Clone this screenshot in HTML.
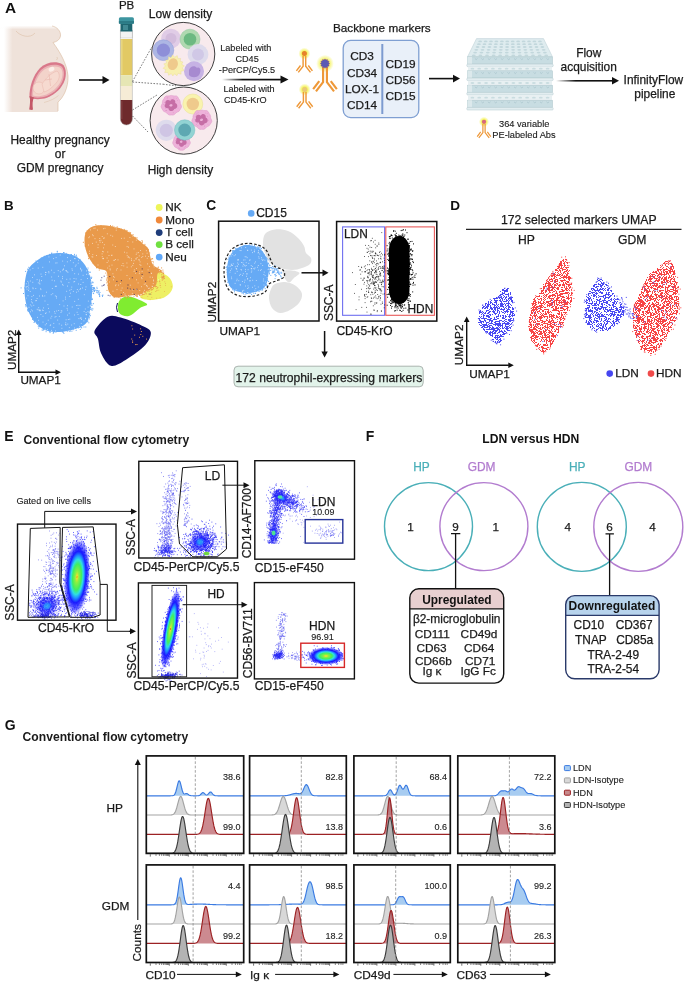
<!DOCTYPE html>
<html><head><meta charset="utf-8"><title>Figure</title>
<style>html,body{margin:0;padding:0;background:#fff;}body{width:685px;height:982px;overflow:hidden;font-family:"Liberation Sans",sans-serif;}svg{display:block;will-change:transform;}</style>
</head><body>
<svg width="685" height="982" viewBox="0 0 685 982" font-family="Liberation Sans, sans-serif">
<text x="5" y="13.2" font-size="15.42" font-weight="bold" fill="#111">A</text>
<defs>
<linearGradient id="bodyL" x1="0" x2="1" y1="0" y2="0"><stop offset="0" stop-color="#fff"/><stop offset="0.13" stop-color="#efe2da"/><stop offset="1" stop-color="#efe2da"/></linearGradient>
<linearGradient id="bodyB" x1="0" x2="0" y1="0" y2="1"><stop offset="0" stop-color="#fff" stop-opacity="0"/><stop offset="0.78" stop-color="#fff" stop-opacity="0"/><stop offset="1" stop-color="#fff" stop-opacity="1"/></linearGradient>
<linearGradient id="bodyT" x1="0" x2="0" y1="0" y2="1"><stop offset="0" stop-color="#fff" stop-opacity="1"/><stop offset="1" stop-color="#fff" stop-opacity="0"/></linearGradient>
<linearGradient id="fadeArrow" x1="0" x2="1" y1="0" y2="0"><stop offset="0" stop-color="#111" stop-opacity="0"/><stop offset="0.35" stop-color="#111" stop-opacity="1"/><stop offset="1" stop-color="#111"/></linearGradient>
<radialGradient id="glow"><stop offset="0.35" stop-color="#f2f23a" stop-opacity="1"/><stop offset="1" stop-color="#f4f04a" stop-opacity="0"/></radialGradient>
</defs>
<path d="M4,26 L52,26 C57,27 61,31 60.5,36 C60,40 56,42 53,42.5 C60,52 67,64 68,76 C68.5,88 63,98 58,102 L58,112 L4,112 Z" fill="url(#bodyL)"/>
<rect x="0" y="25.5" width="62" height="4" fill="url(#bodyT)"/>
<path d="M52,26 C57,27 61,31 60.5,36 C60,40 56,42 53,42.5 C60,52 67,64 68,76 C68.5,88 63,98 58,102 L58,111" fill="none" stroke="#d9b89c" stroke-width="0.6"/>
<path d="M16,31 C20,36 30,39 35,33" fill="none" stroke="#d9b89c" stroke-width="0.5"/>
<path d="M57,57 q1,2 -0.5,3" fill="none" stroke="#d9b89c" stroke-width="0.5"/>
<path d="M29.5,97.5 C29,88 33,75 40,68 C46,62 56,61 62,64 C66.5,67 66.5,75 64.8,80 C62,88 56,94 47,97.8 C40,100 33,99.5 29.5,97.5 Z" fill="#d9788a"/>
<path d="M31.5,96.5 C31.5,88 35,76 41,70 C46.5,64.5 55.5,63.5 60.8,66 C64.5,68.5 64.5,75 63,79.5 C60.5,87 55,92.5 47,96 C40.5,98.2 34.5,98 31.5,96.5 Z" fill="#eab0b4"/>
<path d="M33,95.5 C33,88 36.5,77 42,71.5 C47,66.5 55,65.5 59.8,67.5 C63,69.5 63,75 61.6,79 C59.2,86 54,91 46.5,94.5 C40.5,96.6 35.5,96.6 33,95.5 Z" fill="#f3d3ca"/>
<circle cx="39" cy="88" r="6" fill="#f6dad0" stroke="#e9b6ac" stroke-width="0.5"/>
<path d="M42,84 C46,78 51,73 57,71 C60,73 60,78 57,82 C53,87 48,91 44,92 Z" fill="#f6dad0" stroke="#e9b6ac" stroke-width="0.5"/>
<path d="M49,74 L50.5,86 M45,80 L52,79" fill="none" stroke="#e9b6ac" stroke-width="0.6"/>
<ellipse cx="51.5" cy="69.3" rx="3" ry="2.2" fill="#fbeee8" transform="rotate(-25 51.5 69.3)"/>
<path d="M29.5,96 C30.5,100 30,105 29.2,109.5 L31.8,110 L33,109.5 C32.2,105 32.5,100 34,97.5 Z" fill="#c45868"/>
<path d="M44,102.5 C50,101 55,98.5 58.5,95.5" fill="none" stroke="#dcc0a8" stroke-width="0.5"/>
<path d="M0,104 L70,104 L70,114 L0,114Z" fill="url(#bodyB)"/>
<rect x="0" y="104" width="70" height="10" fill="url(#bodyB)"/>
<text x="60.1" y="144.0" font-size="11.92" text-anchor="middle" fill="#1a1a1a" stroke="#1a1a1a" stroke-width="0.25">Healthy pregnancy</text>
<text x="60.1" y="158.3" font-size="11.92" text-anchor="middle" fill="#1a1a1a" stroke="#1a1a1a" stroke-width="0.25">or</text>
<text x="60.1" y="172.3" font-size="11.92" text-anchor="middle" fill="#1a1a1a" stroke="#1a1a1a" stroke-width="0.25">GDM pregnancy</text>
<line x1="79.0" y1="80.0" x2="103.0" y2="80.0" stroke="#111" stroke-width="1.6"/><path d="M109.5,80.0L102.5,84.0L102.5,76.0Z" fill="#111"/>
<text x="126.6" y="9.3" font-size="11.51" text-anchor="middle" fill="#1a1a1a" stroke="#1a1a1a" stroke-width="0.25">PB</text>
<rect x="120.2" y="30" width="12.4" height="8" fill="#f3f3f3" stroke="#bbb" stroke-width="0.4"/>
<rect x="120.4" y="39" width="12" height="36.2" fill="#e2c964"/>
<rect x="121.3" y="39.5" width="1.1" height="35" fill="#ecdc8c"/>
<rect x="120.4" y="75.2" width="12" height="10.8" fill="#e6e6b4"/>
<rect x="120.4" y="86" width="12" height="14" fill="#f6ecd6"/>
<path d="M120.4,100 L132.4,100 L132.4,119 A6,6 0 0 1 120.4,119 Z" fill="#6e2a2c"/>
<rect x="121.5" y="101" width="0.8" height="18" fill="#8c4a4c"/>
<path d="M120.4,30 L120.4,119 A6,6 0 0 0 132.4,119 L132.4,30" fill="none" stroke="#a9a9a9" stroke-width="0.5"/>
<rect x="120.5" y="22" width="11.8" height="9.5" fill="#1f6670"/>
<rect x="123" y="25" width="5" height="5" fill="#4a949c" opacity="0.8"/>
<rect x="118.9" y="17.2" width="15" height="6.5" rx="1.5" fill="#3d95a0"/>
<rect x="118.9" y="21" width="15" height="2.7" fill="#2c7b86"/>
<line x1="132.5" y1="81.5" x2="151.8" y2="47" stroke="#444" stroke-width="0.7" stroke-dasharray="1.6,1.4"/>
<line x1="132.5" y1="82" x2="163" y2="84.2" stroke="#444" stroke-width="0.7" stroke-dasharray="1.6,1.4"/>
<line x1="132.5" y1="110" x2="157" y2="95" stroke="#444" stroke-width="0.7" stroke-dasharray="1.6,1.4"/>
<line x1="132.5" y1="116" x2="148" y2="132" stroke="#444" stroke-width="0.7" stroke-dasharray="1.6,1.4"/>
<line x1="163" y1="84.2" x2="176" y2="85.8" stroke="#444" stroke-width="0.7" stroke-dasharray="1.6,1.4"/>
<circle cx="183.2" cy="54" r="31.6" fill="#f8eaed" stroke="#2a2a2a" stroke-width="0.9"/>
<circle cx="183.7" cy="120.6" r="33.6" fill="#f8eaed" stroke="#2a2a2a" stroke-width="0.9"/>
<circle cx="171" cy="38.5" r="9.8" fill="#e0cce6"/><circle cx="171" cy="38.5" r="5.5" fill="#d3bcdc"/>
<circle cx="190" cy="39.2" r="10" fill="#afd9b0" stroke="#8cc79a" stroke-width="0.5"/><circle cx="190" cy="39.2" r="6.3" fill="#6cb982"/>
<circle cx="163.4" cy="50.2" r="10.4" fill="#adb6e4" stroke="#8d9bd8" stroke-width="0.5"/><circle cx="163.4" cy="50.2" r="6.6" fill="#8e8fd8"/>
<circle cx="198" cy="54.5" r="10.4" fill="#dedbec"/><circle cx="198" cy="54.5" r="6" fill="#d0c8e6"/>
<path d="M184.4,66.0 L182.3,67.8 L184.0,70.6 L181.0,71.2 L181.1,74.2 L178.0,73.3 L177.0,75.7 L174.6,73.9 L172.8,75.9 L171.3,73.7 L168.5,75.2 L168.0,72.5 L164.7,72.6 L165.7,69.6 L163.1,68.3 L165.4,66.0 L163.8,63.9 L166.6,62.8 L165.7,60.1 L168.4,60.0 L168.5,56.8 L171.1,57.7 L172.6,54.9 L174.7,57.2 L177.2,55.6 L178.0,58.7 L180.6,58.4 L180.2,61.3 L182.9,61.9 L181.7,64.3Z" fill="#f8f0b0" stroke="#e8d890" stroke-width="0.4"/>
<ellipse cx="172.8" cy="64.2" rx="5" ry="6" fill="#efca8c" transform="rotate(20 172.8 64.2)"/>
<circle cx="194" cy="71.3" r="10" fill="#c6b2e4"/>
<path d="M189,70 C190,66 195,65 197,68 C200,66 202,71 199,75 C197,78 191,78 189,75 Z" fill="#a78ad0"/>
<path d="M181.1,105.0 L181.6,106.8 L180.8,108.5 L179.9,109.9 L178.9,111.4 L177.3,112.1 L175.9,112.9 L174.7,114.3 L173.1,115.1 L171.3,115.0 L169.5,115.1 L167.9,114.3 L166.7,112.9 L165.3,112.1 L163.7,111.4 L162.7,109.9 L161.8,108.5 L161.0,106.8 L161.5,105.0 L162.3,103.4 L162.4,101.7 L162.9,100.1 L163.9,98.8 L164.7,97.1 L166.1,95.9 L168.0,95.9 L169.7,95.8 L171.3,95.4 L172.9,95.8 L174.6,95.9 L176.5,95.9 L177.9,97.1 L178.7,98.8 L179.7,100.1 L180.2,101.7 L180.3,103.4Z" fill="#eeb2da" stroke="#dc96c6" stroke-width="0.5"/><circle cx="171.3" cy="100.3" r="0.45" fill="#d890c0"/><circle cx="172.9" cy="102.6" r="0.45" fill="#d890c0"/><circle cx="163.9" cy="104.5" r="0.45" fill="#d890c0"/><circle cx="178.0" cy="108.1" r="0.45" fill="#d890c0"/><circle cx="164.6" cy="102.5" r="0.45" fill="#d890c0"/><circle cx="173.2" cy="112.8" r="0.45" fill="#d890c0"/><circle cx="169.2" cy="104.4" r="0.45" fill="#d890c0"/><circle cx="171.5" cy="108.0" r="0.45" fill="#d890c0"/><circle cx="173.9" cy="98.0" r="0.45" fill="#d890c0"/><circle cx="167.8" cy="97.7" r="0.45" fill="#d890c0"/><circle cx="165.6" cy="110.4" r="0.45" fill="#d890c0"/><circle cx="175.8" cy="106.4" r="0.45" fill="#d890c0"/><circle cx="174.0" cy="102.0" r="0.45" fill="#d890c0"/><circle cx="171.5" cy="102.1" r="0.45" fill="#d890c0"/><circle cx="176.3" cy="98.6" r="0.45" fill="#d890c0"/><circle cx="172.1" cy="99.9" r="0.45" fill="#d890c0"/><circle cx="166.7" cy="110.3" r="0.45" fill="#d890c0"/><circle cx="172.1" cy="104.5" r="0.45" fill="#d890c0"/><circle cx="171.0" cy="99.2" r="0.45" fill="#d890c0"/><circle cx="169.0" cy="108.8" r="0.45" fill="#d890c0"/><circle cx="172.7" cy="100.2" r="0.45" fill="#d890c0"/><circle cx="167.1" cy="98.1" r="0.45" fill="#d890c0"/><circle cx="176.0" cy="106.5" r="0.45" fill="#d890c0"/><circle cx="170.8" cy="109.8" r="0.45" fill="#d890c0"/><circle cx="167.8" cy="100.1" r="0.45" fill="#d890c0"/><circle cx="170.2" cy="101.8" r="0.45" fill="#d890c0"/><circle cx="165.8" cy="108.6" r="0.45" fill="#d890c0"/><circle cx="174.0" cy="104.9" r="0.45" fill="#d890c0"/><circle cx="166.6" cy="110.5" r="0.45" fill="#d890c0"/><circle cx="177.6" cy="100.6" r="0.45" fill="#d890c0"/><circle cx="166.9" cy="102.1" r="0.45" fill="#d890c0"/><g transform="translate(171.3,105) scale(0.98)"><path d="M-6,-1 C-7,-5 -3,-6 -1,-4 C0,-7 5,-6 4,-2 C7,-1 7,4 3,4 C2,7 -3,7 -3,3 C-6,4 -8,1 -6,-1Z M-2,0 C0,-2 2,-1 1,1 C0,2 -2,2 -2,0Z" fill="#c66ea6" fill-rule="evenodd"/></g>
<circle cx="192.8" cy="104" r="10" fill="#f9f3ae" stroke="#e8e090" stroke-width="0.5"/><circle cx="192.8" cy="104" r="6.2" fill="#efca8c"/>
<path d="M211.4,119.5 L211.9,121.3 L211.1,122.9 L210.2,124.3 L209.2,125.7 L207.6,126.5 L206.3,127.2 L205.1,128.7 L203.5,129.4 L201.8,129.3 L200.1,129.4 L198.5,128.7 L197.3,127.2 L196.0,126.5 L194.4,125.7 L193.4,124.3 L192.5,122.9 L191.7,121.3 L192.2,119.5 L193.0,117.9 L193.0,116.3 L193.6,114.7 L194.5,113.4 L195.3,111.8 L196.7,110.6 L198.6,110.6 L200.2,110.4 L201.8,110.1 L203.4,110.4 L205.0,110.6 L206.9,110.6 L208.3,111.8 L209.1,113.4 L210.0,114.7 L210.6,116.3 L210.6,117.9Z" fill="#eeb2da" stroke="#dc96c6" stroke-width="0.5"/><circle cx="198.1" cy="112.4" r="0.45" fill="#d890c0"/><circle cx="208.6" cy="120.3" r="0.45" fill="#d890c0"/><circle cx="199.4" cy="121.6" r="0.45" fill="#d890c0"/><circle cx="200.8" cy="116.8" r="0.45" fill="#d890c0"/><circle cx="198.9" cy="121.7" r="0.45" fill="#d890c0"/><circle cx="205.6" cy="117.2" r="0.45" fill="#d890c0"/><circle cx="195.2" cy="116.7" r="0.45" fill="#d890c0"/><circle cx="200.3" cy="117.9" r="0.45" fill="#d890c0"/><circle cx="197.9" cy="125.8" r="0.45" fill="#d890c0"/><circle cx="207.1" cy="113.6" r="0.45" fill="#d890c0"/><circle cx="205.5" cy="113.1" r="0.45" fill="#d890c0"/><circle cx="202.5" cy="120.4" r="0.45" fill="#d890c0"/><circle cx="204.3" cy="126.6" r="0.45" fill="#d890c0"/><circle cx="204.8" cy="125.8" r="0.45" fill="#d890c0"/><circle cx="206.1" cy="122.6" r="0.45" fill="#d890c0"/><circle cx="196.4" cy="124.2" r="0.45" fill="#d890c0"/><circle cx="203.7" cy="122.3" r="0.45" fill="#d890c0"/><circle cx="196.3" cy="114.0" r="0.45" fill="#d890c0"/><circle cx="200.9" cy="119.0" r="0.45" fill="#d890c0"/><circle cx="207.9" cy="124.1" r="0.45" fill="#d890c0"/><circle cx="205.8" cy="122.9" r="0.45" fill="#d890c0"/><circle cx="199.6" cy="123.5" r="0.45" fill="#d890c0"/><circle cx="196.6" cy="115.9" r="0.45" fill="#d890c0"/><circle cx="196.3" cy="115.6" r="0.45" fill="#d890c0"/><circle cx="197.9" cy="113.9" r="0.45" fill="#d890c0"/><circle cx="199.6" cy="117.8" r="0.45" fill="#d890c0"/><circle cx="195.1" cy="119.5" r="0.45" fill="#d890c0"/><circle cx="207.5" cy="116.2" r="0.45" fill="#d890c0"/><circle cx="203.9" cy="121.1" r="0.45" fill="#d890c0"/><circle cx="196.6" cy="121.1" r="0.45" fill="#d890c0"/><circle cx="201.8" cy="115.5" r="0.45" fill="#d890c0"/><circle cx="195.3" cy="121.4" r="0.45" fill="#d890c0"/><circle cx="203.5" cy="117.3" r="0.45" fill="#d890c0"/><circle cx="197.7" cy="123.1" r="0.45" fill="#d890c0"/><g transform="translate(201.8,119.5) scale(0.96)"><path d="M-6,-1 C-7,-5 -3,-6 -1,-4 C0,-7 5,-6 4,-2 C7,-1 7,4 3,4 C2,7 -3,7 -3,3 C-6,4 -8,1 -6,-1Z M-2,0 C0,-2 2,-1 1,1 C0,2 -2,2 -2,0Z" fill="#c66ea6" fill-rule="evenodd"/></g>
<path d="M190.0,141.5 L190.4,143.1 L189.7,144.5 L188.9,145.8 L188.1,147.0 L186.7,147.7 L185.5,148.4 L184.4,149.6 L183.0,150.2 L181.5,150.2 L180.0,150.2 L178.6,149.6 L177.5,148.4 L176.3,147.7 L174.9,147.0 L174.1,145.8 L173.3,144.5 L172.6,143.1 L173.0,141.5 L173.7,140.1 L173.8,138.7 L174.2,137.3 L175.1,136.1 L175.8,134.6 L177.0,133.6 L178.6,133.6 L180.1,133.5 L181.5,133.2 L182.9,133.5 L184.4,133.6 L186.0,133.6 L187.2,134.6 L187.9,136.1 L188.8,137.3 L189.2,138.7 L189.3,140.1Z" fill="#eeb2da" stroke="#dc96c6" stroke-width="0.5"/><circle cx="178.6" cy="139.7" r="0.45" fill="#d890c0"/><circle cx="185.6" cy="135.9" r="0.45" fill="#d890c0"/><circle cx="180.3" cy="143.1" r="0.45" fill="#d890c0"/><circle cx="182.2" cy="140.9" r="0.45" fill="#d890c0"/><circle cx="183.9" cy="140.5" r="0.45" fill="#d890c0"/><circle cx="181.7" cy="146.3" r="0.45" fill="#d890c0"/><circle cx="178.2" cy="136.6" r="0.45" fill="#d890c0"/><circle cx="188.0" cy="143.1" r="0.45" fill="#d890c0"/><circle cx="176.0" cy="140.3" r="0.45" fill="#d890c0"/><circle cx="179.1" cy="141.9" r="0.45" fill="#d890c0"/><circle cx="182.2" cy="141.5" r="0.45" fill="#d890c0"/><circle cx="176.8" cy="141.7" r="0.45" fill="#d890c0"/><circle cx="185.6" cy="146.4" r="0.45" fill="#d890c0"/><circle cx="185.4" cy="137.0" r="0.45" fill="#d890c0"/><circle cx="183.4" cy="134.9" r="0.45" fill="#d890c0"/><circle cx="185.0" cy="141.0" r="0.45" fill="#d890c0"/><circle cx="178.8" cy="148.0" r="0.45" fill="#d890c0"/><circle cx="183.5" cy="135.3" r="0.45" fill="#d890c0"/><circle cx="179.3" cy="148.2" r="0.45" fill="#d890c0"/><circle cx="184.9" cy="142.0" r="0.45" fill="#d890c0"/><circle cx="179.9" cy="136.3" r="0.45" fill="#d890c0"/><circle cx="176.8" cy="140.4" r="0.45" fill="#d890c0"/><circle cx="186.6" cy="137.5" r="0.45" fill="#d890c0"/><circle cx="184.1" cy="144.4" r="0.45" fill="#d890c0"/><circle cx="184.8" cy="142.1" r="0.45" fill="#d890c0"/><circle cx="182.3" cy="138.6" r="0.45" fill="#d890c0"/><circle cx="185.3" cy="138.2" r="0.45" fill="#d890c0"/><circle cx="180.8" cy="146.5" r="0.45" fill="#d890c0"/><circle cx="182.4" cy="145.1" r="0.45" fill="#d890c0"/><circle cx="175.6" cy="140.6" r="0.45" fill="#d890c0"/><circle cx="182.2" cy="140.2" r="0.45" fill="#d890c0"/><circle cx="185.8" cy="144.7" r="0.45" fill="#d890c0"/><circle cx="184.3" cy="147.9" r="0.45" fill="#d890c0"/><circle cx="185.6" cy="135.8" r="0.45" fill="#d890c0"/><circle cx="181.4" cy="136.9" r="0.45" fill="#d890c0"/><circle cx="186.7" cy="139.6" r="0.45" fill="#d890c0"/><circle cx="176.2" cy="141.6" r="0.45" fill="#d890c0"/><g transform="translate(181.5,141.5) scale(0.85)"><path d="M-6,-1 C-7,-5 -3,-6 -1,-4 C0,-7 5,-6 4,-2 C7,-1 7,4 3,4 C2,7 -3,7 -3,3 C-6,4 -8,1 -6,-1Z M-2,0 C0,-2 2,-1 1,1 C0,2 -2,2 -2,0Z" fill="#c66ea6" fill-rule="evenodd"/></g>
<circle cx="166.3" cy="130.3" r="10.6" fill="#dedbec"/><circle cx="166.3" cy="130.3" r="6.6" fill="#cfc5e4"/>
<circle cx="184.7" cy="130" r="10.2" fill="#92d3d3" stroke="#70bcc0" stroke-width="0.5"/><circle cx="184.7" cy="130" r="6.4" fill="#5ea8b2"/>
<text x="180.6" y="17.9" font-size="12.03" text-anchor="middle" fill="#1a1a1a" stroke="#1a1a1a" stroke-width="0.25">Low density</text>
<text x="180.4" y="174.3" font-size="11.92" text-anchor="middle" fill="#1a1a1a" stroke="#1a1a1a" stroke-width="0.25">High density</text>
<text x="245.8" y="51.4" font-size="9.15" text-anchor="middle" fill="#1a1a1a" stroke="#1a1a1a" stroke-width="0.12">Labeled with</text>
<text x="247.1" y="62.3" font-size="9.15" text-anchor="middle" fill="#1a1a1a" stroke="#1a1a1a" stroke-width="0.12">CD45</text>
<text x="247" y="73" font-size="9.15" text-anchor="middle" fill="#1a1a1a" stroke="#1a1a1a" stroke-width="0.12">-PerCP/Cy5.5</text>
<text x="249" y="92.2" font-size="9.15" text-anchor="middle" fill="#1a1a1a" stroke="#1a1a1a" stroke-width="0.12">Labeled with</text>
<text x="224" y="102.7" font-size="9.15" fill="#1a1a1a" stroke="#1a1a1a" stroke-width="0.12">CD45-KrO</text>
<rect x="222.0" y="78.75" width="59.0" height="1.7" fill="url(#fadeArrow)"/><path d="M288.5,79.6L280.5,83.6L280.5,75.6Z" fill="#111"/>
<g transform="translate(304.4,53.6) scale(1)"><circle cx="0" cy="0" r="6" fill="url(#glow)"/><path d="M-1.3,2.4 L-1.3,12.6 L-6.1,18.8 M1.3,2.4 L1.3,12.6 L6.1,18.8 M-3.9,11.9 L-8,17.3 M3.9,11.9 L8,17.3" fill="none" stroke="#ee9838" stroke-width="1.45"/><circle cx="0" cy="0" r="2.5" fill="#e6822c"/></g>
<g transform="translate(325,63.6) scale(1.48)"><circle cx="0" cy="0" r="6" fill="url(#glow)"/><path d="M-1.3,2.4 L-1.3,12.6 L-6.1,18.8 M1.3,2.4 L1.3,12.6 L6.1,18.8 M-3.9,11.9 L-8,17.3 M3.9,11.9 L8,17.3" fill="none" stroke="#ee9838" stroke-width="1.45"/><path d="M3.20,0.00 L2.41,0.65 L2.77,1.60 L1.77,1.77 L1.60,2.77 L0.65,2.41 L0.00,3.20 L-0.65,2.41 L-1.60,2.77 L-1.77,1.77 L-2.77,1.60 L-2.41,0.65 L-3.20,0.00 L-2.41,-0.65 L-2.77,-1.60 L-1.77,-1.77 L-1.60,-2.77 L-0.65,-2.41 L-0.00,-3.20 L0.65,-2.41 L1.60,-2.77 L1.77,-1.77 L2.77,-1.60 L2.41,-0.65Z" fill="#5a5ab4" stroke="#8a4a8a" stroke-width="0.3"/></g>
<g transform="translate(304.7,89.5) scale(1)"><circle cx="0" cy="0" r="6" fill="url(#glow)"/><path d="M-1.3,2.4 L-1.3,12.6 L-6.1,18.8 M1.3,2.4 L1.3,12.6 L6.1,18.8 M-3.9,11.9 L-8,17.3 M3.9,11.9 L8,17.3" fill="none" stroke="#ee9838" stroke-width="1.45"/><circle cx="0" cy="0" r="2.5" fill="#e9c878"/></g>
<text x="333" y="32.2" font-size="11.72" fill="#1a1a1a" stroke="#1a1a1a" stroke-width="0.25">Backbone markers</text>
<rect x="343.2" y="40.4" width="75.6" height="77.2" rx="7.5" fill="#e9f0f9" stroke="#7f9fd2" stroke-width="1.3"/>
<line x1="382.3" y1="44" x2="382.3" y2="114" stroke="#7d9bd0" stroke-width="2"/>
<text x="362" y="59.8" font-size="11.82" text-anchor="middle" fill="#1a1a1a" stroke="#1a1a1a" stroke-width="0.25">CD3</text>
<text x="362" y="77" font-size="11.82" text-anchor="middle" fill="#1a1a1a" stroke="#1a1a1a" stroke-width="0.25">CD34</text>
<text x="362" y="92.7" font-size="11.82" text-anchor="middle" fill="#1a1a1a" stroke="#1a1a1a" stroke-width="0.25">LOX-1</text>
<text x="362" y="108.6" font-size="11.82" text-anchor="middle" fill="#1a1a1a" stroke="#1a1a1a" stroke-width="0.25">CD14</text>
<text x="400.5" y="67.6" font-size="11.82" text-anchor="middle" fill="#1a1a1a" stroke="#1a1a1a" stroke-width="0.25">CD19</text>
<text x="400.5" y="83.8" font-size="11.82" text-anchor="middle" fill="#1a1a1a" stroke="#1a1a1a" stroke-width="0.25">CD56</text>
<text x="400.5" y="100.2" font-size="11.82" text-anchor="middle" fill="#1a1a1a" stroke="#1a1a1a" stroke-width="0.25">CD15</text>
<line x1="429.0" y1="78.6" x2="453.5" y2="78.6" stroke="#111" stroke-width="1.6"/><path d="M460.0,78.6L453.0,82.4L453.0,74.8Z" fill="#111"/>
<path d="M476.5,38.6 L543.5,38.6 L552.5,56.9 L467.5,56.9Z" fill="#dfecef" stroke="#b8cdd2" stroke-width="0.5"/><ellipse cx="480.1" cy="41.4" rx="1.9" ry="0.9" fill="#c2d7dc"/><ellipse cx="485.6" cy="41.4" rx="1.9" ry="0.9" fill="#c2d7dc"/><ellipse cx="491.0" cy="41.4" rx="1.9" ry="0.9" fill="#c2d7dc"/><ellipse cx="496.4" cy="41.4" rx="1.9" ry="0.9" fill="#c2d7dc"/><ellipse cx="501.9" cy="41.4" rx="1.9" ry="0.9" fill="#c2d7dc"/><ellipse cx="507.3" cy="41.4" rx="1.9" ry="0.9" fill="#c2d7dc"/><ellipse cx="512.7" cy="41.4" rx="1.9" ry="0.9" fill="#c2d7dc"/><ellipse cx="518.1" cy="41.4" rx="1.9" ry="0.9" fill="#c2d7dc"/><ellipse cx="523.6" cy="41.4" rx="1.9" ry="0.9" fill="#c2d7dc"/><ellipse cx="529.0" cy="41.4" rx="1.9" ry="0.9" fill="#c2d7dc"/><ellipse cx="534.4" cy="41.4" rx="1.9" ry="0.9" fill="#c2d7dc"/><ellipse cx="539.9" cy="41.4" rx="1.9" ry="0.9" fill="#c2d7dc"/><ellipse cx="478.9" cy="44.2" rx="1.9" ry="0.9" fill="#c2d7dc"/><ellipse cx="484.5" cy="44.2" rx="1.9" ry="0.9" fill="#c2d7dc"/><ellipse cx="490.2" cy="44.2" rx="1.9" ry="0.9" fill="#c2d7dc"/><ellipse cx="495.9" cy="44.2" rx="1.9" ry="0.9" fill="#c2d7dc"/><ellipse cx="501.5" cy="44.2" rx="1.9" ry="0.9" fill="#c2d7dc"/><ellipse cx="507.2" cy="44.2" rx="1.9" ry="0.9" fill="#c2d7dc"/><ellipse cx="512.8" cy="44.2" rx="1.9" ry="0.9" fill="#c2d7dc"/><ellipse cx="518.5" cy="44.2" rx="1.9" ry="0.9" fill="#c2d7dc"/><ellipse cx="524.1" cy="44.2" rx="1.9" ry="0.9" fill="#c2d7dc"/><ellipse cx="529.8" cy="44.2" rx="1.9" ry="0.9" fill="#c2d7dc"/><ellipse cx="535.5" cy="44.2" rx="1.9" ry="0.9" fill="#c2d7dc"/><ellipse cx="541.1" cy="44.2" rx="1.9" ry="0.9" fill="#c2d7dc"/><ellipse cx="477.6" cy="47.0" rx="1.9" ry="0.9" fill="#c2d7dc"/><ellipse cx="483.5" cy="47.0" rx="1.9" ry="0.9" fill="#c2d7dc"/><ellipse cx="489.4" cy="47.0" rx="1.9" ry="0.9" fill="#c2d7dc"/><ellipse cx="495.3" cy="47.0" rx="1.9" ry="0.9" fill="#c2d7dc"/><ellipse cx="501.2" cy="47.0" rx="1.9" ry="0.9" fill="#c2d7dc"/><ellipse cx="507.1" cy="47.0" rx="1.9" ry="0.9" fill="#c2d7dc"/><ellipse cx="512.9" cy="47.0" rx="1.9" ry="0.9" fill="#c2d7dc"/><ellipse cx="518.8" cy="47.0" rx="1.9" ry="0.9" fill="#c2d7dc"/><ellipse cx="524.7" cy="47.0" rx="1.9" ry="0.9" fill="#c2d7dc"/><ellipse cx="530.6" cy="47.0" rx="1.9" ry="0.9" fill="#c2d7dc"/><ellipse cx="536.5" cy="47.0" rx="1.9" ry="0.9" fill="#c2d7dc"/><ellipse cx="542.4" cy="47.0" rx="1.9" ry="0.9" fill="#c2d7dc"/><ellipse cx="476.3" cy="49.8" rx="1.9" ry="0.9" fill="#c2d7dc"/><ellipse cx="482.5" cy="49.8" rx="1.9" ry="0.9" fill="#c2d7dc"/><ellipse cx="488.6" cy="49.8" rx="1.9" ry="0.9" fill="#c2d7dc"/><ellipse cx="494.7" cy="49.8" rx="1.9" ry="0.9" fill="#c2d7dc"/><ellipse cx="500.8" cy="49.8" rx="1.9" ry="0.9" fill="#c2d7dc"/><ellipse cx="506.9" cy="49.8" rx="1.9" ry="0.9" fill="#c2d7dc"/><ellipse cx="513.1" cy="49.8" rx="1.9" ry="0.9" fill="#c2d7dc"/><ellipse cx="519.2" cy="49.8" rx="1.9" ry="0.9" fill="#c2d7dc"/><ellipse cx="525.3" cy="49.8" rx="1.9" ry="0.9" fill="#c2d7dc"/><ellipse cx="531.4" cy="49.8" rx="1.9" ry="0.9" fill="#c2d7dc"/><ellipse cx="537.5" cy="49.8" rx="1.9" ry="0.9" fill="#c2d7dc"/><ellipse cx="543.7" cy="49.8" rx="1.9" ry="0.9" fill="#c2d7dc"/><ellipse cx="475.1" cy="52.6" rx="1.9" ry="0.9" fill="#c2d7dc"/><ellipse cx="481.4" cy="52.6" rx="1.9" ry="0.9" fill="#c2d7dc"/><ellipse cx="487.8" cy="52.6" rx="1.9" ry="0.9" fill="#c2d7dc"/><ellipse cx="494.1" cy="52.6" rx="1.9" ry="0.9" fill="#c2d7dc"/><ellipse cx="500.5" cy="52.6" rx="1.9" ry="0.9" fill="#c2d7dc"/><ellipse cx="506.8" cy="52.6" rx="1.9" ry="0.9" fill="#c2d7dc"/><ellipse cx="513.2" cy="52.6" rx="1.9" ry="0.9" fill="#c2d7dc"/><ellipse cx="519.5" cy="52.6" rx="1.9" ry="0.9" fill="#c2d7dc"/><ellipse cx="525.9" cy="52.6" rx="1.9" ry="0.9" fill="#c2d7dc"/><ellipse cx="532.2" cy="52.6" rx="1.9" ry="0.9" fill="#c2d7dc"/><ellipse cx="538.6" cy="52.6" rx="1.9" ry="0.9" fill="#c2d7dc"/><ellipse cx="544.9" cy="52.6" rx="1.9" ry="0.9" fill="#c2d7dc"/><ellipse cx="473.8" cy="55.4" rx="1.9" ry="0.9" fill="#c2d7dc"/><ellipse cx="480.4" cy="55.4" rx="1.9" ry="0.9" fill="#c2d7dc"/><ellipse cx="487.0" cy="55.4" rx="1.9" ry="0.9" fill="#c2d7dc"/><ellipse cx="493.6" cy="55.4" rx="1.9" ry="0.9" fill="#c2d7dc"/><ellipse cx="500.1" cy="55.4" rx="1.9" ry="0.9" fill="#c2d7dc"/><ellipse cx="506.7" cy="55.4" rx="1.9" ry="0.9" fill="#c2d7dc"/><ellipse cx="513.3" cy="55.4" rx="1.9" ry="0.9" fill="#c2d7dc"/><ellipse cx="519.9" cy="55.4" rx="1.9" ry="0.9" fill="#c2d7dc"/><ellipse cx="526.4" cy="55.4" rx="1.9" ry="0.9" fill="#c2d7dc"/><ellipse cx="533.0" cy="55.4" rx="1.9" ry="0.9" fill="#c2d7dc"/><ellipse cx="539.6" cy="55.4" rx="1.9" ry="0.9" fill="#c2d7dc"/><ellipse cx="546.2" cy="55.4" rx="1.9" ry="0.9" fill="#c2d7dc"/><rect x="467.5" y="56.9" width="85" height="7.2" fill="#c8dde2" stroke="#a9c4ca" stroke-width="0.5"/><rect x="467.5" y="56.9" width="4.5" height="7.2" fill="#dce9ec"/><path d="M474.9,58.5 q1.3,2.2 2.6,0" fill="none" stroke="#9dbcc4" stroke-width="0.55"/><path d="M481.4,58.5 q1.3,2.2 2.6,0" fill="none" stroke="#9dbcc4" stroke-width="0.55"/><path d="M487.9,58.5 q1.3,2.2 2.6,0" fill="none" stroke="#9dbcc4" stroke-width="0.55"/><path d="M494.4,58.5 q1.3,2.2 2.6,0" fill="none" stroke="#9dbcc4" stroke-width="0.55"/><path d="M500.9,58.5 q1.3,2.2 2.6,0" fill="none" stroke="#9dbcc4" stroke-width="0.55"/><path d="M507.4,58.5 q1.3,2.2 2.6,0" fill="none" stroke="#9dbcc4" stroke-width="0.55"/><path d="M514.0,58.5 q1.3,2.2 2.6,0" fill="none" stroke="#9dbcc4" stroke-width="0.55"/><path d="M520.5,58.5 q1.3,2.2 2.6,0" fill="none" stroke="#9dbcc4" stroke-width="0.55"/><path d="M527.0,58.5 q1.3,2.2 2.6,0" fill="none" stroke="#9dbcc4" stroke-width="0.55"/><path d="M533.5,58.5 q1.3,2.2 2.6,0" fill="none" stroke="#9dbcc4" stroke-width="0.55"/><path d="M540.0,58.5 q1.3,2.2 2.6,0" fill="none" stroke="#9dbcc4" stroke-width="0.55"/><path d="M546.5,58.5 q1.3,2.2 2.6,0" fill="none" stroke="#9dbcc4" stroke-width="0.55"/><rect x="466.8" y="64.1" width="86.4" height="2.6" rx="1" fill="#e2edf0" stroke="#b2c8ce" stroke-width="0.5"/>
<rect x="468" y="66.6" width="84" height="4.200000000000003" fill="#e8f0f2"/><ellipse cx="472.4" cy="68.7" rx="1.9" ry="0.9" fill="#c9dce0"/><ellipse cx="479.2" cy="68.7" rx="1.9" ry="0.9" fill="#c9dce0"/><ellipse cx="486.1" cy="68.7" rx="1.9" ry="0.9" fill="#c9dce0"/><ellipse cx="492.9" cy="68.7" rx="1.9" ry="0.9" fill="#c9dce0"/><ellipse cx="499.8" cy="68.7" rx="1.9" ry="0.9" fill="#c9dce0"/><ellipse cx="506.6" cy="68.7" rx="1.9" ry="0.9" fill="#c9dce0"/><ellipse cx="513.4" cy="68.7" rx="1.9" ry="0.9" fill="#c9dce0"/><ellipse cx="520.2" cy="68.7" rx="1.9" ry="0.9" fill="#c9dce0"/><ellipse cx="527.1" cy="68.7" rx="1.9" ry="0.9" fill="#c9dce0"/><ellipse cx="533.9" cy="68.7" rx="1.9" ry="0.9" fill="#c9dce0"/><ellipse cx="540.8" cy="68.7" rx="1.9" ry="0.9" fill="#c9dce0"/><ellipse cx="547.6" cy="68.7" rx="1.9" ry="0.9" fill="#c9dce0"/><rect x="467.5" y="70.8" width="85" height="7.2" fill="#c8dde2" stroke="#a9c4ca" stroke-width="0.5"/><rect x="467.5" y="70.8" width="4.5" height="7.2" fill="#dce9ec"/><path d="M474.9,72.4 q1.3,2.2 2.6,0" fill="none" stroke="#9dbcc4" stroke-width="0.55"/><path d="M481.4,72.4 q1.3,2.2 2.6,0" fill="none" stroke="#9dbcc4" stroke-width="0.55"/><path d="M487.9,72.4 q1.3,2.2 2.6,0" fill="none" stroke="#9dbcc4" stroke-width="0.55"/><path d="M494.4,72.4 q1.3,2.2 2.6,0" fill="none" stroke="#9dbcc4" stroke-width="0.55"/><path d="M500.9,72.4 q1.3,2.2 2.6,0" fill="none" stroke="#9dbcc4" stroke-width="0.55"/><path d="M507.4,72.4 q1.3,2.2 2.6,0" fill="none" stroke="#9dbcc4" stroke-width="0.55"/><path d="M514.0,72.4 q1.3,2.2 2.6,0" fill="none" stroke="#9dbcc4" stroke-width="0.55"/><path d="M520.5,72.4 q1.3,2.2 2.6,0" fill="none" stroke="#9dbcc4" stroke-width="0.55"/><path d="M527.0,72.4 q1.3,2.2 2.6,0" fill="none" stroke="#9dbcc4" stroke-width="0.55"/><path d="M533.5,72.4 q1.3,2.2 2.6,0" fill="none" stroke="#9dbcc4" stroke-width="0.55"/><path d="M540.0,72.4 q1.3,2.2 2.6,0" fill="none" stroke="#9dbcc4" stroke-width="0.55"/><path d="M546.5,72.4 q1.3,2.2 2.6,0" fill="none" stroke="#9dbcc4" stroke-width="0.55"/><rect x="466.8" y="78.0" width="86.4" height="2.6" rx="1" fill="#e2edf0" stroke="#b2c8ce" stroke-width="0.5"/>
<rect x="468" y="80.8" width="84" height="4.400000000000006" fill="#e8f0f2"/><ellipse cx="472.4" cy="83.0" rx="1.9" ry="0.9" fill="#c9dce0"/><ellipse cx="479.2" cy="83.0" rx="1.9" ry="0.9" fill="#c9dce0"/><ellipse cx="486.1" cy="83.0" rx="1.9" ry="0.9" fill="#c9dce0"/><ellipse cx="492.9" cy="83.0" rx="1.9" ry="0.9" fill="#c9dce0"/><ellipse cx="499.8" cy="83.0" rx="1.9" ry="0.9" fill="#c9dce0"/><ellipse cx="506.6" cy="83.0" rx="1.9" ry="0.9" fill="#c9dce0"/><ellipse cx="513.4" cy="83.0" rx="1.9" ry="0.9" fill="#c9dce0"/><ellipse cx="520.2" cy="83.0" rx="1.9" ry="0.9" fill="#c9dce0"/><ellipse cx="527.1" cy="83.0" rx="1.9" ry="0.9" fill="#c9dce0"/><ellipse cx="533.9" cy="83.0" rx="1.9" ry="0.9" fill="#c9dce0"/><ellipse cx="540.8" cy="83.0" rx="1.9" ry="0.9" fill="#c9dce0"/><ellipse cx="547.6" cy="83.0" rx="1.9" ry="0.9" fill="#c9dce0"/><rect x="467.5" y="85.2" width="85" height="7.2" fill="#c8dde2" stroke="#a9c4ca" stroke-width="0.5"/><rect x="467.5" y="85.2" width="4.5" height="7.2" fill="#dce9ec"/><path d="M474.9,86.8 q1.3,2.2 2.6,0" fill="none" stroke="#9dbcc4" stroke-width="0.55"/><path d="M481.4,86.8 q1.3,2.2 2.6,0" fill="none" stroke="#9dbcc4" stroke-width="0.55"/><path d="M487.9,86.8 q1.3,2.2 2.6,0" fill="none" stroke="#9dbcc4" stroke-width="0.55"/><path d="M494.4,86.8 q1.3,2.2 2.6,0" fill="none" stroke="#9dbcc4" stroke-width="0.55"/><path d="M500.9,86.8 q1.3,2.2 2.6,0" fill="none" stroke="#9dbcc4" stroke-width="0.55"/><path d="M507.4,86.8 q1.3,2.2 2.6,0" fill="none" stroke="#9dbcc4" stroke-width="0.55"/><path d="M514.0,86.8 q1.3,2.2 2.6,0" fill="none" stroke="#9dbcc4" stroke-width="0.55"/><path d="M520.5,86.8 q1.3,2.2 2.6,0" fill="none" stroke="#9dbcc4" stroke-width="0.55"/><path d="M527.0,86.8 q1.3,2.2 2.6,0" fill="none" stroke="#9dbcc4" stroke-width="0.55"/><path d="M533.5,86.8 q1.3,2.2 2.6,0" fill="none" stroke="#9dbcc4" stroke-width="0.55"/><path d="M540.0,86.8 q1.3,2.2 2.6,0" fill="none" stroke="#9dbcc4" stroke-width="0.55"/><path d="M546.5,86.8 q1.3,2.2 2.6,0" fill="none" stroke="#9dbcc4" stroke-width="0.55"/><rect x="466.8" y="92.4" width="86.4" height="2.6" rx="1" fill="#e2edf0" stroke="#b2c8ce" stroke-width="0.5"/>
<rect x="468" y="95.2" width="84" height="5.0" fill="#e8f0f2"/><ellipse cx="472.4" cy="97.7" rx="1.9" ry="0.9" fill="#c9dce0"/><ellipse cx="479.2" cy="97.7" rx="1.9" ry="0.9" fill="#c9dce0"/><ellipse cx="486.1" cy="97.7" rx="1.9" ry="0.9" fill="#c9dce0"/><ellipse cx="492.9" cy="97.7" rx="1.9" ry="0.9" fill="#c9dce0"/><ellipse cx="499.8" cy="97.7" rx="1.9" ry="0.9" fill="#c9dce0"/><ellipse cx="506.6" cy="97.7" rx="1.9" ry="0.9" fill="#c9dce0"/><ellipse cx="513.4" cy="97.7" rx="1.9" ry="0.9" fill="#c9dce0"/><ellipse cx="520.2" cy="97.7" rx="1.9" ry="0.9" fill="#c9dce0"/><ellipse cx="527.1" cy="97.7" rx="1.9" ry="0.9" fill="#c9dce0"/><ellipse cx="533.9" cy="97.7" rx="1.9" ry="0.9" fill="#c9dce0"/><ellipse cx="540.8" cy="97.7" rx="1.9" ry="0.9" fill="#c9dce0"/><ellipse cx="547.6" cy="97.7" rx="1.9" ry="0.9" fill="#c9dce0"/><rect x="467.5" y="100.2" width="85" height="7.2" fill="#c8dde2" stroke="#a9c4ca" stroke-width="0.5"/><rect x="467.5" y="100.2" width="4.5" height="7.2" fill="#dce9ec"/><path d="M474.9,101.8 q1.3,2.2 2.6,0" fill="none" stroke="#9dbcc4" stroke-width="0.55"/><path d="M481.4,101.8 q1.3,2.2 2.6,0" fill="none" stroke="#9dbcc4" stroke-width="0.55"/><path d="M487.9,101.8 q1.3,2.2 2.6,0" fill="none" stroke="#9dbcc4" stroke-width="0.55"/><path d="M494.4,101.8 q1.3,2.2 2.6,0" fill="none" stroke="#9dbcc4" stroke-width="0.55"/><path d="M500.9,101.8 q1.3,2.2 2.6,0" fill="none" stroke="#9dbcc4" stroke-width="0.55"/><path d="M507.4,101.8 q1.3,2.2 2.6,0" fill="none" stroke="#9dbcc4" stroke-width="0.55"/><path d="M514.0,101.8 q1.3,2.2 2.6,0" fill="none" stroke="#9dbcc4" stroke-width="0.55"/><path d="M520.5,101.8 q1.3,2.2 2.6,0" fill="none" stroke="#9dbcc4" stroke-width="0.55"/><path d="M527.0,101.8 q1.3,2.2 2.6,0" fill="none" stroke="#9dbcc4" stroke-width="0.55"/><path d="M533.5,101.8 q1.3,2.2 2.6,0" fill="none" stroke="#9dbcc4" stroke-width="0.55"/><path d="M540.0,101.8 q1.3,2.2 2.6,0" fill="none" stroke="#9dbcc4" stroke-width="0.55"/><path d="M546.5,101.8 q1.3,2.2 2.6,0" fill="none" stroke="#9dbcc4" stroke-width="0.55"/><rect x="466.8" y="107.4" width="86.4" height="2.6" rx="1" fill="#e2edf0" stroke="#b2c8ce" stroke-width="0.5"/>
<g transform="translate(484,121.8) scale(0.85)"><circle cx="0" cy="0" r="6" fill="url(#glow)"/><path d="M-1.3,2.4 L-1.3,12.6 L-6.1,18.8 M1.3,2.4 L1.3,12.6 L6.1,18.8 M-3.9,11.9 L-8,17.3 M3.9,11.9 L8,17.3" fill="none" stroke="#ee9838" stroke-width="1.45"/><circle cx="0" cy="0" r="2.5" fill="#d8677f"/></g>
<text x="524.2" y="127" font-size="9.25" text-anchor="middle" fill="#1a1a1a" stroke="#1a1a1a" stroke-width="0.12">364 variable</text>
<text x="524" y="137.9" font-size="9.25" text-anchor="middle" fill="#1a1a1a" stroke="#1a1a1a" stroke-width="0.12">PE-labeled Abs</text>
<text x="588.7" y="57.1" font-size="11.92" text-anchor="middle" fill="#1a1a1a" stroke="#1a1a1a" stroke-width="0.25">Flow</text>
<text x="588.7" y="71.3" font-size="11.92" text-anchor="middle" fill="#1a1a1a" stroke="#1a1a1a" stroke-width="0.25">acquisition</text>
<rect x="556.0" y="80.00" width="56.5" height="1.6" fill="url(#fadeArrow)"/><path d="M619.0,80.8L612.0,84.6L612.0,77.0Z" fill="#111"/>
<text x="653.4" y="84" font-size="11.92" text-anchor="middle" fill="#1a1a1a" stroke="#1a1a1a" stroke-width="0.25">InfinityFlow</text>
<text x="654.8" y="97.8" font-size="11.92" text-anchor="middle" fill="#1a1a1a" stroke="#1a1a1a" stroke-width="0.25">pipeline</text>
<text x="4.1" y="209.9" font-size="13.36" font-weight="bold" fill="#111">B</text>
<path d="M60.0,253.0C64.7,253.2 70.8,254.0 75.0,256.0C79.2,258.0 82.3,261.0 85.0,265.0C87.7,269.0 89.8,275.0 91.0,280.0C92.2,285.0 92.2,290.0 92.0,295.0C91.8,300.0 90.8,305.5 90.0,310.0C89.2,314.5 89.0,319.0 87.0,322.0C85.0,325.0 82.5,326.3 78.0,328.0C73.5,329.7 65.5,331.7 60.0,332.0C54.5,332.3 49.2,331.7 45.0,330.0C40.8,328.3 37.8,325.3 35.0,322.0C32.2,318.7 29.8,315.0 28.0,310.0C26.2,305.0 24.7,298.3 24.5,292.0C24.3,285.7 25.2,277.0 27.0,272.0C28.8,267.0 31.7,264.8 35.0,262.0C38.3,259.2 42.8,256.5 47.0,255.0C51.2,253.5 55.3,252.8 60.0,253.0Z" fill="#66aaf5"/>
<path d="M86.5,231.3C88.5,228.4 92.0,226.4 96.3,225.6C100.6,224.8 107.8,225.7 112.6,226.4C117.4,227.1 121.5,228.4 125.0,230.0C128.5,231.6 130.9,234.0 133.7,236.2C136.5,238.4 139.6,240.8 142.0,243.0C144.4,245.2 146.7,245.7 148.4,249.2C150.2,252.7 150.3,260.4 152.5,263.9C154.7,267.4 159.7,268.2 161.4,270.4C163.2,272.6 163.6,274.6 163.0,277.0C162.4,279.4 160.4,282.7 158.0,285.0C155.6,287.3 151.4,289.4 148.4,291.0C145.4,292.6 142.4,293.8 140.0,294.5C137.6,295.2 137.7,294.5 133.7,295.0C129.7,295.5 120.0,298.1 115.8,297.4C111.6,296.6 109.8,293.4 108.5,290.5C107.2,287.6 108.1,283.4 107.7,280.1C107.3,276.9 107.9,273.1 106.0,271.0C104.1,268.9 99.3,270.0 96.3,267.5C93.3,265.0 90.0,260.1 88.1,256.0C86.1,251.9 84.9,247.1 84.6,243.0C84.3,238.9 84.5,234.2 86.5,231.3Z" fill="#e99a4b"/>
<path d="M158.0,273.0C159.7,271.3 163.8,273.8 166.0,275.0C168.2,276.2 169.9,278.0 171.0,280.0C172.1,282.0 173.1,284.7 172.8,287.0C172.5,289.3 170.9,292.1 169.0,294.0C167.1,295.9 164.8,297.5 161.4,298.5C158.0,299.5 152.0,300.2 148.4,300.0C144.8,299.8 140.2,298.5 140.0,297.0C139.8,295.5 144.3,293.0 147.0,291.0C149.7,289.0 154.2,288.0 156.0,285.0C157.8,282.0 156.3,274.7 158.0,273.0Z" fill="#eef064"/>
<path d="M119.1,301.3C120.7,298.6 124.3,296.0 128.9,296.4C133.5,296.8 145.0,301.9 146.8,303.8C148.7,305.7 143.0,306.0 140.0,308.0C137.0,310.0 132.4,315.2 128.9,316.0C125.4,316.8 120.7,315.1 119.1,312.7C117.5,310.2 117.5,304.0 119.1,301.3Z" fill="#80ec30"/>
<path d="M94.7,330.6C96.3,326.9 103.4,319.0 107.7,316.8C112.0,314.6 115.0,316.1 120.7,317.6C126.4,319.1 136.9,323.2 141.9,325.7C146.9,328.1 150.3,329.0 150.8,332.3C151.3,335.6 149.3,340.7 145.1,345.3C140.9,349.9 131.3,356.6 125.6,360.0C119.9,363.4 115.0,366.8 110.9,365.7C106.8,364.6 103.4,357.9 101.2,353.4C99.0,348.9 99.0,342.6 97.9,338.8C96.8,335.0 93.1,334.3 94.7,330.6Z" fill="#0b0a5c"/>
<path d="M56.8 251.3h1m-1 .7h1m5.2 .7h1m-.8 .1h1m-.5 .1h1m-13.4 .2h1m-1.4 .3h1m7.7 0h1m5.1 0h1m-4.6 .5h1m-7.1 .2h1m7.3 .1h1m-9 .1h1m-8.2 .1h1m23.9 0h1m-4 .2h1m-22.5 .2h1m19.5 .1h1m-10.4 .2h1m-8.6 .1h1m11.7 0h1m.1 0h1m-.7 0h1m7.9 0h1m-2.6 .2h1m-29.1 .2h1m17.3 0h1m-10 .2h1m9.4 0h1m-20.5 .1h1m2.1 .2h1m20.7 0h1m-5.8 .1h1m1.7 0h1m-26.3 .1h1m27.8 .3h1m-.4 0h1m-30.4 .1h1m4.1 .3h1m26.2 0h1m-2.4 .1h1m.4 .1h1m-36.4 .7h1m31.4 .1h1m-31.4 .1h1m8.9 .2h1m-6.5 .3h1m-5.6 .1h1m33.2 .4h1m-37 .2h1m-2 .1h1m38.7 0h1m-3.7 .1h1m-38.9 .5h1m39 0h1m-39.9 .4h1m-5.5 .6h1m1.3 0h1m3.6 .6h1m38.1 1.5h1m-46.5 .1h1m.8 .1h1m42 .2h1m-46.1 .3h1m-3.3 1h1m-1.9 .8h1m50.4 .2h1m-51.3 .1h1m-2.7 .5h1m50.8 .2h1m-56.4 .7h1m1.8 .3h1m55.4 .5h1m-56.5 .2h1m-2 .2h1m-5 .7h1m59.2 .5h1m-58 .9h1m53.8 .4h1m1.2 0h1m-60.2 .1h1m56.8 0h1m-61.7 .3h1m61.6 .3h1m-60.6 .5h1m59.8 0h1m0 0h1m-5.7 .3h1m-59.3 .6h1m-.5 2.4h1m-.6 0h1m-1.3 .4h1m60.7 .1h1m-4.1 .9h1m3.3 .3h1m-.2 .1h1m-2.8 .6h1m.5 .6h1m-66.2 2.3h1m65.5 1.2h1m-68.3 .3h1m66.7 .4h1m-1.9 .1h1m-63.6 .9h1m-3.6 1.2h1m62.6 .5h1m-.3 0h1m-.4 .2h1m-.2 .1h1m-67 .1h1m-2.2 1.5h1m-5.4 .6h1m2.9 0h1m-1.1 .1h1m68.4 .2h1m-69.5 1.2h1m64.4 .3h1m-.3 .3h1m-1.9 .3h1m-66.5 1.3h1m66.2 0h1m-67.2 .7h1m65.8 .9h1m-70.8 .3h1m69.1 .1h1m-4.4 2h1m-64.1 1.3h1m63.5 1.1h1m-2.2 .1h1m-64.2 .1h1m-2.3 .4h1m65.4 .3h1m-1.6 .5h1m-1 .1h1m-.5 0h1m-65.9 .8h1m60.6 .1h1m-63 1.3h1m2.3 1.1h1m60 .3h1m1.3 .6h1m-2.7 .1h1m-67.2 1h1m-1 .1h1m2.3 0h1m61.7 .2h1m-.7 .3h1m-65.8 .2h1m-1.1 .1h1m-2 1h1m63.4 .9h1m-.9 .2h1m-61.6 .4h1m61 .1h1m0 .6h1m-65.2 .2h1m59.7 0h1m.2 .2h1m-63.9 .1h1m62.5 .3h1m-63.2 .2h1m62.1 .3h1m-65.5 .1h1m1.2 .3h1m-2.5 .2h1m-1 .8h1m.1 0h1m.6 0h1m-1.9 1.1h1m57.7 .9h1m-59.5 .3h1m58.5 0h1m-57.5 .6h1m55.2 0h1m-57.4 .6h1m-2.6 .5h1m.9 0h1m56 .1h1m-1.9 .2h1m-58.9 .2h1m54.3 .1h1m.7 .4h1m-.5 .6h1m-.9 .4h1m-55 .3h1m-3.6 1h1m55.6 0h1m-57.7 .4h1m49.3 .9h1m-49.6 .3h1m-1.1 .1h1m52.7 .4h1m-54.2 .3h1m1.4 .1h1m-3.2 .3h1m50.5 0h1m.3 0h1m-54.5 .8h1m49.5 .2h1m-48.8 .1h1m51 0h1m-5.5 .1h1m-3.8 .1h1m-44.6 .2h1m-1.2 1h1m-.3 0h1m38.6 1.3h1m3.1 .1h1m-1.6 .1h1m-43.2 .1h1m37.9 .3h1m-40.9 .2h1m.2 0h1m1.8 .2h1m-.8 .3h1m-3.4 .1h1m42.9 .1h1m.8 0h1m-6.9 .1h1m-1.8 .1h1m1.1 .3h1m-3.8 .4h1m2.3 0h1m-44 .2h1m4.4 .5h1m-.7 0h1m29.3 0h1m4.6 .8h1m-38 .1h1m2.1 .1h1m-3.4 .1h1m28.2 0h1m-32.1 .3h1m20 .3h1m12.1 0h1m-34.2 .1h1m6.5 0h1m1.5 .2h1m9.6 .1h1m2.1 0h1m-17.5 .1h1m11.7 0h1m-2.6 .1h1m8 0h1m-20.3 .3h1m15.7 0h1m3.2 0h1m-3.1 .2h1m-16.6 .1h1m-9.1 .2h1m2.5 0h1m11.8 0h1m-9 .1h1m7 .1h1m-7.5 .3h1m6.5 .1h1m-14.3 .3h1m2.4 .1h1m-1.3 .5h1m9.7 .2h1" stroke="#66aaf5" stroke-width="1"/>
<path d="M95.3 224.7h1m4.2 .9h1m8.5 0h1m1.2 .5h1m-12.9 .1h1m-5.3 .1h1m13.5 .3h1m-13.7 .1h1m3.2 .2h1m13.7 0h1m-3.6 .3h1m-11.3 .2h1m5.4 .3h1m5.1 .1h1m-15.9 .4h1m-.2 0h1m10.3 .2h1m4 .1h1m-.5 .4h1m.8 .2h1m2 .3h1m-9.9 .3h1m-25.4 .2h1m0 0h1m32.9 .4h1m-5.7 .1h1m4.8 .1h1m-40.9 .4h1m41.2 1.4h1m-41.4 .3h1m40.7 .1h1m-46 .3h1m-.5 .3h1m43.2 .3h1m-44.7 .2h1m42.1 .7h1m2.3 .1h1m-4.3 .8h1m-44.3 .2h1m42.4 0h1m2.1 .4h1m1.3 1.4h1m.9 .5h1m-2.1 .1h1m-50 .7h1m-1.5 .7h1m49.3 .5h1m-51.5 .7h1m54.7 0h1m-57.5 .2h1m-.6 .5h1m52.6 .5h1m1.9 0h1m-3.1 .2h1m-57.9 .3h1m57.7 .2h1m-1.7 .9h1m-57.1 .2h1m58.6 .8h1m-59.2 .2h1m-1 .2h1m-2.5 .3h1m-.4 .9h1m-1.5 .2h1m-.9 0h1m60.9 1.9h1m-1.3 .6h1m-61.4 .1h1m60.3 .3h1m-.6 .5h1m-62.4 .4h1m60.4 .4h1m-61.9 .3h1m61.3 2.3h1m-62.4 .6h1m-.9 2.5h1m-.7 2.1h1m62.5 .4h1m-64.5 .1h1m62.9 .1h1m-2.2 .3h1m-1.6 .7h1m.2 1.7h1m-59.9 .1h1m59.3 .4h1m-60.9 .4h1m-1.2 .8h1m-1 .3h1m-.5 0h1m58.4 .7h1m-56.6 1.6h1m55.6 .6h1m-58.2 .1h1m60.4 .6h1m-62.8 .2h1m.1 .2h1m-2.2 .3h1m60.5 0h1m2.6 .1h1m-63.3 2.1h1m62.6 .1h1m-5.8 .1h1m-51.7 .3h1m52.7 .2h1m.9 1.2h1m-58.2 1.2h1m56.9 0h1m-1.3 .5h1m-.9 .2h1m-2.7 1h1m-55.8 .3h1m55.7 .9h1m-1 .2h1m-2.7 .4h1m.4 .1h1m-.2 .2h1m-2 .4h1m-56.4 .3h1m53.8 0h1m-.6 .2h1m-2.6 .1h1m-55.3 .1h1m56.3 .4h1m-2.4 .4h1m-57.2 .4h1m54.5 .9h1m-56.5 .2h1m-.5 1h1m51.4 .4h1m-52.1 .1h1m-1.9 .3h1m-.1 .6h1m-.3 .1h1m-3.5 .1h1m1.7 1.5h1m-2.8 .8h1m51.5 .2h1m-52.1 .6h1m44.9 0h1m.6 .6h1m-2.1 .1h1m1.3 .7h1m-1.8 1.2h1m-48.6 .1h1m43 0h1m-4.9 .7h1m1.9 .2h1m-1.8 .2h1m-2.9 .1h1m.3 0h1m-45 .5h1m40.3 .2h1m-1.9 .6h1m-39.1 .1h1m1.7 .1h1m36.1 0h1m-39.1 .3h1m-.5 .3h1m31.5 .5h1m-33.8 .2h1m33.3 .1h1m-33.3 .5h1m27.8 0h1m-29.3 .1h1m-4 .2h1m34.5 .3h1m1.6 .1h1m-10.4 .1h1m3.7 .2h1m-8.1 .2h1m4.3 0h1m.5 0h1m-32.2 .4h1m-.9 0h1m3.1 .1h1m21.8 .1h1m1.4 0h1m-3.3 .1h1m-27 .1h1m13 0h1m8.5 0h1m1.9 0h1m-5.4 .1h1m-12.1 .5h1m10.8 0h1m-11.4 .2h1m9.8 0h1m-9.9 .1h1m5.1 0h1m-21.7 .1h1m23.1 0h1m-9.8 .1h1m-14.3 .1h1m9.8 .6h1m-8.3 .1h1m8.8 .2h1m1.8 0h1m-18.2 .1h1m11.2 .4h1m-7 1h1" stroke="#e99a4b" stroke-width="1"/>
<path d="M59.8 255h.8m-12.1 1.9h.8m6.4 .7h.8m10.7 0h.8m6.3 .9h.8m-22.1 .1h.8m20.9 .1h.8m2.6 1.6h.8m-8.8 .3h.8m-8.6 .5h.8m3.8 .7h.8m-18.6 .1h.8m-12.6 .5h.8m34.8 .3h.8m-17.1 .2h.8m-2 .1h.8m21.6 .2h.8m-2.9 1.8h.8m-12.3 .8h.8m9.9 .4h.8m-33.3 1.1h.8m-5.4 .8h.8m41.5 .2h.8m-48.4 .1h.8m38.3 .4h.8m-9.2 .1h.8m16.1 .2h.8m-17.9 .6h.8m-34.1 .2h.8m50.9 0h.8m-20 .2h.8m-11.9 .1h.8m20 .1h.8m-14.9 .3h.8m6.9 0h.8m-.3 .2h.8m14.2 .1h.8m4.3 0h.8m-38.5 .7h.8m17.4 0h.8m-7.5 .2h.8m6.8 .5h.8m-23.1 .1h.8m-.4 .1h.8m7.3 .2h.8m-6 .1h.8m25 .9h.8m-34.5 .4h.8m36.7 0h.8m8.9 .1h.8m-2.4 .1h.8m-42 .4h.8m-11.8 .1h.8m47.9 .5h.8m-25.3 1h.8m-17.6 .2h.8m19.9 .2h.8m-11.6 .3h.8m-20.1 .5h.8m40.8 1h.8m12.8 0h.8m-26 .1h.8m12.9 .3h.8m-6.8 .1h.8m-4.1 .3h.8m-30.5 .3h.8m43.2 0h.8m-42.3 .4h.8m11.7 .2h.8m-11.3 .4h.8m12 .2h.8m-24.9 .2h.8m29.8 .1h.8m-22.3 .1h.8m-12.4 .2h.8m46.1 .1h.8m-1.6 .4h.8m16.2 0h.8m-30.4 .1h.8m-29.3 .3h.8m49.5 .1h.8m-15 .2h.8m-31.4 .3h.8m-10.6 .1h.8m10.4 .1h.8m-14.2 .7h.8m12.8 .2h.8m37.7 0h.8m11.1 .3h.8m-28.7 .1h.8m28.3 0h.8m-11.5 .1h.8m-52.8 .6h.8m33.5 .2h.8m26.5 .7h.8m-23.6 .1h.8m-12.4 .1h.8m-.6 .1h.8m-29.7 .1h.8m27.2 0h.8m-29.9 .2h.8m59 .3h.8m4.5 0h.8m-20.3 .2h.8m-43.9 .1h.8m-3.4 .5h.8m6 .1h.8m48.9 .2h.8m-47.6 .5h.8m15.7 0h.8m27.5 0h.8m-48.3 .2h.8m6.8 0h.8m-12.6 .3h.8m-2.7 .2h.8m43.4 .2h.8m5.3 .1h.8m1.9 0h.8m-39.9 .1h.8m43.8 0h.8m-16.5 .7h.8m-42.1 .2h.8m49 .6h.8m-12.4 .2h.8m5.8 .1h.8m-43.9 .1h.8m15.4 .7h.8m29.4 0h.8m-7 1h.8m-18.4 .5h.8m-2.4 1h.8m32.3 0h.8m7.2 .1h.8m-59.6 .6h.8m8.3 0h.8m-15.4 .3h.8m16 .2h.8m9.7 0h.8m-16.7 .1h.8m2.6 .4h.8m12.8 0h.8m12.6 .1h.8m-38.7 .1h.8m32.9 .5h.8m-9.8 .9h.8m-31.2 .1h.8m10.1 .4h.8m27.7 .6h.8m11.9 .2h.8m-47.5 .3h.8m4.2 1h.8m-1.7 .1h.8m26.6 .2h.8m-18.9 .1h.8m42.5 .1h.8m-14.4 .3h.8m-44 .5h.8m.2 1h.8m14.6 1.7h.8m11 0h.8m-30.2 .3h.8m59.9 .2h.8m-58 .2h.8m43.4 0h.8m1.1 .1h.8m-4 .1h.8m-10.1 .2h.8m22 .1h.8m-59.2 .2h.8m31.4 0h.8m7.4 1h.8m15.1 .1h.8m-59.9 .2h.8m8.9 .4h.8m4 .2h.8m4.3 .5h.8m17.7 0h.8m10.3 .2h.8m6.3 .4h.8m-48.9 .3h.8m-6.7 .6h.8m6.1 0h.8m.9 .1h.8m-.9 .1h.8m1.9 0h.8m24.1 0h.8m-25 .4h.8m14.7 0h.8m-19.5 .1h.8m-.8 .2h.8m20.4 0h.8m-29.6 .1h.8m23.5 .1h.8m4.4 0h.8m21.4 .5h.8m-30.4 .2h.8m32.6 0h.8m-58.2 .1h.8m18 .1h.8m38.9 .2h.8m-12.7 .2h.8m-16.9 .2h.8m24.3 .1h.8m-40.8 .2h.8m22.3 .4h.8m-14.9 .1h.8m-10.5 .2h.8m-5.3 1h.8m36.3 0h.8m7.3 .1h.8m-.3 .1h.8m-13 .3h.8m-7.7 .1h.8m-25.3 1.2h.8m8 0h.8m6.7 .1h.8m-4.1 .1h.8m-1.8 .6h.8m-18.3 .3h.8m42.7 .6h.8m-30.9 .1h.8m29.3 0h.8m-1.5 .1h.8m4.4 .2h.8m-7.4 .2h.8m6 .2h.8m-16.7 .4h.8m-2.3 .3h.8m12.5 0h.8m-16.3 .3h.8m-9.2 .3h.8m-10.3 .1h.8m-10.3 .1h.8m44.4 .6h.8m-41.7 1.2h.8m-8.1 .1h.8m29.3 .6h.8m-12.8 .6h.8m26.6 0h.8m-35.6 .3h.8m27 0h.8m-15.8 .2h.8m7.8 .2h.8m-30.5 .2h.8m26.5 .1h.8m-15.5 .4h.8m-6.3 .1h.8m20.1 .1h.8m4.8 0h.8m-10.8 .2h.8m-12.3 .4h.8m28.5 .8h.8m-26.5 1h.8m14.7 .2h.8m4.3 .4h.8m-13.3 .3h.8m-17.5 .8h.8m1.5 .6h.8m3.1 .7h.8m3.2 .5h.8" stroke="#fff" stroke-width=".8" opacity="0.8"/>
<path d="M114.6 227.6h.8m.5 .4h.8m-22 .1h.8m-2 .2h.8m10.3 0h.8m-2.2 .4h.8m-14 1.2h.8m6.3 .2h.8m17.9 .1h.8m-9.7 3.6h.8m-15.6 1h.8m17.5 .5h.8m-18.4 .4h.8m18.7 .5h.8m19.4 0h.8m-31.5 .3h.8m-13.5 .3h.8m39.6 .7h.8m-41.9 .2h.8m14.5 .1h.8m19.3 .4h.8m-21.2 .2h.8m17 0h.8m-22.6 .1h.8m-5.6 .2h.8m40.5 1.5h.8m-36.2 .1h.8m-2.2 .3h.8m27.6 .9h.8m4.1 .5h.8m-37.4 .1h.8m3.1 .1h.8m1.5 .2h.8m-10.6 1h.8m10.9 1.3h.8m-7 .1h.8m-10.3 .2h.8m23.4 0h.8m1.7 1.5h.8m11 .1h.8m.7 .6h.8m-31.4 .4h.8m4.6 .3h.8m29.8 1h.8m5.7 1.6h.8m5 .2h.8m-57.6 .5h.8m12.2 .2h.8m0 .4h.8m3.7 .2h.8m15.8 .2h.8m13.2 .4h.8m-12.3 .3h.8m9.3 0h.8m9.3 .3h.8m-58.3 .4h.8m11.7 .3h.8m39.9 0h.8m-7.4 .4h.8m-44.2 .3h.8m18.4 .6h.8m-1.1 .2h.8m-16 .1h.8m11.7 0h.8m17.4 .2h.8m11.2 .2h.8m5.4 .3h.8m2.5 .3h.8m-6.7 .1h.8m-41.4 .1h.8m-11 .1h.8m35.9 0h.8m-36.7 .2h.8m34.5 .3h.8m12.8 .1h.8m-5.4 .1h.8m-8.2 .3h.8m-23.4 .2h.8m39.3 .3h.8m-44.4 .1h.8m-1.6 .2h.8m-.4 .1h.8m27.5 .1h.8m3.4 .1h.8m-.1 0h.8m-21.7 .6h.8m22.4 .3h.8m-21.5 .1h.8m20.8 .1h.8m-26.2 .2h.8m-1 .2h.8m16.6 0h.8m1.9 .3h.8m-26.6 .2h.8m31 1h.8m-33.8 .6h.8m19 .5h.8m5.9 .4h.8m-11.4 .1h.8m23.6 .4h.8m-8.3 .7h.8m-42.7 .4h.8m13.2 .1h.8m20 .3h.8m7.3 0h.8m-19.8 .1h.8m1.1 .4h.8m-15.4 .2h.8m39.6 .5h.8m-19.1 .2h.8m22 .1h.8m-27.8 .3h.8m-20.2 .8h.8m27.9 .5h.8m-20 .1h.8m-7.9 .3h.8m-.7 1h.8m23.3 0h.8m13 0h.8m-32.4 .1h.8m3.7 0h.8m37.7 .6h.8m-26.2 .8h.8m7.2 0h.8m19.1 .3h.8m-23.1 .2h.8m11.1 1.3h.8m-16.7 .1h.8m14.8 .2h.8m-12.8 .1h.8m-27.2 .2h.8m13.3 1.7h.8m15.1 .7h.8m-30.1 .2h.8m35.7 .7h.8m-36.7 .2h.8m37.5 0h.8m-11.7 .4h.8m18.4 .9h.8m-19.6 .1h.8m-13.2 .1h.8m-17 1h.8m22.4 0h.8m21 0h.8m-5.7 .2h.8m-.8 .9h.8m-44.8 1.1h.8m27.8 .9h.8m-18.4 .5h.8m31.9 .2h.8m-8.3 .3h.8m-2.3 .3h.8m-29 .6h.8m1.7 .3h.8m11 .1h.8m15.7 .3h.8m-32.1 .2h.8m30.4 .1h.8m4.6 .4h.8m-.5 .3h.8m-11.7 .2h.8m5 0h.8m-26 1.3h.8m26.8 .2h.8m-1.9 .2h.8m-12.8 1h.8m-20.4 .2h.8m12.3 .1h.8m2 .3h.8m-12.6 .3h.8m22.7 0h.8m-5.6 .2h.8m-27.6 .7h.8m29.7 1h.8m-20.7 .3h.8m7.9 .9h.8m-8.1 .6h.8m2.8 1.5h.8m-4.2 .2h.8m.6 .4h.8" stroke="#fff" stroke-width=".8" opacity="0.8"/>
<path d="M158.8 273.7h.8m3.1 2.9h.8m-.6 2.5h.8m-4.5 1.8h.8m-2.8 .7h.8m6.4 .2h.8m-5.5 1.6h.8m4.7 0h.8m-.9 2h.8m5 1.4h.8m-11.4 .6h.8m-2.7 2.8h.8m-2.5 .3h.8m-1.4 .4h.8m-1.7 .6h.8m8.1 0h.8m-13.6 1h.8m-6.1 .7h.8m4.1 1.1h.8m-4.3 2.2h.8m-6.7 .9h.8m9.1 0h.8m7.5 .5h.8m-4.2 .4h.8m-7.4 1.4h.8" stroke="#e99a4b" stroke-width=".8" opacity="0.8"/>
<path d="M89.2 282.8h1m-2 1.5h1m-.5 .2h1m0 .3h1m-.8 1.3h1m-.2 .6h1m-.9 .4h1m4.6 .2h1m-4.6 .2h1m-1 .3h1m-1.8 .1h1m1 0h1m-4.7 .2h1m2.1 .3h1m-.3 .2h1m1.5 0h1m-3.7 .1h1m-1.4 .2h1m-1.7 .1h1m-.5 .1h1m-2.4 .5h1m2.3 .5h1m-3.4 .1h1m0 .3h1m1 .1h1m-2.9 .1h1m2.1 0h1m.5 .1h1m-5.7 .5h1m3.4 0h1m-5.3 .3h1m1.1 .5h1m.4 0h1m1.1 .4h1m-3.7 .4h1m.1 0h1m0 .9h1m-1.3 .6h1m-.9 .2h1m-.5 .5h1m2.2 0h1m-1.6 .3h1m-3.7 .6h1m1.9 .4h1m-3.8 .2h1" stroke="#66aaf5" stroke-width="1"/>
<path d="M117.5,303 q-2,4 0,9" fill="none" stroke="#0b0a5c" stroke-width="1"/>
<path d="M141.7 268.9h1m-6.6 2.5h1m11.6 1.2h1m-8.1 1.8h1m-38.9 1.8h1m4.6 .4h1m-9 1.1h1m29.5 .1h1m-32.3 2.4h1m19.4 .5h1m23.2 .6h1m-29.7 .1h1m-13.7 3.3h1m22.8 .3h1m-25.3 .4h1m-2.6 .5h1m24.6 2.2h1m1.6 1h1m5.6 .1h1m-4.2 .2h1m15.3 4.7h1m-29.7 .3h1m12 0h1m-27.1 .9h1m.8 .5h1" stroke="#0b0a5c" stroke-width="1" opacity="0.7"/>
<path d="M131.4 325.8h1m7.7 3h1m-9 .2h1m7.8 2.5h1m-1.6 3h1m-7.1 .6h1m7.1 1.2h1m-4.3 1h1m-8.8 1.7h1m13.8 .1h1m-14.9 1.9h1m-1 1.4h1m3.4 2.1h1m-2.3 .1h1" stroke="#e99a4b" stroke-width="1"/>
<circle cx="159.2" cy="207.5" r="3.4" fill="#eef55a"/>
<text x="165.2" y="211.1" font-size="11.72" fill="#1a1a1a" stroke="#1a1a1a" stroke-width="0.25">NK</text>
<circle cx="159.2" cy="220" r="3.4" fill="#f0883a"/>
<text x="165.2" y="223.6" font-size="11.72" fill="#1a1a1a" stroke="#1a1a1a" stroke-width="0.25">Mono</text>
<circle cx="159.2" cy="232.6" r="3.4" fill="#1f3d7a"/>
<text x="165.2" y="236.2" font-size="11.72" fill="#1a1a1a" stroke="#1a1a1a" stroke-width="0.25">T cell</text>
<circle cx="159.2" cy="244.6" r="3.4" fill="#70e040"/>
<text x="165.2" y="248.4" font-size="11.72" fill="#1a1a1a" stroke="#1a1a1a" stroke-width="0.25">B cell</text>
<circle cx="159.2" cy="257.1" r="3.4" fill="#60a8f8"/>
<text x="165.2" y="260.8" font-size="11.72" fill="#1a1a1a" stroke="#1a1a1a" stroke-width="0.25">Neu</text>
<line x1="18.7" y1="373.0" x2="18.7" y2="334.5" stroke="#111" stroke-width="1.4"/><path d="M18.7,329.5L21.5,335.0L15.9,335.0Z" fill="#111"/>
<line x1="18.0" y1="372.3" x2="56.0" y2="372.3" stroke="#111" stroke-width="1.4"/><path d="M61.0,372.3L55.5,375.1L55.5,369.5Z" fill="#111"/>
<text x="16" y="370" font-size="11.72" fill="#1a1a1a" stroke="#1a1a1a" stroke-width="0.25" transform="rotate(-90 16 370)">UMAP2</text>
<text x="20.4" y="384.3" font-size="11.72" fill="#1a1a1a" stroke="#1a1a1a" stroke-width="0.25">UMAP1</text>
<text x="206.2" y="210.3" font-size="13.78" font-weight="bold" fill="#111">C</text>
<circle cx="251.2" cy="213.4" r="3.3" fill="#66aaf5"/>
<text x="256.2" y="217.4" font-size="12.03" fill="#1a1a1a" stroke="#1a1a1a" stroke-width="0.25">CD15</text>
<path d="M265.0,234.0C267.0,231.2 271.2,230.0 275.0,229.5C278.8,229.0 284.2,229.6 288.0,231.0C291.8,232.4 295.3,235.5 298.0,238.0C300.7,240.5 302.7,243.5 304.0,246.0C305.3,248.5 304.8,251.0 306.0,253.0C307.2,255.0 310.3,256.2 311.0,258.0C311.7,259.8 311.5,262.3 310.0,264.0C308.5,265.7 305.0,267.0 302.0,268.0C299.0,269.0 295.7,270.0 292.0,270.0C288.3,270.0 283.7,269.2 280.0,268.0C276.3,266.8 272.3,265.2 270.0,263.0C267.7,260.8 267.2,257.8 266.0,255.0C264.8,252.2 263.2,249.5 263.0,246.0C262.8,242.5 263.0,236.8 265.0,234.0Z" fill="#e2e2e2"/>
<path d="M283.0,271.0C284.3,269.9 289.2,270.2 292.0,270.5C294.8,270.8 299.2,271.8 299.5,273.0C299.8,274.2 295.8,276.4 294.0,278.0C292.2,279.6 290.7,282.7 289.0,282.5C287.3,282.3 285.0,278.9 284.0,277.0C283.0,275.1 281.7,272.1 283.0,271.0Z" fill="#e2e2e2"/>
<path d="M275.0,284.0C277.3,282.8 281.5,281.7 285.0,282.0C288.5,282.3 293.2,284.0 296.0,286.0C298.8,288.0 301.5,291.2 302.0,294.0C302.5,296.8 301.0,300.3 299.0,303.0C297.0,305.7 293.2,308.3 290.0,310.0C286.8,311.7 283.0,313.3 280.0,313.0C277.0,312.7 273.8,310.5 272.0,308.0C270.2,305.5 269.2,301.2 269.0,298.0C268.8,294.8 270.0,291.3 271.0,289.0C272.0,286.7 272.7,285.2 275.0,284.0Z" fill="#e2e2e2"/>
<path d="M246.0,245.0C249.7,244.8 254.8,245.8 258.0,247.5C261.2,249.2 263.3,252.2 265.0,255.0C266.7,257.8 267.4,261.0 268.0,264.0C268.6,267.0 268.8,269.5 268.5,273.0C268.2,276.5 267.8,282.0 266.0,285.0C264.2,288.0 261.3,289.7 258.0,291.0C254.7,292.3 250.0,293.2 246.0,293.0C242.0,292.8 237.0,291.8 234.0,290.0C231.0,288.2 229.2,285.7 228.0,282.0C226.8,278.3 226.7,272.3 227.0,268.0C227.3,263.7 228.5,259.2 230.0,256.0C231.5,252.8 233.3,250.8 236.0,249.0C238.7,247.2 242.3,245.2 246.0,245.0Z" fill="#66aaf5"/>
<path d="M245.2 244h1m2.7 .1h1m-10.4 .7h1m11.1 0h1m-8.8 .7h1m9.2 .1h1m3.3 .2h1m-16.1 .4h1m-.7 .5h1m12.8 0h1m-14.4 .1h1m2.3 .5h1m6.7 .1h1m-2.3 .1h1m3.7 0h1m.3 0h1m-11.4 .1h1m-11.1 .1h1m17.1 .1h1m-18.9 .1h1m11.4 .1h1m5.9 0h1m-24.9 .2h1m1 .2h1m23.3 .1h1m-26.5 .1h1m24 .2h1m-5.7 .1h1m.8 .1h1m-6.9 .2h1m6.1 .6h1m-24.5 .4h1m-1.2 .3h1m0 0h1m-1.8 .1h1m-.6 0h1m-4.6 .1h1m.1 0h1m-1 .1h1m25.7 0h1m.6 .7h1m-30.4 .2h1m1.4 0h1m25.7 .5h1m-27.2 .2h1m26.2 .2h1m-28.9 1.6h1m28.2 .1h1m-35.1 1.2h1m32 0h1m.5 .8h1m-34.1 .1h1m32.5 .1h1m-35.9 .6h1m-2 .1h1m36.5 .1h1m-38.5 1.1h1m36.9 .3h1m-.8 0h1m-38 .3h1m-3 .5h1m40.2 .2h1m-3 .2h1m-38.1 .2h1m33.6 .2h1m-36.8 1.1h1m-.4 .6h1m37.7 1h1m-.6 .6h1m-39.9 .1h1m36 0h1m.4 .4h1m-39.5 1h1m38.9 0h1m-40.7 1.2h1m-3.5 .1h1m-1.2 .3h1m-2 .7h1m40.9 0h1m.9 .2h1m-44.1 .3h1m39.6 0h1m1.1 .9h1m-42.3 .4h1m37.1 .2h1m-40.9 .4h1m42.1 .2h1m-40.7 1.9h1m38.2 .2h1m-42.9 .1h1m41.2 1.1h1m-1 .7h1m-42.9 .4h1m42.4 1h1m-4.6 .2h1m-1.8 .4h1m-37.4 1.6h1m-2.7 2.5h1m38.4 .3h1m-.1 1.1h1m-38.9 .7h1m-4 .1h1m.9 .2h1m-.5 1h1m-1.1 .8h1m35.6 .4h1m-36.3 .1h1m34.2 .3h1m-2.1 .2h1m-2.7 .1h1m-35.5 .2h1m.3 .3h1m-.1 0h1m31.9 .1h1m1.2 .1h1m-4.5 .3h1m-33.2 .3h1m31.6 .4h1m-31.7 .3h1m-2.3 .3h1m30.6 .1h1m.1 0h1m-31.2 .2h1m-2.1 .2h1m28.5 .1h1m2 .4h1m-3.5 .2h1m-27.5 .1h1m25.1 .1h1m-27.3 .3h1m23.3 0h1m.6 .2h1m-30.4 .1h1m26.7 .1h1m-1 0h1m-27.1 .3h1m-1 .2h1m26.9 0h1m-6.7 .9h1m.8 0h1m.2 0h1m-11.2 .2h1m-15.7 .4h1m8.4 .4h1m3.6 .5h1m-3.5 .2h1m-1.1 .1h1m2.6 .1h1m-8.4 .1h1m5.5 0h1m4.1 0h1m-7.3 .1h1m2.3 0h1m3.7 0h1m-1 .1h1m-8.9 .1h1m-2.1 .2h1m-3.9 .1h1m7.1 .7h1m-7.5 .4h1" stroke="#66aaf5" stroke-width="1"/>
<path d="M245.3 247.5h.8m-5 .3h.8m14.5 .1h.8m-2.9 2.1h.8m-4.2 .1h.8m-4.5 .2h.8m-.6 .1h.8m-8.5 .1h.8m.2 .1h.8m16.5 .1h.8m-5 .7h.8m-.6 .4h.8m3.4 .6h.8m-7 .2h.8m4.9 .3h.8m.9 1.1h.8m-28.4 .4h.8m2.6 .4h.8m-2.3 .9h.8m-3.8 .4h.8m13.2 .6h.8m.2 .1h.8m11.9 0h.8m1.9 .8h.8m-15.1 .1h.8m11.1 .6h.8m1.9 .9h.8m.5 .5h.8m-25.9 .1h.8m-.2 0h.8m10.7 0h.8m-5.9 .1h.8m-8 .1h.8m5.1 0h.8m20.4 .2h.8m-16 .1h.8m12.2 .2h.8m-7.9 1.4h.8m-14.8 .6h.8m3.8 .2h.8m-4.1 .1h.8m-6 .2h.8m16.2 .2h.8m-6.7 .2h.8m11.3 .3h.8m-28.5 .1h.8m-2.8 .4h.8m6.6 .1h.8m4.1 .1h.8m-12.7 .6h.8m-.6 .2h.8m11.9 0h.8m-12.8 .3h.8m12.9 0h.8m4.2 0h.8m6.3 0h.8m3.6 0h.8m-26.2 .6h.8m4.8 0h.8m1.5 0h.8m-17.1 .1h.8m1 0h.8m5.7 0h.8m14.3 .3h.8m-17.8 .3h.8m21.3 .5h.8m-3.1 .6h.8m-2.1 .5h.8m-18.4 .1h.8m14.5 0h.8m-1.1 .2h.8m-15.7 .1h.8m14.7 0h.8m-20.9 .1h.8m21.8 .1h.8m-18.3 .2h.8m7.8 .2h.8m-5.2 .1h.8m19.4 .1h.8m-13.9 .1h.8m18.8 .1h.8m-26.9 .2h.8m15.9 .2h.8m-28.6 .2h.8m29.3 .1h.8m-9.6 .5h.8m-15.4 .4h.8m7.5 0h.8m17.9 .7h.8m-35 .1h.8m20.5 0h.8m-16.9 1.1h.8m7.3 .4h.8m24.4 0h.8m-22.9 .2h.8m.1 0h.8m-7.4 .5h.8m22.4 .1h.8m-25.2 .8h.8m2.3 .1h.8m21.7 .2h.8m-19.5 .7h.8m-15.8 .8h.8m35 .5h.8m-17.6 .1h.8m-3.5 .8h.8m-16.8 .2h.8m30.9 .3h.8m-16.8 .1h.8m-11.1 .1h.8m7.1 .9h.8m6.9 .2h.8m2.8 .2h.8m-20.3 .2h.8m1.2 0h.8m10.6 0h.8m-1.2 .1h.8m12.7 .2h.8m-21.7 .5h.8m22.1 .4h.8m-21.6 .3h.8m-10.2 1.2h.8m4.3 1.2h.8m23 .4h.8m-24.5 .2h.8m6.9 .7h.8m6 0h.8m-10.1 .1h.8m12 1h.8m-6.7 .3h.8m-4.5 .5h.8m-1.9 .7h.8m7.4 .1h.8m-20.5 1.1h.8m6.9 .6h.8m10.3 0h.8m-13 .5h.8m-1 .6h.8m4.2 1.2h.8m-.1 .4h.8" stroke="#fff" stroke-width=".8" opacity="0.8"/>
<path d="M269.5 265.5h1m4.1 .3h1m-3.6 .8h1m-6.2 .4h1m1.3 .3h1m.7 .3h1m-4.1 .1h1m-.8 0h1m1 0h1m.2 .2h1m.8 .1h1m-7.1 .1h1m-2 .1h1m1.8 .1h1m2.2 0h1m3.8 .1h1m-10.8 .1h1m6.5 0h1m.2 .2h1m-3.9 .1h1m3.8 .2h1m-13.1 .3h1m9.2 0h1m-2.3 .3h1m.9 .2h1m-10.4 .1h1m3.9 .2h1m3.7 0h1m-10.4 .3h1m2 0h1m6.6 0h1m-10.5 .3h1m-.2 0h1m4.5 0h1m-7.6 .2h1m4.5 .2h1m-.7 0h1m2.8 0h1m-12.8 .6h1m1.1 0h1m4.5 0h1m4.2 0h1m-10.7 .1h1m2.4 0h1m4.2 0h1m-4.3 .2h1m5.7 .2h1m-9.5 .1h1m-.1 0h1m3 .1h1m-.4 0h1m-5.5 .3h1m6.6 .2h1m-9.9 .1h1m2.9 0h1m1 0h1m-.5 .1h1m-.1 0h1m.6 .1h1m-13.1 .1h1m8.4 .6h1m.1 .5h1m-5.9 .3h1m-.3 0h1m-.2 .9h1m3.2 .2h1m-5.8 .3h1m4.4 .2h1m-.7 1.6h1m-7.2 .7h1" stroke="#66aaf5" stroke-width="1"/>
<path d="M245.0,243.5C249.3,242.8 254.5,243.9 258.0,245.0C261.5,246.1 264.0,247.8 266.0,250.0C268.0,252.2 268.7,255.3 270.0,258.0C271.3,260.7 271.8,264.0 274.0,266.0C276.2,268.0 281.3,268.2 283.0,270.0C284.7,271.8 285.2,275.2 284.0,277.0C282.8,278.8 278.5,279.8 276.0,281.0C273.5,282.2 270.8,282.2 269.0,284.0C267.2,285.8 267.5,290.0 265.0,292.0C262.5,294.0 258.2,295.3 254.0,296.0C249.8,296.7 244.2,297.0 240.0,296.0C235.8,295.0 231.6,293.0 229.0,290.0C226.4,287.0 225.2,282.7 224.5,278.0C223.8,273.3 223.8,266.8 225.0,262.0C226.2,257.2 228.7,252.1 232.0,249.0C235.3,245.9 240.7,244.2 245.0,243.5Z" fill="none" stroke="#222" stroke-width="1.2" stroke-dasharray="2.6,1.9"/>
<rect x="218.6" y="221.2" width="100.4" height="99.8" fill="none" stroke="#111" stroke-width="1.5"/>
<text x="216" y="322.5" font-size="11.82" fill="#1a1a1a" stroke="#1a1a1a" stroke-width="0.25" transform="rotate(-90 216 322.5)">UMAP2</text>
<text x="219.4" y="335.2" font-size="11.82" fill="#1a1a1a" stroke="#1a1a1a" stroke-width="0.25">UMAP1</text>
<line x1="301.5" y1="272.8" x2="323.0" y2="272.8" stroke="#111" stroke-width="1.5"/><path d="M328.5,272.8L322.5,276.2L322.5,269.4Z" fill="#111"/>
<rect x="342.6" y="226.9" width="42" height="88.4" fill="none" stroke="#6f6ff0" stroke-width="1.1"/>
<rect x="385.8" y="226.9" width="48.6" height="88.4" fill="none" stroke="#e85a5a" stroke-width="1.1"/>
<path d="M403 229.8h1m1 .2h1m-4.2 .2h1m-2.1 .4h1m-8.4 .1h1m-1.3 .5h1m.7 0h1m10.8 1.5h1m-11.7 .6h1m5.5 .6h1m-8.7 .8h1m-4.9 .2h1m10.7 .1h1m.9 0h1m-7 .1h1m2.2 0h1m-11.5 .2h1m-1.4 .2h1m3.3 .1h1m-4.3 .1h1m3.3 0h1m4.9 .2h1m-2.8 .1h1m-1.9 .1h1m-.8 .1h1m3.3 .1h1m-14.9 .3h1m4.6 0h1m-7.5 .1h1m-.6 0h1m8.8 0h1m.7 0h1m-5.3 .1h1m3.6 .1h1m.9 .1h1m-6.3 .4h1m4.4 0h1m-3.3 .1h1m-4.3 .2h1m3.3 0h1m-10.9 .3h1m7.9 0h1m-12.3 .3h1m9.3 0h1m-5.9 .1h1m-6.3 .2h1m13 0h1m-6.7 .3h1m.7 0h1m1.1 0h1m4.9 .1h1m-5.3 .1h1m-7.3 .2h1m9.6 .1h1m-13.3 .1h1m5 .2h1m.8 0h1m-5.5 .1h1m2 .1h1m-9.9 .4h1m9.7 0h1m-5.3 .3h1m4.4 0h1m-7.2 .1h1m-5.3 .1h1m.2 0h1m.9 .1h1m1.3 0h1m-6.5 .3h1m6.5 0h1m-5.9 .1h1m7.3 .1h1m5.8 0h1m-21.1 .1h1m-.7 0h1m3 0h1m3.3 .1h1m8.8 0h1m-10.7 .1h1m-5 .2h1m-1.7 .1h1m2 .2h1m-.6 0h1m2 0h1m-13.6 .1h1m5.1 0h1m.2 0h1m2 0h1m.6 .1h1m-.5 0h1m1.6 0h1m-4.6 .2h1m-3.5 .1h1m-1.8 .1h1m4 0h1m-1.6 .2h1m-9.1 .1h1m2.1 0h1m.8 0h1m4.1 0h1m-10.5 .1h1m13.5 0h1m-21 .1h1m6.1 0h1m.9 .1h1m9.9 0h1m-9.7 .1h1m4.2 0h1m-12.6 .1h1m4.2 0h1m-.7 0h1m-7.9 .2h1m2.9 0h1m-5.2 .1h1m-.8 0h1m20.1 0h1m-22.1 .1h1m-.5 .2h1m.1 0h1m3.7 0h1m1.5 0h1m1.8 0h1m-15 .1h1m13.3 0h1m-.3 0h1m-.7 0h1m-11.3 .1h1m8.2 .1h1m-14 .2h1m5 .1h1m1.8 0h1m-2.2 .1h1m-9.2 .1h1m.1 0h1m7.2 0h1m-6.9 .1h1m2.7 .1h1m6.3 0h1m-14.7 .1h1m10.8 0h1m-1.5 .1h1m-.5 0h1m-8 .1h1m.1 0h1m4.1 0h1m6.3 0h1m-19.4 .1h1m14.1 0h1m-20.2 .1h1m10.5 0h1m-7.3 .1h1m1.9 0h1m.7 0h1m8 0h1m-11.4 .1h1m11.5 0h1m-14.6 .1h1m-1 0h1m1 0h1m.7 0h1m6.6 0h1m-11.1 .2h1m-.7 0h1m7.5 0h1m-3.3 .1h1m1.7 0h1m-.5 0h1m-14.6 .1h1m-.7 0h1m-.4 0h1m5.9 0h1m4 0h1m-9.2 .1h1m4.8 .1h1m.4 .2h1m4.9 0h1m-15.1 .1h1m11.7 0h1m.3 0h1m-5.3 .1h1m-13.2 .1h1m8.7 0h1m-10.4 .1h1m6.9 0h1m1 0h1m-13.2 .1h1m3.5 0h1m3.4 0h1m-.5 0h1m-.6 0h1m-3.3 .1h1m5.6 0h1m-12.3 .1h1m.9 0h1m6.3 .1h1m-12.5 .3h1m2.7 0h1m6.9 0h1m5.3 0h1m-5.1 .1h1m-8 .1h1m4 .1h1m5 0h1m-17.4 .1h1m6.4 0h1m-10.9 .1h1m13.9 0h1m-10.8 .1h1m-5.1 .1h1m3.6 0h1m.6 0h1m-1.7 .1h1m.3 0h1m2.3 0h1m-9 .2h1m6.1 0h1m3.6 0h1m.4 0h1m-.1 0h1m-20.4 .1h1m13.9 0h1m7.5 0h1m-16.9 .1h1m-2.3 .1h1m2.8 0h1m4 0h1m6.1 0h1m-17.4 .1h1m3.6 0h1m3.3 0h1m-13.2 .1h1m-.9 0h1m5.1 0h1m6 0h1m.8 0h1m-7.6 .1h1m-.4 0h1m-1.6 .1h1m-6.2 .1h1m1.7 0h1m6.3 0h1m1.8 0h1m-12 .1h1m1.3 0h1m1 0h1m10.2 0h1m-1.7 .1h1m-17.7 .1h1m.3 0h1m15.4 0h1m-9 .1h1m-10.5 .1h1m2.9 0h1m6.5 0h1m-4.1 .1h1m-12.3 .1h1m5 0h1m-.3 .1h1m0 0h1m5.4 0h1m-1 0h1m-6.8 .1h1m2.8 0h1m.1 0h1m.7 0h1m-8.1 .1h1m13.4 0h1m-17.2 .1h1m-.3 0h1m.7 0h1m5.5 0h1m-19.3 .1h1m8.1 0h1m-.7 0h1m-.3 0h1m-1 0h1m-.4 0h1m2.3 0h1m-.3 0h1m-.8 0h1m-14 .1h1m3.6 0h1m-.7 0h1m5.3 0h1m5.5 0h1m-12.9 .1h1m4.8 0h1m7.9 0h1m-15.6 .1h1m4.1 0h1m4.7 0h1m-12.6 .1h1m-.5 0h1m16.9 0h1m-15.1 .1h1m.1 0h1m6.6 0h1m-.6 0h1m.5 0h1m-15.8 .1h1m2.5 0h1m.3 0h1m4.1 0h1m-.5 0h1m1.1 0h1m-16.4 .1h1m2.1 0h1m11.1 0h1m-10.7 .1h1m.2 .1h1m.4 0h1m.8 0h1m-.8 0h1m2.7 0h1m-8.6 .1h1m2.2 0h1m-8.2 .1h1m5.4 0h1m.9 0h1m-.1 0h1m-11.5 .1h1m3.8 0h1m.7 0h1m2.6 0h1m.8 0h1m-15.6 .1h1m6.5 0h1m.4 0h1m4.2 0h1m2.5 0h1m-16.2 .1h1m2.4 0h1m-3.8 .1h1m-.1 0h1m5.6 0h1m-6.5 .1h1m.3 0h1m-1 0h1m0 0h1m-.1 0h1m1.8 0h1m.7 0h1m-13.9 .1h1m8.9 0h1m0 0h1m.2 0h1m1.5 0h1m-6.7 .1h1m.6 0h1m-.3 0h1m5.1 0h1m-13 .1h1m1.6 0h1m-.6 .2h1m-.6 0h1m2.7 0h1m3.9 0h1m-18.8 .1h1m13.6 0h1m-11.2 .1h1m5.7 0h1m-.4 0h1m.5 0h1m-1 0h1m.5 0h1m-.2 0h1m.3 0h1m-11.8 .1h1m3.3 0h1m-.6 0h1m7.8 0h1m-21.2 .1h1m3.5 0h1m1.5 0h1m2.2 0h1m6.4 0h1m1.7 0h1m-13.6 .1h1m.9 0h1m2.4 0h1m-.9 0h1m7.9 0h1m-20.6 .1h1m3 0h1m.8 0h1m-.6 0h1m2 0h1m1.2 0h1m-.3 0h1m1.5 0h1m-12.5 .1h1m2.1 0h1m-.2 0h1m-.7 0h1m-.6 .1h1m-.8 0h1m-.9 0h1m3.3 0h1m-8.8 .1h1m3.2 0h1m1.8 0h1m1 0h1m1 0h1m-12.9 .1h1m.6 0h1m.3 0h1m2.7 0h1m-11.5 .1h1m3.7 0h1m3.9 0h1m2.6 0h1m-.8 0h1m-9.8 .1h1m-.9 0h1m7.1 0h1m1.6 0h1m-5.2 .1h1m1 0h1m-16.6 .1h1m4.5 0h1m1.7 0h1m.8 0h1m3.2 0h1m.3 0h1m2.1 0h1m-.7 0h1m3.2 0h1m-15.2 .1h1m1 0h1m1.7 0h1m.8 0h1m1.1 0h1m5.6 0h1m-16.9 .1h1m1.6 0h1m.7 0h1m-7.5 .1h1m-.1 0h1m-.8 0h1m2.1 0h1m.3 0h1m.9 0h1m-7.3 .1h1m.3 0h1m.3 0h1m3.9 0h1m2.2 0h1m.8 0h1m-10.4 .1h1m2.5 0h1m.7 0h1m-.8 0h1m0 0h1m-11 .1h1m.7 0h1m1.1 0h1m1.7 0h1m.7 0h1m6 0h1m-13.3 .1h1m.3 0h1m-11.1 .1h1m3 0h1m3.1 0h1m2 0h1m.8 0h1m2 0h1m-.2 0h1m-15.2 .1h1m-.7 0h1m6.5 0h1m.5 0h1m-.7 0h1m6.8 0h1m-20 .1h1m8.6 0h1m-.7 0h1m2.3 0h1m-.5 0h1m.7 0h1m-9 .1h1m4.3 0h1m2.1 0h1m-13.1 .1h1m-4 .1h1m11.1 0h1m8.5 0h1m-15.8 .1h1m-5.8 .1h1m7.7 0h1m-.8 0h1m4.5 0h1m.6 0h1m-10.1 .1h1m-.9 0h1m-.8 0h1m-.5 0h1m0 0h1m-.5 0h1m-12.3 .1h1m.3 0h1m1.6 0h1m4 0h1m-.4 0h1m.3 0h1m.1 0h1m-7.1 .1h1m3.2 0h1m1.6 0h1m1.8 0h1m-9.6 .1h1m.4 0h1m2.3 0h1m-11.6 .1h1m3.2 0h1m.1 0h1m.8 0h1m5.4 0h1m-16.5 .1h1m.1 0h1m6.1 0h1m.7 0h1m.5 0h1m5.6 0h1m-16.9 .1h1m8.6 0h1m.3 0h1m6.6 0h1m-13.8 .1h1m-.9 0h1m-.9 0h1m1.8 0h1m.4 0h1m-.2 0h1m.2 0h1m-6.1 .1h1m.7 0h1m2.7 0h1m4.4 0h1m-13.9 .1h1m4 0h1m-9.8 .1h1m3.2 0h1m-.8 0h1m.4 0h1m-.3 0h1m.5 0h1m-8 .1h1m1.8 0h1m1.6 0h1m-.4 0h1m-5.2 .1h1m-.4 0h1m-.9 0h1m2.4 0h1m1.8 0h1m-6.4 .1h1m4.3 0h1m-.6 0h1m.3 0h1m-9.7 .1h1m4.2 0h1m-.8 0h1m4.7 0h1m-10.2 .1h1m6.3 0h1m-8.8 .1h1m4.5 0h1m2.1 0h1m-12.2 .1h1m10 0h1m-1 0h1m-.4 0h1m-8.7 .1h1m1.6 0h1m-6.2 .1h1m1.8 0h1m-.3 0h1m-.5 0h1m-.6 0h1m.2 0h1m.1 0h1m-11.6 .1h1m1.6 0h1m2.7 0h1m1.5 0h1m1.4 0h1m-12.6 .1h1m1 0h1m6.1 0h1m.7 0h1m.8 0h1m0 0h1m-.8 0h1m-3.9 .1h1m-4 .1h1m-.7 0h1m-.1 0h1m3.6 0h1m-.7 0h1m-7 .1h1m5.2 0h1m4.3 0h1m-20.6 .1h1m7.5 0h1m-.6 0h1m3.7 0h1m-.8 0h1m.7 0h1m-11.6 .1h1m.6 0h1m0 0h1m-1 0h1m-.9 0h1m1.4 0h1m.7 0h1m-.9 0h1m.3 0h1m2.6 0h1m-10.7 .1h1m-.8 0h1m4.7 0h1m-.7 0h1m-1 0h1m.4 0h1m1.5 0h1m-19.3 .1h1m1.2 0h1m4 0h1m.9 0h1m.3 0h1m-.2 0h1m4.1 0h1m2.1 0h1m-16.7 .1h1m4 0h1m5.2 0h1m3.3 0h1m-18.2 .1h1m1.3 0h1m-.7 0h1m-.4 0h1m1.4 0h1m-.7 0h1m4.9 0h1m-.1 0h1m6.4 0h1m-10.7 .1h1m-.5 0h1m.7 0h1m-.8 0h1m1.5 0h1m-9.2 .1h1m-.1 0h1m4.3 0h1m-3.8 .1h1m2.5 0h1m5.9 0h1m-.8 0h1m-20.2 .1h1m3.1 0h1m.4 0h1m-.9 0h1m-.4 0h1m-.2 0h1m1.9 0h1m-16.2 .1h1m4.8 0h1m8.5 0h1m.5 0h1m0 0h1m-8.2 .1h1m.1 0h1m.3 0h1m-.8 0h1m-.3 0h1m.6 0h1m-.8 0h1m3.2 0h1m1.1 0h1m-16.2 .1h1m1.1 0h1m.1 0h1m2.3 0h1m-.4 0h1m5.5 0h1m-17.5 .1h1m3 0h1m2.8 0h1m.6 0h1m1 0h1m3.6 0h1m-10 .1h1m-.7 0h1m7 0h1m1.7 0h1m-19.2 .1h1m3.6 0h1m4.2 0h1m-8.6 .1h1m.6 0h1m.4 0h1m-.8 0h1m-.7 0h1m7.8 0h1m-.7 0h1m-.4 0h1m-17.6 .1h1m8 0h1m3.2 0h1m-9.5 .1h1m.5 0h1m-.5 0h1m.7 0h1m3.4 0h1m-.5 0h1m.1 0h1m-8.4 .1h1m1.2 0h1m5.8 0h1m-10 .1h1m-1 0h1m-.6 0h1m1.4 0h1m2 0h1m.5 0h1m1 0h1m-.5 0h1m-19.7 .1h1m4.6 0h1m0 0h1m5.2 0h1m4.9 0h1m-14.5 .1h1m3.4 0h1m2.3 0h1m-.2 0h1m-.2 0h1m-.1 0h1m-4.6 .1h1m-.4 0h1m.1 0h1m0 0h1m4.4 0h1m-11 .1h1m-.7 0h1m1 0h1m-11.8 .1h1m5.3 0h1m1.4 0h1m1.4 0h1m-.8 0h1m.3 0h1m1.6 0h1m-15.6 .1h1m1 0h1m5.6 0h1m1.4 0h1m-.3 0h1m.3 0h1m5 0h1m-16.2 .1h1m-.5 0h1m.1 0h1m-1 0h1m1.1 0h1m-.1 0h1m.3 0h1m-.8 0h1m.2 0h1m0 0h1m2 0h1m-14.7 .1h1m2.4 0h1m1.9 0h1m.4 0h1m-1 0h1m2.3 .1h1m1.4 0h1m6.5 0h1m-22.1 .1h1m4.8 0h1m-.3 0h1m.4 0h1m.7 0h1m-.2 0h1m3.9 0h1m-17 .1h1m1.6 0h1m.5 0h1m-.5 0h1m.8 0h1m5.2 0h1m1.8 0h1m-14.5 .1h1m1.4 0h1m2.4 0h1m1.6 0h1m.8 0h1m-.9 0h1m.9 0h1m-.1 0h1m.6 0h1m-11.8 .1h1m-1 0h1m1.7 0h1m1.3 0h1m-2.3 .1h1m.6 0h1m1.5 0h1m.2 0h1m-9.6 .1h1m2.7 0h1m4.9 0h1m-11 .1h1m-.4 0h1m1.2 0h1m.6 0h1m-4.6 .1h1m.1 0h1m2.6 0h1m.4 0h1m-14.9 .1h1m9.6 0h1m-1 0h1m3.6 0h1m2.9 0h1m-15.8 .1h1m7.5 0h1m.7 0h1m-5.8 .1h1m.2 0h1m.5 0h1m1.5 0h1m-10.1 .1h1m2 0h1m5.5 0h1m7.3 0h1m-20.8 .1h1m-.2 0h1m0 0h1m1.5 0h1m2.7 0h1m2.3 0h1m4.1 0h1m-16.6 .1h1m2.5 0h1m2.5 0h1m1 0h1m.6 0h1m.5 0h1m-9.4 .1h1m.5 0h1m1.8 0h1m.2 0h1m1.8 0h1m-.9 0h1m-.6 0h1m-14.5 .1h1m.3 0h1m-.6 0h1m3.7 0h1m-.7 0h1m.4 0h1m2 0h1m.6 0h1m2.9 0h1m-20.2 .1h1m3.9 0h1m2.1 0h1m-.9 0h1m-.3 0h1m-.1 0h1m1.2 0h1m-10.4 .1h1m4.2 0h1m2.4 0h1m.2 0h1m-9.4 .1h1m-.4 0h1m1 0h1m.9 0h1m.8 0h1m-.5 0h1m-.2 0h1m-.7 0h1m6.1 0h1m-8.4 .1h1m-.5 0h1m5.3 0h1m-19.5 .1h1m1 0h1m1.7 0h1m-.2 0h1m3.1 0h1m-.1 0h1m-1 0h1m-2 .1h1m2.9 0h1m.3 0h1m-1.9 .1h1m-4.5 .1h1m1 0h1m3.6 0h1m-10.4 .1h1m2 0h1m1.6 0h1m1.4 0h1m-11.9 .1h1m3.4 0h1m.2 0h1m1.8 0h1m-14.7 .1h1m5.5 0h1m.1 0h1m3.1 0h1m-9.8 .1h1m2.9 0h1m1.2 0h1m-.2 0h1m2.9 0h1m1.4 0h1m.3 0h1m.7 0h1m-.9 0h1m-19.5 .1h1m4.9 0h1m.5 0h1m1.9 0h1m4.1 0h1m2.5 0h1m.3 0h1m-17.6 .1h1m.9 0h1m-1.1 .1h1m1 0h1m-.8 0h1m-.9 0h1m1.4 0h1m2.3 0h1m3.9 0h1m-.5 0h1m-16.2 .1h1m3.4 0h1m-.4 0h1m1.2 0h1m-.9 0h1m2.8 0h1m-.8 0h1m-14.2 .1h1m6.8 0h1m0 0h1m-.8 0h1m4.5 0h1m-8.1 .1h1m8.7 0h1m-14.2 .1h1m1.8 0h1m2.1 0h1m-9.7 .1h1m-.9 0h1m2.5 0h1m-.4 0h1m-1 0h1m4.1 0h1m.6 0h1m3 0h1m-18.4 .1h1m1.5 0h1m3.4 0h1m.8 0h1m-.5 0h1m-.2 0h1m3 0h1m-7.7 .1h1m.3 0h1m-.8 0h1m-.2 0h1m-7.9 .1h1m2.9 0h1m0 0h1m-.8 0h1m2.1 0h1m5 0h1m-15.8 .1h1m2.4 0h1m.9 0h1m-.5 0h1m-1 0h1m2.6 0h1m1.5 0h1m.2 0h1m1.7 0h1m-17.8 .1h1m1.9 0h1m.2 0h1m2.3 0h1m.6 0h1m-11 .1h1m4.2 0h1m4.8 0h1m3 0h1m-10.5 .1h1m4.1 0h1m-4.9 .1h1m-.1 0h1m1.9 0h1m9 0h1m-18.1 .1h1m3 0h1m1.9 0h1m.3 0h1m-.2 0h1m-.6 0h1m-.3 0h1m-1 0h1m-15.2 .1h1m.5 0h1m4.3 0h1m-.9 0h1m.4 0h1m-1 0h1m9.2 0h1m-14 .1h1m1.5 0h1m.2 0h1m1.6 0h1m-1 0h1m-.1 0h1m.8 0h1m2.9 0h1m-19.1 .1h1m5.4 0h1m2.4 0h1m-.3 0h1m-6.6 .1h1m1.5 0h1m-.6 0h1m.1 0h1m0 0h1m-.8 0h1m-.8 0h1m-.5 0h1m4.4 0h1m1.5 0h1m-14.5 .1h1m.4 0h1m.8 0h1m.1 0h1m-.4 0h1m-.5 0h1m4.1 0h1m1.6 0h1m-16.4 .1h1m5.6 0h1m-.3 0h1m4.3 0h1m-12.9 .1h1m1 0h1m-.5 0h1m3.1 0h1m-.8 0h1m.1 0h1m1 0h1m1.6 0h1m-15 .1h1m2.9 0h1m4.9 0h1m-.6 0h1m-7.3 .1h1m5.1 0h1m1.1 0h1m.3 0h1m-13.9 .1h1m3.3 0h1m-.7 0h1m1.5 0h1m-.5 0h1m-1 0h1m-10.7 .1h1m2.2 0h1m3.4 0h1m2 0h1m-.1 0h1m-.6 0h1m-14.2 .1h1m4 0h1m.8 0h1m1.5 0h1m.8 0h1m2.6 0h1m-.8 0h1m.5 0h1m-9.7 .1h1m-.6 0h1m-.3 0h1m1.2 0h1m-9.9 .1h1m6.5 0h1m-.4 0h1m3.2 0h1m5.8 0h1m-18 .1h1m2.2 0h1m.5 0h1m6.7 0h1m-16.5 .1h1m5.1 0h1m.9 0h1m-1 .1h1m1.2 0h1m-.7 0h1m-.3 0h1m-.6 0h1m-.4 0h1m.4 0h1m-8.1 .1h1m3 0h1m-9.1 .1h1m-.4 0h1m2.2 0h1m1 0h1m.1 0h1m-.8 0h1m.6 0h1m0 0h1m-.9 0h1m6.6 0h1m-8.8 .1h1m-5.3 .1h1m2.2 0h1m1.1 0h1m-.4 0h1m-18 .1h1m6.9 0h1m2.6 0h1m-.4 0h1m-.5 0h1m.9 0h1m.5 0h1m-.7 0h1m-9.2 .1h1m4 0h1m-.7 0h1m.3 0h1m.2 0h1m-.4 0h1m5.3 0h1m-17.4 .1h1m1.1 0h1m-.1 0h1m1.5 0h1m1.7 0h1m.4 0h1m.2 0h1m-1 0h1m-4 .1h1m-.7 0h1m3.4 0h1m-1 0h1m2.1 0h1m-16.9 .1h1m.8 0h1m1.1 0h1m6.3 0h1m.1 0h1m-12.3 .1h1m.6 0h1m-.8 0h1m1.2 .1h1m.2 0h1m1.2 0h1m-12.5 .1h1m-.2 0h1m.4 0h1m.6 0h1m2.2 0h1m-.4 0h1m-3.3 .1h1m4.2 0h1m.6 0h1m3.2 0h1m2.1 0h1m-13.9 .1h1m.2 0h1m.7 0h1m-12.4 .1h1m1.8 0h1m3.2 0h1m4.3 0h1m-.8 0h1m3.4 0h1m3.7 0h1m-20.3 .1h1m5.1 0h1m1.4 0h1m7.7 0h1m-7.8 .1h1m-.9 0h1m-.7 0h1m-.7 0h1m5.8 0h1m-14 .1h1m.3 0h1m3.1 0h1m-.7 0h1m-9.7 .1h1m2.4 0h1m-.1 0h1m-.2 0h1m.9 0h1m1.3 0h1m-.5 0h1m-11.2 .1h1m2.6 0h1m5.7 0h1m-.4 0h1m-.1 0h1m1.7 0h1m3 0h1m.3 0h1m-22.5 .1h1m1.7 0h1m3.8 0h1m1.8 0h1m2.3 0h1m-.8 0h1m3.3 0h1m-17.6 .1h1m-.6 0h1m.7 0h1m.8 0h1m-.9 0h1m-.9 0h1m.5 0h1m.4 0h1m-.5 0h1m-.4 0h1m1 0h1m1.2 0h1m-14.1 .1h1m7.6 0h1m-.7 0h1m.7 0h1m-.9 0h1m.6 0h1m-12.6 .1h1m3.7 0h1m3.4 0h1m-.2 0h1m.9 0h1m-10.9 .1h1m14.4 0h1m-13.6 .1h1m1.9 0h1m.1 0h1m1.1 0h1m-13.2 .1h1m3 0h1m-.8 0h1m-.3 0h1m3.3 0h1m-3.1 .1h1m-.6 0h1m8.9 0h1m-.3 0h1m-15.7 .1h1m-.7 0h1m2 0h1m3.1 0h1m-.2 0h1m-.3 0h1m-14 .1h1m2.4 0h1m1.9 0h1m2.5 0h1m-.7 0h1m1.1 0h1m-.7 0h1m-11.1 .1h1m-.5 0h1m-.7 0h1m1.7 0h1m4.1 0h1m-.5 0h1m-.6 0h1m.4 0h1m8.5 0h1m-26.5 .1h1m.1 0h1m4.2 0h1m-.5 0h1m.1 0h1m-.7 0h1m-.7 0h1m5 0h1m-14.8 .1h1m2.8 0h1m5.7 0h1m0 0h1m-11.8 .1h1m7.4 0h1m1.3 0h1m.7 0h1m1.4 0h1m-8.6 .1h1m2.1 0h1m1.5 0h1m1.6 0h1m-11 .1h1m.3 0h1m.2 0h1m.5 0h1m-.7 0h1m-1 0h1m-.5 0h1m.6 0h1m6.8 0h1m-15.3 .1h1m-.8 0h1m0 0h1m1.6 0h1m.6 0h1m-.6 0h1m1.8 0h1m5.6 0h1m-15.2 .1h1m.3 0h1m.1 0h1m.2 0h1m1.2 0h1m-.8 0h1m4.8 0h1m.1 0h1m-13.2 .1h1m.4 0h1m1.4 0h1m-.6 0h1m.2 0h1m-4.7 .1h1m1.2 0h1m-.9 0h1m1 0h1m.9 0h1m2 0h1m-14.7 .1h1m.6 0h1m1.2 0h1m-.9 0h1m.3 0h1m-3.6 .1h1m-.7 0h1m2.3 0h1m-.4 0h1m3.2 0h1m-.7 0h1m-16.5 .1h1m2.2 0h1m6.4 0h1m-.6 0h1m-.5 0h1m.2 0h1m2.2 0h1m-8.9 .1h1m-.6 0h1m.4 0h1m.3 0h1m1.4 0h1m-1 0h1m2.6 0h1m-13.8 .1h1m1.1 0h1m1.7 0h1m-1 0h1m-.6 0h1m.2 0h1m1.2 0h1m2.7 0h1m-11.4 .1h1m2 0h1m1.8 0h1m2.4 0h1m-12.6 .1h1m4.6 0h1m2.3 0h1m-.3 0h1m-.5 0h1m.5 0h1m4.3 0h1m-22.1 .1h1m6.4 0h1m3.9 0h1m-.5 0h1m3.3 0h1m-15.7 .1h1m4.6 0h1m-.7 0h1m.7 0h1m1.8 0h1m-.6 0h1m6.2 0h1m-.7 0h1m-15.2 .1h1m.3 0h1m-.3 0h1m5.2 0h1m.6 0h1m-6.1 .1h1m-.4 0h1m.7 0h1m1.1 0h1m-11 .1h1m2.6 0h1m2.5 0h1m-.6 0h1m-.3 0h1m-.1 0h1m9.2 0h1m-18 .1h1m1.1 0h1m-.8 0h1m-.8 0h1m2.7 0h1m1.5 0h1m-12.9 .1h1m.3 0h1m4.1 0h1m-5.4 .1h1m.6 0h1m3.2 0h1m.5 0h1m5.6 0h1m-20.5 .1h1m2.2 0h1m.5 0h1m3.4 0h1m-.9 0h1m.1 0h1m-7.9 .1h1m8.5 0h1m.1 0h1m-.9 0h1m1.8 0h1m-7.9 .1h1m2.6 0h1m-16.1 .1h1m5.9 0h1m.5 0h1m-.6 0h1m6.4 0h1m-11.8 .1h1m5 0h1m-.8 0h1m2.3 0h1m.7 0h1m-17.1 .1h1m3.7 0h1m-1 0h1m0 0h1m4.2 0h1m2.6 0h1m.7 0h1m0 0h1m-9.7 .1h1m2.1 0h1m1.4 0h1m.4 0h1m-.2 0h1m10.6 0h1m-18.3 .1h1m-.5 0h1m-.3 0h1m-.9 0h1m.1 0h1m3.1 0h1m-17.7 .1h1m6.7 0h1m-.3 0h1m5.4 0h1m1.2 0h1m-.6 0h1m2.6 0h1m-15 .1h1m4.6 0h1m-.5 0h1m7.1 0h1m-14.9 .1h1m-.4 0h1m-.4 0h1m6 0h1m-.5 0h1m-17.3 .1h1m1.6 0h1m7.6 0h1m-.6 0h1m0 0h1m2.7 0h1m-.1 0h1m3.2 0h1m1.8 0h1m-17.1 .1h1m1.5 0h1m3 0h1m-14.3 .1h1m5 0h1m3.6 0h1m1.4 0h1m3.2 0h1m-13.2 .1h1m.5 0h1m2.6 0h1m-.4 0h1m7 0h1m2.1 0h1m-20.4 .1h1m1.1 0h1m3.4 0h1m-.3 0h1m0 0h1m-.5 0h1m3.2 0h1m-17.5 .1h1m7.1 0h1m0 0h1m1.7 0h1m2.7 0h1m.2 0h1m-13.4 .1h1m-.3 0h1m-.8 0h1m3 0h1m2.9 0h1m.5 0h1m.3 0h1m6 0h1m-22.4 .1h1m5.7 0h1m-.3 0h1m-.5 0h1m2.4 0h1m.8 0h1m-11.9 .1h1m1.6 0h1m-.2 0h1m-.4 0h1m.6 0h1m-.7 0h1m-.6 0h1m-.1 0h1m-.8 0h1m-.7 0h1m-.8 0h1m.6 0h1m3.2 0h1m1.1 0h1m-15.4 .1h1m.3 0h1m7.1 0h1m-.4 0h1m-.8 0h1m-.3 0h1m9.5 0h1m-25.2 .1h1m2.1 0h1m2.3 0h1m2.4 0h1m3.5 0h1m1.4 0h1m-14.8 .1h1m1.3 0h1m4.7 0h1m-10.6 .1h1m1.8 0h1m.3 0h1m.5 0h1m.8 0h1m.9 0h1m.9 .1h1m-10.1 .1h1m.3 0h1m-.6 0h1m5.9 0h1m-3.1 .1h1m-11.4 .1h1m3.1 0h1m9.7 0h1m-13.8 .1h1m-.8 0h1m2.2 0h1m9 0h1m-13.7 .1h1m-.7 0h1m1.1 0h1m1.8 0h1m-.6 0h1m.4 0h1m.5 0h1m1.8 0h1m-13.2 .1h1m-1 0h1m3.4 0h1m-.7 0h1m3.7 0h1m-12.8 .1h1m-.5 0h1m2 0h1m3.6 0h1m3 0h1m-.8 0h1m-.8 0h1m-.6 0h1m-.8 0h1m1.3 0h1m-10.5 .1h1m-5 .1h1m9.7 0h1m1.5 0h1m-15.8 .1h1m5.6 0h1m-.3 0h1m-.3 0h1m.4 0h1m-.4 0h1m2.2 0h1m2.3 0h1m-.8 0h1m-15.3 .1h1m3.7 0h1m2.5 0h1m-.9 0h1m-.2 0h1m1.1 0h1m-12.6 .1h1m1.4 0h1m-.6 0h1m-.7 0h1m-.8 0h1m-.9 0h1m7.8 0h1m.2 0h1m-.4 0h1m-13 .1h1m1.1 0h1m.2 0h1m-.4 0h1m-1 0h1m1.7 0h1m-.5 0h1m0 0h1m-8.2 .1h1m1.6 0h1m-.9 0h1m-.8 0h1m3.5 0h1m10.8 0h1m-23.2 .1h1m2.8 0h1m4.6 0h1m2.6 0h1m.3 0h1m-17.4 .1h1m1.4 0h1m1 0h1m.7 0h1m-.5 0h1m-.4 0h1m-.4 0h1m-.5 0h1m-.6 0h1m-.2 0h1m4 0h1m-8.5 .1h1m.4 0h1m-.2 0h1m-.7 0h1m.2 0h1m-.9 0h1m-.4 0h1m-9.3 .1h1m2.3 0h1m1.8 0h1m12.3 0h1m1.8 0h1m-26.9 .1h1m5.8 0h1m-.6 0h1m3.2 0h1m0 0h1m.7 0h1m-.1 0h1m-14.4 .1h1m3.2 0h1m1.3 0h1m1.4 0h1m1.6 0h1m.2 0h1m0 0h1m-15.7 .1h1m.2 .1h1m3.6 0h1m4.8 0h1m-.4 0h1m-10.1 .1h1m8 0h1m-.9 0h1m-12 .1h1m2.4 0h1m.9 0h1m-.7 0h1m-.5 0h1m3.9 0h1m2.2 0h1m2.5 0h1m-17.7 .1h1m1.7 0h1m2.5 0h1m3.4 0h1m-10.3 .1h1m-.1 0h1m-.6 0h1m-.4 0h1m-.5 0h1m-.1 0h1m.1 0h1m1 0h1m.7 0h1m-10.4 .1h1m8.2 0h1m5.2 0h1m-13.6 .1h1m.5 0h1m4.5 0h1m1.9 0h1m-11.9 .1h1m6.1 0h1m-.8 0h1m1.3 0h1m1 0h1m-7.6 .1h1m1.1 0h1m.6 0h1m-12.1 .1h1m.2 0h1m1.9 0h1m.2 0h1m-.7 0h1m-.7 0h1m-3.5 .1h1m2.6 0h1m1.5 0h1m8.8 0h1m-.8 0h1m-9.4 .1h1m-13.1 .1h1m7.5 0h1m0 0h1m1.7 0h1m2.1 0h1m-7.8 .1h1m-.1 0h1m-.7 0h1m-.6 0h1m-.8 0h1m-.5 0h1m.1 0h1m2.6 0h1m4.3 0h1m-17.7 .1h1m1.9 0h1m-.4 0h1m.7 0h1m7.6 0h1m3.7 0h1m-19.4 .1h1m1.3 0h1m3.2 0h1m1.6 0h1m-14.7 .1h1m8.2 0h1m-.1 0h1m1.6 0h1m.2 0h1m-.2 0h1m-15.4 .1h1m9.4 0h1m-.9 0h1m4.6 0h1m-.6 0h1m2.3 0h1m-16.2 .1h1m1.1 0h1m1.2 0h1m3.1 0h1m.1 0h1m-.8 0h1m-8.8 .1h1m7.1 0h1m-17.1 .1h1m2.2 0h1m.4 0h1m1.3 0h1m1.5 0h1m6.5 0h1m1.3 0h1m-20.8 .1h1m10.2 0h1m-4.4 .1h1m4 0h1m.6 0h1m4.4 0h1m-17.5 .1h1m.6 0h1m.2 0h1m1.1 0h1m1.4 0h1m-.8 0h1m.4 0h1m0 0h1m.3 0h1m2.5 0h1m-8.4 .1h1m-11.8 .1h1m4.3 0h1m.7 0h1m1.7 0h1m1.8 0h1m-5.8 .1h1m6.8 0h1m-.4 0h1m.2 0h1m.8 0h1m-9.9 .1h1m2.9 0h1m-.3 0h1m-5.7 .1h1m3 0h1m.3 0h1m.4 0h1m-15.5 .1h1m-.4 .1h1m3.9 0h1m1.2 0h1m2.6 0h1m1.8 0h1m1.6 0h1m-8.9 .1h1m.5 0h1m1 0h1m-.8 0h1m-1 0h1m.4 0h1m-10.7 .1h1m8.4 0h1m-.9 0h1m-.5 0h1m3 0h1m-20 .1h1m1.9 0h1m1.6 0h1m1.2 0h1m-.8 0h1m1.3 0h1m2.2 0h1m1.6 0h1m-13.2 .1h1m1.2 0h1m-.2 0h1m2.5 0h1m-.3 0h1m-.1 0h1m-8.1 .1h1m.5 0h1m-1 0h1m.2 0h1m-.8 0h1m-.5 0h1m-.1 0h1m2.5 0h1m-12.1 .1h1m1.4 0h1m2.7 0h1m2 0h1m1.9 0h1m-12 .1h1m1.9 0h1m2.3 0h1m-.1 0h1m-3.3 .1h1m1.3 0h1m.1 0h1m.1 0h1m2.6 0h1m-11.5 .1h1m3.1 0h1m1.7 0h1m1.4 0h1m-10.6 .1h1m-.7 0h1m2.6 0h1m.7 0h1m-6.4 .1h1m2.3 0h1m1.8 0h1m4.1 0h1m-8.3 .1h1m1.1 0h1m2 0h1m1.5 0h1m1.4 0h1m-15.9 .1h1m.1 0h1m.5 0h1m5.8 0h1m.1 0h1m2.3 0h1m1.7 0h1m-18.7 .1h1m4.6 0h1m.8 0h1m-9.8 .1h1m5.1 0h1m.6 0h1m1.8 0h1m-4.4 .1h1m-.7 0h1m.2 0h1m2.3 0h1m4.1 0h1m-1 0h1m5 0h1m-16.1 .1h1m4 0h1m.9 0h1m.3 0h1m-.8 0h1m-17.7 .1h1m7.9 0h1m1.1 0h1m.6 0h1m-9.5 .1h1m3.5 0h1m4.3 0h1m.2 0h1m-.5 0h1m-17.4 .1h1m4.1 0h1m.2 0h1m.6 0h1m3.1 0h1m-.6 0h1m3.4 0h1m-12.1 .1h1m7.8 0h1m-13.8 .1h1m11.6 0h1m2.9 0h1m-13.6 .1h1m6.4 0h1m5.7 0h1m-12.4 .1h1m-.4 0h1m3.6 0h1m4.3 0h1m-18.1 .1h1m5.6 0h1m0 0h1m2.7 0h1m1.6 0h1m.1 0h1m-10.9 .1h1m-.4 0h1m1.1 0h1m8.7 0h1m-15.6 .1h1m-.4 0h1m.2 0h1m1.9 0h1m4.9 0h1m7.6 0h1m-14.3 .1h1m2 0h1m-4.1 .1h1m1.1 0h1m-13.8 .1h1m9.5 0h1m2.1 0h1m1.1 0h1m3 0h1m-18.1 .1h1m.8 0h1m6.9 0h1m-9.2 .1h1m1.7 0h1m3 0h1m-.2 0h1m.3 0h1m-6 .1h1m-.9 0h1m9.8 0h1m1.8 0h1m-19.8 .1h1m5.3 0h1m1.1 0h1m1.8 0h1m-3.6 .1h1m4.3 0h1m-18 .1h1m2.1 0h1m1.8 0h1m1.2 0h1m-.2 0h1m1.6 0h1m-.5 0h1m1.2 0h1m2.8 0h1m-.2 0h1m-18.5 .1h1m8.4 0h1m4.6 0h1m-12.2 .1h1m.3 0h1m3.3 0h1m.6 0h1m4 0h1m.3 0h1m0 0h1m.4 0h1m0 0h1m-11.6 .1h1m-5.4 .1h1m1.1 0h1m-2.6 .1h1m-.3 0h1m3.7 0h1m4.6 0h1m6.8 0h1m-18.7 .1h1m-.1 0h1m-.6 0h1m2.5 0h1m1.9 0h1m-.1 0h1m-15.2 .1h1m12.3 0h1m2.4 0h1m-13.6 .1h1m3.5 0h1m.1 0h1m2.2 0h1m1.1 0h1m5.3 0h1m-6.8 .2h1m-12.9 .1h1m4.2 0h1m1.9 0h1m-.9 .1h1m-12.8 .1h1m2.7 0h1m4.2 0h1m1.8 0h1m.7 0h1m-10.3 .1h1m1.1 0h1m4.2 0h1m-6.9 .1h1m-.2 0h1m1.6 0h1m2.1 0h1m-.4 0h1m.6 0h1m-17.1 .1h1m1.1 0h1m.9 0h1m4.8 0h1m5.8 0h1m-15.6 .1h1m.7 0h1m-.4 0h1m-.9 0h1m1.5 0h1m-.1 0h1m3.1 0h1m-10.1 .1h1m5.7 0h1m1.7 0h1m-.8 0h1m1.4 0h1m-8.9 .1h1m.2 0h1m0 0h1m1.9 0h1m-2.9 .1h1m2.6 0h1m4.9 0h1m-15.8 .1h1m1.3 0h1m1.5 0h1m4.2 0h1m3.6 0h1m-9.4 .1h1m-.9 0h1m2 0h1m2.7 0h1m-19.4 .1h1m6.5 .1h1m1.3 0h1m.6 0h1m-.7 .1h1m-.9 .1h1m.7 0h1m-.6 0h1m-14.9 .1h1m0 0h1m4.2 0h1m2.8 0h1m2.8 0h1m2.6 0h1m-16.8 .1h1m2.4 0h1m-.4 0h1m5.8 0h1m4.5 0h1m-11.3 .1h1m1.3 0h1m1 0h1m1 0h1m-.5 0h1m1.9 0h1m-11.6 .1h1m-.3 0h1m9.3 0h1m-19 .1h1m10.2 0h1m1.1 0h1m-.3 0h1m-.4 0h1m-6 .1h1m-.2 0h1m1.1 0h1m-13.7 .1h1m5.4 0h1m3.2 0h1m-3.8 .1h1m3.1 0h1m.1 0h1m-8.9 .1h1m2.7 0h1m2.3 0h1m-.8 0h1m-.7 0h1m3.5 0h1m.2 0h1m-12 .1h1m7.8 0h1m-.8 .1h1m-7.4 .1h1m-.8 0h1m2.1 0h1m.9 0h1m-14 .1h1m5.1 0h1m.6 0h1m.2 0h1m1 0h1m-.6 0h1m1.2 0h1m-4.5 .1h1m-4.5 .1h1m-.4 0h1m0 0h1m.2 0h1m.2 0h1m.9 0h1m-11.8 .2h1m.1 0h1m.3 0h1m-.7 0h1m4 0h1m4.2 0h1m-9.2 .1h1m6.6 0h1m-.3 0h1m-10.2 .1h1m7 0h1m-.8 0h1m2.7 0h1m-16.3 .1h1m-1 0h1m1.5 0h1m1.2 0h1m1.1 0h1m.2 0h1m1.1 0h1m-11.6 .1h1m6.6 0h1m1.4 0h1m1.8 0h1m-7.4 .1h1m-.3 0h1m-6.7 .1h1m.8 0h1m-4.9 .1h1m-.7 0h1m.3 0h1m2.6 0h1m.3 0h1m3.5 0h1m3.7 0h1m-20.5 .1h1m6.2 0h1m4.8 0h1m-.4 0h1m-10.1 .1h1m.8 0h1m.2 0h1m9 0h1m-9.4 .1h1m1.8 0h1m-.8 0h1m2.9 0h1m-5.4 .1h1m-3 .1h1m-3 .1h1m5 0h1m.4 0h1m.3 0h1m-11 .2h1m.1 0h1m-1.1 .1h1m7.1 0h1m2.7 0h1m-13.1 .1h1m4.9 0h1m-8.3 .2h1m1.6 0h1m6 0h1m-1 0h1m-.3 0h1m-.3 0h1m-3 .1h1m-1.1 .1h1m-.5 0h1m-8.4 .1h1m.8 0h1m-.2 .1h1m-1 0h1m1.1 0h1m1.8 0h1m.1 0h1m1.4 0h1m-13.5 .1h1m-1 0h1m-.3 0h1m7.5 .1h1m-6.3 .1h1m1.4 0h1m1.6 0h1m-3.3 .1h1m-7.9 .1h1m2.2 0h1m-.5 0h1m.2 0h1m.3 0h1m2.5 0h1m1.1 0h1m-9.2 .1h1m7 0h1m-4.4 .1h1m-.8 0h1m1.6 0h1m-8.7 .1h1m3.3 0h1m-11.4 .1h1m-.1 0h1m2.1 0h1m3.9 0h1m12 0h1m-19.3 .1h1m1.4 0h1m3.9 0h1m1 0h1m-9 .1h1m5.2 0h1m.7 0h1m.4 0h1m-7.5 .2h1m.3 0h1m1.7 0h1m-12.2 .1h1m3.1 0h1m-.6 0h1m1.5 0h1m.1 0h1m-.2 0h1m-11.5 .1h1m-.4 0h1m-.8 0h1m4.2 .1h1m-.2 0h1m6.2 .1h1m1.8 0h1m-.2 0h1m-13.8 .1h1m4.9 0h1m3.1 .1h1m-13.2 .1h1m-.4 0h1m6.6 0h1m-1.5 .1h1m1.2 0h1m1.5 0h1m-7 .1h1m-.1 0h1m4.1 0h1m-8.6 .2h1m-3.2 .1h1m13.2 0h1m-12.9 .1h1m-.6 0h1m6.7 0h1m-11.8 .1h1m6.1 0h1m4 0h1m.7 0h1m-18.1 .1h1m3.6 0h1m5.2 0h1m3.5 0h1m-13 .2h1m1.7 0h1m-.9 0h1m-.4 0h1m1.3 0h1m3.6 0h1m.8 0h1m-1 0h1m-.9 0h1m-.3 0h1m-19.7 .1h1m14.3 0h1m-.7 0h1m1.8 0h1m-18.4 .1h1m8.6 0h1m-12.1 .1h1m3.8 0h1m4.6 0h1m-.1 0h1m2.7 0h1m-.9 0h1m-8.6 .1h1m2.6 0h1m-.7 0h1m3.5 0h1m-7 .1h1m8.1 0h1m-21.1 .1h1m7.5 0h1m.5 0h1m12.3 0h1m-14.3 .2h1m-.3 .1h1m.3 0h1m9.2 0h1m-16.8 .1h1m6.1 0h1m-5.9 .1h1m5.7 0h1m1.6 .1h1m-3.1 .1h1m-8 .1h1m.8 0h1m10.6 0h1m-19.6 .2h1m4.7 0h1m0 0h1m10.3 .1h1m-15.5 .1h1m6.1 0h1m1.9 0h1m.1 0h1m1.5 0h1m-17.4 .1h1m6.5 0h1m-3.2 .1h1m.9 0h1m-2.7 .1h1m5.9 0h1m-3.7 .1h1m-6.4 .1h1m3 0h1m9.5 0h1m-9.7 .1h1m-11.5 .1h1m3.9 .1h1m1.5 0h1m-8.1 .1h1m7.2 0h1m-2.6 .2h1m.1 0h1m-6.7 .1h1m.2 0h1m2.3 0h1m-.4 0h1m.3 .1h1m5 0h1m-19.1 .1h1m14.2 0h1m.2 0h1m.7 0h1m-.5 0h1m-8.8 .1h1m-.9 0h1m.3 0h1m6.1 .1h1m-15.5 .2h1m4.3 0h1m-.3 0h1m2.6 0h1m-6.8 .2h1m2.9 0h1m-8.4 .1h1m3.2 .1h1m4.1 0h1m-1.1 .1h1m-3.7 .2h1m-1.5 .1h1m-5.6 .1h1m-1.3 .1h1m9.7 .1h1m-10.7 .1h1m-.2 0h1m11.2 0h1m.2 0h1m-18.1 .1h1m4.1 0h1m.5 0h1m1.4 0h1m.7 0h1m.4 0h1m-2.9 .2h1m-7.4 .2h1m6.3 0h1m-1.4 .1h1m-.2 0h1m-10 .1h1m4.7 0h1m-9.8 .2h1m-.7 .1h1m11.8 0h1m-9.9 .1h1m-4.4 .1h1m.1 0h1m3.4 .2h1m.3 0h1m7.7 0h1m-12.3 .1h1m-.6 .2h1m-7.2 .2h1m6.8 0h1m.9 0h1m7.4 0h1m-12.4 .2h1m2.6 .1h1m8 0h1m-19 .2h1m3.3 0h1m2 0h1m-.8 0h1m1.3 0h1m7.9 0h1m-13.2 .2h1m4.2 0h1m-10 .1h1m4.4 0h1m0 .3h1m1.7 .1h1m-12.4 .1h1m-.5 0h1m4.2 .1h1m-9.6 .1h1m6.6 0h1m3.9 0h1m-9.7 .1h1m3.7 0h1m-.7 .1h1m3.2 .1h1m-.6 0h1m4.6 .1h1m-15.5 .1h1m3.4 0h1m-1.4 .2h1m-6.9 .2h1m2.4 0h1m4.8 .1h1m-11.5 .2h1m4.3 0h1m2.1 0h1m-.5 .2h1m-8.8 .1h1m6.5 0h1m8.2 .4h1m-8.8 .2h1m13.4 .1h1m-17.7 .2h1m2.9 0h1m-3.5 .1h1m-5.3 .2h1m8.3 0h1m-9.7 .1h1m-.9 0h1m7.1 .1h1m-18 .1h1m2.3 .2h1m4.4 0h1m2.8 .1h1m-.3 0h1m-.2 .2h1m-3.2 .2h1m2.4 .3h1m-7.4 .1h1m-2 .1h1m1.6 0h1m-6.6 .1h1m7.3 .2h1m.7 .1h1m-.6 0h1m-8.4 .9h1m.9 .1h1m2.9 0h1m-10.3 .3h1m5.7 0h1m2.2 0h1m3.4 0h1m-2.9 .2h1m3 1.7h1m-11.8 .1h1m1.7 .1h1m2.3 .1h1m-8.9 .2h1m4.1 .1h1m-6.5 .5h1m6 .4h1" stroke="#000" stroke-width="1"/>
<rect x="389" y="236" width="20.5" height="68" rx="10" ry="14" fill="#000"/>
<path d="M381.4 232.6h.8m-18.8 2.1h.8m7.7 3.6h.8m2 2.1h.8m-4.3 .2h.8m-1.7 .2h.8m2.1 1.2h.8m4.4 1h.8m-4.4 1.3h.8m2.9 .1h.8m-14.2 1h.8m2.4 .1h.8m7.6 .5h.8m-.8 .1h.8m-7.9 1.1h.8m.9 .3h.8m3.2 .3h.8m-9.5 .5h.8m.4 .8h.8m1.2 2h.8m1.1 .1h.8m.4 .1h.8m-5.4 .1h.8m10.6 .2h.8m-9.8 .5h.8m.8 .1h.8m-6.3 .1h.8m-.7 .1h.8m11.4 .1h.8m-4.7 .6h.8m-1.1 .1h.8m5.5 .1h.8m-6.6 .1h.8m-6.7 .3h.8m5.2 .4h.8m8.1 .1h.8m-.9 .4h.8m-3 .2h.8m-3.2 .1h.8m-3.6 .3h.8m-.8 .2h.8m-7.6 .1h.8m3.5 0h.8m-1.6 .1h.8m-3.7 .1h.8m6.5 0h.8m5.5 0h.8m-10.4 .1h.8m-3.8 .1h.8m-8.4 .6h.8m3.2 .1h.8m11.6 .1h.8m-9.4 .8h.8m11 .7h.8m-10.7 .2h.8m5.4 0h.8m-8.6 .1h.8m5.1 .3h.8m1.8 .2h.8m-7.4 .9h.8m9.3 .5h.8m-15.6 .4h.8m5.9 .1h.8m-4.1 .3h.8m-.8 .5h.8m-2.6 .1h.8m10.4 0h.8m-11.5 .5h.8m7.6 0h.8m-.7 .1h.8m-6.9 .3h.8m9.6 0h.8m-5.4 .1h.8m-3.3 .5h.8m-1.7 .2h.8m-5.1 .1h.8m5.1 .4h.8m-9.8 .6h.8m5.8 0h.8m-9.2 .1h.8m8.5 .6h.8m-12.3 .5h.8m18 .1h.8m-.8 .5h.8m-26.2 .1h.8m19.7 0h.8m-6.2 .1h.8m-10.3 .2h.8m17.3 0h.8m-2.6 .1h.8m1 0h.8m-21.6 .2h.8m13.8 0h.8m-15.3 .5h.8m21.4 0h.8m-6.2 .1h.8m2.5 .4h.8m-11.2 .2h.8m11.7 0h.8m-4.4 .1h.8m1.5 0h.8m-7.9 .1h.8m-10.9 .2h.8m9 0h.8m2.2 .1h.8m4.3 0h.8m.3 .3h.8m-6.6 .2h.8m-11.4 .2h.8m2.9 0h.8m-2.9 .2h.8m3.8 0h.8m-2.2 .1h.8m-13.2 .1h.8m15.7 0h.8m-17.9 .2h.8m8.8 0h.8m2.2 .2h.8m8.9 .2h.8m-.8 0h.8m-15.9 .1h.8m5 0h.8m11.3 .2h.8m-9.8 .1h.8m-.7 0h.8m-1.2 .1h.8m-5.2 .5h.8m7.6 .1h.8m-14.9 .1h.8m9.6 0h.8m-14.6 .1h.8m1.7 0h.8m0 0h.8m9.5 0h.8m7.3 0h.8m-13.5 .1h.8m-2.3 .1h.8m13.1 .2h.8m-7.6 .1h.8m-8.6 .2h.8m-17.3 .1h.8m21.7 0h.8m-4.3 .1h.8m2.3 .1h.8m5.1 .3h.8m-13.7 .1h.8m.4 0h.8m10.6 0h.8m-12 .3h.8m10.5 0h.8m-9.4 .4h.8m-1.5 .1h.8m4.4 .1h.8m-16.2 .1h.8m15.5 .3h.8m-6.6 .1h.8m7.7 0h.8m0 .2h.8m-12.1 .1h.8m3.4 .3h.8m-1.4 .1h.8m7.2 .4h.8m-9.5 .3h.8m.1 .1h.8m6.1 0h.8m-2.7 .1h.8m4.6 0h.8m-16.4 .1h.8m8.3 .2h.8m.7 0h.8m-2.8 .3h.8m-4.6 .1h.8m-6 .2h.8m8.9 0h.8m-2.7 .2h.8m-7.9 .1h.8m4.1 .1h.8m-1 .1h.8m2.1 0h.8m-8.3 .3h.8m9.4 0h.8m-5.6 .1h.8m-10.6 .2h.8m-.1 0h.8m-4.3 .1h.8m13.5 .1h.8m-5.5 .5h.8m7.6 .1h.8m-5.2 .1h.8m.6 .2h.8m-7 .3h.8m-.2 .2h.8m7.6 0h.8m-7.1 .1h.8m-9.7 .1h.8m19.7 .1h.8m-22.5 .1h.8m17 0h.8m1.4 0h.8m-14 .4h.8m-3.5 .1h.8m.5 0h.8m9.1 0h.8m-11.1 .4h.8m1.7 0h.8m2.3 .2h.8m8.5 0h.8m-7.3 .1h.8m6.7 0h.8m-10 .4h.8m8.2 .1h.8m-8.2 .2h.8m-.5 .1h.8m4.1 0h.8m-17.1 .2h.8m6.6 0h.8m3.6 0h.8m2.7 0h.8m.8 0h.8m-7.5 .1h.8m-1.9 .2h.8m7.5 .1h.8m-15.1 .2h.8m3.3 .2h.8m1.4 0h.8m-1 .2h.8m-.3 .2h.8m-4.4 .1h.8m.6 .1h.8m.5 .2h.8m-10.2 .2h.8m16.6 .1h.8m-8.4 .1h.8m3.4 0h.8m-23.5 .1h.8m12.7 0h.8m11.8 .2h.8m-7.7 .6h.8m3.2 0h.8m-4.5 .2h.8m-.6 .2h.8m-6.1 .1h.8m-3.7 .1h.8m1.6 .2h.8m8.7 .4h.8m2.6 .1h.8m.7 .2h.8m-16.1 .8h.8m5.2 .2h.8m3.2 0h.8m-3.1 .1h.8m-1.3 .1h.8m-6.1 .4h.8m7.9 .1h.8m-13.3 .1h.8m1 0h.8m.4 .2h.8m9.4 0h.8m-.2 .2h.8m-7.3 .1h.8m6.3 .1h.8m-20 .1h.8m14.3 .4h.8m2.4 .2h.8m-.3 .1h.8m-6 .3h.8m1.3 .2h.8m3.6 .4h.8m-1.4 .1h.8m-13.3 .1h.8m-2.8 .3h.8m4.3 .6h.8m2.7 0h.8m-7.3 .4h.8m-.8 0h.8m2.5 0h.8m2.6 .1h.8m-4 .2h.8m1.4 .4h.8m5.8 .1h.8m-27.3 .2h.8m29.3 .5h.8m-2.4 .2h.8m-17.6 .3h.8m5.9 0h.8m4 .1h.8m-7.7 .2h.8m-7.1 .1h.8m-.6 0h.8m14.8 .8h.8m-16.6 .1h.8m10.4 .2h.8m2.4 .4h.8m-14.6 .3h.8m1.9 .1h.8m10.3 0h.8m-20.6 .2h.8m14.4 .2h.8m-8 .2h.8m12.4 .4h.8m-9.8 .1h.8m3.9 .1h.8m1.7 .1h.8m-5.8 .1h.8m6.1 .2h.8m-9.5 .2h.8m-7.4 .1h.8m11.3 .1h.8m-19 1.1h.8m20.2 .3h.8m-9.7 1.1h.8m0 .1h.8m-2.1 .5h.8m10.9 .2h.8m-18 .6h.8m9.1 .2h.8m1.1 .1h.8m-1.2 .2h.8m5.3 .3h.8m-8.5 .8h.8m5.3 0h.8m2.9 .7h.8m-12.2 .9h.8m-12.3 1.6h.8m3.8 0h.8m17 .4h.8m-28.9 1.8h.8m16.8 .5h.8m0 .1h.8m2 .3h.8m3.2 .3h.8m-.7 .5h.8m-5 .3h.8m-11 .5h.8m3 2h.8m-.5 .1h.8" stroke="#111" stroke-width=".8"/>
<rect x="336.6" y="221.5" width="100.2" height="99.6" fill="none" stroke="#111" stroke-width="1.5"/>
<text x="344" y="238.1" font-size="11.92" fill="#1a1a1a" stroke="#1a1a1a" stroke-width="0.25">LDN</text>
<text x="407.5" y="312.5" font-size="11.92" fill="#1a1a1a" stroke="#1a1a1a" stroke-width="0.25">HDN</text>
<text x="333.2" y="321" font-size="11.92" fill="#1a1a1a" stroke="#1a1a1a" stroke-width="0.25" transform="rotate(-90 333.2 321)">SSC-A</text>
<text x="336.4" y="335" font-size="12.03" fill="#1a1a1a" stroke="#1a1a1a" stroke-width="0.25">CD45-KrO</text>
<line x1="324.6" y1="331.0" x2="324.6" y2="352.0" stroke="#111" stroke-width="1.5"/><path d="M324.6,357.5L321.4,351.5L327.8,351.5Z" fill="#111"/>
<rect x="234" y="366.2" width="189.2" height="20.6" rx="4" fill="#e2f3ea" stroke="#a3aca7" stroke-width="0.9"/>
<text x="328.9" y="381.7" font-size="12.13" text-anchor="middle" fill="#1a1a1a" stroke="#1a1a1a" stroke-width="0.25">172 neutrophil-expressing markers</text>
<text x="450.3" y="210" font-size="13.57" font-weight="bold" fill="#111">D</text>
<text x="578.8" y="223.6" font-size="12.23" text-anchor="middle" fill="#1a1a1a" stroke="#1a1a1a" stroke-width="0.25">172 selected markers UMAP</text>
<line x1="466" y1="229.3" x2="681.5" y2="229.3" stroke="#222" stroke-width="1.2"/>
<text x="526.4" y="244.4" font-size="12.13" text-anchor="middle" fill="#1a1a1a" stroke="#1a1a1a" stroke-width="0.25">HP</text>
<text x="632.2" y="244.4" font-size="12.13" text-anchor="middle" fill="#1a1a1a" stroke="#1a1a1a" stroke-width="0.25">GDM</text>
<path d="M504 288.5h1m2 0h1m0 0h1m-7 1h1m0 0h1m2 0h1m0 0h1m-6 1h1m0 0h1m0 0h1m0 0h1m0 0h1m0 0h1m-4 1h1m0 0h1m0 0h1m0 0h1m-6 1h1m1 0h1m5 0h1m-9 1h1m0 0h1m0 0h1m3 0h1m1 0h1m-11 1h1m0 0h1m0 0h1m2 0h1m0 0h1m0 0h1m0 0h1m1 0h1m-12 1h1m0 0h1m2 0h1m4 0h1m-11 1h1m2 0h1m2 0h1m1 0h1m1 0h1m-13 1h1m1 0h1m0 0h1m0 0h1m0 0h1m1 0h1m1 0h1m0 0h1m2 0h1m0 0h1m0 0h1m0 0h1m-20 1h1m0 0h1m0 0h1m0 0h1m0 0h1m1 0h1m1 0h1m0 0h1m2 0h1m2 0h1m0 0h1m0 0h1m0 0h1m-18 1h1m5 0h1m1 0h1m1 0h1m1 0h1m1 0h1m1 0h1m0 0h1m-21 1h1m2 0h1m0 0h1m0 0h1m0 0h1m1 0h1m0 0h1m1 0h1m3 0h1m0 0h1m1 0h1m1 0h1m0 0h1m-25 1h1m1 0h1m4 0h1m0 0h1m3 0h1m0 0h1m1 0h1m0 0h1m0 0h1m0 0h1m1 0h1m2 0h1m0 0h1m-25 1h1m1 0h1m0 0h1m2 0h1m0 0h1m0 0h1m4 0h1m6 0h1m3 0h1m-28 1h1m0 0h1m1 0h1m1 0h1m1 0h1m3 0h1m3 0h1m0 0h1m0 0h1m1 0h1m1 0h1m0 0h1m0 0h1m0 0h1m-25 1h1m1 0h1m0 0h1m0 0h1m2 0h1m0 0h1m0 0h1m1 0h1m1 0h1m1 0h1m0 0h1m0 0h1m0 0h1m1 0h1m2 0h1m1 0h1m-26 1h1m1 0h1m0 0h1m1 0h1m3 0h1m0 0h1m1 0h1m2 0h1m0 0h1m0 0h1m2 0h1m1 0h1m0 0h1m2 0h1m-29 1h1m0 0h1m1 0h1m0 0h1m0 0h1m1 0h1m3 0h1m1 0h1m1 0h1m1 0h1m0 0h1m0 0h1m0 0h1m2 0h1m1 0h1m0 0h1m-28 1h1m0 0h1m1 0h1m0 0h1m0 0h1m2 0h1m0 0h1m1 0h1m0 0h1m0 0h1m0 0h1m0 0h1m1 0h1m3 0h1m1 0h1m2 0h1m0 0h1m0 0h1m1 0h1m-31 1h1m1 0h1m0 0h1m1 0h1m2 0h1m0 0h1m0 0h1m1 0h1m0 0h1m1 0h1m0 0h1m0 0h1m1 0h1m2 0h1m1 0h1m1 0h1m3 0h1m0 0h1m-25 1h1m1 0h1m0 0h1m1 0h1m0 0h1m1 0h1m2 0h1m0 0h1m0 0h1m0 0h1m0 0h1m2 0h1m0 0h1m0 0h1m2 0h1m0 0h1m-34 1h1m5 0h1m0 0h1m0 0h1m4 0h1m1 0h1m1 0h1m0 0h1m4 0h1m2 0h1m0 0h1m2 0h1m-32 1h1m0 0h1m1 0h1m3 0h1m2 0h1m0 0h1m1 0h1m0 0h1m0 0h1m2 0h1m1 0h1m1 0h1m2 0h1m0 0h1m0 0h1m0 0h1m0 0h1m1 0h1m0 0h1m0 0h1m0 0h1m-35 1h1m0 0h1m0 0h1m1 0h1m1 0h1m2 0h1m0 0h1m3 0h1m0 0h1m2 0h1m1 0h1m2 0h1m0 0h1m1 0h1m1 0h1m2 0h1m0 0h1m0 0h1m-34 1h1m2 0h1m1 0h1m0 0h1m1 0h1m0 0h1m5 0h1m0 0h1m0 0h1m2 0h1m4 0h1m5 0h1m1 0h1m0 0h1m-33 1h1m1 0h1m5 0h1m0 0h1m1 0h1m2 0h1m2 0h1m8 0h1m1 0h1m0 0h1m1 0h1m1 0h1m-32 1h1m0 0h1m1 0h1m0 0h1m0 0h1m1 0h1m7 0h1m1 0h1m1 0h1m0 0h1m1 0h1m3 0h1m1 0h1m0 0h1m0 0h1m0 0h1m-36 1h1m1 0h1m1 0h1m2 0h1m0 0h1m0 0h1m0 0h1m6 0h1m0 0h1m0 0h1m1 0h1m2 0h1m1 0h1m0 0h1m1 0h1m0 0h1m0 0h1m1 0h1m-33 1h1m2 0h1m4 0h1m0 0h1m4 0h1m1 0h1m5 0h1m0 0h1m1 0h1m3 0h1m-32 1h1m0 0h1m1 0h1m0 0h1m0 0h1m0 0h1m0 0h1m0 0h1m3 0h1m0 0h1m2 0h1m2 0h1m0 0h1m3 0h1m0 0h1m0 0h1m5 0h1m0 0h1m1 0h1m-35 1h1m4 0h1m2 0h1m0 0h1m0 0h1m0 0h1m2 0h1m0 0h1m0 0h1m0 0h1m8 0h1m0 0h1m1 0h1m0 0h1m0 0h1m2 0h1m-35 1h1m0 0h1m3 0h1m0 0h1m3 0h1m0 0h1m0 0h1m0 0h1m6 0h1m0 0h1m0 0h1m2 0h1m3 0h1m0 0h1m0 0h1m0 0h1m0 0h1m-33 1h1m0 0h1m0 0h1m0 0h1m1 0h1m3 0h1m1 0h1m0 0h1m2 0h1m0 0h1m0 0h1m0 0h1m0 0h1m2 0h1m0 0h1m1 0h1m0 0h1m2 0h1m0 0h1m-33 1h1m0 0h1m0 0h1m0 0h1m1 0h1m2 0h1m0 0h1m0 0h1m2 0h1m2 0h1m0 0h1m3 0h1m4 0h1m2 0h1m0 0h1m3 0h1m-32 1h1m4 0h1m2 0h1m0 0h1m0 0h1m0 0h1m2 0h1m0 0h1m0 0h1m0 0h1m0 0h1m0 0h1m1 0h1m0 0h1m0 0h1m0 0h1m0 0h1m0 0h1m0 0h1m0 0h1m1 0h1m-33 1h1m2 0h1m0 0h1m0 0h1m0 0h1m0 0h1m1 0h1m4 0h1m0 0h1m0 0h1m0 0h1m0 0h1m0 0h1m0 0h1m0 0h1m1 0h1m2 0h1m0 0h1m0 0h1m0 0h1m1 0h1m-31 1h1m0 0h1m1 0h1m0 0h1m0 0h1m0 0h1m0 0h1m1 0h1m0 0h1m0 0h1m3 0h1m1 0h1m0 0h1m0 0h1m0 0h1m0 0h1m0 0h1m2 0h1m3 0h1m-28 1h1m0 0h1m0 0h1m2 0h1m0 0h1m0 0h1m2 0h1m5 0h1m1 0h1m1 0h1m2 0h1m0 0h1m0 0h1m0 0h1m2 0h1m-31 1h1m0 0h1m1 0h1m0 0h1m0 0h1m0 0h1m1 0h1m0 0h1m1 0h1m0 0h1m2 0h1m0 0h1m1 0h1m2 0h1m1 0h1m1 0h1m0 0h1m1 0h1m0 0h1m-28 1h1m5 0h1m1 0h1m0 0h1m0 0h1m0 0h1m0 0h1m0 0h1m0 0h1m0 0h1m1 0h1m1 0h1m0 0h1m1 0h1m0 0h1m0 0h1m0 0h1m1 0h1m-28 1h1m0 0h1m1 0h1m0 0h1m0 0h1m0 0h1m0 0h1m0 0h1m0 0h1m0 0h1m0 0h1m2 0h1m0 0h1m0 0h1m6 0h1m0 0h1m-24 1h1m8 0h1m0 0h1m0 0h1m0 0h1m0 0h1m1 0h1m1 0h1m2 0h1m2 0h1m0 0h1m0 0h1m-25 1h1m0 0h1m0 0h1m2 0h1m1 0h1m0 0h1m1 0h1m0 0h1m2 0h1m0 0h1m0 0h1m0 0h1m1 0h1m0 0h1m-19 1h1m1 0h1m0 0h1m0 0h1m0 0h1m1 0h1m0 0h1m2 0h1m0 0h1m2 0h1m0 0h1m2 0h1m-18 1h1m0 0h1m1 0h1m0 0h1m0 0h1m0 0h1m1 0h1m5 0h1m0 0h1m0 0h1m-17 1h1m0 0h1m1 0h1m7 0h1m1 0h1m0 0h1m0 0h1m-15 1h1m0 0h1m0 0h1m2 0h1m0 0h1m0 0h1m0 0h1m1 0h1m0 0h1m-10 1h1m2 0h1m1 0h1m1 0h1m0 0h1m0 0h1m0 0h1m-9 1h1m0 0h1m0 0h1m0 0h1m0 0h1m0 0h1m-5 1h1m1 0h1m2 0h1m-9 1h1m0 0h1m2 0h1m0 0h1m1 0h1m0 0h1m-3 1h1m1 0h1m0 0h1m-9 1h1m1 0h1m1 0h1m1 0h1m0 0h1m-6 1h1m1 0h1m1 0h1" stroke="#4a4af2" stroke-width="1"/>
<path d="M563 259.5h1m1 0h1m0 0h1m-5 1h1m0 0h1m-4 1h1m0 0h1m1 0h1m1 0h1m-6 1h1m0 0h1m2 0h1m1 0h1m0 0h1m-9 1h1m0 0h1m0 0h1m1 0h1m0 0h1m2 0h1m-9 1h1m0 0h1m0 0h1m2 0h1m-6 1h1m0 0h1m0 0h1m0 0h1m1 0h1m0 0h1m1 0h1m-11 1h1m0 0h1m0 0h1m1 0h1m2 0h1m-7 1h1m0 0h1m1 0h1m1 0h1m1 0h1m0 0h1m0 0h1m0 0h1m-12 1h1m0 0h1m1 0h1m0 0h1m0 0h1m3 0h1m-12 1h1m0 0h1m2 0h1m2 0h1m0 0h1m0 0h1m0 0h1m1 0h1m-13 1h1m0 0h1m0 0h1m1 0h1m0 0h1m1 0h1m3 0h1m0 0h1m1 0h1m-12 1h1m1 0h1m3 0h1m0 0h1m0 0h1m1 0h1m-14 1h1m1 0h1m2 0h1m2 0h1m0 0h1m2 0h1m-17 1h1m0 0h1m1 0h1m3 0h1m2 0h1m1 0h1m1 0h1m1 0h1m0 0h1m-16 1h1m0 0h1m0 0h1m1 0h1m1 0h1m0 0h1m1 0h1m3 0h1m0 0h1m-17 1h1m0 0h1m0 0h1m0 0h1m1 0h1m0 0h1m0 0h1m0 0h1m1 0h1m0 0h1m1 0h1m1 0h1m0 0h1m-19 1h1m1 0h1m0 0h1m1 0h1m0 0h1m4 0h1m2 0h1m0 0h1m0 0h1m0 0h1m1 0h1m0 0h1m-16 1h1m1 0h1m4 0h1m0 0h1m0 0h1m0 0h1m0 0h1m0 0h1m0 0h1m0 0h1m0 0h1m0 0h1m-23 1h1m2 0h1m1 0h1m0 0h1m4 0h1m0 0h1m2 0h1m2 0h1m1 0h1m0 0h1m0 0h1m-24 1h1m1 0h1m0 0h1m0 0h1m0 0h1m2 0h1m0 0h1m0 0h1m6 0h1m3 0h1m0 0h1m-24 1h1m2 0h1m2 0h1m1 0h1m0 0h1m1 0h1m2 0h1m0 0h1m0 0h1m0 0h1m0 0h1m0 0h1m3 0h1m-23 1h1m0 0h1m1 0h1m0 0h1m0 0h1m1 0h1m0 0h1m0 0h1m0 0h1m3 0h1m0 0h1m3 0h1m0 0h1m0 0h1m-23 1h1m1 0h1m0 0h1m4 0h1m0 0h1m3 0h1m3 0h1m1 0h1m1 0h1m0 0h1m-24 1h1m0 0h1m0 0h1m0 0h1m0 0h1m0 0h1m2 0h1m2 0h1m0 0h1m5 0h1m1 0h1m0 0h1m4 0h1m-29 1h1m1 0h1m2 0h1m0 0h1m0 0h1m1 0h1m1 0h1m0 0h1m1 0h1m1 0h1m0 0h1m1 0h1m0 0h1m0 0h1m1 0h1m0 0h1m0 0h1m0 0h1m0 0h1m0 0h1m-27 1h1m1 0h1m0 0h1m0 0h1m0 0h1m0 0h1m2 0h1m0 0h1m0 0h1m1 0h1m0 0h1m0 0h1m1 0h1m0 0h1m0 0h1m3 0h1m0 0h1m-27 1h1m0 0h1m0 0h1m0 0h1m1 0h1m0 0h1m1 0h1m0 0h1m1 0h1m4 0h1m4 0h1m1 0h1m1 0h1m1 0h1m-28 1h1m0 0h1m3 0h1m0 0h1m0 0h1m0 0h1m0 0h1m0 0h1m0 0h1m0 0h1m1 0h1m0 0h1m2 0h1m0 0h1m1 0h1m1 0h1m2 0h1m0 0h1m-30 1h1m1 0h1m0 0h1m2 0h1m0 0h1m0 0h1m2 0h1m0 0h1m2 0h1m0 0h1m0 0h1m6 0h1m0 0h1m0 0h1m1 0h1m-27 1h1m3 0h1m0 0h1m0 0h1m1 0h1m0 0h1m1 0h1m2 0h1m0 0h1m2 0h1m0 0h1m2 0h1m0 0h1m1 0h1m2 0h1m-31 1h1m0 0h1m0 0h1m1 0h1m0 0h1m1 0h1m0 0h1m0 0h1m0 0h1m0 0h1m2 0h1m6 0h1m0 0h1m0 0h1m1 0h1m0 0h1m1 0h1m-29 1h1m0 0h1m2 0h1m0 0h1m2 0h1m3 0h1m0 0h1m1 0h1m2 0h1m0 0h1m0 0h1m0 0h1m0 0h1m-23 1h1m1 0h1m1 0h1m3 0h1m0 0h1m1 0h1m3 0h1m2 0h1m5 0h1m0 0h1m0 0h1m0 0h1m2 0h1m-33 1h1m0 0h1m0 0h1m0 0h1m0 0h1m4 0h1m6 0h1m0 0h1m0 0h1m2 0h1m0 0h1m0 0h1m0 0h1m0 0h1m0 0h1m0 0h1m0 0h1m1 0h1m1 0h1m0 0h1m-29 1h1m1 0h1m0 0h1m4 0h1m0 0h1m0 0h1m2 0h1m1 0h1m0 0h1m0 0h1m0 0h1m5 0h1m2 0h1m-33 1h1m3 0h1m1 0h1m0 0h1m2 0h1m0 0h1m0 0h1m0 0h1m0 0h1m0 0h1m0 0h1m1 0h1m0 0h1m0 0h1m0 0h1m7 0h1m1 0h1m-35 1h1m0 0h1m0 0h1m0 0h1m1 0h1m2 0h1m1 0h1m1 0h1m0 0h1m0 0h1m1 0h1m2 0h1m1 0h1m2 0h1m0 0h1m0 0h1m0 0h1m2 0h1m1 0h1m-34 1h1m7 0h1m1 0h1m2 0h1m0 0h1m4 0h1m2 0h1m0 0h1m0 0h1m2 0h1m0 0h1m0 0h1m2 0h1m0 0h1m1 0h1m0 0h1m-38 1h1m2 0h1m2 0h1m0 0h1m2 0h1m2 0h1m1 0h1m0 0h1m0 0h1m0 0h1m0 0h1m2 0h1m0 0h1m0 0h1m2 0h1m4 0h1m0 0h1m0 0h1m0 0h1m1 0h1m-39 1h1m0 0h1m3 0h1m0 0h1m1 0h1m1 0h1m1 0h1m5 0h1m1 0h1m2 0h1m0 0h1m3 0h1m1 0h1m0 0h1m3 0h1m2 0h1m-37 1h1m5 0h1m2 0h1m5 0h1m0 0h1m2 0h1m0 0h1m0 0h1m0 0h1m0 0h1m0 0h1m0 0h1m1 0h1m0 0h1m0 0h1m0 0h1m4 0h1m0 0h1m-39 1h1m0 0h1m0 0h1m2 0h1m1 0h1m2 0h1m2 0h1m0 0h1m0 0h1m0 0h1m0 0h1m2 0h1m0 0h1m1 0h1m2 0h1m1 0h1m1 0h1m0 0h1m0 0h1m1 0h1m2 0h1m0 0h1m-39 1h1m1 0h1m0 0h1m1 0h1m0 0h1m0 0h1m2 0h1m0 0h1m1 0h1m0 0h1m0 0h1m2 0h1m0 0h1m0 0h1m0 0h1m1 0h1m1 0h1m0 0h1m0 0h1m0 0h1m0 0h1m0 0h1m0 0h1m0 0h1m0 0h1m0 0h1m0 0h1m1 0h1m-39 1h1m0 0h1m0 0h1m0 0h1m2 0h1m1 0h1m0 0h1m0 0h1m0 0h1m1 0h1m2 0h1m0 0h1m0 0h1m0 0h1m0 0h1m1 0h1m1 0h1m2 0h1m1 0h1m2 0h1m0 0h1m0 0h1m0 0h1m1 0h1m-37 1h1m1 0h1m0 0h1m4 0h1m2 0h1m2 0h1m1 0h1m0 0h1m0 0h1m0 0h1m1 0h1m1 0h1m0 0h1m0 0h1m3 0h1m0 0h1m0 0h1m0 0h1m0 0h1m0 0h1m2 0h1m-39 1h1m1 0h1m0 0h1m3 0h1m0 0h1m0 0h1m0 0h1m4 0h1m0 0h1m0 0h1m0 0h1m0 0h1m2 0h1m2 0h1m1 0h1m0 0h1m0 0h1m2 0h1m-32 1h1m0 0h1m1 0h1m0 0h1m0 0h1m0 0h1m0 0h1m0 0h1m1 0h1m3 0h1m1 0h1m2 0h1m0 0h1m1 0h1m0 0h1m6 0h1m0 0h1m0 0h1m0 0h1m0 0h1m-36 1h1m0 0h1m0 0h1m0 0h1m0 0h1m0 0h1m2 0h1m0 0h1m0 0h1m1 0h1m0 0h1m5 0h1m0 0h1m2 0h1m0 0h1m1 0h1m1 0h1m0 0h1m0 0h1m4 0h1m0 0h1m-38 1h1m1 0h1m1 0h1m0 0h1m1 0h1m0 0h1m0 0h1m12 0h1m1 0h1m0 0h1m0 0h1m0 0h1m1 0h1m0 0h1m0 0h1m0 0h1m2 0h1m0 0h1m-36 1h1m0 0h1m0 0h1m0 0h1m0 0h1m0 0h1m2 0h1m0 0h1m2 0h1m0 0h1m0 0h1m0 0h1m0 0h1m4 0h1m0 0h1m0 0h1m0 0h1m6 0h1m0 0h1m0 0h1m1 0h1m-37 1h1m0 0h1m0 0h1m0 0h1m1 0h1m2 0h1m2 0h1m0 0h1m4 0h1m3 0h1m0 0h1m0 0h1m0 0h1m0 0h1m0 0h1m0 0h1m1 0h1m0 0h1m0 0h1m1 0h1m2 0h1m-37 1h1m1 0h1m1 0h1m1 0h1m0 0h1m0 0h1m2 0h1m0 0h1m1 0h1m1 0h1m0 0h1m1 0h1m7 0h1m0 0h1m-29 1h1m0 0h1m1 0h1m0 0h1m1 0h1m2 0h1m4 0h1m1 0h1m0 0h1m0 0h1m1 0h1m7 0h1m1 0h1m1 0h1m0 0h1m0 0h1m0 0h1m-36 1h1m0 0h1m1 0h1m0 0h1m2 0h1m2 0h1m1 0h1m1 0h1m0 0h1m1 0h1m8 0h1m0 0h1m0 0h1m1 0h1m3 0h1m-36 1h1m3 0h1m1 0h1m3 0h1m1 0h1m1 0h1m0 0h1m0 0h1m2 0h1m0 0h1m0 0h1m1 0h1m4 0h1m0 0h1m1 0h1m0 0h1m1 0h1m-35 1h1m0 0h1m1 0h1m0 0h1m0 0h1m0 0h1m4 0h1m0 0h1m0 0h1m5 0h1m1 0h1m0 0h1m0 0h1m0 0h1m1 0h1m4 0h1m0 0h1m-31 1h1m1 0h1m0 0h1m1 0h1m1 0h1m0 0h1m0 0h1m1 0h1m0 0h1m0 0h1m0 0h1m0 0h1m1 0h1m0 0h1m0 0h1m0 0h1m0 0h1m2 0h1m0 0h1m1 0h1m1 0h1m1 0h1m-35 1h1m0 0h1m1 0h1m2 0h1m2 0h1m0 0h1m0 0h1m0 0h1m0 0h1m1 0h1m2 0h1m1 0h1m1 0h1m1 0h1m0 0h1m1 0h1m0 0h1m0 0h1m1 0h1m0 0h1m1 0h1m-34 1h1m1 0h1m2 0h1m1 0h1m1 0h1m0 0h1m0 0h1m5 0h1m3 0h1m0 0h1m2 0h1m3 0h1m0 0h1m1 0h1m0 0h1m0 0h1m-36 1h1m0 0h1m0 0h1m4 0h1m3 0h1m5 0h1m2 0h1m2 0h1m4 0h1m2 0h1m0 0h1m2 0h1m-36 1h1m2 0h1m1 0h1m2 0h1m2 0h1m0 0h1m0 0h1m3 0h1m0 0h1m1 0h1m1 0h1m0 0h1m0 0h1m6 0h1m2 0h1m-35 1h1m1 0h1m1 0h1m1 0h1m1 0h1m0 0h1m0 0h1m2 0h1m0 0h1m0 0h1m0 0h1m2 0h1m0 0h1m0 0h1m0 0h1m1 0h1m3 0h1m1 0h1m-31 1h1m0 0h1m2 0h1m0 0h1m0 0h1m5 0h1m0 0h1m1 0h1m3 0h1m0 0h1m0 0h1m1 0h1m0 0h1m0 0h1m0 0h1m0 0h1m2 0h1m0 0h1m0 0h1m0 0h1m0 0h1m-28 1h1m0 0h1m0 0h1m0 0h1m3 0h1m0 0h1m0 0h1m0 0h1m0 0h1m2 0h1m0 0h1m2 0h1m4 0h1m0 0h1m1 0h1m-34 1h1m0 0h1m0 0h1m1 0h1m1 0h1m1 0h1m0 0h1m0 0h1m1 0h1m0 0h1m4 0h1m0 0h1m0 0h1m0 0h1m1 0h1m0 0h1m0 0h1m1 0h1m1 0h1m1 0h1m0 0h1m-32 1h1m0 0h1m1 0h1m1 0h1m1 0h1m2 0h1m1 0h1m2 0h1m1 0h1m2 0h1m0 0h1m2 0h1m0 0h1m-27 1h1m1 0h1m2 0h1m0 0h1m0 0h1m1 0h1m5 0h1m0 0h1m1 0h1m1 0h1m0 0h1m0 0h1m0 0h1m0 0h1m2 0h1m0 0h1m0 0h1m0 0h1m0 0h1m0 0h1m-32 1h1m0 0h1m1 0h1m0 0h1m1 0h1m0 0h1m2 0h1m1 0h1m0 0h1m1 0h1m0 0h1m0 0h1m0 0h1m2 0h1m0 0h1m0 0h1m4 0h1m-30 1h1m3 0h1m0 0h1m0 0h1m2 0h1m0 0h1m0 0h1m1 0h1m1 0h1m2 0h1m1 0h1m2 0h1m3 0h1m1 0h1m-30 1h1m0 0h1m0 0h1m0 0h1m0 0h1m0 0h1m0 0h1m0 0h1m3 0h1m0 0h1m3 0h1m1 0h1m3 0h1m2 0h1m1 0h1m0 0h1m0 0h1m-30 1h1m0 0h1m0 0h1m0 0h1m3 0h1m0 0h1m1 0h1m3 0h1m1 0h1m0 0h1m1 0h1m0 0h1m1 0h1m3 0h1m2 0h1m-29 1h1m0 0h1m0 0h1m0 0h1m1 0h1m2 0h1m0 0h1m0 0h1m0 0h1m1 0h1m0 0h1m0 0h1m3 0h1m0 0h1m1 0h1m1 0h1m0 0h1m2 0h1m-28 1h1m0 0h1m0 0h1m0 0h1m1 0h1m0 0h1m2 0h1m0 0h1m1 0h1m0 0h1m1 0h1m1 0h1m0 0h1m0 0h1m0 0h1m5 0h1m0 0h1m-28 1h1m1 0h1m0 0h1m0 0h1m1 0h1m1 0h1m0 0h1m0 0h1m0 0h1m1 0h1m0 0h1m3 0h1m1 0h1m0 0h1m0 0h1m-21 1h1m0 0h1m3 0h1m0 0h1m0 0h1m0 0h1m2 0h1m0 0h1m1 0h1m0 0h1m3 0h1m0 0h1m2 0h1m-25 1h1m0 0h1m0 0h1m0 0h1m0 0h1m5 0h1m1 0h1m0 0h1m0 0h1m2 0h1m1 0h1m0 0h1m0 0h1m0 0h1m0 0h1m-25 1h1m0 0h1m0 0h1m1 0h1m0 0h1m0 0h1m0 0h1m1 0h1m1 0h1m2 0h1m1 0h1m0 0h1m0 0h1m1 0h1m0 0h1m0 0h1m0 0h1m0 0h1m-26 1h1m0 0h1m2 0h1m0 0h1m0 0h1m0 0h1m3 0h1m0 0h1m0 0h1m0 0h1m0 0h1m0 0h1m0 0h1m0 0h1m0 0h1m3 0h1m1 0h1m-25 1h1m0 0h1m0 0h1m1 0h1m3 0h1m2 0h1m3 0h1m2 0h1m1 0h1m-21 1h1m2 0h1m1 0h1m0 0h1m3 0h1m1 0h1m1 0h1m0 0h1m2 0h1m1 0h1m0 0h1m1 0h1m-24 1h1m1 0h1m0 0h1m6 0h1m2 0h1m1 0h1m0 0h1m1 0h1m0 0h1m0 0h1m1 0h1m-22 1h1m1 0h1m5 0h1m3 0h1m1 0h1m1 0h1m0 0h1m0 0h1m1 0h1m0 0h1m-21 1h1m1 0h1m0 0h1m9 0h1m3 0h1m1 0h1m-19 1h1m3 0h1m7 0h1m3 0h1m0 0h1m0 0h1m-16 1h1m0 0h1m1 0h1m2 0h1m0 0h1m0 0h1m1 0h1m2 0h1m0 0h1m-16 1h1m0 0h1m1 0h1m3 0h1m0 0h1m0 0h1m0 0h1m0 0h1m2 0h1m-14 1h1m3 0h1m0 0h1m7 0h1m-12 1h1m1 0h1m0 0h1m0 0h1m3 0h1m0 0h1m-7 1h1m0 0h1m0 0h1m0 0h1m0 0h1m-8 1h1m2 0h1m3 0h1m0 0h1m-8 1h1m1 0h1m0 0h1m1 0h1m-5 1h1m0 0h1m0 0h1m0 0h1m-2 1h1" stroke="#f84444" stroke-width="1"/>
<path d="M598 278.5h1m-2 1h1m3 0h1m-4 1h1m0 0h1m2 0h1m-3 1h1m0 1h1m1 0h1m-6 1h1m2 0h1m0 0h1m0 0h1m-10 1h1m0 0h1m0 0h1m1 0h1m0 0h1m0 0h1m1 0h1m0 0h1m1 0h1m0 0h1m-14 1h1m0 0h1m5 0h1m0 0h1m0 0h1m3 0h1m0 0h1m-15 1h1m0 0h1m1 0h1m0 0h1m0 0h1m1 0h1m0 0h1m2 0h1m-10 1h1m0 0h1m4 0h1m5 0h1m-17 1h1m0 0h1m0 0h1m3 0h1m2 0h1m1 0h1m0 0h1m1 0h1m2 0h1m0 0h1m-19 1h1m1 0h1m0 0h1m2 0h1m1 0h1m0 0h1m0 0h1m0 0h1m1 0h1m2 0h1m0 0h1m-17 1h1m1 0h1m0 0h1m0 0h1m0 0h1m0 0h1m0 0h1m3 0h1m1 0h1m1 0h1m0 0h1m1 0h1m0 0h1m-23 1h1m0 0h1m4 0h1m2 0h1m1 0h1m10 0h1m-21 1h1m0 0h1m0 0h1m0 0h1m1 0h1m2 0h1m0 0h1m0 0h1m0 0h1m3 0h1m1 0h1m0 0h1m-22 1h1m0 0h1m0 0h1m1 0h1m2 0h1m0 0h1m0 0h1m3 0h1m0 0h1m3 0h1m1 0h1m3 0h1m0 0h1m-26 1h1m4 0h1m0 0h1m1 0h1m8 0h1m0 0h1m0 0h1m0 0h1m0 0h1m2 0h1m-25 1h1m2 0h1m1 0h1m0 0h1m0 0h1m2 0h1m4 0h1m0 0h1m0 0h1m2 0h1m1 0h1m0 0h1m2 0h1m-29 1h1m2 0h1m3 0h1m0 0h1m1 0h1m2 0h1m0 0h1m0 0h1m0 0h1m0 0h1m1 0h1m3 0h1m0 0h1m3 0h1m-28 1h1m0 0h1m1 0h1m5 0h1m1 0h1m4 0h1m1 0h1m0 0h1m0 0h1m0 0h1m0 0h1m-22 1h1m0 0h1m0 0h1m2 0h1m6 0h1m3 0h1m0 0h1m2 0h1m2 0h1m2 0h1m2 0h1m-32 1h1m1 0h1m0 0h1m1 0h1m4 0h1m0 0h1m1 0h1m0 0h1m3 0h1m5 0h1m0 0h1m1 0h1m1 0h1m1 0h1m0 0h1m-33 1h1m0 0h1m1 0h1m1 0h1m5 0h1m0 0h1m0 0h1m2 0h1m0 0h1m0 0h1m0 0h1m2 0h1m0 0h1m1 0h1m2 0h1m-30 1h1m3 0h1m2 0h1m1 0h1m1 0h1m2 0h1m0 0h1m0 0h1m1 0h1m2 0h1m0 0h1m2 0h1m3 0h1m0 0h1m1 0h1m-32 1h1m0 0h1m4 0h1m3 0h1m2 0h1m3 0h1m0 0h1m0 0h1m0 0h1m0 0h1m4 0h1m0 0h1m0 0h1m1 0h1m3 0h1m-35 1h1m1 0h1m0 0h1m0 0h1m0 0h1m0 0h1m1 0h1m0 0h1m0 0h1m2 0h1m1 0h1m0 0h1m3 0h1m0 0h1m5 0h1m0 0h1m1 0h1m-26 1h1m2 0h1m0 0h1m1 0h1m0 0h1m2 0h1m0 0h1m1 0h1m3 0h1m0 0h1m2 0h1m0 0h1m1 0h1m4 0h1m0 0h1m-35 1h1m0 0h1m0 0h1m2 0h1m0 0h1m0 0h1m0 0h1m0 0h1m1 0h1m3 0h1m3 0h1m2 0h1m0 0h1m1 0h1m0 0h1m6 0h1m-32 1h1m10 0h1m0 0h1m0 0h1m4 0h1m5 0h1m0 0h1m0 0h1m4 0h1m0 0h1m-35 1h1m0 0h1m0 0h1m2 0h1m1 0h1m0 0h1m0 0h1m1 0h1m2 0h1m0 0h1m0 0h1m0 0h1m0 0h1m0 0h1m2 0h1m1 0h1m1 0h1m2 0h1m2 0h1m0 0h1m0 0h1m0 0h1m0 0h1m-39 1h1m0 0h1m0 0h1m0 0h1m3 0h1m1 0h1m0 0h1m1 0h1m0 0h1m0 0h1m0 0h1m0 0h1m1 0h1m1 0h1m5 0h1m3 0h1m0 0h1m0 0h1m3 0h1m1 0h1m-38 1h1m1 0h1m1 0h1m4 0h1m0 0h1m0 0h1m1 0h1m0 0h1m2 0h1m1 0h1m0 0h1m0 0h1m1 0h1m0 0h1m0 0h1m0 0h1m0 0h1m2 0h1m0 0h1m1 0h1m0 0h1m0 0h1m-37 1h1m0 0h1m1 0h1m0 0h1m0 0h1m0 0h1m0 0h1m3 0h1m0 0h1m6 0h1m2 0h1m0 0h1m0 0h1m0 0h1m4 0h1m0 0h1m0 0h1m0 0h1m1 0h1m1 0h1m0 0h1m-36 1h1m0 0h1m0 0h1m0 0h1m0 0h1m1 0h1m0 0h1m3 0h1m4 0h1m0 0h1m1 0h1m0 0h1m1 0h1m0 0h1m0 0h1m0 0h1m0 0h1m3 0h1m0 0h1m0 0h1m1 0h1m0 0h1m-38 1h1m5 0h1m1 0h1m1 0h1m0 0h1m3 0h1m4 0h1m5 0h1m1 0h1m0 0h1m0 0h1m1 0h1m0 0h1m2 0h1m0 0h1m-39 1h1m0 0h1m4 0h1m1 0h1m2 0h1m1 0h1m1 0h1m9 0h1m0 0h1m0 0h1m1 0h1m6 0h1m1 0h1m-38 1h1m0 0h1m2 0h1m1 0h1m2 0h1m1 0h1m0 0h1m0 0h1m1 0h1m0 0h1m1 0h1m1 0h1m0 0h1m1 0h1m1 0h1m0 0h1m0 0h1m0 0h1m0 0h1m1 0h1m0 0h1m1 0h1m0 0h1m0 0h1m0 0h1m-38 1h1m1 0h1m0 0h1m0 0h1m2 0h1m1 0h1m0 0h1m0 0h1m1 0h1m1 0h1m0 0h1m0 0h1m4 0h1m1 0h1m0 0h1m1 0h1m0 0h1m2 0h1m0 0h1m0 0h1m0 0h1m2 0h1m-39 1h1m2 0h1m0 0h1m0 0h1m2 0h1m3 0h1m0 0h1m0 0h1m0 0h1m0 0h1m0 0h1m0 0h1m0 0h1m0 0h1m4 0h1m2 0h1m2 0h1m3 0h1m0 0h1m-37 1h1m0 0h1m0 0h1m0 0h1m0 0h1m0 0h1m0 0h1m3 0h1m2 0h1m0 0h1m5 0h1m0 0h1m9 0h1m0 0h1m0 0h1m1 0h1m-32 1h1m0 0h1m3 0h1m1 0h1m0 0h1m1 0h1m1 0h1m2 0h1m1 0h1m1 0h1m0 0h1m3 0h1m2 0h1m0 0h1m-29 1h1m1 0h1m2 0h1m4 0h1m1 0h1m3 0h1m0 0h1m1 0h1m1 0h1m4 0h1m0 0h1m0 0h1m0 0h1m0 0h1m-34 1h1m2 0h1m0 0h1m3 0h1m0 0h1m0 0h1m0 0h1m3 0h1m2 0h1m0 0h1m1 0h1m5 0h1m2 0h1m0 0h1m-32 1h1m1 0h1m1 0h1m0 0h1m1 0h1m2 0h1m0 0h1m0 0h1m1 0h1m2 0h1m2 0h1m0 0h1m0 0h1m0 0h1m2 0h1m0 0h1m1 0h1m0 0h1m1 0h1m-33 1h1m1 0h1m0 0h1m1 0h1m1 0h1m0 0h1m1 0h1m7 0h1m2 0h1m2 0h1m2 0h1m0 0h1m-28 1h1m0 0h1m0 0h1m2 0h1m5 0h1m1 0h1m0 0h1m2 0h1m1 0h1m0 0h1m3 0h1m1 0h1m0 0h1m1 0h1m0 0h1m-31 1h1m0 0h1m0 0h1m0 0h1m0 0h1m2 0h1m2 0h1m1 0h1m1 0h1m1 0h1m1 0h1m0 0h1m5 0h1m1 0h1m-23 1h1m3 0h1m1 0h1m1 0h1m0 0h1m1 0h1m1 0h1m5 0h1m0 0h1m1 0h1m-25 1h1m1 0h1m3 0h1m0 0h1m0 0h1m3 0h1m0 0h1m1 0h1m4 0h1m2 0h1m-24 1h1m2 0h1m5 0h1m0 0h1m1 0h1m0 0h1m2 0h1m2 0h1m0 0h1m-19 1h1m1 0h1m3 0h1m1 0h1m0 0h1m0 0h1m1 0h1m1 0h1m1 0h1m0 0h1m0 0h1m-15 1h1m0 0h1m4 0h1m2 0h1m0 0h1m1 0h1m-15 1h1m1 0h1m3 0h1m1 0h1m0 0h1m3 0h1" stroke="#4a4af2" stroke-width="1"/>
<path d="M665 261.5h1m0 0h1m0 0h1m1 0h1m-6 1h1m3 0h1m-6 1h1m0 0h1m1 0h1m3 0h1m0 0h1m-7 1h1m2 0h1m2 0h1m0 0h1m-13 1h1m1 0h1m2 0h1m6 0h1m-7 1h1m0 0h1m3 0h1m0 0h1m0 0h1m-14 1h1m2 0h1m4 0h1m1 0h1m0 0h1m1 0h1m-12 1h1m3 0h1m2 0h1m0 0h1m0 0h1m1 0h1m-17 1h1m0 0h1m0 0h1m0 0h1m0 0h1m1 0h1m0 0h1m0 0h1m0 0h1m0 0h1m2 0h1m0 0h1m0 0h1m-16 1h1m0 0h1m1 0h1m2 0h1m0 0h1m3 0h1m0 0h1m0 0h1m1 0h1m1 0h1m-22 1h1m1 0h1m0 0h1m1 0h1m2 0h1m1 0h1m1 0h1m0 0h1m0 0h1m1 0h1m0 0h1m0 0h1m0 0h1m0 0h1m0 0h1m-23 1h1m0 0h1m0 0h1m0 0h1m0 0h1m2 0h1m1 0h1m1 0h1m0 0h1m1 0h1m0 0h1m1 0h1m0 0h1m2 0h1m0 0h1m-25 1h1m5 0h1m0 0h1m1 0h1m0 0h1m0 0h1m2 0h1m1 0h1m0 0h1m0 0h1m1 0h1m2 0h1m0 0h1m-26 1h1m1 0h1m0 0h1m0 0h1m0 0h1m3 0h1m0 0h1m0 0h1m0 0h1m0 0h1m0 0h1m0 0h1m0 0h1m0 0h1m1 0h1m3 0h1m0 0h1m0 0h1m-25 1h1m1 0h1m2 0h1m1 0h1m0 0h1m2 0h1m2 0h1m4 0h1m1 0h1m-23 1h1m0 0h1m0 0h1m0 0h1m0 0h1m0 0h1m2 0h1m1 0h1m3 0h1m2 0h1m2 0h1m1 0h1m1 0h1m1 0h1m-29 1h1m2 0h1m2 0h1m0 0h1m3 0h1m0 0h1m0 0h1m1 0h1m1 0h1m0 0h1m0 0h1m1 0h1m0 0h1m0 0h1m2 0h1m-25 1h1m0 0h1m0 0h1m0 0h1m1 0h1m0 0h1m0 0h1m0 0h1m1 0h1m1 0h1m0 0h1m1 0h1m0 0h1m0 0h1m1 0h1m2 0h1m0 0h1m1 0h1m-29 1h1m1 0h1m0 0h1m0 0h1m0 0h1m4 0h1m1 0h1m0 0h1m1 0h1m1 0h1m0 0h1m0 0h1m0 0h1m3 0h1m0 0h1m1 0h1m0 0h1m-29 1h1m1 0h1m1 0h1m4 0h1m0 0h1m0 0h1m0 0h1m0 0h1m3 0h1m0 0h1m1 0h1m0 0h1m0 0h1m1 0h1m3 0h1m-30 1h1m3 0h1m0 0h1m0 0h1m2 0h1m0 0h1m1 0h1m0 0h1m2 0h1m0 0h1m1 0h1m1 0h1m0 0h1m1 0h1m0 0h1m1 0h1m0 0h1m0 0h1m0 0h1m-31 1h1m1 0h1m4 0h1m0 0h1m7 0h1m0 0h1m0 0h1m0 0h1m0 0h1m1 0h1m0 0h1m1 0h1m4 0h1m0 0h1m-33 1h1m0 0h1m0 0h1m0 0h1m1 0h1m0 0h1m0 0h1m0 0h1m0 0h1m0 0h1m0 0h1m0 0h1m0 0h1m1 0h1m1 0h1m0 0h1m3 0h1m3 0h1m0 0h1m0 0h1m1 0h1m1 0h1m-32 1h1m0 0h1m3 0h1m3 0h1m1 0h1m0 0h1m5 0h1m0 0h1m1 0h1m4 0h1m1 0h1m0 0h1m1 0h1m-31 1h1m0 0h1m2 0h1m1 0h1m0 0h1m0 0h1m0 0h1m0 0h1m0 0h1m1 0h1m0 0h1m1 0h1m5 0h1m0 0h1m0 0h1m3 0h1m0 0h1m-33 1h1m0 0h1m0 0h1m1 0h1m0 0h1m0 0h1m1 0h1m1 0h1m1 0h1m0 0h1m1 0h1m0 0h1m0 0h1m0 0h1m0 0h1m2 0h1m2 0h1m0 0h1m1 0h1m0 0h1m0 0h1m0 0h1m0 0h1m-34 1h1m1 0h1m3 0h1m1 0h1m0 0h1m0 0h1m4 0h1m0 0h1m0 0h1m1 0h1m0 0h1m0 0h1m1 0h1m0 0h1m0 0h1m0 0h1m3 0h1m0 0h1m0 0h1m0 0h1m1 0h1m-36 1h1m1 0h1m0 0h1m1 0h1m0 0h1m2 0h1m1 0h1m0 0h1m0 0h1m1 0h1m2 0h1m4 0h1m1 0h1m5 0h1m1 0h1m0 0h1m-36 1h1m0 0h1m1 0h1m0 0h1m0 0h1m2 0h1m4 0h1m0 0h1m0 0h1m0 0h1m7 0h1m1 0h1m2 0h1m0 0h1m0 0h1m0 0h1m1 0h1m-32 1h1m0 0h1m0 0h1m0 0h1m1 0h1m3 0h1m5 0h1m0 0h1m0 0h1m0 0h1m0 0h1m1 0h1m1 0h1m0 0h1m0 0h1m3 0h1m0 0h1m0 0h1m0 0h1m0 0h1m-37 1h1m2 0h1m1 0h1m0 0h1m0 0h1m0 0h1m0 0h1m1 0h1m1 0h1m0 0h1m1 0h1m1 0h1m0 0h1m4 0h1m0 0h1m0 0h1m1 0h1m0 0h1m0 0h1m0 0h1m2 0h1m0 0h1m0 0h1m-37 1h1m0 0h1m0 0h1m2 0h1m0 0h1m0 0h1m3 0h1m1 0h1m3 0h1m2 0h1m0 0h1m2 0h1m0 0h1m1 0h1m4 0h1m0 0h1m0 0h1m1 0h1m-37 1h1m1 0h1m3 0h1m4 0h1m2 0h1m4 0h1m0 0h1m0 0h1m1 0h1m1 0h1m0 0h1m5 0h1m0 0h1m0 0h1m0 0h1m-38 1h1m0 0h1m1 0h1m3 0h1m0 0h1m0 0h1m2 0h1m2 0h1m0 0h1m0 0h1m0 0h1m2 0h1m0 0h1m3 0h1m1 0h1m0 0h1m3 0h1m0 0h1m1 0h1m-37 1h1m2 0h1m0 0h1m1 0h1m0 0h1m0 0h1m0 0h1m1 0h1m0 0h1m3 0h1m0 0h1m1 0h1m0 0h1m0 0h1m0 0h1m0 0h1m1 0h1m1 0h1m2 0h1m0 0h1m0 0h1m-32 1h1m2 0h1m0 0h1m0 0h1m0 0h1m1 0h1m0 0h1m0 0h1m0 0h1m0 0h1m0 0h1m2 0h1m1 0h1m0 0h1m1 0h1m0 0h1m0 0h1m0 0h1m1 0h1m0 0h1m1 0h1m0 0h1m0 0h1m2 0h1m0 0h1m0 0h1m0 0h1m-40 1h1m1 0h1m0 0h1m2 0h1m2 0h1m1 0h1m0 0h1m1 0h1m3 0h1m0 0h1m1 0h1m0 0h1m0 0h1m0 0h1m2 0h1m0 0h1m1 0h1m0 0h1m1 0h1m0 0h1m1 0h1m1 0h1m1 0h1m-41 1h1m0 0h1m3 0h1m2 0h1m2 0h1m0 0h1m0 0h1m1 0h1m0 0h1m0 0h1m0 0h1m4 0h1m1 0h1m0 0h1m0 0h1m0 0h1m0 0h1m1 0h1m0 0h1m0 0h1m0 0h1m3 0h1m1 0h1m-40 1h1m0 0h1m0 0h1m3 0h1m1 0h1m2 0h1m0 0h1m0 0h1m0 0h1m1 0h1m1 0h1m1 0h1m2 0h1m0 0h1m1 0h1m1 0h1m1 0h1m1 0h1m0 0h1m0 0h1m2 0h1m0 0h1m0 0h1m-42 1h1m0 0h1m0 0h1m0 0h1m0 0h1m0 0h1m2 0h1m1 0h1m0 0h1m0 0h1m0 0h1m3 0h1m0 0h1m2 0h1m2 0h1m0 0h1m2 0h1m2 0h1m1 0h1m3 0h1m0 0h1m0 0h1m-41 1h1m1 0h1m0 0h1m0 0h1m0 0h1m0 0h1m0 0h1m2 0h1m0 0h1m6 0h1m1 0h1m4 0h1m2 0h1m0 0h1m0 0h1m0 0h1m0 0h1m0 0h1m1 0h1m2 0h1m2 0h1m0 0h1m-44 1h1m1 0h1m2 0h1m0 0h1m0 0h1m0 0h1m0 0h1m4 0h1m2 0h1m3 0h1m0 0h1m0 0h1m4 0h1m0 0h1m1 0h1m2 0h1m0 0h1m1 0h1m1 0h1m0 0h1m0 0h1m-42 1h1m0 0h1m0 0h1m0 0h1m0 0h1m0 0h1m1 0h1m0 0h1m0 0h1m0 0h1m2 0h1m0 0h1m2 0h1m0 0h1m1 0h1m2 0h1m3 0h1m1 0h1m2 0h1m0 0h1m0 0h1m1 0h1m2 0h1m0 0h1m0 0h1m0 0h1m0 0h1m-45 1h1m1 0h1m2 0h1m0 0h1m0 0h1m0 0h1m0 0h1m0 0h1m3 0h1m2 0h1m0 0h1m0 0h1m0 0h1m1 0h1m0 0h1m0 0h1m1 0h1m2 0h1m2 0h1m0 0h1m0 0h1m1 0h1m3 0h1m1 0h1m1 0h1m-45 1h1m1 0h1m1 0h1m0 0h1m0 0h1m0 0h1m0 0h1m0 0h1m1 0h1m1 0h1m1 0h1m0 0h1m2 0h1m0 0h1m0 0h1m0 0h1m2 0h1m0 0h1m2 0h1m0 0h1m1 0h1m0 0h1m0 0h1m1 0h1m1 0h1m0 0h1m2 0h1m1 0h1m-45 1h1m0 0h1m1 0h1m0 0h1m1 0h1m0 0h1m0 0h1m0 0h1m2 0h1m0 0h1m1 0h1m0 0h1m1 0h1m0 0h1m0 0h1m1 0h1m0 0h1m0 0h1m3 0h1m0 0h1m0 0h1m0 0h1m3 0h1m0 0h1m1 0h1m1 0h1m1 0h1m0 0h1m-43 1h1m0 0h1m0 0h1m2 0h1m3 0h1m0 0h1m0 0h1m1 0h1m0 0h1m1 0h1m1 0h1m3 0h1m0 0h1m0 0h1m1 0h1m0 0h1m0 0h1m2 0h1m0 0h1m0 0h1m1 0h1m1 0h1m4 0h1m-45 1h1m2 0h1m0 0h1m0 0h1m0 0h1m1 0h1m0 0h1m1 0h1m0 0h1m2 0h1m0 0h1m1 0h1m2 0h1m0 0h1m2 0h1m0 0h1m0 0h1m0 0h1m0 0h1m0 0h1m2 0h1m0 0h1m2 0h1m0 0h1m2 0h1m0 0h1m1 0h1m-45 1h1m1 0h1m0 0h1m1 0h1m0 0h1m0 0h1m3 0h1m3 0h1m0 0h1m1 0h1m2 0h1m0 0h1m1 0h1m0 0h1m0 0h1m0 0h1m4 0h1m3 0h1m0 0h1m1 0h1m-40 1h1m1 0h1m1 0h1m0 0h1m0 0h1m0 0h1m6 0h1m0 0h1m0 0h1m2 0h1m2 0h1m1 0h1m0 0h1m2 0h1m0 0h1m0 0h1m1 0h1m0 0h1m1 0h1m1 0h1m2 0h1m1 0h1m0 0h1m0 0h1m-45 1h1m2 0h1m1 0h1m0 0h1m2 0h1m0 0h1m1 0h1m0 0h1m0 0h1m1 0h1m5 0h1m0 0h1m1 0h1m0 0h1m1 0h1m1 0h1m2 0h1m0 0h1m1 0h1m1 0h1m2 0h1m1 0h1m0 0h1m-44 1h1m0 0h1m0 0h1m2 0h1m2 0h1m0 0h1m2 0h1m0 0h1m0 0h1m0 0h1m0 0h1m1 0h1m2 0h1m0 0h1m1 0h1m2 0h1m0 0h1m3 0h1m4 0h1m1 0h1m2 0h1m0 0h1m-45 1h1m1 0h1m1 0h1m1 0h1m3 0h1m1 0h1m1 0h1m0 0h1m1 0h1m0 0h1m1 0h1m0 0h1m1 0h1m0 0h1m1 0h1m2 0h1m0 0h1m1 0h1m1 0h1m2 0h1m1 0h1m0 0h1m0 0h1m0 0h1m0 0h1m-43 1h1m1 0h1m1 0h1m2 0h1m0 0h1m0 0h1m2 0h1m3 0h1m0 0h1m1 0h1m0 0h1m0 0h1m2 0h1m0 0h1m2 0h1m1 0h1m1 0h1m0 0h1m1 0h1m0 0h1m0 0h1m0 0h1m3 0h1m-41 1h1m0 0h1m0 0h1m0 0h1m3 0h1m0 0h1m5 0h1m0 0h1m0 0h1m0 0h1m3 0h1m1 0h1m2 0h1m0 0h1m0 0h1m2 0h1m0 0h1m0 0h1m-37 1h1m2 0h1m1 0h1m1 0h1m1 0h1m2 0h1m1 0h1m0 0h1m0 0h1m0 0h1m4 0h1m0 0h1m0 0h1m1 0h1m6 0h1m2 0h1m1 0h1m0 0h1m1 0h1m-42 1h1m0 0h1m2 0h1m0 0h1m0 0h1m0 0h1m0 0h1m2 0h1m2 0h1m2 0h1m0 0h1m1 0h1m1 0h1m0 0h1m2 0h1m1 0h1m0 0h1m0 0h1m2 0h1m0 0h1m2 0h1m0 0h1m1 0h1m0 0h1m1 0h1m-44 1h1m2 0h1m0 0h1m0 0h1m0 0h1m0 0h1m1 0h1m0 0h1m3 0h1m4 0h1m1 0h1m2 0h1m0 0h1m0 0h1m0 0h1m0 0h1m5 0h1m1 0h1m0 0h1m2 0h1m1 0h1m-39 1h1m0 0h1m0 0h1m0 0h1m0 0h1m0 0h1m0 0h1m3 0h1m0 0h1m0 0h1m1 0h1m2 0h1m0 0h1m0 0h1m1 0h1m0 0h1m0 0h1m0 0h1m0 0h1m0 0h1m0 0h1m1 0h1m1 0h1m1 0h1m1 0h1m-40 1h1m0 0h1m0 0h1m0 0h1m0 0h1m0 0h1m0 0h1m1 0h1m0 0h1m0 0h1m3 0h1m0 0h1m0 0h1m1 0h1m0 0h1m1 0h1m1 0h1m0 0h1m0 0h1m1 0h1m1 0h1m0 0h1m0 0h1m0 0h1m0 0h1m3 0h1m0 0h1m0 0h1m0 0h1m0 0h1m0 0h1m-41 1h1m1 0h1m0 0h1m0 0h1m1 0h1m1 0h1m0 0h1m0 0h1m1 0h1m0 0h1m0 0h1m0 0h1m0 0h1m2 0h1m2 0h1m0 0h1m0 0h1m0 0h1m0 0h1m0 0h1m0 0h1m0 0h1m0 0h1m3 0h1m4 0h1m-42 1h1m2 0h1m1 0h1m0 0h1m2 0h1m0 0h1m1 0h1m1 0h1m1 0h1m1 0h1m1 0h1m2 0h1m1 0h1m1 0h1m1 0h1m0 0h1m3 0h1m1 0h1m0 0h1m0 0h1m-35 1h1m0 0h1m5 0h1m0 0h1m0 0h1m0 0h1m0 0h1m1 0h1m0 0h1m0 0h1m2 0h1m0 0h1m0 0h1m1 0h1m0 0h1m0 0h1m0 0h1m2 0h1m0 0h1m1 0h1m0 0h1m2 0h1m-32 1h1m0 0h1m0 0h1m0 0h1m0 0h1m0 0h1m1 0h1m0 0h1m0 0h1m2 0h1m2 0h1m0 0h1m0 0h1m2 0h1m1 0h1m0 0h1m0 0h1m1 0h1m0 0h1m3 0h1m-40 1h1m0 0h1m1 0h1m0 0h1m1 0h1m4 0h1m3 0h1m1 0h1m0 0h1m5 0h1m0 0h1m0 0h1m2 0h1m0 0h1m0 0h1m2 0h1m3 0h1m-39 1h1m1 0h1m1 0h1m0 0h1m2 0h1m2 0h1m0 0h1m0 0h1m1 0h1m2 0h1m1 0h1m0 0h1m1 0h1m0 0h1m0 0h1m1 0h1m2 0h1m0 0h1m0 0h1m0 0h1m1 0h1m1 0h1m-38 1h1m1 0h1m0 0h1m2 0h1m1 0h1m1 0h1m0 0h1m0 0h1m2 0h1m1 0h1m0 0h1m4 0h1m0 0h1m2 0h1m2 0h1m4 0h1m0 0h1m0 0h1m0 0h1m-38 1h1m0 0h1m0 0h1m2 0h1m0 0h1m0 0h1m1 0h1m0 0h1m0 0h1m0 0h1m1 0h1m2 0h1m0 0h1m0 0h1m0 0h1m0 0h1m2 0h1m1 0h1m1 0h1m1 0h1m1 0h1m1 0h1m-32 1h1m1 0h1m0 0h1m0 0h1m2 0h1m2 0h1m0 0h1m1 0h1m1 0h1m0 0h1m0 0h1m2 0h1m3 0h1m1 0h1m0 0h1m2 0h1m0 0h1m-35 1h1m0 0h1m0 0h1m3 0h1m3 0h1m2 0h1m1 0h1m1 0h1m0 0h1m0 0h1m3 0h1m0 0h1m0 0h1m1 0h1m0 0h1m1 0h1m1 0h1m0 0h1m0 0h1m-33 1h1m1 0h1m0 0h1m0 0h1m0 0h1m1 0h1m2 0h1m0 0h1m0 0h1m2 0h1m1 0h1m0 0h1m0 0h1m2 0h1m2 0h1m0 0h1m5 0h1m0 0h1m-35 1h1m0 0h1m2 0h1m1 0h1m4 0h1m0 0h1m1 0h1m0 0h1m0 0h1m2 0h1m0 0h1m0 0h1m1 0h1m3 0h1m0 0h1m0 0h1m2 0h1m-33 1h1m1 0h1m0 0h1m0 0h1m2 0h1m0 0h1m0 0h1m3 0h1m1 0h1m1 0h1m0 0h1m1 0h1m0 0h1m1 0h1m3 0h1m2 0h1m1 0h1m-33 1h1m0 0h1m0 0h1m0 0h1m0 0h1m0 0h1m3 0h1m0 0h1m4 0h1m3 0h1m0 0h1m0 0h1m0 0h1m1 0h1m2 0h1m0 0h1m0 0h1m1 0h1m-31 1h1m0 0h1m4 0h1m6 0h1m0 0h1m1 0h1m0 0h1m1 0h1m1 0h1m2 0h1m0 0h1m0 0h1m3 0h1m-31 1h1m1 0h1m2 0h1m0 0h1m0 0h1m2 0h1m0 0h1m0 0h1m0 0h1m0 0h1m2 0h1m0 0h1m5 0h1m3 0h1m0 0h1m0 0h1m-31 1h1m2 0h1m1 0h1m0 0h1m3 0h1m0 0h1m4 0h1m0 0h1m0 0h1m1 0h1m0 0h1m6 0h1m-23 1h1m0 0h1m0 0h1m0 0h1m1 0h1m1 0h1m1 0h1m0 0h1m0 0h1m0 0h1m0 0h1m1 0h1m0 0h1m3 0h1m0 0h1m-25 1h1m4 0h1m2 0h1m2 0h1m2 0h1m0 0h1m0 0h1m0 0h1m0 0h1m2 0h1m0 0h1m2 0h1m-27 1h1m1 0h1m1 0h1m0 0h1m0 0h1m2 0h1m1 0h1m0 0h1m0 0h1m1 0h1m0 0h1m0 0h1m0 0h1m2 0h1m0 0h1m0 0h1m0 0h1m-25 1h1m0 0h1m1 0h1m0 0h1m0 0h1m2 0h1m2 0h1m0 0h1m0 0h1m3 0h1m0 0h1m0 0h1m2 0h1m1 0h1m-25 1h1m3 0h1m1 0h1m1 0h1m1 0h1m0 0h1m1 0h1m0 0h1m0 0h1m0 0h1m0 0h1m-17 1h1m2 0h1m2 0h1m2 0h1m0 0h1m0 0h1m2 0h1m4 0h1m1 0h1m0 0h1m-18 1h1m1 0h1m0 0h1m3 0h1m5 0h1m0 0h1m1 0h1m0 0h1m-20 1h1m0 0h1m0 0h1m0 0h1m1 0h1m0 0h1m1 0h1m0 0h1m0 0h1m3 0h1m2 0h1m-20 1h1m0 0h1m0 0h1m1 0h1m1 0h1m6 0h1m0 0h1m1 0h1m2 0h1m-19 1h1m0 0h1m2 0h1m3 0h1m0 0h1m0 0h1m0 0h1m0 0h1m0 0h1m0 0h1m0 0h1m1 0h1m0 0h1m-19 1h1m1 0h1m0 0h1m0 0h1m0 0h1m0 0h1m0 0h1m0 0h1m3 0h1m0 0h1m1 0h1m-16 1h1m2 0h1m0 0h1m0 0h1m3 0h1m0 0h1m0 0h1m1 0h1m0 0h1m0 0h1m-13 1h1m2 0h1m0 0h1m0 0h1m0 0h1m0 0h1m3 0h1m-7 1h1m1 0h1m1 0h1m1 0h1m-8 1h1m4 0h1m-4 1h1m0 0h1" stroke="#f84444" stroke-width="1"/>
<path d="M504.4 288.2h1m-2.5 2h1m-3.9 1.3h1m.8 2.4h1m-2.5 2.3h1m9.3 .3h1m-13 .4h1m-3 .6h1m-7.9 1.9h1m22.9 3h1m-2.3 .4h1m-31 2.2h1m-1.2 .4h1m31.7 2.5h1m-37.3 2.1h1m36.6 1.1h1m-37.8 .3h1m1.4 .4h1m-4.8 6.9h1m34.4 2h1m-1.3 .2h1m-2.9 3.1h1m.5 1.1h1m-2.9 5.6h1m-26.2 1.8h1m-.6 .6h1m19.5 .3h1m-19.3 .3h1m19.9 .8h1m-7.1 2h1m-.5 2.7h1m-13.7 1h1m8.9 .3h1m-9.1 .7h1m4.5 1h1m-4.4 .2h1m0 .7h1m-.4 .4h1m-.9 .4h1m2.8 .9h1" stroke="#4a4af2" stroke-width="1"/>
<path d="M565 256.8h1m-4.8 .4h1m2.8 2.2h1m.2 .9h1m-6.8 1.3h1m7.2 .9h1m-10.9 2.2h1m8.7 1h1m-11.4 .5h1m-6.6 5.2h1m-1 1.5h1m-2.7 1.9h1m.4 .2h1m-2.7 .4h1m-3.2 2.1h1m22.1 .8h1m-25.6 1.8h1m-1.1 1.4h1m23.6 1.6h1m-2.8 .1h1m-.6 3.4h1m.9 1.4h1m-32.9 .7h1m32.9 1.7h1m-3.6 .2h1m-.6 2h1m-1.1 2.7h1m-37.2 .4h1m37.2 2.8h1m-40.3 1.3h1m-1.1 .5h1m-3.6 3.2h1m-.3 1h1m36.9 2.2h1m-3.8 1.4h1m-37.5 .2h1m37.2 2.1h1m-3.6 4h1m-2.4 1.9h1m-1.7 2.5h1m-.9 .3h1m-36.5 2.6h1m.6 1.4h1m-1.5 .3h1m31.5 .9h1m-33.7 .2h1m32.3 .9h1m-36 1.2h1m33.1 .4h1m-28.2 18.3h1m-.9 0h1m14 .5h1m-15.2 .7h1m12.9 1.4h1m-12.6 .5h1m9.9 .9h1m-13.8 .1h1m8.1 2.3h1m-3.1 .9h1m-1 1.3h1" stroke="#f84444" stroke-width="1"/>
<path d="M597.2 278h1m2.5 0h1m-2.5 1.1h1m-.2 .4h1m-3.9 1.8h1m-2.2 .5h1m9.4 .3h1m-11.6 .5h1m7.3 .4h1m3 .3h1m-1 2.8h1m2 .8h1m-2.7 .9h1m-24.1 6.8h1m29.3 1.5h1m-.1 2.5h1m-2.4 .8h1m2.3 .6h1m-36.3 .2h1m.3 1.2h1m-.2 .7h1m-3.3 .1h1m34.1 .8h1m2.7 3.2h1m-38.9 4h1m-.2 1.2h1m-2.6 3h1m1.7 0h1m-2.4 .7h1m-.5 0h1m-2.4 1.1h1m-2 2.4h1m33.5 1.8h1m-.9 1.3h1m-33.6 .7h1m32.7 0h1m-2.9 1.4h1m-26.8 6h1m2.7 1.5h1m.2 .9h1" stroke="#4a4af2" stroke-width="1"/>
<path d="M669.5 260.8h1m-.8 0h1m-2.7 .1h1m-4.5 2.1h1m5.6 .3h1m-4.8 .1h1m.4 .2h1m-5.4 .2h1m-3.6 .9h1m-1.6 1.9h1m-5.1 1.9h1m16.5 5.2h1m1.6 3.7h1m-28.9 .3h1m26.8 4.9h1m-34.7 2.1h1m-.8 1h1m33.3 .8h1m-36.9 .6h1m35.1 0h1m-1 .4h1m.7 1.6h1m-3.2 .1h1m-.1 5h1m-38.9 2.5h1m36.8 6.6h1m-45.4 1h1m-.3 .9h1m-1.9 .7h1m44.1 1h1m-46.2 .9h1m45.7 0h1m-2.9 1.1h1m-.5 .3h1m-46.4 3.8h1m44.4 .7h1m-46.6 4.7h1m42.2 .6h1m-44.4 1.7h1m-.9 3.6h1m40.2 .7h1m-42 1h1m-1.4 1.8h1m38.9 1.4h1m-2.9 .4h1m-39.8 2h1m2.2 1.6h1m29.7 2.5h1m-1.6 2.8h1m-29.8 2h1m27.1 0h1m-5.2 5.6h1m-2.8 .1h1m-1.2 3.1h1m-19.4 .1h1m15.1 1h1m-13.5 1.5h1m-.3 .3h1m9.2 2.1h1m-5.4 1.1h1" stroke="#f84444" stroke-width="1"/>
<path d="M625.8 297.4h1m-5.6 .1h1m-.8 1.1h1m-.5 1.3h1m-.5 1.9h1m-2.1 1.7h1m1.8 .4h1m.2 .4h1m-2.8 2.1h1m-.1 .7h1m8.6 .1h1m-9.3 .1h1m-.1 .1h1m2.1 1.6h1m-5.5 .5h1m9.6 0h1m-8.3 .6h1m-2.7 .1h1m-3.6 .5h1m-2.1 .2h1m5.6 .9h1m-6.1 .1h1m-4.3 .1h1m1 0h1m-2.4 .1h1m4.9 .8h1m3.2 .7h1m-4 .2h1m.5 0h1m1.3 0h1m-8 .2h1m5.6 0h1m-6.6 .1h1m.7 1.1h1m2.8 .1h1m-.9 .6h1m2.4 0h1m0 .7h1m-9.5 .2h1m.4 .1h1m5.5 0h1m-1.4 .8h1m-6.7 .3h1m1.8 .5h1m-2.3 .1h1" stroke="#4a4af2" stroke-width="1"/>
<path d="M552.9 273.4h1m.2 8.4h1m-2.7 5.5h1m-7.1 .8h1m-1.6 1.8h1m5.2 10.6h1m11.7 1.4h1m-13.7 .5h1m-1.3 2.6h1m9.1 1.1h1m-1.7 1.3h1m-23.7 .8h1m-5.5 4.4h1m-.5 6.7h1m18.8 4.4h1m-19.2 .6h1m21.2 .1h1m.9 .7h1m-.9 2.3h1m-15.7 2.2h1m10.4 6h1m-15.4 5.9h1" stroke="#4a4af2" stroke-width="1"/>
<path d="M670.1 266.7h1m-18.5 10.1h1m5.9 0h1m-6.8 5h1m10.5 .8h1m-13.5 .5h1m8.8 1.5h1m9.1 2.5h1m-30.7 .1h1m.7 2.5h1m11.5 .4h1m-3.7 .7h1m5.9 5.9h1m-15.4 .2h1m-3.3 2.8h1m24.4 5.3h1m4.3 0h1m-41.3 3.8h1m25 1.5h1m3.4 1.7h1m-2.8 4.9h1m11.2 1h1m-11.2 1.3h1m-22.5 2.7h1m26.5 1.1h1m-36.1 7.6h1m-.2 5.2h1m13 2.1h1m-5 2.4h1m-10.5 .3h1" stroke="#4a4af2" stroke-width="1"/>
<line x1="466.7" y1="366.0" x2="466.7" y2="321.5" stroke="#111" stroke-width="1.4"/><path d="M466.7,316.5L469.5,322.0L463.9,322.0Z" fill="#111"/>
<line x1="466.0" y1="365.3" x2="508.8" y2="365.3" stroke="#111" stroke-width="1.4"/><path d="M513.8,365.3L508.3,368.1L508.3,362.5Z" fill="#111"/>
<text x="463" y="365.2" font-size="11.82" fill="#1a1a1a" stroke="#1a1a1a" stroke-width="0.25" transform="rotate(-90 463 365.2)">UMAP2</text>
<text x="469.2" y="377.8" font-size="11.82" fill="#1a1a1a" stroke="#1a1a1a" stroke-width="0.25">UMAP1</text>
<circle cx="609.7" cy="373.6" r="3.3" fill="#4646f0"/>
<text x="615.2" y="377.4" font-size="11.82" fill="#1a1a1a" stroke="#1a1a1a" stroke-width="0.25">LDN</text>
<circle cx="651" cy="373.6" r="3.3" fill="#f04a4a"/>
<text x="656" y="377.4" font-size="11.82" fill="#1a1a1a" stroke="#1a1a1a" stroke-width="0.25">HDN</text>
<text x="4.3" y="440.6" font-size="13.98" font-weight="bold" fill="#111">E</text>
<text x="23.4" y="444" font-size="12.13" font-weight="bold" fill="#1a1a1a">Conventional flow cytometry</text>
<text x="16.4" y="504.4" font-size="9.15" fill="#222" stroke="#222" stroke-width="0.12">Gated on live cells</text>
<path d="M49.1 531h.8m6.1 1.8h.8m-3.4 .2h.8m5.2 .3h.8m-7.8 1h.8m5.2 .8h.8m-8.5 .2h.8m-.9 2.9h.8m4.2 .1h.8m-1.3 .1h.8m.5 1h.8m-5.8 2.5h.8m3.7 .1h.8m-2.8 .4h.8m-5.5 .6h.8m-3.8 .3h.8m8 .4h.8m-3.7 1.5h.8m-6.8 .5h.8m3.1 .5h.8m3.9 0h.8m-3.7 .5h.8m-3.2 .9h.8m5.1 .9h.8m-1.2 .5h.8m2 .1h.8m-5.1 .4h.8m-5.7 .2h.8m5.4 0h.8m-2.7 .2h.8m-1.1 .3h.8m-.1 0h.8m-.2 .7h.8m-.2 .2h.8m-8.3 .3h.8m8.6 0h.8m-.2 0h.8m-3.6 .1h.8m3.7 .2h.8m-4 .2h.8m-4.5 .6h.8m-1.7 .1h.8m2.2 .1h.8m2.9 .1h.8m-9.9 .2h.8m3.8 0h.8m-.8 .1h.8m1.8 .3h.8m.9 .5h.8m-4 .1h.8m-5.9 .2h.8m8.1 .1h.8m-6.6 .1h.8m-.6 .2h.8m4.7 .5h.8m.6 .2h.8m-12.9 .3h.8m6.6 0h.8m-9.8 .2h.8m1 0h.8m.8 0h.8m3.3 .9h.8m-5.6 .3h.8m5.1 0h.8m-.8 .1h.8m3.1 0h.8m-9.4 .5h.8m5.5 .2h.8m3.3 .1h.8m-12.2 .8h.8m2 0h.8m-3 .8h.8m.7 .3h.8m.5 0h.8m-14.6 .1h.8m20.5 0h.8m-18.8 .3h.8m17.8 .4h.8m-7.7 .2h.8m-1.4 .1h.8m1.1 .6h.8m-2.8 .3h.8m-4.5 .1h.8m-3.9 .1h.8m4.1 .1h.8m6.2 .2h.8m-11.9 .2h.8m9.1 .2h.8m-7 .3h.8m7.6 .2h.8m-6 .2h.8m-1.8 .2h.8m4.2 .1h.8m-8.4 .6h.8m-4.6 .2h.8m4 .4h.8m4.4 .1h.8m-6.4 .4h.8m-2.2 .1h.8m8.5 .1h.8m-10.7 .2h.8m.9 .3h.8m-.5 .1h.8m-7.6 .4h.8m.4 .1h.8m9.2 .1h.8m-3.9 .1h.8m6.4 .2h.8m-6.8 .4h.8m-3.6 .2h.8m2.7 .4h.8m-5.2 .1h.8m.6 0h.8m-.4 0h.8m1.3 .3h.8m-3.4 .2h.8m1.1 .1h.8m-7.3 .1h.8m8.6 .2h.8m-6.9 .1h.8m-1.1 .6h.8m-6.4 .3h.8m9.8 0h.8m2.5 0h.8m-11.2 .1h.8m1.8 0h.8m2.9 0h.8m2 0h.8m-10.3 .2h.8m3.9 .1h.8m-5.8 .1h.8m1.1 0h.8m3.6 .3h.8m6.7 0h.8m-5.3 .3h.8m-3.7 .1h.8m-3.3 .1h.8m.8 0h.8m-8 .1h.8m4.3 0h.8m2.1 .4h.8m-.6 0h.8m-4.7 .3h.8m1 .5h.8m-1.3 .3h.8m-5.3 .1h.8m3.8 .2h.8m4.6 0h.8m-5.7 .1h.8m.8 0h.8m-1.2 .1h.8m-1.1 .2h.8m-1.4 .1h.8m2 .1h.8m-3.9 .1h.8m1.9 .1h.8m2.9 .1h.8m-7.9 .2h.8m0 .2h.8m2.4 .4h.8m0 .3h.8m-7.5 .5h.8m7 .4h.8m-1.6 .6h.8m-11 .2h.8m7.5 0h.8m-8.2 1.1h.8m3.9 .2h.8m-5.6 .1h.8m4.9 0h.8m-7.6 .1h.8m-.2 .4h.8m-3.3 .1h.8m1.7 .2h.8m5.9 .2h.8m-.2 .4h.8m2.4 0h.8m-5.5 .5h.8m-1.9 .1h.8m-4 .5h.8m-4.9 .5h.8m1.8 .5h.8m4.8 .4h.8m1.4 .8h.8m-7.5 .2h.8m3.8 .2h.8m-5.4 .1h.8m2.9 .3h.8m-1.1 .1h.8m-1.6 .2h.8m6.8 .2h.8m-1.7 .7h.8m-7.3 .5h.8m-.6 0h.8m-1.5 .2h.8m-8 .1h.8m12.5 .2h.8m-6.3 .1h.8m-8.6 .1h.8m1.1 .1h.8m10.5 .2h.8m-8.2 .2h.8m7 0h.8m-2.7 .1h.8m-8.5 .4h.8m.9 .1h.8m-8.4 .4h.8m4.6 0h.8m5.8 .4h.8m-3.1 .2h.8m-6.7 .3h.8m4.8 .3h.8m-4.7 .4h.8m2.8 .3h.8m-.8 .2h.8m-.7 0h.8m1.6 .1h.8m-9.4 .3h.8m9.1 .9h.8m-.2 0h.8m-6.9 .4h.8m1.8 .8h.8m-3.5 .1h.8m-4.9 .4h.8m3.4 .1h.8m-2.5 .6h.8m7.3 .5h.8m-7.3 1h.8m4.5 .5h.8m-5.4 2.3h.8m-.5 1.1h.8m-5.5 .2h.8m3.5 2.5h.8m4.7 0h.8m-8.6 .4h.8m-7.1 .2h.8m6.3 .1h.8m8.2 0h.8m-8.7 .3h.8m7.7 .3h.8m-4.4 .3h.8m-8.7 .4h.8m3.5 6.1h.8m-6.2 1.8h.8m4 1h.8" stroke="#6a6af0" stroke-width=".8"/>
<path d="M48.8 583.5h.8m-7.4 .8h.8m7.7 0h.8m-1.1 .2h.8m1.2 .6h.8m9.1 .9h.8m-4.6 .1h.8m-8.6 .3h.8m-4.2 .3h.8m13.9 .3h.8m-6.6 .1h.8m-4.5 .4h.8m-14.7 .3h.8m22.8 .1h.8m-22.7 .1h.8m10.3 1.2h.8m-15.8 .4h.8m1.5 0h.8m7 .1h.8m13.7 .2h.8m-30.1 .2h.8m28.1 .3h.8m-2.3 .3h.8m1.7 .1h.8m-22.7 .3h.8m8.5 .1h.8m.9 0h.8m2.8 0h.8m-4.5 .1h.8m5.7 0h.8m-21.6 .1h.8m2.8 0h.8m3.8 0h.8m7.5 .1h.8m1.1 .3h.8m1.5 0h.8m-16.1 .1h.8m-5.5 .1h.8m18.4 0h.8m-24.7 .1h.8m7 0h.8m3.9 .1h.8m-8.5 .2h.8m5.7 0h.8m10.8 .2h.8m-3.9 .2h.8m-1.6 .1h.8m-9.9 .1h.8m12.5 .1h.8m-19.2 .1h.8m10.9 0h.8m8.1 0h.8m-7.2 .1h.8m-6.1 .1h.8m2.2 .1h.8m1.9 0h.8m-13.1 .1h.8m4.2 .1h.8m1.5 0h.8m-12.3 .1h.8m-.4 0h.8m-2.9 .1h.8m.5 0h.8m5.4 0h.8m-9.1 .1h.8m11.5 0h.8m1 0h.8m-3.7 .1h.8m-.5 0h.8m.3 0h.8m-12.8 .1h.8m21.8 .2h.8m-13.7 .2h.8m4.2 0h.8m-.3 0h.8m-6.5 .1h.8m5.3 .1h.8m2 0h.8m-14.4 .1h.8m4.7 0h.8m5.7 0h.8m4.3 0h.8m-13.4 .2h.8m.2 0h.8m4.1 0h.8m4.9 0h.8m4.8 0h.8m-12.6 .1h.8m-14 .1h.8m27.9 0h.8m-3.2 .1h.8m-27.8 .1h.8m1.5 0h.8m3 0h.8m18.1 0h.8m-12 .1h.8m5.2 0h.8m-22.3 .2h.8m7.9 0h.8m9.4 0h.8m-21 .1h.8m5.7 0h.8m10 0h.8m9.1 0h.8m-9.6 .1h.8m-5.6 .1h.8m4.9 .1h.8m.2 0h.8m1.2 0h.8m-.3 0h.8m9.4 0h.8m-25.1 .1h.8m11.2 0h.8m2.7 .1h.8m1.3 .4h.8m-6.5 .1h.8m-.9 .1h.8m-9.2 .1h.8m.6 0h.8m5.8 0h.8m2.1 0h.8m6.8 0h.8m-27.2 .1h.8m2.6 0h.8m3.7 0h.8m10 0h.8m-8.9 .1h.8m12.7 0h.8m2.9 0h.8m-22.5 .1h.8m9.2 0h.8m1.5 0h.8m-14.5 .1h.8m6.5 0h.8m3.6 0h.8m0 0h.8m-13.8 .1h.8m-.4 0h.8m3.2 0h.8m4.4 0h.8m2.3 0h.8m1.2 0h.8m0 0h.8m7.8 0h.8m-20 .1h.8m3.7 0h.8m-10.5 .1h.8m2.7 0h.8m2.8 .1h.8m-.4 0h.8m-.7 0h.8m4.8 0h.8m-14.8 .1h.8m.8 0h.8m12.1 0h.8m4.6 0h.8m3.8 0h.8m-17.7 .1h.8m-.6 0h.8m.2 0h.8m-.7 0h.8m2.1 0h.8m6.8 0h.8m-18.1 .1h.8m4.6 0h.8m2.8 0h.8m8.1 0h.8m-22.8 .1h.8m8.3 0h.8m2 0h.8m-9.2 .1h.8m4.8 0h.8m6.8 0h.8m-12.2 .1h.8m1.8 0h.8m5.7 0h.8m5.1 0h.8m8.7 0h.8m-28.8 .1h.8m-.3 0h.8m4.5 0h.8m1.8 0h.8m3.8 .1h.8m1.5 0h.8m4.1 0h.8m-16.6 .2h.8m-.7 0h.8m6.1 0h.8m.4 0h.8m-7.8 .1h.8m-.4 0h.8m4.5 0h.8m-15.9 .1h.8m11.8 0h.8m1.5 0h.8m1.9 0h.8m4.8 0h.8m-14.2 .1h.8m5 0h.8m1.6 0h.8m7.5 0h.8m-24.4 .1h.8m1.2 0h.8m3.9 0h.8m7.4 0h.8m4.5 0h.8m4 .1h.8m-23.7 .1h.8m13.7 0h.8m1.3 0h.8m-21.4 .1h.8m15 0h.8m-4.7 .1h.8m-5.6 .1h.8m.2 0h.8m7.6 0h.8m-11.4 .1h.8m2.3 0h.8m5.9 0h.8m-.6 0h.8m-.1 0h.8m4.4 0h.8m-14.7 .1h.8m16.8 0h.8m-28.5 .1h.8m20.2 0h.8m-8.9 .1h.8m1.1 0h.8m.2 0h.8m-13 .1h.8m3.1 0h.8m1.1 0h.8m7.5 0h.8m-.1 0h.8m-22.5 .1h.8m24.7 0h.8m2.2 0h.8m1.6 0h.8m-30.5 .1h.8m11 0h.8m1.3 0h.8m4.5 0h.8m-10.3 .1h.8m.6 0h.8m7.5 0h.8m2.5 0h.8m-.5 0h.8m11 0h.8m-12.5 .1h.8m3.7 0h.8m.2 0h.8m-23.2 .1h.8m4.6 0h.8m.1 0h.8m.1 0h.8m.2 0h.8m10 0h.8m.2 0h.8m1 0h.8m-22.6 .1h.8m13.3 0h.8m10.1 0h.8m-4.2 .1h.8m-26.6 .1h.8m4.8 0h.8m4.3 0h.8m10.4 0h.8m-5.2 .2h.8m2.9 0h.8m-21.6 .1h.8m-.6 .1h.8m5.7 0h.8m14.9 0h.8m-18.1 .1h.8m5.9 0h.8m.5 0h.8m.7 0h.8m4.3 0h.8m-17.7 .1h.8m4.3 0h.8m-.6 0h.8m3.5 0h.8m2.3 0h.8m1.1 0h.8m-.2 0h.8m-.4 0h.8m-18.9 .1h.8m17.3 0h.8m-.3 0h.8m-12.6 .1h.8m5 0h.8m10.9 0h.8m-7 .1h.8m-21 .1h.8m8 0h.8m.3 0h.8m2.6 0h.8m2.4 0h.8m.2 0h.8m1.3 0h.8m5.7 0h.8m-17 .1h.8m6.6 0h.8m5.2 0h.8m3.3 0h.8m2.6 0h.8m-25 .1h.8m.4 0h.8m-2.2 .1h.8m1.8 0h.8m.6 0h.8m-.9 .1h.8m-7.4 .1h.8m2 0h.8m16.5 0h.8m.4 0h.8m-24.7 .1h.8m10 0h.8m7.8 0h.8m5.7 0h.8m-16.1 .1h.8m-.6 0h.8m2 0h.8m1.2 .1h.8m8.7 0h.8m-25.5 .1h.8m9.1 0h.8m2 0h.8m2.9 0h.8m1.6 0h.8m.3 0h.8m-24.2 .1h.8m14 0h.8m3.1 0h.8m-11.7 .1h.8m1.6 0h.8m8 0h.8m-13.1 .1h.8m5.1 0h.8m1.3 0h.8m-2.3 .1h.8m5.3 0h.8m1.5 0h.8m-19 .1h.8m.6 0h.8m2.2 0h.8m4.4 0h.8m.6 0h.8m4.4 0h.8m3.7 0h.8m3.4 0h.8m-11.2 .1h.8m10.1 0h.8m-18.4 .1h.8m.5 0h.8m.4 0h.8m18.8 0h.8m-23.2 .1h.8m11.3 0h.8m.3 0h.8m-9.5 .1h.8m.7 0h.8m-.1 0h.8m11.6 0h.8m-31 .1h.8m13.8 0h.8m2.2 0h.8m5 0h.8m4.8 0h.8m-9.7 .1h.8m3.3 0h.8m.7 0h.8m2.3 0h.8m-19.4 .1h.8m3.9 0h.8m2.6 0h.8m8.1 0h.8m-19.1 .1h.8m5.8 0h.8m4.2 0h.8m3.5 0h.8m1.7 0h.8m-21.2 .1h.8m9.1 0h.8m0 0h.8m1 0h.8m.8 0h.8m8.3 0h.8m1.2 0h.8m-25.5 .1h.8m3.1 0h.8m4.1 0h.8m9 0h.8m10.3 0h.8m-17.2 .1h.8m12.6 0h.8m-15.8 .1h.8m-16 .1h.8m.2 0h.8m5.1 0h.8m5.2 0h.8m5.7 0h.8m-16.9 .1h.8m3.1 0h.8m4.3 0h.8m3.3 0h.8m.9 0h.8m-16.1 .1h.8m8.8 0h.8m3 0h.8m1.1 0h.8m-17.6 .1h.8m2.6 0h.8m4.2 0h.8m4.2 0h.8m1 0h.8m7.6 0h.8m-23.5 .1h.8m10.1 0h.8m1.2 0h.8m-8.8 .1h.8m.6 0h.8m.5 0h.8m5.5 0h.8m-18.7 .1h.8m7.5 0h.8m4.1 0h.8m0 0h.8m-5.6 .1h.8m4.4 0h.8m1 0h.8m4.9 0h.8m0 0h.8m-25.6 .1h.8m12.7 0h.8m2.9 0h.8m7.7 0h.8m10.3 0h.8m-16.3 .1h.8m-10.1 .1h.8m1.2 0h.8m1.5 0h.8m0 0h.8m5 0h.8m-22.9 .1h.8m18.7 0h.8m-5.4 .1h.8m1.7 0h.8m-.1 0h.8m1.2 0h.8m-.4 0h.8m-1 .1h.8m.3 0h.8m3.9 0h.8m-23.5 .1h.8m11.3 0h.8m1.9 0h.8m-9.1 .1h.8m-.6 0h.8m.7 0h.8m1.9 0h.8m1.7 0h.8m-.6 0h.8m.9 0h.8m3.1 0h.8m-22.1 .1h.8m8.1 0h.8m-.5 0h.8m9.7 0h.8m-.5 0h.8m1.2 0h.8m-15.1 .1h.8m.1 0h.8m.4 0h.8m12.2 0h.8m.9 0h.8m8.9 0h.8m-18.1 .1h.8m4.4 0h.8m4.9 0h.8m-17.8 .1h.8m.5 0h.8m6.2 0h.8m-16.2 .1h.8m17.2 .1h.8m-23.1 .1h.8m9.3 0h.8m.7 0h.8m2.6 0h.8m-.1 0h.8m5.6 0h.8m2.6 0h.8m3.7 0h.8m-26.8 .1h.8m1.6 0h.8m.1 0h.8m3.8 0h.8m8.1 0h.8m-11.3 .1h.8m1.2 0h.8m1.2 0h.8m-.7 0h.8m4.3 0h.8m-20.7 .1h.8m2.3 0h.8m1.9 0h.8m1.1 0h.8m4.4 0h.8m5.8 0h.8m-7.8 .1h.8m-.7 0h.8m1.6 0h.8m-.2 0h.8m0 0h.8m6.1 0h.8m-5 .1h.8m-12.7 .1h.8m9.4 0h.8m10.1 0h.8m.3 0h.8m-18.7 .1h.8m10.1 0h.8m1.3 0h.8m4.2 .1h.8m-21.7 .1h.8m2.7 0h.8m.3 0h.8m1.5 0h.8m.9 0h.8m1 0h.8m1.7 0h.8m7.7 0h.8m-21.2 .1h.8m22.9 0h.8m-8.8 .1h.8m-20.5 .1h.8m2.4 .1h.8m5.3 0h.8m6 0h.8m-.2 0h.8m-.3 0h.8m13.6 0h.8m-30.6 .1h.8m10.5 0h.8m7.9 0h.8m1.2 0h.8m-21.2 .1h.8m1.8 0h.8m6.3 0h.8m5.2 0h.8m-16.1 .1h.8m0 0h.8m11.6 0h.8m13.2 0h.8m-22.2 .1h.8m2.3 0h.8m-5.5 .1h.8m-10 .1h.8m6.9 .1h.8m3.5 0h.8m-.4 0h.8m3.8 0h.8m6.2 .1h.8m-22.7 .1h.8m6.1 0h.8m1 0h.8m5.8 0h.8m4.7 0h.8m-21.4 .1h.8m3.9 0h.8m0 0h.8m1.5 0h.8m0 0h.8m2.2 0h.8m-.4 0h.8m8.8 0h.8m-22 .1h.8m3.7 0h.8m3.5 0h.8m0 0h.8m.5 0h.8m8.2 0h.8m-10.1 .1h.8m-.4 0h.8m14.5 0h.8m-25.2 .1h.8m-.7 0h.8m10.9 0h.8m-3.2 .2h.8m-17.4 .1h.8m7.1 0h.8m4.9 0h.8m.6 0h.8m4.4 0h.8m2.1 0h.8m-13.8 .1h.8m15.8 0h.8m-20.8 .1h.8m2.6 0h.8m8.4 0h.8m-19.2 .1h.8m-.7 0h.8m9.6 0h.8m2 0h.8m4.7 0h.8m7.1 0h.8m-20.3 .1h.8m13 0h.8m-13.4 .1h.8m1.3 0h.8m1.4 0h.8m2.7 0h.8m6 0h.8m-21.2 .1h.8m7.1 .1h.8m-2.8 .1h.8m7.1 0h.8m3.1 0h.8m1.1 0h.8m4.4 0h.8m-27.9 .1h.8m19.3 0h.8m2.2 0h.8m-17.3 .1h.8m-.3 0h.8m6.7 0h.8m-15.7 .1h.8m1.3 .1h.8m5.4 0h.8m1.3 0h.8m3.6 0h.8m15.6 0h.8m-24 .1h.8m8.2 0h.8m-20.6 .1h.8m13.7 0h.8m4.6 0h.8m-2.5 .1h.8m3.4 0h.8m0 0h.8m7.7 0h.8m-21.3 .1h.8m5.4 0h.8m.3 0h.8m3.4 0h.8m8.4 0h.8m-25.8 .1h.8m6.1 .1h.8m2.9 0h.8m1.4 0h.8m7.7 0h.8m-24.5 .1h.8m11.5 0h.8m2.5 .1h.8m3.3 0h.8m-10.4 .1h.8m.9 0h.8m.1 0h.8m-6.4 .2h.8m1.9 0h.8m3.5 0h.8m-14.2 .1h.8m9.9 0h.8m-12.5 .1h.8m10.9 0h.8m-.4 0h.8m.7 0h.8m1.4 0h.8m-.4 0h.8m-13 .1h.8m10.8 0h.8m-13.2 .1h.8m-9.4 .2h.8m1.6 0h.8m7.3 0h.8m4 0h.8m7.4 0h.8m-21 .1h.8m8.8 0h.8m3.4 0h.8m2.6 0h.8m-11 .1h.8m3.5 0h.8m-.1 0h.8m2.7 0h.8m7.9 0h.8m-5.8 .1h.8m-10.5 .1h.8m2.6 .1h.8m7.4 0h.8m-14.6 .1h.8m10.7 0h.8m-7.2 .1h.8m1.2 0h.8m1.1 0h.8m8.9 0h.8m-9.5 .2h.8m3.3 0h.8m-7.2 .2h.8m3 0h.8m-21.6 .2h.8m14 0h.8m-.6 .1h.8m11.8 0h.8m-16.8 .1h.8m.1 0h.8m17.3 0h.8m-21 .1h.8m6.4 0h.8m5.1 0h.8m.5 0h.8m-15.2 .2h.8m-4.6 .1h.8m9.5 .1h.8m3.8 0h.8m4.7 .1h.8m-22.3 .1h.8m16.9 0h.8m-6.1 .1h.8m3.2 0h.8m-13.3 .1h.8m13.2 0h.8m-9.5 .1h.8m15.3 0h.8m-5.6 .1h.8m-13.7 .1h.8m9.7 0h.8m2.7 0h.8m-2.8 .1h.8m7.7 0h.8m-4.8 .1h.8m-15.1 .1h.8m-8.7 .1h.8m7.4 0h.8m-3.8 .1h.8m-6.7 .1h.8m5.1 .1h.8m6.1 .2h.8m4.1 0h.8m-12.8 .2h.8m20.4 .2h.8m-7.8 .2h.8m-15.4 .1h.8" stroke="#2a2af5" stroke-width=".8"/>
<defs><radialGradient id="dg1"><stop offset="0" stop-color="#30d8e8" stop-opacity="0.6"/><stop offset="0.22" stop-color="#2090ff" stop-opacity="0.85"/><stop offset="0.45" stop-color="#1a1aff" stop-opacity="0.6"/><stop offset="0.75" stop-color="#1a1aff" stop-opacity="0.3"/><stop offset="1" stop-color="#1a1aff" stop-opacity="0"/></radialGradient></defs><ellipse cx="47" cy="606" rx="12.0" ry="10.0" fill="url(#dg1)" transform="rotate(-30 47 606)"/>
<path d="M66.7 529.6h.8m11.2 1.3h.8m7.3 0h.8m-19.6 .4h.8m8.1 .3h.8m15 0h.8m-3.7 .6h.8m-17.5 .3h.8m3.7 .3h.8m-.7 .6h.8m-.1 .3h.8m-10.2 .4h.8m10.9 0h.8m-4.4 .6h.8m-4.9 .2h.8m.8 .3h.8m.4 .7h.8m10 .2h.8m-9.8 .3h.8m-3.1 .3h.8m5.2 0h.8m-16 .1h.8m17.2 .4h.8m-5.3 .1h.8m12.7 .3h.8m-7.9 .1h.8m-11 .1h.8m4.3 .1h.8m-.7 0h.8m-5.3 .1h.8m1.3 1.1h.8m-13.5 .2h.8m17.4 0h.8m-4.9 .1h.8m1.7 0h.8m1.3 .2h.8m-3.5 .1h.8m-5.5 .3h.8m13.1 .2h.8m-18.5 .5h.8m1.6 .2h.8m-.4 0h.8m-3.3 .1h.8m1.5 .2h.8m4.6 .1h.8m-15.8 .2h.8m16 0h.8m-11.3 .6h.8m9.2 0h.8m7 .2h.8m-21.3 .3h.8m1.5 .2h.8m4.4 0h.8m1.2 0h.8m3.2 .1h.8m-3.1 .2h.8m-6.3 .1h.8m2.8 .2h.8m3.9 0h.8m-12.3 .5h.8m3.8 .4h.8m5.7 0h.8m-3.4 .2h.8m-13.5 .3h.8m4 0h.8m1 .1h.8m-2.1 .1h.8m9.1 0h.8m-7.9 .2h.8m-2.1 .3h.8m.8 0h.8m7 0h.8m-4.8 .1h.8m2.2 .2h.8m-13.1 .2h.8m-10 .5h.8m10.6 .1h.8m9.7 .1h.8m9.2 0h.8m-23.7 .1h.8m4.6 0h.8m2 0h.8m5.7 0h.8m-9.4 .1h.8m-8.5 .1h.8m-.2 0h.8m7.5 .1h.8m-.8 0h.8m-6.3 .1h.8m-2.3 .1h.8m5.7 0h.8m-4.6 .1h.8m2 0h.8m-.4 0h.8m.6 .2h.8m-.3 0h.8m8.1 0h.8m-19 .2h.8m9.2 .2h.8m1.6 0h.8m-8.7 .1h.8m-5.1 .1h.8m5.9 0h.8m.2 0h.8m.7 0h.8m6.3 0h.8m-19.1 .1h.8m9.3 .1h.8m1.6 0h.8m.1 0h.8m0 0h.8m-15.2 .1h.8m1.2 0h.8m-1 .1h.8m5.4 0h.8m.2 0h.8m.6 0h.8m-10.4 .1h.8m20.4 0h.8m-10.7 .1h.8m3.9 .1h.8m-5.1 .1h.8m-7.6 .2h.8m1.5 .2h.8m1.8 0h.8m-.4 .3h.8m.2 0h.8m8.2 .2h.8m-8.3 .1h.8m-7.3 .1h.8m8.8 .1h.8m3.7 .1h.8m-9.8 .1h.8m4 0h.8m.5 0h.8m-13.3 .5h.8m1.3 0h.8m1.8 .1h.8m7.1 .1h.8m-3.9 .1h.8m-10.6 .1h.8m2.8 0h.8m-14.9 .1h.8m4.5 0h.8m9.3 0h.8m-.8 0h.8m1.7 0h.8m-.6 0h.8m0 .2h.8m-.6 .1h.8m1.4 0h.8m-15 .4h.8m11.3 0h.8m-1.5 .1h.8m8 0h.8m-25.3 .2h.8m13.8 0h.8m-8.1 .1h.8m8.9 0h.8m.8 0h.8m-.7 0h.8m-.6 0h.8m-10.9 .1h.8m8.3 0h.8m4 0h.8m-11.4 .1h.8m-.8 0h.8m0 0h.8m0 .1h.8m-4.8 .1h.8m6.8 0h.8m.4 0h.8m6 0h.8m-19.8 .1h.8m2.4 0h.8m6.6 0h.8m-2.8 .1h.8m-12.1 .1h.8m23.8 0h.8m-25.2 .1h.8m3 0h.8m16.5 0h.8m-12.1 .1h.8m-4.1 .1h.8m-3.7 .1h.8m4.6 .2h.8m3.5 0h.8m5.2 0h.8m-23.5 .1h.8m3.7 0h.8m7.4 0h.8m2.1 0h.8m8.1 0h.8m-15.8 .2h.8m7.5 0h.8m-4.4 .1h.8m-12 .2h.8m10.2 0h.8m-7.7 .2h.8m2.2 0h.8m-.5 0h.8m3.1 0h.8m1.3 .1h.8m-9.4 .1h.8m1.2 0h.8m-9.7 .1h.8m15.5 0h.8m-18.4 .1h.8m9.2 0h.8m1.6 0h.8m-3.9 .1h.8m5.6 0h.8m1.6 0h.8m.4 0h.8m-.1 0h.8m5 0h.8m-17.7 .1h.8m2.2 0h.8m3 0h.8m2.4 0h.8m-10 .1h.8m-.4 0h.8m7.8 0h.8m-6.8 .1h.8m1.1 0h.8m6.9 0h.8m-15.5 .1h.8m1.4 .1h.8m16.5 0h.8m-25.4 .1h.8m19.6 0h.8m-12.3 .1h.8m2 0h.8m2.2 0h.8m-5.5 .1h.8m.6 0h.8m-.5 0h.8m4.9 0h.8m-13.3 .1h.8m12.5 0h.8m-10.1 .1h.8m-13.4 .1h.8m2.4 0h.8m12 0h.8m-13.2 .1h.8m.5 0h.8m.8 0h.8m1.2 0h.8m5.5 0h.8m.2 0h.8m-.6 0h.8m.2 0h.8m-6.3 .1h.8m-.2 0h.8m-.3 .1h.8m11.2 0h.8m-13.9 .1h.8m7.7 .1h.8m-6.7 .1h.8m-11.9 .1h.8m11.2 0h.8m-18.4 .1h.8m8.5 0h.8m-.2 0h.8m-.4 0h.8m9.3 0h.8m-3.2 .1h.8m1.7 0h.8m3.6 0h.8m-12.2 .1h.8m2.4 0h.8m-17.9 .1h.8m19.1 0h.8m-7.9 .1h.8m10.7 .3h.8m-3.3 .1h.8m-16.9 .1h.8m6.5 .1h.8m1.8 0h.8m2.8 0h.8m-7 .1h.8m3.1 .2h.8m-4.1 .2h.8m-5.3 .1h.8m4.8 0h.8m4.3 0h.8m-3.5 .1h.8m2.7 0h.8m4.9 .1h.8m-14.8 .1h.8m-.2 0h.8m1.2 0h.8m2 0h.8m-8.6 .1h.8m2.7 0h.8m3.4 0h.8m4.1 0h.8m-18.7 .2h.8m2.1 0h.8m9.1 0h.8m-14.5 .1h.8m11.2 0h.8m5.6 .1h.8m2.1 .1h.8m-13.7 .1h.8m1.1 0h.8m2.6 0h.8m2 0h.8m-14.8 .1h.8m2.5 0h.8m2 0h.8m5.1 0h.8m2.1 0h.8m.8 0h.8m1.1 0h.8m-6 .1h.8m6.3 .1h.8m-4.3 .1h.8m-8.8 .1h.8m-9.8 .1h.8m.9 0h.8m12.2 0h.8m1.1 0h.8m1 0h.8m-12.7 .1h.8m4.1 0h.8m-5.2 .1h.8m9.4 0h.8m-17.7 .1h.8m5.5 0h.8m0 0h.8m2.4 0h.8m4.5 0h.8m-1.3 .1h.8m-9.3 .1h.8m-1.6 .1h.8m6.3 0h.8m-9.5 .2h.8m5.2 .1h.8m3.2 0h.8m1.4 0h.8m-12.9 .1h.8m3.7 0h.8m6.1 0h.8m-11.6 .1h.8m2.4 0h.8m1.9 0h.8m0 0h.8m.1 0h.8m-4.5 .1h.8m1.5 0h.8m5.1 0h.8m7.4 0h.8m-17.4 .1h.8m4.2 .1h.8m2 0h.8m-14 .1h.8m5.5 0h.8m4 0h.8m.8 0h.8m-14.2 .1h.8m7 0h.8m5.5 0h.8m-13.3 .1h.8m.3 0h.8m2.7 0h.8m-8.7 .1h.8m1.4 0h.8m4 0h.8m.5 0h.8m2 0h.8m2.8 0h.8m-13 .1h.8m.3 0h.8m5.4 0h.8m7.5 0h.8m-16 .1h.8m5.1 0h.8m3 0h.8m1.8 0h.8m1.7 0h.8m-14.6 .1h.8m5.5 0h.8m8 0h.8m-17.7 .1h.8m-4.8 .1h.8m4.2 0h.8m-1.8 .1h.8m8.8 0h.8m3 0h.8m-14.9 .1h.8m-.2 0h.8m13.3 .1h.8m4.8 0h.8m-18.6 .1h.8m4.4 0h.8m-.1 0h.8m5.5 0h.8m1.3 0h.8m-13.6 .1h.8m.3 .1h.8m3.4 0h.8m0 0h.8m1.5 0h.8m.3 0h.8m-11.6 .1h.8m1.6 .1h.8m2.5 0h.8m1.2 0h.8m4.2 0h.8m-13.1 .1h.8m.5 0h.8m-5.8 .1h.8m11.1 0h.8m-3.9 .1h.8m-5.1 .1h.8m-10.8 .1h.8m4.2 0h.8m.9 0h.8m1.4 0h.8m9 0h.8m-11.4 .1h.8m-.6 0h.8m6.1 0h.8m.2 0h.8m1.1 0h.8m8.1 .1h.8m-25 .1h.8m3.5 0h.8m0 0h.8m2.7 0h.8m2.9 0h.8m-.7 0h.8m-9.4 .1h.8m6 0h.8m-.2 0h.8m9.7 0h.8m-4.8 .1h.8m-11.6 .1h.8m2.3 0h.8m-8 .1h.8m8.1 0h.8m-.6 0h.8m10.9 0h.8m-20.5 .1h.8m3.2 0h.8m-.5 .1h.8m.6 0h.8m-8.3 .1h.8m3.8 0h.8m9.2 0h.8m.6 .1h.8m-22.2 .1h.8m3.6 0h.8m1.6 0h.8m-.6 0h.8m9.5 0h.8m-.2 0h.8m.5 0h.8m-8.4 .1h.8m6.5 0h.8m-9.2 .1h.8m5.5 0h.8m-9.3 .1h.8m4.7 .1h.8m3.1 0h.8m.5 0h.8m-8.8 .1h.8m13.2 0h.8m-22.2 .2h.8m4.5 0h.8m12.9 0h.8m-16.4 .1h.8m4.4 0h.8m5.1 0h.8m9.8 0h.8m-21.6 .1h.8m.8 0h.8m1.6 0h.8m2.7 0h.8m-13.6 .1h.8m12.8 0h.8m2 0h.8m-6.3 .3h.8m3.2 0h.8m3.4 0h.8m3.7 0h.8m-23.7 .1h.8m5.1 0h.8m2.7 0h.8m1.5 0h.8m-13.6 .1h.8m10.3 0h.8m-.4 0h.8m10.7 0h.8m-27.5 .1h.8m13.6 0h.8m.4 .1h.8m7.1 0h.8m-9 .1h.8m0 0h.8m4.7 0h.8m-23.1 .1h.8m20 0h.8m.2 0h.8m.2 0h.8m-14.5 .1h.8m.3 0h.8m16.7 0h.8m-15.3 .1h.8m3.9 0h.8m-15.7 .1h.8m5.4 0h.8m1.3 0h.8m0 0h.8m6.8 0h.8m1 0h.8m3.6 0h.8m-18.3 .1h.8m.3 0h.8m5.1 0h.8m2.1 0h.8m.8 0h.8m1.5 0h.8m2 .1h.8m-6.7 .1h.8m3.2 0h.8m-13 .2h.8m.6 0h.8m-4.8 .1h.8m2.9 0h.8m-10 .1h.8m4.9 0h.8m9.4 0h.8m-8.6 .1h.8m5.2 0h.8m4.3 0h.8m1.3 0h.8m-9.2 .1h.8m9.6 0h.8m-19.5 .1h.8m6.7 0h.8m2 0h.8m1.5 .2h.8m6.8 0h.8m-.4 0h.8m-22.7 .1h.8m6.4 0h.8m14.2 0h.8m-15.3 .1h.8m-3.5 .1h.8m13.6 0h.8m-9.6 .1h.8m5.8 0h.8m-16.9 .1h.8m6.6 0h.8m3.1 0h.8m.5 0h.8m.2 0h.8m8 0h.8m-22.4 .1h.8m9.7 0h.8m7.3 0h.8m-13.6 .1h.8m4.2 0h.8m-8.3 .1h.8m1.9 0h.8m2.2 0h.8m.9 0h.8m-.3 0h.8m-.1 0h.8m11.2 0h.8m-30 .2h.8m14.3 0h.8m2.4 0h.8m2.1 0h.8m-11.1 .1h.8m6.9 0h.8m-9.1 .1h.8m.6 0h.8m-.1 0h.8m4.1 0h.8m6.4 0h.8m-11.5 .1h.8m1.5 0h.8m2.2 0h.8m.5 0h.8m-12.6 .1h.8m2.5 0h.8m.6 0h.8m1.3 .1h.8m.2 0h.8m6.6 0h.8m-16.1 .1h.8m2.5 0h.8m-.6 0h.8m6.9 0h.8m.4 0h.8m2.7 0h.8m-26.9 .1h.8m5.4 0h.8m4.3 0h.8m2.8 0h.8m.7 0h.8m.7 0h.8m-6.1 .1h.8m6.6 0h.8m2.9 0h.8m-12.3 .1h.8m8 0h.8m-.8 0h.8m2.5 0h.8m0 0h.8m-11.1 .1h.8m7.4 0h.8m-15.2 .1h.8m.7 0h.8m2.5 0h.8m2 0h.8m-.1 .1h.8m.8 0h.8m-.5 0h.8m1.5 0h.8m-18.6 .1h.8m5.3 0h.8m1.1 0h.8m8.1 0h.8m.2 0h.8m1.6 0h.8m-11.9 .1h.8m.3 .1h.8m.3 0h.8m.7 0h.8m5.6 0h.8m-17.4 .1h.8m9 0h.8m-.8 0h.8m6.4 0h.8m-13.7 .1h.8m.3 0h.8m-.5 0h.8m3 0h.8m.7 0h.8m.5 0h.8m-7.6 .1h.8m5.5 0h.8m-.7 0h.8m4.1 0h.8m10.8 .1h.8m-26.9 .1h.8m-.3 0h.8m1.3 0h.8m.4 0h.8m12 0h.8m-15.2 .1h.8m-.2 0h.8m4.3 0h.8m-10.8 .1h.8m5.8 0h.8m1.8 0h.8m-8.1 .1h.8m6.4 0h.8m6.1 0h.8m-10.7 .1h.8m-6.4 .1h.8m4.3 0h.8m.4 0h.8m.4 0h.8m-6.9 .1h.8m-.5 0h.8m10.2 0h.8m-.6 0h.8m3.4 0h.8m-18.5 .1h.8m5.9 0h.8m8.2 0h.8m-12.2 .1h.8m2.2 0h.8m7.5 0h.8m-3.1 .1h.8m-.1 .1h.8m-3.8 .1h.8m-.1 0h.8m1.3 0h.8m-6.1 .1h.8m3.2 0h.8m5.4 0h.8m0 0h.8m-14.5 .1h.8m9.7 0h.8m-17.8 .1h.8m.7 0h.8m4.3 0h.8m-7.4 .2h.8m4 0h.8m4.4 0h.8m2.4 0h.8m-10.4 .1h.8m-.3 0h.8m5.1 0h.8m-10.2 .1h.8m5.5 0h.8m1.6 0h.8m3.2 .2h.8m-.5 0h.8m-9.4 .1h.8m2.9 0h.8m2 0h.8m2.3 0h.8m4.5 0h.8m-18.2 .1h.8m1.7 0h.8m12.7 0h.8m-3.4 .1h.8m-8.4 .1h.8m1.6 0h.8m-10.8 .1h.8m-.5 0h.8m9.2 0h.8m11.6 0h.8m2.7 0h.8m-14.2 .1h.8m1.9 0h.8m-12.6 .1h.8m7.2 0h.8m3.9 0h.8m-5 .1h.8m1 0h.8m-7.7 .1h.8m5.3 0h.8m5.6 0h.8m-.3 0h.8m-23.9 .1h.8m8.9 0h.8m-7.8 .1h.8m6.1 0h.8m.8 0h.8m.5 0h.8m3.4 0h.8m1.8 0h.8m.2 0h.8m-23.6 .1h.8m21.8 0h.8m-15.5 .1h.8m6 0h.8m.8 0h.8m-6.4 .1h.8m2 0h.8m-.6 0h.8m3.4 0h.8m2.5 0h.8m-7.2 .1h.8m-8.6 .1h.8m9.5 0h.8m.5 0h.8m1.6 0h.8m-15.3 .1h.8m3.5 0h.8m4.1 0h.8m3.1 0h.8m-6 .1h.8m.3 0h.8m4.8 0h.8m-14.2 .1h.8m.8 0h.8m4.4 .1h.8m2.2 0h.8m-7.2 .1h.8m3.5 0h.8m2.1 0h.8m-.3 0h.8m-6.7 .1h.8m1 0h.8m2.9 0h.8m3 0h.8m-20 .1h.8m4.3 0h.8m-.1 0h.8m7.8 0h.8m-.7 0h.8m.7 0h.8m.6 0h.8m-14.1 .1h.8m17.6 0h.8m-20.2 .1h.8m2.6 0h.8m19 0h.8m-.6 0h.8m-23.3 .1h.8m-.1 0h.8m5 0h.8m3 0h.8m-.1 0h.8m-14.8 .1h.8m7.2 0h.8m6.6 0h.8m-7.4 .1h.8m2.6 0h.8m1.8 0h.8m-4.6 .1h.8m4.7 0h.8m2.4 0h.8m3.5 0h.8m-14.3 .1h.8m12.9 0h.8m-20.2 .1h.8m.7 0h.8m1.3 0h.8m-.1 0h.8m3.4 0h.8m.3 0h.8m-10.3 .1h.8m.1 0h.8m1.9 0h.8m-.3 0h.8m3.3 0h.8m0 0h.8m1.4 0h.8m-15.2 .1h.8m7.6 0h.8m-.1 0h.8m3.4 0h.8m4.6 .1h.8m-16.6 .1h.8m.5 0h.8m5.5 0h.8m-9.3 .1h.8m11.6 0h.8m-6.6 .1h.8m3.4 0h.8m-9.3 .2h.8m1.9 0h.8m-2.1 .1h.8m-.5 0h.8m4.2 0h.8m0 0h.8m-.7 .1h.8m1.2 0h.8m7.1 0h.8m-18.9 .1h.8m4.1 0h.8m.8 0h.8m1.3 0h.8m.6 0h.8m-11.3 .1h.8m5.6 0h.8m-11.6 .1h.8m4.1 0h.8m2.8 0h.8m2.2 0h.8m2.3 0h.8m-12.8 .1h.8m5 0h.8m0 0h.8m-2.3 .1h.8m6.4 0h.8m.6 0h.8m-13.8 .2h.8m4.3 0h.8m2.6 0h.8m-9.7 .1h.8m3.1 0h.8m4.3 0h.8m3.3 0h.8m-5.5 .1h.8m0 0h.8m1 .1h.8m2.9 0h.8m-.2 0h.8m-7.5 .1h.8m-.5 0h.8m-16.9 .1h.8m2.9 0h.8m9.8 0h.8m5.2 0h.8m-4.2 .1h.8m0 0h.8m3.2 0h.8m.7 0h.8m-23.2 .1h.8m10.9 0h.8m5 0h.8m-5.1 .1h.8m-6.8 .1h.8m19.1 0h.8m-21.4 .1h.8m4.5 0h.8m-.6 0h.8m2.4 0h.8m2.7 0h.8m-.7 0h.8m-19.5 .2h.8m6.6 0h.8m2.8 0h.8m8.4 0h.8m-1 .2h.8m2.5 0h.8m3.1 0h.8m-18.9 .1h.8m1.5 0h.8m1 0h.8m-6.9 .1h.8m2.4 0h.8m1.5 0h.8m-4.3 .1h.8m7.3 0h.8m-16.8 .1h.8m11.5 0h.8m1.2 0h.8m-5.5 .1h.8m-5.2 .1h.8m7.8 0h.8m-13.5 .1h.8m12.6 0h.8m4 0h.8m-21.5 .1h.8m8.5 0h.8m.2 0h.8m-2 .1h.8m1.4 0h.8m13 0h.8m-25.1 .1h.8m9.2 0h.8m1.9 0h.8m2.6 0h.8m-11.7 .1h.8m15.4 0h.8m-18.3 .1h.8m6.1 0h.8m1.5 0h.8m-.4 0h.8m.9 0h.8m2.9 0h.8m-14.8 .1h.8m5.3 0h.8m10.1 0h.8m-19.7 .1h.8m4.3 0h.8m5.2 0h.8m-14.2 .1h.8m7.7 .1h.8m8.8 0h.8m.4 0h.8m-17.1 .1h.8m4.4 0h.8m4 0h.8m-.1 0h.8m6.5 0h.8m-17.9 .1h.8m5.4 0h.8m6 0h.8m0 0h.8m-5.9 .1h.8m.6 0h.8m7.1 0h.8m.9 0h.8m-15.2 .1h.8m-.3 0h.8m1.8 0h.8m15.6 0h.8m-21.1 .1h.8m5.7 0h.8m-.5 0h.8m-3.8 .1h.8m4.8 0h.8m3 0h.8m-10.9 .1h.8m.6 0h.8m10.3 0h.8m-18.5 .1h.8m1.6 0h.8m8.2 0h.8m-8.5 .1h.8m1.5 0h.8m2.1 0h.8m-.3 0h.8m3.8 0h.8m-14.1 .1h.8m1.9 0h.8m-.3 0h.8m1.7 0h.8m-2.2 .1h.8m2.4 0h.8m-.5 0h.8m-12.7 .1h.8m9.9 .1h.8m1.7 0h.8m-8 .1h.8m-.7 0h.8m-.7 0h.8m1.8 0h.8m3.9 0h.8m-16 .1h.8m10 0h.8m-.5 0h.8m1.8 0h.8m-14.6 .2h.8m-.6 0h.8m2.8 0h.8m4.8 0h.8m1.9 0h.8m-4.4 .1h.8m8.9 0h.8m-8.2 .1h.8m-5.7 .1h.8m-.7 0h.8m8.1 0h.8m-12.8 .1h.8m3.7 0h.8m5.9 0h.8m1.1 0h.8m-.5 0h.8m.3 0h.8m-13.2 .1h.8m-.2 0h.8m11.4 0h.8m-8.2 .1h.8m6.1 0h.8m-16.3 .2h.8m19.2 0h.8m-25.3 .1h.8m2.1 0h.8m11.7 0h.8m-.5 0h.8m3.7 0h.8m-12.5 .1h.8m.9 0h.8m4 0h.8m1.6 0h.8m-7.9 .1h.8m6.3 0h.8m4.4 0h.8m-14.5 .1h.8m13.3 0h.8m-14.2 .1h.8m1.4 0h.8m1 0h.8m5.8 0h.8m.6 0h.8m-14.1 .1h.8m3.4 0h.8m5.6 0h.8m-.7 0h.8m-5.6 .1h.8m2.2 0h.8m-12.1 .1h.8m10.6 0h.8m4.6 0h.8m3.3 0h.8m-17.6 .1h.8m9.5 0h.8m-13.2 .1h.8m2.7 0h.8m2.4 0h.8m.2 0h.8m.6 0h.8m-.6 0h.8m2.2 0h.8m-12.1 .1h.8m-2.4 .2h.8m9.6 .1h.8m2.5 0h.8m-14.8 .1h.8m10.8 0h.8m-15.3 .1h.8m10.7 0h.8m0 .1h.8m.5 0h.8m-8 .1h.8m3.5 0h.8m1.4 0h.8m5.8 0h.8m-13.9 .1h.8m1 0h.8m-.6 0h.8m1.6 0h.8m.8 0h.8m-.2 0h.8m-4.5 .1h.8m6.7 0h.8m.7 .1h.8m-17.9 .1h.8m9.9 0h.8m.7 .1h.8m-17.7 .1h.8m4.4 .1h.8m8.6 0h.8m12 0h.8m-26.8 .1h.8m13.3 0h.8m-10.5 .1h.8m1.4 0h.8m3.7 0h.8m5.3 0h.8m.2 0h.8m2.8 0h.8m-14.2 .1h.8m-.4 0h.8m4.4 0h.8m.1 0h.8m5.6 0h.8m-13.4 .1h.8m0 0h.8m-5 .1h.8m6.2 0h.8m11.6 0h.8m-16.8 .1h.8m13.6 0h.8m-17.2 .1h.8m5.6 .1h.8m-.2 0h.8m-7.5 .2h.8m7.3 0h.8m-9.5 .1h.8m-.2 0h.8m3.6 0h.8m-6 .1h.8m.6 0h.8m-5.9 .1h.8m-.1 0h.8m6.2 0h.8m-5.2 .1h.8m.8 0h.8m1 0h.8m3.2 0h.8m3 0h.8m-7.4 .1h.8m2 0h.8m.9 0h.8m.3 0h.8m-6.1 .1h.8m-8.3 .1h.8m18.4 0h.8m-22.6 .1h.8m3.6 0h.8m-.3 0h.8m1.9 0h.8m5.1 0h.8m7.2 0h.8m3.2 0h.8m-22.6 .1h.8m7.9 0h.8m2.1 0h.8m1.7 0h.8m.4 0h.8m-21.5 .1h.8m24 .1h.8m-10.4 .1h.8m-3.2 .1h.8m2.5 0h.8m1.4 0h.8m-15.1 .1h.8m5.6 0h.8m12.3 0h.8m-4.9 .1h.8m-5.6 .1h.8m3.5 0h.8m-13.5 .1h.8m10.3 0h.8m-.7 0h.8m-1.8 .1h.8m.9 0h.8m-9.9 .2h.8m3 0h.8m5.2 0h.8m-12.6 .1h.8m14 0h.8m-25.5 .1h.8m8.4 0h.8m-2.8 .1h.8m8.1 .1h.8m2.9 0h.8m10.9 0h.8m-19.1 .1h.8m-4.7 .2h.8m9.2 0h.8m-6 .1h.8m6.3 0h.8m-12 .1h.8m12.7 0h.8m-14.9 .1h.8m9.3 0h.8m-8.1 .1h.8m3.7 0h.8m-7.6 .1h.8m4.3 0h.8m-5.8 .1h.8m-2.9 .1h.8m4.2 .1h.8m1.9 0h.8m6.5 0h.8m-14.6 .1h.8m2.7 0h.8m.4 0h.8m2.4 0h.8m-.7 .1h.8m-.9 .1h.8m1.2 0h.8m-11.8 .1h.8m.5 0h.8m-.7 .1h.8m5.1 0h.8m-12.1 .1h.8m10.4 .1h.8m-7.9 .1h.8m6.9 0h.8m-7.5 .1h.8m8.3 0h.8m-7.6 .1h.8m1.2 0h.8m.9 0h.8m2.9 0h.8m-19.1 .1h.8m1.1 0h.8m11.1 0h.8m-8.9 .1h.8m7.2 0h.8m18 0h.8m-19.3 .1h.8m3 0h.8m7.5 0h.8m-12.7 .1h.8m-.2 0h.8m11.1 0h.8m-19.2 .1h.8m3.8 0h.8m0 0h.8m10.8 0h.8m-12 .1h.8m2.5 .1h.8m7.6 0h.8m-18.7 .1h.8m14.9 0h.8m-10.4 .1h.8m-7.7 .1h.8m4.3 0h.8m5.6 0h.8m2.6 0h.8m-11 .1h.8m.3 0h.8m5.5 0h.8m-8.5 .1h.8m1.1 0h.8m-8.6 .1h.8m-.3 0h.8m11.9 0h.8m.8 .1h.8m-12.9 .1h.8m.4 0h.8m-4.8 .1h.8m6.2 0h.8m.6 0h.8m3.2 0h.8m-15.2 .1h.8m13.1 0h.8m4.4 0h.8m-15.2 .1h.8m8.1 0h.8m-5.7 .1h.8m7.4 0h.8m.1 0h.8m-18.5 .1h.8m7.2 0h.8m1.9 0h.8m-8.3 .1h.8m3.2 .1h.8m-.4 0h.8m.8 0h.8m2.1 0h.8m-.1 0h.8m-4 .1h.8m3.4 0h.8m3.3 0h.8m1.3 0h.8m-24.1 .1h.8m3.8 0h.8m14.9 0h.8m-5.2 .1h.8m4.8 0h.8m12.1 .1h.8m-19.7 .1h.8m2.2 .1h.8m4.1 0h.8m-9.8 .2h.8m6.5 0h.8m-12.5 .1h.8m13.4 0h.8m-9.8 .1h.8m-.8 0h.8m-14.9 .2h.8m12.1 0h.8m5 .1h.8m4.2 0h.8m-15.9 .1h.8m9.6 0h.8m-5.8 .1h.8m-15.6 .1h.8m7.7 .1h.8m1.2 0h.8m4.4 0h.8m1.6 0h.8m-15.1 .1h.8m6.9 0h.8m7.1 0h.8m-16 .1h.8m2.2 .1h.8m2.3 0h.8m3.5 0h.8m3.3 0h.8m-16 .1h.8m14.9 0h.8m-1 .1h.8m-8.1 .1h.8m1.9 0h.8m-5 .2h.8m2 0h.8m1.1 0h.8m1.7 .2h.8m-2.6 .1h.8m-8 .4h.8m9.5 0h.8m-5.9 .1h.8m-11.5 .1h.8m2.9 0h.8m-6.5 .1h.8m25.1 0h.8m-10.6 .1h.8m-6.2 .1h.8m2.9 0h.8m-11.2 .2h.8m.1 .1h.8m5.3 .1h.8m-13.2 .1h.8m8 0h.8m8.9 .1h.8m-6.7 .2h.8m4.3 0h.8m-.8 0h.8m-12.6 .1h.8m14.2 0h.8m-19 .1h.8m.7 .1h.8m17.8 0h.8m-17.2 .2h.8m2.5 .2h.8m13.5 0h.8m2.5 .1h.8m-20.5 .1h.8m2.6 0h.8m-6.3 .2h.8m16.9 0h.8m-11.7 .2h.8m8.2 0h.8m-14.6 .1h.8m8.3 0h.8m-6.9 .1h.8m3.9 .1h.8m3.7 0h.8m4.6 0h.8m-24.7 .1h.8m2.3 0h.8m6.4 0h.8m2.6 0h.8m13 0h.8m-28.3 .1h.8m1.8 0h.8m9.4 .1h.8m1.5 0h.8m-6.5 .1h.8m7.3 0h.8m1.5 0h.8m-12.2 .2h.8m9.6 .1h.8m-13.4 .1h.8m9.4 .1h.8m1.3 0h.8m6.5 0h.8m-20.9 .1h.8m.7 .1h.8m-.2 .2h.8m.8 0h.8m0 0h.8m1.5 0h.8m9.9 0h.8m-11.1 .1h.8m8 .1h.8m-12.3 .3h.8m.8 .2h.8m-2.7 .2h.8m1.9 .2h.8m-5.8 .1h.8m2.6 .1h.8m-3.8 .2h.8m-3.2 .2h.8m9.8 0h.8m1.3 0h.8m-9.6 .1h.8m.1 .1h.8m2.2 .3h.8m7.1 .3h.8m-21.1 .1h.8m13 0h.8m-7 .8h.8m5.3 0h.8m-12 .1h.8m6.2 .2h.8m-4.7 .1h.8m4.3 0h.8m1.6 0h.8m-9.3 .4h.8m8.2 0h.8m1.4 0h.8m.9 .1h.8m-12.9 .1h.8m.5 .4h.8m-6.2 .2h.8m6.6 .1h.8m-6 .1h.8m6.6 .4h.8m-2.1 .1h.8m2.5 0h.8m2.8 0h.8m2.1 .3h.8m-10.1 .1h.8m3.8 0h.8m-12.5 .1h.8m7.8 .4h.8m0 .1h.8m-2.9 .2h.8m-2.7 .3h.8m4.6 0h.8m-13 .4h.8m15.6 .2h.8m-6.5 .2h.8m-3.4 .1h.8m-2.6 .2h.8m-2.7 .1h.8m14.6 0h.8m-10.5 .3h.8m-4 .3h.8m-2 .3h.8m11.8 .7h.8m-13.4 .1h.8m2.5 .5h.8m-1.1 .2h.8m6.1 0h.8m-10.1 .5h.8m-4.3 .1h.8m-3 .1h.8m13.3 .7h.8m-15.8 .1h.8m5 0h.8m10.2 .1h.8m-11.5 .7h.8m12.2 0h.8m-1 .4h.8m-10.7 .3h.8m-10.4 .8h.8m9.7 .3h.8m-4.8 .1h.8m11.6 .8h.8" stroke="#1a1aff" stroke-width=".8"/>
<defs><radialGradient id="dg2"><stop offset="0" stop-color="#f04020" stop-opacity="1"/><stop offset="0.05" stop-color="#e8e030" stop-opacity="1"/><stop offset="0.14" stop-color="#90f040" stop-opacity="1"/><stop offset="0.34" stop-color="#40ee60" stop-opacity="1"/><stop offset="0.46" stop-color="#30e0e0" stop-opacity="1"/><stop offset="0.56" stop-color="#2090ff" stop-opacity="1"/><stop offset="0.68" stop-color="#1a1aff" stop-opacity="1"/><stop offset="0.86" stop-color="#1a1aff" stop-opacity="0.55"/><stop offset="1" stop-color="#1a1aff" stop-opacity="0"/></radialGradient></defs><ellipse cx="77" cy="577" rx="13.0" ry="38.0" fill="url(#dg2)" transform="rotate(4 77 577)"/>
<path d="M73.4 611.4h.8m12.3 .1h.8m.4 .1h.8m-5.2 .1h.8m4.7 .2h.8m-5.6 .1h.8m-6.5 .1h.8m6.1 .1h.8m6.8 0h.8m-1 .1h.8m-8.5 .1h.8m3.8 0h.8m.1 0h.8m-9.9 .2h.8m12.2 0h.8m-11.5 .1h.8m6.9 0h.8m0 0h.8m-9.5 .3h.8m4.4 0h.8m-9.3 .1h.8m-.5 0h.8m1.2 0h.8m.9 0h.8m-.1 0h.8m7.3 0h.8m1.4 0h.8m1.9 0h.8m-23.4 .3h.8m8.7 0h.8m4.1 0h.8m2 0h.8m-11.2 .1h.8m2.6 .1h.8m.5 0h.8m-7.5 .1h.8m4.9 0h.8m1.6 0h.8m-10.3 .1h.8m6.9 0h.8m6.5 0h.8m-13.7 .1h.8m-3.8 .1h.8m1 0h.8m4 0h.8m3.7 0h.8m-3.4 .1h.8m-3 .1h.8m-.7 0h.8m1.2 0h.8m.2 0h.8m-6.6 .1h.8m-.2 0h.8m3.1 0h.8m8.2 0h.8m-12.1 .1h.8m.5 0h.8m-8.7 .1h.8m2.3 0h.8m3.7 0h.8m5 0h.8m1.3 0h.8m-10.8 .1h.8m2.9 0h.8m-.5 0h.8m7.2 0h.8m-7.8 .1h.8m-4.1 .1h.8m0 0h.8m1.3 0h.8m-.8 0h.8m8 0h.8m-12.6 .1h.8m-.5 0h.8m3.5 0h.8m2.5 0h.8m-11.1 .2h.8m3.3 0h.8m-.4 0h.8m2.8 0h.8m-13.5 .1h.8m7.2 0h.8m1.1 0h.8m-10.5 .1h.8m3.4 0h.8m-11.8 .1h.8m10.3 0h.8m8.1 0h.8m1 0h.8m-.1 0h.8m-.1 0h.8m-15.2 .1h.8m10.9 0h.8m-11.4 .1h.8m.4 0h.8m-.7 0h.8m-.3 0h.8m0 0h.8m7.6 0h.8m-1.9 .1h.8m-.4 0h.8m-10.6 .1h.8m.3 0h.8m1 0h.8m-.8 0h.8m2.1 0h.8m-.6 0h.8m-11.1 .1h.8m4 0h.8m4.7 0h.8m-6.6 .1h.8m1.2 0h.8m4.7 0h.8m1 0h.8m-10.8 .1h.8m5.8 0h.8m.8 0h.8m-8.7 .1h.8m1.2 0h.8m4.1 0h.8m.5 0h.8m2.5 0h.8m-10.2 .1h.8m2.8 0h.8m0 0h.8m-.6 0h.8m3 .1h.8m-12 .1h.8m5 0h.8m-2.8 .1h.8m6.6 .1h.8m-6.4 .1h.8m.4 0h.8m.7 0h.8m2 .1h.8m2.6 0h.8m-.4 .4h.8m1.8 0h.8m-16.8 .1h.8m12.5 0h.8m-3.2 .1h.8m1.4 .1h.8m-18.3 .3h.8m7.9 0h.8m-1.5 .2h.8m3 0h.8m-2.5 .1h.8m1.9 0h.8m-9.3 .3h.8m.3 1.5h.8" stroke="#2020e0" stroke-width=".8"/>
<path d="M41.4 613.2h.8m-6 .3h.8m15.9 .1h.8m-6.2 .1h.8m-6 .2h.8m3.4 0h.8m-6.7 .1h.8m-.5 0h.8m5 0h.8m.4 0h.8m-.3 0h.8m-.9 .2h.8m2.8 0h.8m-10.9 .1h.8m.8 0h.8m.3 0h.8m2.4 0h.8m-7.3 .1h.8m3.2 0h.8m.2 0h.8m-14.5 .2h.8m5.2 0h.8m2.1 0h.8m.7 0h.8m11.3 0h.8m-11.3 .1h.8m7.6 0h.8m-12.2 .1h.8m-7.2 .1h.8m5.8 0h.8m7.3 .2h.8m-21.6 .1h.8m15.8 0h.8m0 .1h.8m.1 0h.8m-9.9 .1h.8m4.5 0h.8m2.5 0h.8m-7.4 .1h.8m2.6 0h.8m.8 0h.8m-.1 0h.8m1.4 0h.8m-15.3 .1h.8m7.9 0h.8m1 0h.8m-14 .1h.8m6.3 0h.8m8.9 0h.8m2 0h.8m-8.8 .1h.8m2 0h.8m-9 .1h.8m3.6 0h.8m-.2 0h.8m-.7 0h.8m.7 0h.8m2.1 0h.8m7.4 0h.8m-21.9 .1h.8m.7 0h.8m4 0h.8m1.5 0h.8m2.9 0h.8m-5 .1h.8m8.8 0h.8m-16.2 .1h.8m7.2 0h.8m2 0h.8m.3 0h.8m-14.6 .1h.8m3.7 0h.8m-.4 0h.8m1.2 0h.8m-.5 0h.8m3.2 0h.8m-10.7 .1h.8m1.5 0h.8m13.9 0h.8m-13.2 .1h.8m4.7 0h.8m.5 0h.8m1.6 0h.8m-17.3 .1h.8m7.3 0h.8m-.3 0h.8m.3 0h.8m7.4 0h.8m-9.5 .1h.8m-.7 0h.8m1.1 0h.8m-10.4 .1h.8m8.5 0h.8m3.7 0h.8m-4.9 .1h.8m4.9 0h.8m-.7 0h.8m-8.6 .1h.8m-.7 0h.8m.8 0h.8m1.9 0h.8m.7 0h.8m-9.5 .1h.8m3.7 0h.8m10.2 0h.8m-22.9 .1h.8m3.9 .1h.8m6.6 .1h.8m.1 0h.8m2.9 0h.8m-9.7 .1h.8m6.9 0h.8m-10.7 .1h.8m2.8 .2h.8m11.3 .1h.8m-7.8 .1h.8m3.5 .2h.8m-8.2 .2h.8m.1 .6h.8m-1.8 .9h.8" stroke="#2020e0" stroke-width=".8"/>
<rect x="17.5" y="524.1" width="98.5" height="96.1" fill="none" stroke="#111" stroke-width="1.4"/>
<path d="M30.3,528.4 L60.2,527.4 L59.8,582.8 L69.4,616.9 L28,617.3 Z" fill="none" stroke="#111" stroke-width="1"/>
<path d="M62.5,527.4 L93.2,526.9 L100.1,582.8 L100.1,615 L93.2,617.3 L70.2,617.3 L61,584.4 Z" fill="none" stroke="#111" stroke-width="1"/>
<path d="M44.7,527.8 L44.7,511.4 L131,511.4" fill="none" stroke="#111" stroke-width="1"/>
<line x1="130.0" y1="511.4" x2="131.5" y2="511.4" stroke="#111" stroke-width="1"/><path d="M137.0,511.4L131.0,514.4L131.0,508.4Z" fill="#111"/>
<path d="M100.1,584.4 L107.3,584.4 L107.3,631.3 L130,631.3" fill="none" stroke="#111" stroke-width="1"/>
<line x1="129.0" y1="631.3" x2="130.5" y2="631.3" stroke="#111" stroke-width="1"/><path d="M136.0,631.3L130.0,634.3L130.0,628.3Z" fill="#111"/>
<text x="14" y="620.8" font-size="11.92" fill="#1a1a1a" stroke="#1a1a1a" stroke-width="0.25" transform="rotate(-90 14 620.8)">SSC-A</text>
<text x="38" y="632.3" font-size="12.03" fill="#1a1a1a" stroke="#1a1a1a" stroke-width="0.25">CD45-KrO</text>
<path d="M175.8 470.8h.8m-15.6 1.9h.8m10.3 .2h.8m-.3 1.3h.8m1.2 .4h.8m-1.3 .4h.8m-6.1 .3h.8m1.2 0h.8m1.6 .3h.8m-6.1 .1h.8m3.7 0h.8m-10 .8h.8m10.4 .2h.8m-6.3 .7h.8m2.6 .9h.8m-1.8 .3h.8m1.4 .8h.8m-1.3 1.1h.8m-4.6 .4h.8m9.5 .4h.8m-11.8 .1h.8m2.4 .4h.8m.1 .5h.8m2.2 .5h.8m-1 .1h.8m-8.7 .2h.8m5.8 .8h.8m-9.6 .1h.8m12.5 .1h.8m-9 .2h.8m3.9 .4h.8m-4.9 .3h.8m-3.3 .1h.8m3 .2h.8m-4.6 .1h.8m3.7 .5h.8m-2.6 .1h.8m-4 .4h.8m2.2 0h.8m-8 .4h.8m16.5 .1h.8m-7.9 1h.8m-6.9 .2h.8m-1.2 .1h.8m8.9 .4h.8m-2.9 .1h.8m-7.2 .1h.8m1.6 .1h.8m-5.4 .3h.8m-2.3 .1h.8m8.9 .5h.8m-7.7 .3h.8m-1.2 .1h.8m5.1 0h.8m-4.3 .2h.8m-1 .1h.8m1.1 .1h.8m3.7 .2h.8m-.3 .3h.8m-6.7 .1h.8m-4.4 .1h.8m13.7 0h.8m-15.3 .1h.8m-1.1 .1h.8m.4 .2h.8m1.6 .1h.8m-3.2 .8h.8m-4.4 .1h.8m6.2 .1h.8m.6 .2h.8m-6.8 .1h.8m5.7 0h.8m-1.6 .3h.8m-.2 .1h.8m-4.5 .1h.8m1.9 .4h.8m.2 .1h.8m-8.2 .2h.8m2.3 0h.8m2.4 0h.8m-.1 .1h.8m5.2 .6h.8m-8.4 .1h.8m.7 .1h.8m-6.3 .3h.8m2.1 .2h.8m3.1 0h.8m-5.8 .2h.8m2.9 0h.8m-6.6 .1h.8m2.2 .7h.8m-5.1 .1h.8m-3.6 .1h.8m-.6 0h.8m1.2 .3h.8m4.2 .5h.8m.8 .1h.8m.6 0h.8m-7.4 .3h.8m7.3 0h.8m-6.2 .1h.8m-6 .2h.8m.8 .2h.8m-1.5 .1h.8m1.3 .1h.8m.9 .1h.8m.3 .5h.8m-.2 0h.8m-4.9 .1h.8m6 0h.8m-3 .1h.8m3.1 .4h.8m-4.2 .1h.8m-4.2 .3h.8m1.2 .2h.8m1.8 0h.8m-6.2 .2h.8m6.3 .1h.8m-7.3 .1h.8m-2 .3h.8m4.7 0h.8m-9.1 .1h.8m4.3 0h.8m-2.1 .2h.8m-3.7 .1h.8m4.4 0h.8m-3.9 .2h.8m1.4 0h.8m-3.5 .2h.8m2 .1h.8m4.1 .3h.8m-4.9 .4h.8m3.7 .2h.8m0 .4h.8m-3.4 .2h.8m-7.4 .1h.8m-1.9 .2h.8m10.2 .4h.8m-6.3 .1h.8m-2.1 .1h.8m.6 .1h.8m-3.9 .1h.8m-3.4 .2h.8m1.4 .4h.8m2.6 .1h.8m.5 .1h.8m-9.7 .1h.8m4 .4h.8m1.9 .3h.8m-4 .2h.8m0 .2h.8m4.9 0h.8m-7.3 .3h.8m.7 .1h.8m-1.4 .5h.8m1.3 .4h.8m-3.6 .4h.8m2.3 .1h.8m-3.4 .5h.8m1.2 0h.8m-.6 0h.8m-4.2 .1h.8m-3.5 .4h.8m.3 0h.8m1.3 .2h.8m1.8 .5h.8m-4.4 .2h.8m4.7 .1h.8m.3 .2h.8m-12.7 .3h.8m8.2 0h.8m-5.3 .3h.8m.2 0h.8m2.1 0h.8m.5 .3h.8m-9.1 .1h.8m6.4 0h.8m-1.5 .2h.8m2.8 0h.8m-9.7 .1h.8m-.8 .2h.8m.4 .1h.8m12 0h.8m-12.1 .1h.8m.9 0h.8m1.7 0h.8m-1.5 .2h.8m4.3 .1h.8m-12.6 .2h.8m7.3 0h.8m-5.1 .1h.8m3 .3h.8m-8.6 .3h.8m5.1 0h.8m2.1 0h.8m-6.7 .6h.8m4.6 0h.8m3.8 .4h.8m-7.7 .3h.8m4.4 0h.8m-4.7 .6h.8m-4 .1h.8m.4 .1h.8m1.5 0h.8m-2.3 .4h.8m6.6 .1h.8m-10.3 .2h.8m.9 0h.8m-.7 0h.8m-6.8 .1h.8m1 .1h.8m3.9 0h.8m-1.3 .1h.8m-4.5 .3h.8m6.6 .2h.8m-8.1 .2h.8m8.9 .2h.8m-5.8 .1h.8m-8.8 .2h.8m3.9 .1h.8m-5.1 .1h.8m2.9 .3h.8m-4.3 .2h.8m9.7 0h.8m.4 .3h.8m-4.6 .3h.8m-.1 0h.8m-8.8 .3h.8m3.3 0h.8m-4.6 .1h.8m2.8 .1h.8m2.4 .4h.8m-.7 0h.8m6.2 .1h.8m-11.5 .1h.8m-1.1 .5h.8m3.7 .1h.8m-8.8 .2h.8m7.2 .6h.8m2.9 0h.8m-7.2 .1h.8m-7 .1h.8m3.3 0h.8m-.2 0h.8m4.4 0h.8m-7.5 .2h.8m3 .2h.8m-5.7 .4h.8m1 0h.8m2.3 .1h.8m-3.1 .1h.8m2.5 0h.8m-7.7 .1h.8m.5 0h.8m-5.1 .2h.8m8.3 .3h.8m.3 0h.8m-13.9 .1h.8m5.9 0h.8m2.4 0h.8m-.1 0h.8m0 .3h.8m.8 0h.8m2.4 .2h.8m-3.9 .1h.8m-2.3 .8h.8m-8.8 .1h.8m4.9 0h.8m3.2 .1h.8m5.1 .7h.8m-9.6 .1h.8m2.6 .1h.8m-12.5 .4h.8m8.6 0h.8m-.3 .1h.8m1.9 0h.8m-6.1 .1h.8m1.7 0h.8m-5 .1h.8m.4 .1h.8m.4 .6h.8m3.9 0h.8m-4.8 .1h.8m1.4 0h.8m-8.3 .1h.8m2.1 .1h.8m2.5 .3h.8m2.2 0h.8m-10.3 .2h.8m1.3 0h.8m4.8 0h.8m.3 .1h.8m-9.8 .1h.8m6.6 .1h.8m-4.3 .1h.8m.6 0h.8m-3.8 .1h.8m1.9 0h.8m-1.5 .1h.8m-1.8 .1h.8m-2.7 .1h.8m10 .1h.8m-.9 .2h.8m-5.6 .1h.8m-6.9 .4h.8m.5 .2h.8m3.6 0h.8m-.7 0h.8m-5.8 .4h.8m4.4 0h.8m-2.7 .1h.8m-7.5 .1h.8m9.9 .1h.8m-11.9 .1h.8m7.6 0h.8m-4.4 .3h.8m.5 .1h.8m5.9 0h.8m-13.4 .1h.8m4.1 0h.8m3 0h.8m-7 .1h.8m-1.3 .3h.8m4.5 .1h.8m-.4 0h.8m-4.6 .1h.8m-.6 0h.8m-.5 .2h.8m.6 0h.8m-.7 .1h.8m2.6 0h.8m-8.5 .4h.8m5.2 0h.8m1.2 0h.8m-.6 .1h.8m-8.6 .1h.8m3.2 .1h.8m-2.2 .3h.8m9.4 0h.8m-14.9 .1h.8m-4 .1h.8m2 0h.8m7 0h.8m-5 .1h.8m-.6 0h.8m4.1 .1h.8m.2 .1h.8m-4.1 .1h.8m-.4 .1h.8m-7.1 .1h.8m.5 0h.8m6.6 0h.8m-.9 .1h.8m-10.6 .1h.8m7.1 0h.8m-3.2 .1h.8m-.3 0h.8m-.1 0h.8m4.2 .5h.8m-6.7 .1h.8m-1.3 .1h.8m-.9 .2h.8m.3 0h.8m-2.2 .5h.8m1.8 0h.8m3.8 0h.8m-2.5 .1h.8m3 .2h.8m-12.5 .1h.8m5.7 .1h.8m1.4 .1h.8m-3.8 .2h.8m-.1 0h.8m-5.2 .3h.8m-3.3 .1h.8m7.4 0h.8m-3 .1h.8m.7 0h.8m-8.6 .2h.8m.3 0h.8m5 0h.8m-3.8 .1h.8m.5 0h.8m-2.5 .1h.8m-2.4 .1h.8m5.7 0h.8m-5.7 .5h.8m.5 .1h.8m.5 .1h.8m-2.8 .1h.8m-4.4 .3h.8m3 0h.8m2.8 .1h.8m-4 .2h.8m-7.9 .3h.8m.2 0h.8m11.9 0h.8m-2.9 .1h.8m.1 0h.8m-3.2 .1h.8m-6.3 .1h.8m-.6 0h.8m3.7 .1h.8m-8.4 .1h.8m4.8 .1h.8m-.2 .1h.8m-3.3 .1h.8m-3.2 .2h.8m7.7 .1h.8m-11.3 .1h.8m4.3 0h.8m-.5 0h.8m.3 0h.8m4.3 .4h.8m-8.7 .2h.8m3.7 .2h.8m-5.3 .1h.8m-.3 .1h.8m1.8 0h.8m5 0h.8m-8.9 .1h.8m.7 .4h.8m-.2 0h.8m-10 .4h.8m13.6 .2h.8m-10.2 .1h.8m.7 .1h.8m2.4 .1h.8m-4 .1h.8m2.2 0h.8m2.7 0h.8m.7 .3h.8m-5.1 .1h.8m-3.6 .2h.8m.4 0h.8m.6 .2h.8m-.3 .2h.8m-5.8 .1h.8m1.1 0h.8m3.2 0h.8m-7.5 .4h.8m3.3 .1h.8m-.7 0h.8m-1.6 .4h.8m-8.7 .1h.8m8.1 .1h.8m-4.7 .2h.8m.7 .2h.8m4.6 0h.8m-1.8 .1h.8m-2 .1h.8m-5.9 .2h.8m-2.1 .5h.8m0 .2h.8m7.4 .2h.8m-3.3 .1h.8m-5.6 .1h.8m.9 0h.8m0 0h.8m3.6 .1h.8m-12.3 .3h.8m1.7 0h.8m3.1 .4h.8m2.2 .1h.8m1.6 .2h.8m-6.5 .2h.8m9 .3h.8m-13 .3h.8m2.1 0h.8m-1 .1h.8m2.1 .2h.8m-2.9 .1h.8m-2.9 .1h.8m4 .1h.8m1.8 .5h.8m-7.3 .1h.8m1.2 .1h.8m2.1 .2h.8m-3.4 .3h.8m-.8 .1h.8m-5 .1h.8m5.8 0h.8m-9.3 .1h.8m6.9 0h.8m3.5 .1h.8m-6 .1h.8m-3.2 .2h.8m-.6 0h.8m5.4 0h.8m-2 .1h.8m-3 .1h.8m.9 0h.8m2.3 0h.8m-8 .1h.8m3.2 0h.8m-5.9 .1h.8m6.5 .1h.8m-9.3 .1h.8m-1.3 .3h.8m-.5 0h.8m1.3 0h.8m-3.2 .3h.8m8.7 .1h.8m-11.4 .1h.8m7.4 0h.8m-7.5 .1h.8m5.1 .1h.8m-7.7 .8h.8m7.9 .1h.8m-10 .1h.8m-5.5 .2h.8m5.7 .1h.8m-4.9 .1h.8m7.1 0h.8m-3.2 .7h.8m-1.8 .1h.8m3.9 .1h.8m0 .3h.8m-4.9 .1h.8" stroke="#5a5af0" stroke-width=".8"/>
<path d="M159.1 539.3h.8m7.5 .5h.8m-4 1.5h.8m-4.5 .4h.8m5.6 1.3h.8m.6 .1h.8m1.3 .7h.8m-6.1 .5h.8m1.9 .1h.8m-5.1 .8h.8m6.4 0h.8m-.8 .1h.8m-3.1 .1h.8m-5.4 .1h.8m3.3 .1h.8m-7.5 .1h.8m.3 0h.8m4.4 .1h.8m-1.4 .1h.8m2.9 0h.8m-5.2 .2h.8m1.4 .1h.8m.5 .1h.8m-4.4 .1h.8m-9.2 .1h.8m-.6 .2h.8m5.1 0h.8m2.9 0h.8m-4 .2h.8m4.4 0h.8m1.1 .1h.8m-9 .2h.8m1.5 .1h.8m2.7 0h.8m.8 0h.8m-12.8 .1h.8m8.8 0h.8m-3.5 .1h.8m-5.4 .1h.8m1.1 0h.8m2.6 0h.8m1.1 0h.8m-.3 0h.8m-11.5 .1h.8m6.9 0h.8m-.8 .1h.8m-5.1 .2h.8m3.2 0h.8m2.7 0h.8m-4.3 .1h.8m-5.1 .1h.8m5.8 0h.8m-.7 0h.8m1.2 0h.8m-.2 0h.8m-3.6 .1h.8m-.3 0h.8m5.7 0h.8m-21.2 .1h.8m8.9 0h.8m-.8 .1h.8m.4 0h.8m4.5 0h.8m-4.9 .1h.8m6.6 0h.8m-6.1 .1h.8m-7.3 .1h.8m1.8 0h.8m4.2 0h.8m-2 .1h.8m-10.7 .1h.8m.9 0h.8m4.1 .1h.8m3.1 0h.8m-3.4 .2h.8m-4 .2h.8m2.9 .2h.8m-5.9 .1h.8m3 0h.8m-1.2 .1h.8m.2 0h.8m1.2 0h.8m-.4 0h.8m.4 0h.8m-7.7 .1h.8m1.3 0h.8m-1.1 .1h.8m3.2 .1h.8m-.5 0h.8m-10.5 .1h.8m.3 0h.8m4 0h.8m-.3 0h.8m11.7 0h.8m-23.1 .1h.8m5.1 0h.8m-8.6 .1h.8m1.4 0h.8m11 0h.8m-.7 0h.8m-10 .1h.8m2.3 0h.8m.1 0h.8m.3 0h.8m.9 0h.8m-.2 0h.8m-3.6 .1h.8m.5 0h.8m6 0h.8m-11.4 .1h.8m10.8 0h.8m-9.2 .1h.8m.4 0h.8m-1.3 .1h.8m.6 0h.8m.2 0h.8m-12.4 .1h.8m5.1 0h.8m3.2 0h.8m-.4 0h.8m6.8 0h.8m0 0h.8m-6.5 .1h.8m.4 0h.8m.4 0h.8m-10.7 .1h.8m-.6 0h.8m3.6 0h.8m1.1 0h.8m-12.2 .1h.8m10.4 0h.8m-6.1 .1h.8m4.8 0h.8m-3.5 .1h.8m-.4 0h.8m1.1 0h.8m2.1 0h.8m-9.6 .1h.8m-4.3 .2h.8m5.6 .2h.8m.3 0h.8m-5.2 .1h.8m8.9 0h.8m.4 0h.8m-5.6 .1h.8m1 0h.8m-7.6 .1h.8m.6 0h.8m1.9 0h.8m2.1 0h.8m2.7 0h.8m-13.4 .1h.8m10.7 0h.8m-5.4 .1h.8m-.7 0h.8m1.3 0h.8m-11.5 .1h.8m4.5 0h.8m3.5 .1h.8m.1 0h.8m-9 .1h.8m-4.6 .2h.8m3.6 0h.8m-.7 0h.8m1.6 0h.8m5 0h.8m-11.3 .1h.8m2.2 0h.8m7 0h.8m-6.7 .5h.8m2.3 .1h.8m-4.4 .1h.8m-4.5 .3h.8m13.1 0h.8m-16.7 .2h.8m6.5 0h.8m5.2 0h.8m-12.2 .3h.8m12.2 0h.8m3.5 0h.8m-9 .3h.8m-14.3 .3h.8m7.7 0h.8m.7 0h.8m-.8 .1h.8m1.2 .1h.8m-5.9 .1h.8m5.7 0h.8m-11.8 .5h.8m9.3 .2h.8m2.4 0h.8m-2.9 .1h.8m-.5 0h.8m-7.6 .1h.8m-8.6 .9h.8" stroke="#2a2af5" stroke-width=".8"/>
<path d="M185.6 482.6h.8m-1.8 .8h.8m1 0h.8m.6 .1h.8m-4.8 .3h.8m.1 .6h.8m-2.6 .9h.8m2 .5h.8m3.3 .6h.8m-6.3 1.1h.8m2.6 .2h.8m-.6 .2h.8m-1.4 .1h.8m-1.4 .2h.8m-1.6 .4h.8m-1.8 1.2h.8m-.6 .5h.8m-2 .1h.8m2.9 0h.8m0 .1h.8m-4.9 .4h.8m-1.9 .3h.8m-2.5 .4h.8m1.4 .2h.8m3 2.9h.8m-3 1.2h.8m-4.5 1h.8m3.5 1.1h.8m.4 .1h.8m-.8 .1h.8m-2.5 .8h.8m.2 .3h.8m-2 .1h.8m-.8 .6h.8m-2 .6h.8m2.3 .5h.8m-3.2 1.6h.8m.6 .2h.8m1.5 .1h.8m-3.7 .2h.8m.3 .1h.8m-.1 0h.8m-1 .1h.8m-1 .2h.8m-1.9 .2h.8m-3.4 .6h.8m-1 .5h.8m5.6 .5h.8m-6.5 .4h.8m2.5 1.2h.8m1.2 .7h.8m-4.1 .3h.8m-2.4 .1h.8m.1 2.1h.8m-.7 .3h.8m1.1 2.3h.8m-.2 .4h.8m-4.2 .6h.8m1.2 1.1h.8m-.8 .2h.8m.6 .5h.8m-2.9 1.2h.8m1.2 0h.8m.9 .8h.8m-4.8 .2h.8m-1.1 .2h.8m.6 .6h.8m-1 .1h.8m-2.4 .3h.8m-1.4 .3h.8m3.6 .9h.8m-1.3 .6h.8m-4.6 .3h.8m1.9 .1h.8m1.1 0h.8m-4.7 .4h.8m1.5 .3h.8m-1.5 .2h.8m-.1 .7h.8m-3.3 .5h.8m.5 0h.8m-1.3 .4h.8m4.7 .3h.8m-7.5 .3h.8m-.1 .3h.8m-1.2 .2h.8m-1.9 .4h.8m.4 .3h.8m-.8 0h.8m-.4 .2h.8" stroke="#6a6af0" stroke-width=".8"/>
<path d="M191.6 519.1h.8m16.6 1.1h.8m-8.7 .8h.8m.2 .7h.8m8.6 .4h.8m-6.6 .2h.8m1.8 1.2h.8m6.3 .3h.8m-11.7 .5h.8m-1.4 .1h.8m-8.8 .6h.8m.8 .5h.8m-4.6 .3h.8m11.2 .2h.8m2.9 .2h.8m3 0h.8m-28 .5h.8m11.2 .1h.8m21.5 .2h.8m-15.7 .2h.8m-.1 0h.8m5.1 .6h.8m-8.8 .2h.8m-7.9 .1h.8m-5.8 .1h.8m8.8 .1h.8m-8.3 .1h.8m2.8 .1h.8m4.6 0h.8m-3.3 .1h.8m5.6 0h.8m-4.3 .2h.8m-.4 0h.8m3.9 .1h.8m.9 .2h.8m-21 .2h.8m8.2 .1h.8m3.7 0h.8m-13.5 .2h.8m7.5 0h.8m0 0h.8m-5.7 .1h.8m-1.9 .1h.8m-3.7 .1h.8m14.7 0h.8m-6.4 .3h.8m10.9 0h.8m-5.6 .2h.8m-12.2 .2h.8m8.6 .1h.8m-11 .2h.8m-.6 0h.8m6.3 0h.8m-8.5 .1h.8m1.1 .1h.8m.7 0h.8m-6.2 .3h.8m.1 .1h.8m0 0h.8m2 0h.8m-2.4 .1h.8m4.6 0h.8m.5 0h.8m-7.7 .2h.8m.6 0h.8m7.4 0h.8m-10.3 .1h.8m8.7 0h.8m-12.9 .1h.8m15.4 0h.8m-13.1 .1h.8m2 0h.8m1.8 0h.8m1.7 0h.8m1 0h.8m2.2 .1h.8m-18.5 .1h.8m4.9 0h.8m3.8 0h.8m9.2 0h.8m-1.5 .2h.8m-19 .1h.8m3.3 .2h.8m.6 .1h.8m11.4 0h.8m9.3 0h.8m-15.6 .1h.8m-.8 0h.8m-.3 .1h.8m-15.6 .1h.8m5 0h.8m15.5 0h.8m-9.1 .1h.8m-21.5 .1h.8m8.9 0h.8m2.3 0h.8m26.2 0h.8m-25 .1h.8m10.7 0h.8m-19.2 .1h.8m1.3 0h.8m2.6 0h.8m-.5 0h.8m2.9 0h.8m-4.7 .1h.8m1.1 0h.8m2.4 0h.8m-15.8 .1h.8m23.8 0h.8m-15.6 .1h.8m-3.9 .1h.8m5.9 0h.8m1.3 0h.8m3.1 0h.8m-14.1 .1h.8m10.2 0h.8m-18.1 .1h.8m13.8 0h.8m5.3 0h.8m-14.2 .1h.8m.7 0h.8m-14.2 .1h.8m12.7 0h.8m14 0h.8m-30.8 .1h.8m10.7 0h.8m0 .1h.8m9.8 0h.8m-.4 0h.8m-.2 0h.8m3.7 0h.8m-23.7 .1h.8m3.3 0h.8m.1 0h.8m5.1 0h.8m.6 0h.8m5.5 0h.8m-18.2 .1h.8m1.3 0h.8m-.2 0h.8m3.9 0h.8m1.1 .1h.8m-.3 0h.8m-9.9 .1h.8m16.1 0h.8m-.3 0h.8m-5.1 .1h.8m.3 0h.8m-.1 0h.8m.8 0h.8m1.6 0h.8m4.1 0h.8m12.6 0h.8m-35.1 .1h.8m12.7 0h.8m6.3 0h.8m-28.8 .1h.8m12 0h.8m1.2 0h.8m6.3 0h.8m3.3 0h.8m2.4 0h.8m-12.4 .1h.8m1.2 0h.8m4.6 0h.8m-5.1 .1h.8m-17.7 .1h.8m14.9 0h.8m1.6 0h.8m-20.8 .1h.8m10 0h.8m1.8 0h.8m-3 .1h.8m4.7 0h.8m-19.4 .1h.8m24.3 0h.8m-14.8 .1h.8m1.6 0h.8m3.2 0h.8m-9.5 .1h.8m4.9 0h.8m-.7 0h.8m6.7 0h.8m-6.6 .1h.8m-8.3 .1h.8m15.2 .1h.8m3.4 0h.8m-14.3 .1h.8m4.8 0h.8m-20.6 .1h.8m4.3 0h.8m3.5 0h.8m.7 0h.8m2.3 0h.8m-18.1 .1h.8m9.1 0h.8m-.8 0h.8m4.7 0h.8m15.2 0h.8m-16 .1h.8m1.7 0h.8m6.2 0h.8m-18.9 .1h.8m8.7 0h.8m1.2 0h.8m1.1 0h.8m.1 0h.8m-9.7 .1h.8m23.4 0h.8m-14.4 .1h.8m1.3 0h.8m3 0h.8m.7 0h.8m-19.6 .1h.8m-.3 0h.8m2.7 0h.8m13.9 0h.8m-22.8 .1h.8m16.3 0h.8m-7.3 .1h.8m.3 0h.8m2 0h.8m-29.4 .1h.8m13.3 0h.8m7.2 0h.8m.6 0h.8m9.2 0h.8m.4 0h.8m1.4 0h.8m-10.9 .1h.8m7.5 0h.8m6.3 0h.8m-25 .1h.8m2.1 0h.8m.2 0h.8m8.4 0h.8m-11.5 .2h.8m1.2 0h.8m-.1 0h.8m-10.7 .1h.8m2.2 0h.8m2.9 0h.8m2 0h.8m11.1 0h.8m-15.7 .1h.8m4.2 0h.8m-10.5 .1h.8m.8 0h.8m3.2 0h.8m-.4 0h.8m.9 0h.8m4.2 0h.8m-17.9 .1h.8m4.9 0h.8m7.2 0h.8m4.7 0h.8m-16.3 .1h.8m.8 0h.8m4.4 0h.8m2.6 0h.8m3.6 0h.8m-8.3 .1h.8m.2 0h.8m1.6 0h.8m.7 0h.8m.4 0h.8m-.1 0h.8m3.5 0h.8m.5 0h.8m-29.2 .1h.8m9.6 0h.8m4.6 0h.8m2.4 0h.8m5.3 0h.8m-14.8 .1h.8m11.4 0h.8m3.1 0h.8m-30.3 .1h.8m.9 0h.8m14.2 0h.8m2.2 0h.8m-.4 0h.8m1.6 0h.8m-8.6 .1h.8m3.2 0h.8m1.5 0h.8m.2 0h.8m4.3 0h.8m10.4 0h.8m-27.8 .1h.8m8.8 0h.8m-.1 0h.8m-12.4 .1h.8m11.6 0h.8m-.2 0h.8m-11.7 .1h.8m3.7 0h.8m1.2 0h.8m2.1 .1h.8m-.4 0h.8m10.7 0h.8m-28.9 .1h.8m5.9 0h.8m4.8 0h.8m-.3 0h.8m5.8 0h.8m-12.6 .1h.8m.9 0h.8m.7 0h.8m0 0h.8m5.3 0h.8m.6 0h.8m5.2 0h.8m-9.5 .1h.8m-.3 0h.8m11.6 0h.8m-17.2 .1h.8m12.2 0h.8m-9.9 .1h.8m-.7 0h.8m1.2 0h.8m2.5 0h.8m.4 0h.8m11.2 0h.8m-32.2 .1h.8m2.8 0h.8m4.6 0h.8m1.2 0h.8m3.5 0h.8m5.2 0h.8m-.2 0h.8m-20.7 .1h.8m2.6 0h.8m4.2 0h.8m9.6 0h.8m-13.2 .1h.8m.5 0h.8m-.7 0h.8m.5 0h.8m-.1 0h.8m-.2 0h.8m1.8 0h.8m4.6 0h.8m-24.4 .1h.8m11.6 0h.8m4.1 0h.8m3.8 0h.8m.5 0h.8m-18.9 .1h.8m0 0h.8m4.2 0h.8m1.7 0h.8m-1.1 .1h.8m-.2 0h.8m2 0h.8m-.2 0h.8m1.3 0h.8m.1 .1h.8m-12.7 .1h.8m12.7 0h.8m-39.9 .1h.8m28.1 0h.8m.9 0h.8m2.8 0h.8m-12.9 .1h.8m2.3 0h.8m-.7 0h.8m1.7 0h.8m2.1 0h.8m5.5 0h.8m.4 0h.8m1.8 0h.8m-15.8 .1h.8m1.5 0h.8m-.2 0h.8m4.7 0h.8m.5 0h.8m1 0h.8m-17.3 .1h.8m7.5 0h.8m2.1 0h.8m5.8 0h.8m-14.6 .1h.8m8 0h.8m-7.7 .1h.8m.3 0h.8m8.8 0h.8m-12.2 .1h.8m.3 0h.8m7 0h.8m5.8 0h.8m-23 .1h.8m3.2 0h.8m-.2 0h.8m.3 0h.8m-.6 0h.8m.9 0h.8m-.7 0h.8m.5 0h.8m4.4 0h.8m2.4 0h.8m.8 0h.8m-21.5 .1h.8m3.4 0h.8m1.4 0h.8m-.1 0h.8m11.1 0h.8m-8.7 .1h.8m.3 0h.8m1.6 0h.8m-.6 0h.8m1.5 0h.8m12.4 0h.8m-33.7 .1h.8m12.9 0h.8m3.5 0h.8m1.5 0h.8m-.5 0h.8m.6 0h.8m7 0h.8m-31.7 .1h.8m9.9 0h.8m4.4 0h.8m2 0h.8m8 0h.8m.4 0h.8m-23.2 .1h.8m7.4 0h.8m6.5 0h.8m12 0h.8m1.3 0h.8m-25.9 .1h.8m1.1 0h.8m1.5 0h.8m-.7 0h.8m2.1 0h.8m2.8 0h.8m-22.4 .1h.8m3.4 0h.8m5.7 0h.8m7.8 0h.8m7.3 0h.8m-30.8 .1h.8m9.6 0h.8m4.7 0h.8m1.8 0h.8m6.8 0h.8m13.4 0h.8m1.8 0h.8m-30.4 .1h.8m2.7 0h.8m-1.6 .1h.8m1.2 0h.8m3.8 0h.8m1.4 0h.8m-14.7 .1h.8m1.7 0h.8m1.6 0h.8m.8 0h.8m1.9 0h.8m5.3 0h.8m-.3 0h.8m-12.5 .1h.8m1.5 0h.8m3.8 0h.8m-10.7 .1h.8m1.6 0h.8m-.5 0h.8m-13.6 .1h.8m4.8 0h.8m-.3 0h.8m5.2 0h.8m-.7 0h.8m2.1 0h.8m7.8 0h.8m-18.7 .1h.8m14.8 0h.8m1.8 0h.8m-6.9 .1h.8m-.3 0h.8m7.6 0h.8m-.3 0h.8m-20.7 .1h.8m1.4 0h.8m7.4 0h.8m3.8 0h.8m-.6 0h.8m-14.1 .1h.8m0 0h.8m-.5 0h.8m-.2 0h.8m.8 0h.8m-8 .1h.8m9.2 0h.8m1 0h.8m6.1 0h.8m7.6 0h.8m-22.5 .1h.8m.1 0h.8m.9 0h.8m2.3 0h.8m4.4 0h.8m1.8 0h.8m2.7 0h.8m-27 .1h.8m13.3 0h.8m2.6 0h.8m4.1 0h.8m1.3 0h.8m-22.2 .1h.8m4.4 0h.8m8.1 0h.8m-.6 0h.8m.4 0h.8m6.2 0h.8m-30.3 .1h.8m5.4 0h.8m.7 0h.8m.4 0h.8m11.4 0h.8m-14.2 .1h.8m3.9 0h.8m1.4 0h.8m-.3 0h.8m1.1 0h.8m-.3 0h.8m9.8 0h.8m.7 0h.8m-12.8 .1h.8m5.8 0h.8m-18.5 .1h.8m4.2 0h.8m3.6 0h.8m-.1 0h.8m1.2 0h.8m8.9 0h.8m-23.5 .1h.8m19.5 0h.8m6.2 0h.8m10 0h.8m-33.2 .1h.8m8.5 0h.8m.5 0h.8m.9 0h.8m.7 0h.8m12.4 0h.8m-11.7 .1h.8m-22.4 .1h.8m8.5 0h.8m0 0h.8m.3 0h.8m1.3 0h.8m14.9 0h.8m-31.2 .1h.8m4.7 0h.8m1.2 0h.8m11.2 0h.8m5.1 0h.8m.3 0h.8m-11.3 .1h.8m-8.2 .1h.8m.7 0h.8m1.5 0h.8m4.6 0h.8m.1 0h.8m-13 .1h.8m16.3 0h.8m-22.4 .1h.8m4.7 0h.8m4.6 0h.8m1.9 0h.8m-.3 0h.8m1.5 0h.8m3.7 0h.8m.4 0h.8m-8.9 .1h.8m-7.4 .1h.8m5.7 0h.8m-11.2 .1h.8m7.8 0h.8m10.1 0h.8m-26.9 .1h.8m2.2 0h.8m14.8 0h.8m5.2 0h.8m-.7 0h.8m-25.7 .1h.8m3.3 .1h.8m12.4 0h.8m1 0h.8m-.3 0h.8m-22.2 .1h.8m5 0h.8m-.4 0h.8m3.8 0h.8m-.4 0h.8m9.1 0h.8m2.3 0h.8m-8.5 .1h.8m2.2 0h.8m.1 0h.8m.1 0h.8m4.4 0h.8m-5.1 .1h.8m-.7 0h.8m2.4 0h.8m-2.1 .1h.8m2.2 0h.8m-19.7 .1h.8m1.5 0h.8m0 0h.8m8 0h.8m6.1 0h.8m-18.8 .1h.8m2.1 0h.8m0 0h.8m6.6 0h.8m-8.2 .1h.8m.7 0h.8m.7 0h.8m.2 0h.8m11.8 0h.8m-23.2 .1h.8m5.5 0h.8m3 0h.8m1.7 0h.8m4.2 0h.8m2.5 0h.8m3.8 0h.8m-23.2 .1h.8m6.7 0h.8m9.1 0h.8m-8.5 .1h.8m-.5 0h.8m.2 0h.8m1.2 0h.8m2.7 0h.8m-19.9 .1h.8m5.3 0h.8m10.7 0h.8m-16.7 .1h.8m3 0h.8m7 0h.8m9.3 0h.8m3 0h.8m3.2 0h.8m-38.8 .1h.8m24.3 0h.8m-18.4 .1h.8m.2 0h.8m2.3 0h.8m2.5 0h.8m1.7 0h.8m1.3 0h.8m-.5 0h.8m19.5 0h.8m-44.7 .1h.8m4.7 0h.8m3.5 0h.8m-.1 0h.8m5 0h.8m2.3 0h.8m2.3 0h.8m7.1 0h.8m-15.1 .1h.8m10.5 0h.8m-.4 0h.8m5.6 0h.8m-23.4 .1h.8m3.5 0h.8m2.1 0h.8m2.8 0h.8m2.6 0h.8m.7 0h.8m4.9 0h.8m-28.7 .1h.8m1.6 0h.8m2.3 0h.8m7.6 0h.8m3.5 0h.8m4.8 0h.8m-.6 .1h.8m-17.9 .1h.8m4.9 0h.8m6.2 0h.8m1.4 0h.8m-15.2 .1h.8m14.2 0h.8m-17.7 .1h.8m2.9 0h.8m3 0h.8m5.2 0h.8m.4 0h.8m3 .1h.8m-12.7 .1h.8m10.8 0h.8m-16.5 .1h.8m6 0h.8m2.6 0h.8m.3 0h.8m-16.5 .1h.8m4.2 0h.8m.7 0h.8m-8.9 .1h.8m.1 0h.8m5.8 0h.8m5.2 0h.8m5.1 0h.8m-16.8 .1h.8m10.6 0h.8m-26.3 .1h.8m1.4 0h.8m26.8 0h.8m4.6 0h.8m-.8 0h.8m-.7 0h.8m-19.7 .1h.8m3.5 0h.8m-4.9 .1h.8m3.1 0h.8m8.4 0h.8m-.5 0h.8m1.1 0h.8m-11.6 .1h.8m2.5 0h.8m4.7 0h.8m7.2 .1h.8m-26.2 .1h.8m8.3 0h.8m.6 0h.8m-9.2 .1h.8m12.5 0h.8m4.3 0h.8m10.5 0h.8m-28.2 .1h.8m7.2 0h.8m-9 .1h.8m1.9 0h.8m1.6 0h.8m3.4 0h.8m-.6 0h.8m2 0h.8m6.8 0h.8m-17.9 .1h.8m-.6 0h.8m8.7 0h.8m.6 0h.8m.1 0h.8m-22.1 .1h.8m2.2 0h.8m9.6 0h.8m3.4 0h.8m-12.7 .1h.8m8.8 0h.8m2.5 0h.8m-.7 0h.8m8.8 0h.8m-29.3 .1h.8m9.7 0h.8m3.6 0h.8m1.5 0h.8m-9.1 .1h.8m-2.5 .1h.8m5.5 0h.8m-9.7 .1h.8m2.6 0h.8m.5 0h.8m3.5 0h.8m4.7 0h.8m6.9 0h.8m-30.7 .2h.8m6.9 0h.8m7.6 0h.8m3.1 0h.8m-21.4 .1h.8m15.4 .1h.8m-.6 0h.8m.3 0h.8m6.5 0h.8m-16.5 .1h.8m-.1 0h.8m6.4 0h.8m.1 0h.8m.1 0h.8m8.3 0h.8m-20.1 .1h.8m12.5 0h.8m2.6 0h.8m-22.8 .1h.8m5.3 0h.8m7.4 0h.8m3 0h.8m-.3 0h.8m-1 .1h.8m-18.1 .1h.8m6.4 0h.8m10.1 0h.8m-.4 0h.8m.1 0h.8m.9 0h.8m-2.3 .1h.8m-2.7 .1h.8m.3 0h.8m-17.1 .1h.8m3.7 0h.8m.3 0h.8m3.8 0h.8m8.2 .1h.8m-11.2 .1h.8m-6.1 .1h.8m13.3 0h.8m-12.9 .1h.8m.5 0h.8m5 0h.8m8.1 0h.8m-27.7 .1h.8m8.4 0h.8m-19.7 .1h.8m13.9 0h.8m.4 0h.8m3.6 0h.8m9.2 0h.8m2.2 .1h.8m-15.5 .1h.8m17.5 0h.8m-33.1 .1h.8m12.2 0h.8m-3.8 .1h.8m-7.6 .1h.8m1.6 .1h.8m25.8 0h.8m-16.8 .1h.8m4.2 0h.8m-5.6 .1h.8m8.9 0h.8m5.1 0h.8m-7 .1h.8m0 .2h.8m-6.4 .2h.8m-13.6 .2h.8m9.4 .2h.8m3.4 0h.8m-5 .2h.8m5 .1h.8m-4.7 .1h.8m-2.3 .1h.8m4.3 0h.8m-5.9 .1h.8m11 0h.8m6.4 0h.8m-22.1 .1h.8m2.2 0h.8m-15.7 .2h.8m18.9 0h.8m-12.5 .1h.8m4.6 0h.8m4.8 .1h.8m6.6 .1h.8m-30.5 .1h.8m16.5 0h.8m12.7 .2h.8m4.4 0h.8m-16.6 .2h.8m6.4 .1h.8m-9 .1h.8m-14.2 .1h.8m15.3 .1h.8m-17.9 .1h.8m17.1 0h.8m-9.1 .1h.8m-6.6 .1h.8m-.6 .2h.8m-5.7 .2h.8m25.4 .2h.8m-11.7 .1h.8m6.8 .1h.8m-6.2 .3h.8m-6.7 .2h.8m-.7 0h.8m7 .1h.8m-17.1 .1h.8" stroke="#2020f5" stroke-width=".8"/>
<defs><radialGradient id="dg3"><stop offset="0" stop-color="#30d8e8" stop-opacity="0.7"/><stop offset="0.22" stop-color="#2090ff" stop-opacity="0.85"/><stop offset="0.45" stop-color="#1a1aff" stop-opacity="0.6"/><stop offset="0.75" stop-color="#1a1aff" stop-opacity="0.3"/><stop offset="1" stop-color="#1a1aff" stop-opacity="0"/></radialGradient></defs><ellipse cx="200" cy="542" rx="11.0" ry="10.0" fill="url(#dg3)" transform="rotate(-20 200 542)"/>
<ellipse cx="206.5" cy="553.5" rx="3" ry="1.8" fill="#70d840"/>
<rect x="138.8" y="461.3" width="98.7" height="96.7" fill="none" stroke="#111" stroke-width="1.4"/>
<path d="M182.6,467.7 L224.4,464.8 L226.5,549 L217.3,556.8 L192.8,556.8 L179.5,543.9 L177.4,524.5 Z" fill="none" stroke="#111" stroke-width="1"/>
<text x="204.8" y="480" font-size="12.13" fill="#1a1a1a" stroke="#1a1a1a" stroke-width="0.25">LD</text>
<line x1="222.4" y1="485.2" x2="244.0" y2="485.2" stroke="#111" stroke-width="1"/><path d="M249.5,485.2L243.5,488.2L243.5,482.2Z" fill="#111"/>
<text x="135.4" y="555.5" font-size="11.92" fill="#1a1a1a" stroke="#1a1a1a" stroke-width="0.25" transform="rotate(-90 135.4 555.5)">SSC-A</text>
<text x="133.6" y="571.1" font-size="12.13" fill="#1a1a1a" stroke="#1a1a1a" stroke-width="0.25">CD45-PerCP/Cy5.5</text>
<path d="M277.7 489.6h.8m.7 0h.8m-1.3 .1h.8m1.4 .2h.8m-7.7 .2h.8m2 0h.8m.4 0h.8m1.4 0h.8m.1 0h.8m-1.8 .1h.8m-.6 0h.8m1.3 .1h.8m-15.1 .1h.8m6.9 0h.8m-.5 0h.8m1.5 .1h.8m-.5 0h.8m-2.9 .2h.8m.4 .1h.8m3.9 0h.8m-7.6 .1h.8m4.5 0h.8m-.5 0h.8m-5.1 .1h.8m-1.8 .1h.8m1.3 .2h.8m3.1 0h.8m-5.8 .1h.8m.7 0h.8m2.3 0h.8m-6.6 .1h.8m-2.2 .1h.8m1.1 0h.8m-2 .1h.8m.3 .1h.8m4.4 0h.8m-7.3 .1h.8m2.1 0h.8m2.2 0h.8m-.4 0h.8m-5.7 .1h.8m-.8 0h.8m-.5 0h.8m.1 0h.8m2.4 0h.8m-.3 0h.8m.2 .2h.8m-6.7 .3h.8m3.6 0h.8m-7.7 .1h.8m9.4 0h.8m-8.1 .1h.8m1.3 .2h.8m-7 .1h.8m1.9 0h.8m2.7 0h.8m1.9 .1h.8m-7.7 .1h.8m-.4 .1h.8m3.2 0h.8m-6.2 .1h.8m1.5 0h.8m2.8 .2h.8m-7.6 .1h.8m3.1 0h.8m.2 0h.8m.5 0h.8m1.5 0h.8m-.8 0h.8m1.1 0h.8m-12.3 .1h.8m4.3 0h.8m.2 0h.8m-3.5 .1h.8m5.2 0h.8m-3.8 .1h.8m.2 0h.8m-1.9 .1h.8m-.6 0h.8m2.5 0h.8m-7 .1h.8m1.1 0h.8m-5.6 .1h.8m7.6 .1h.8m-7.8 .3h.8m-.1 0h.8m1.1 0h.8m4.7 0h.8m-8.3 .2h.8m1.8 0h.8m1.4 0h.8m0 .2h.8m-6.2 .1h.8m-.4 0h.8m-.8 0h.8m-.3 0h.8m2.1 0h.8m.5 0h.8m.9 0h.8m-3 .1h.8m-.4 0h.8m-5.7 .1h.8m4.2 0h.8m2 0h.8m-6.4 .1h.8m-.7 0h.8m-.8 0h.8m1.2 0h.8m-.1 0h.8m-5.6 .1h.8m-.3 0h.8m-.1 0h.8m1.5 0h.8m-2.7 .1h.8m1.2 0h.8m-4.7 .1h.8m-.6 0h.8m2.1 0h.8m-5.3 .1h.8m1.2 0h.8m-.5 0h.8m9.6 0h.8m-12.4 .1h.8m1.1 0h.8m1.2 0h.8m-.2 0h.8m0 .1h.8m-6.6 .3h.8m2.2 0h.8m-3.9 .1h.8m.6 0h.8m-.2 0h.8m-.6 0h.8m1.7 .1h.8m-5.4 .1h.8m2.4 0h.8m3.6 0h.8m-9.5 .1h.8m5 0h.8m4 .1h.8m-8.8 .1h.8m-4.7 .2h.8m.8 0h.8m2.3 0h.8m3.4 0h.8m-3.6 .1h.8m-5.5 .1h.8m-1.7 .1h.8m-.7 0h.8m2.9 .1h.8m1.7 0h.8m-.3 .2h.8m0 0h.8m-5.3 .1h.8m4.5 .1h.8m3 0h.8m-4.8 .1h.8m-.1 0h.8m-7.4 .1h.8m-.1 0h.8m.6 0h.8m.5 .1h.8m.6 0h.8m-2.2 .1h.8m-2.7 .1h.8m-.6 0h.8m4.3 0h.8m-5.3 .1h.8m-9.1 .2h.8m8.5 .1h.8m-.7 0h.8m6.2 .1h.8m-9.6 .1h.8m.8 0h.8m-2.3 .1h.8m4.2 0h.8m3.2 .1h.8m-11.2 .1h.8m2 0h.8m1.5 .1h.8m-7.8 .2h.8m7.1 0h.8m-6.2 .1h.8m.1 0h.8m-1.1 .2h.8m3.2 0h.8m-5 .1h.8m-2.5 .1h.8m.7 0h.8m4.2 .1h.8m-9.4 .1h.8m4.3 0h.8m1.9 0h.8m-3 .1h.8m-.7 0h.8m-.7 0h.8m-.6 0h.8m1 0h.8m-7.4 .1h.8m6.3 0h.8m-7.1 .1h.8m3.1 .1h.8m4 0h.8m-12.6 .4h.8m8.4 0h.8m-7.2 .1h.8m2.7 0h.8m2.5 .1h.8m-2.3 .1h.8m-4.5 .1h.8m1.2 0h.8m-.5 0h.8m1.1 0h.8m1.9 0h.8m-8.2 .2h.8m-1.1 .1h.8m4.2 .2h.8m-10.1 .2h.8m4.6 0h.8m1.2 .1h.8m4.6 .1h.8m-7.1 .1h.8m2 0h.8m-5.4 .1h.8m1.7 0h.8m2.2 .1h.8m.8 0h.8m-7.8 .1h.8m5.8 .1h.8m-2.8 .1h.8m-6.1 .2h.8m1 0h.8m.3 0h.8m1.3 0h.8m-1.4 .1h.8m-1.9 .2h.8m-.8 0h.8m-2.7 .1h.8m1.6 .1h.8m-7 .1h.8m7 0h.8m-6.5 .1h.8m1.5 0h.8m-2 .1h.8m-.4 0h.8m1.2 0h.8m2.1 0h.8m-5.5 .1h.8m1.9 .1h.8m-3.4 .1h.8m1.4 .2h.8m-1.7 .2h.8m-4.7 .1h.8m2 .1h.8m-6.4 .1h.8m8.1 0h.8m-.4 .1h.8m-2.2 .1h.8m-1.5 .1h.8m-.7 0h.8m.8 0h.8m-5.6 .1h.8m.5 0h.8m0 0h.8m-4.7 .1h.8m4.1 0h.8m-4.5 .2h.8m1.5 .1h.8m.1 .1h.8m1.4 0h.8m-4.1 .1h.8m4.9 .2h.8m-12.2 .2h.8m7.2 .1h.8m1.8 0h.8m-3.3 .1h.8m-7.5 .1h.8m1.7 .1h.8m1.4 0h.8m-.9 .1h.8m-2.4 .1h.8m2.8 0h.8m3.7 0h.8m-10.9 .1h.8m2.8 0h.8m1.6 .1h.8m.6 0h.8m-6.2 .2h.8m1.8 0h.8m2.7 0h.8m-3.9 .1h.8m-3 .1h.8m-.3 0h.8m1 0h.8m-.5 0h.8m-2.9 .1h.8m.4 .1h.8m-.5 0h.8m-.4 0h.8m1.8 0h.8m.9 0h.8m-5 .2h.8m-2.9 .1h.8m2.8 0h.8m-7.2 .1h.8m-3.8 .1h.8m4.4 0h.8m-.7 0h.8m2.6 .1h.8m-2.1 .1h.8m-3.3 .1h.8m4.6 0h.8m-7 .1h.8m3 0h.8m-.2 .1h.8m1.5 0h.8m-8.5 .1h.8m3.8 0h.8m-2.5 .1h.8m2.5 0h.8m-4.9 .1h.8m3.4 .1h.8m-1.3 .1h.8m.1 0h.8m2.1 0h.8m-6.6 .2h.8m1 0h.8m-5.6 .1h.8m7 0h.8m-10.3 .1h.8m3.8 0h.8m-2.8 .1h.8m1.3 0h.8m0 0h.8m-.7 0h.8m-2.8 .1h.8m-1.3 .1h.8m0 0h.8m-3.3 .1h.8m-.3 0h.8m.5 .1h.8m-.1 0h.8m.7 0h.8m-3.1 .1h.8m.5 0h.8m-5.2 .1h.8m3 0h.8m-1.2 .1h.8m-6.5 .1h.8m2.8 0h.8m.4 0h.8m.7 0h.8m-7.2 .1h.8m.1 0h.8m3.6 0h.8m-2 .1h.8m4.8 0h.8m-.1 .2h.8m-.6 0h.8m-4.5 .2h.8m-.5 0h.8m-1.6 .2h.8m-5.9 .2h.8m2.5 0h.8m-3.4 .1h.8m-3.3 .1h.8m6.3 0h.8m1.5 0h.8m-5.1 .1h.8m2.9 0h.8m-1.8 .1h.8m2.2 0h.8m-4.8 .1h.8m-3.6 .1h.8m1 .2h.8m3.4 0h.8m-9.9 .1h.8m1.4 0h.8m3.1 0h.8m-3.1 .1h.8m-.5 0h.8m-7.5 .1h.8m3 0h.8m3.7 .1h.8m-4.7 .2h.8m-1.1 .1h.8m4.4 0h.8m-1.9 .1h.8m-7.8 .1h.8m5.6 0h.8m-.1 0h.8m-.4 0h.8m3.1 0h.8m.5 0h.8m-11.4 .1h.8m2.2 0h.8m7.2 0h.8m-1.5 .1h.8m-6.3 .1h.8m-5.6 .1h.8m3.1 0h.8m1.6 0h.8m3.9 0h.8m-11.4 .1h.8m1.3 .3h.8m-.6 .1h.8m-.2 0h.8m-.1 0h.8m-.4 .1h.8m2.8 0h.8m-2 .1h.8m-2.7 .1h.8m-3.2 .1h.8m3.7 0h.8m-2.9 .1h.8m4.5 .1h.8m-.9 .1h.8m1.5 .1h.8m-5.1 .1h.8m-8 .1h.8m.6 0h.8m.7 .2h.8m-5.1 .2h.8m3.4 0h.8m-5.2 .2h.8m4.7 0h.8m3.3 .1h.8m-7.1 .1h.8m6.1 0h.8m-7.9 .1h.8m4.4 0h.8m-8.7 .1h.8m.3 0h.8m6 .1h.8m-5.4 .1h.8m-.7 0h.8m1.8 0h.8m-1.2 .1h.8m-.7 .1h.8m-5.1 .2h.8m0 0h.8m-.3 0h.8m.2 .1h.8m2.7 0h.8m1.9 0h.8m-6.7 .1h.8m1.7 0h.8m-7.8 .2h.8m3.7 0h.8m-.1 .2h.8m5.3 .1h.8m-6 .1h.8m.8 0h.8m-6.5 .1h.8m4.9 .1h.8m-1.4 .3h.8m-.4 0h.8m.8 0h.8m-6.2 .1h.8m1.1 .2h.8m-2.1 .1h.8m.1 0h.8m-.3 .1h.8m.1 0h.8m-3 .3h.8m-2.7 .2h.8m-.6 0h.8m1.3 0h.8m5.2 .2h.8m-7.6 .1h.8m-.7 0h.8m4.2 .1h.8m-8.4 .1h.8m5.7 0h.8m-4.9 .1h.8m3.3 0h.8m-2.8 .1h.8m-.3 0h.8m-.4 0h.8m.9 0h.8m-1.9 .1h.8m-4.5 .1h.8m2.4 0h.8m-4.6 .2h.8m2.1 .1h.8m-6.3 .1h.8m4.4 0h.8m1.6 0h.8m-6.1 .2h.8m.6 0h.8m-.8 0h.8m1.5 0h.8m9 0h.8m-15.9 .1h.8m.9 0h.8m-4.2 .2h.8m1.9 0h.8m.3 0h.8m-.2 0h.8m-1.3 .1h.8m3.1 0h.8m-6.6 .2h.8m3 0h.8m-4.5 .1h.8m4.2 0h.8m-2.9 .2h.8m-1.8 .3h.8m.7 0h.8m3 0h.8m-10.7 .1h.8m5.9 0h.8m-3.2 .1h.8m3.4 0h.8m-2.5 .1h.8m-.5 0h.8m-6.6 .2h.8m2.4 0h.8m6.1 0h.8m-8.3 .2h.8m-.5 .2h.8m-.6 0h.8m3.8 0h.8m-10.1 .1h.8m.7 0h.8m5.5 .1h.8m-10.6 .1h.8m1.8 0h.8m2.1 0h.8m.5 0h.8m-5.4 .1h.8m3.2 0h.8m2.5 0h.8m-2.6 .1h.8m-3.5 .1h.8m1.6 0h.8m-.6 0h.8m-2.5 .1h.8m-2.1 .1h.8m1.6 0h.8m4.2 0h.8m2.6 0h.8m-7.4 .2h.8m-.7 0h.8m-3.6 .2h.8m-.7 0h.8m2.9 0h.8m-5.3 .1h.8m2.9 0h.8m-3 .1h.8m1.3 .1h.8m-7.9 .1h.8m-.7 0h.8m2.3 0h.8m1.2 0h.8m3.2 .1h.8m-3.8 .1h.8m-1.5 .1h.8m4.1 0h.8m-10.6 .1h.8m.8 0h.8m3.8 0h.8m1.1 0h.8m-9.2 .1h.8m4.6 0h.8m-6.5 .1h.8m6.2 0h.8m-10 .1h.8m6.5 0h.8m.1 0h.8m-2.5 .1h.8m-.8 0h.8m-3.7 .1h.8m5.2 0h.8m-2.4 .1h.8m-1.9 .1h.8m.4 0h.8m-.5 0h.8m-.4 .1h.8m-.3 .1h.8m-2.4 .1h.8m-.2 0h.8m1.6 0h.8m-1.2 .1h.8m-6.5 .2h.8m3.4 0h.8m-3.2 .1h.8m-.1 0h.8m2.8 0h.8m-8.6 .1h.8m.5 .2h.8m6.8 0h.8m-6.1 .1h.8m1.2 0h.8m-2.8 .1h.8m4.2 0h.8m-4 .1h.8m3.5 0h.8m2 0h.8m-7.9 .1h.8m2.9 0h.8m-6.7 .1h.8m.5 0h.8m3.3 .1h.8m-12 .1h.8m5.9 0h.8m1.4 .1h.8m-5.6 .1h.8m7.2 .1h.8m-8.6 .1h.8m.5 .1h.8m4.8 0h.8m-8.6 .1h.8m4.8 0h.8m4.4 0h.8m-6.9 .1h.8m-8.1 .1h.8m.4 0h.8m5.2 0h.8m2.6 .1h.8m-2.6 .2h.8m-1.1 .1h.8m-2.5 .1h.8m-6.4 .1h.8m2.5 0h.8m-1 .2h.8m.3 0h.8m.6 0h.8m.4 0h.8m0 0h.8m-4.3 .1h.8m-4 .1h.8m3 0h.8m-.6 0h.8m-4.5 .1h.8m-.3 0h.8m1.7 0h.8m.5 0h.8m-3.4 .1h.8m.8 0h.8m.8 0h.8m-3.6 .1h.8m6 0h.8m-6.3 .1h.8m-4.5 .2h.8m-.5 0h.8m-.2 0h.8m-.4 0h.8m-.3 0h.8m-1.7 .1h.8m.4 0h.8m1.3 0h.8m-4.6 .1h.8m2.2 0h.8m.3 0h.8m-.1 0h.8m-.7 0h.8m.1 0h.8m1 0h.8m.4 0h.8m-7.3 .1h.8m6.4 0h.8m-7.8 .1h.8m-1.9 .1h.8m.3 .1h.8m.9 0h.8m-4.4 .2h.8m3.2 0h.8m.5 0h.8m.1 0h.8m-4.3 .2h.8m-4 .1h.8m2.1 .1h.8m.8 .1h.8m.2 0h.8m2.3 .1h.8m-4.9 .1h.8m-2.7 .2h.8m1.9 0h.8m-3.6 .1h.8m6.8 0h.8m-7 .1h.8m-7.2 .1h.8m1.8 0h.8m1.6 0h.8m-.3 0h.8m1 .1h.8m-.4 0h.8m-.4 0h.8m2.7 0h.8m-4 .1h.8m.7 0h.8m-4.5 .2h.8m.6 0h.8m-7 .1h.8m5.3 0h.8m-3.9 .2h.8m-.2 0h.8m2.9 0h.8m-5.4 .1h.8m1.4 0h.8m.1 0h.8m-4.8 .1h.8m2.9 0h.8m-5.6 .1h.8m2.7 0h.8m-4.4 .1h.8m9.6 0h.8m-7.7 .1h.8m.9 0h.8m2.7 0h.8m-10.3 .1h.8m8.4 0h.8m-5.9 .1h.8m-3.6 .1h.8m.8 0h.8m-3 .2h.8m.8 .1h.8m.6 0h.8m1.3 0h.8m1.7 .1h.8m-7.6 .1h.8m2.5 0h.8m4.2 0h.8m-.9 .1h.8m-12.4 .1h.8m10.1 0h.8m-7.1 .1h.8m3.2 .1h.8m1.4 .1h.8m-8.7 .1h.8m1.9 0h.8m2.5 0h.8m-6.1 .1h.8m4.4 0h.8m-.7 0h.8m-5.5 .2h.8m-.5 0h.8m-3.5 .1h.8m2.9 0h.8m.7 0h.8m-.2 0h.8m-.9 .2h.8m-.1 0h.8m-.8 0h.8m-1.3 .1h.8m-5.2 .1h.8m2.8 0h.8m-5.8 .1h.8m.1 0h.8m4.5 0h.8m-1.5 .1h.8m.6 0h.8m.4 0h.8m-5.3 .1h.8m-.6 .1h.8m3.1 0h.8m-5 .1h.8m-4.9 .1h.8m.5 0h.8m2.1 0h.8m5 0h.8m-5.2 .1h.8m.2 0h.8m-8.6 .1h.8m1.7 0h.8m1.4 0h.8m0 0h.8m-1.4 .1h.8m-.8 0h.8m-4.1 .1h.8m1.7 0h.8m1.7 .1h.8m-3.8 .1h.8m1.5 0h.8m-1.8 .1h.8m-.9 .2h.8m-.5 0h.8m1.3 .1h.8m.2 0h.8m-5.8 .1h.8m-.8 0h.8m2.6 0h.8m-5 .2h.8m2.4 0h.8m4.1 0h.8m-9.8 .2h.8m1.5 0h.8m-.6 0h.8m2.6 0h.8m2.5 0h.8m-8 .1h.8m3.1 .1h.8m.9 0h.8m-3.6 .1h.8m.8 .1h.8m3.8 0h.8m-2.9 .1h.8m-7.1 .2h.8m-4 .1h.8m3 0h.8m.9 0h.8m-.3 .1h.8m-4.9 .2h.8m.1 0h.8m-.1 0h.8m0 0h.8m.3 0h.8m-1.2 .1h.8m-.6 0h.8m1.6 .1h.8m.1 0h.8m-1.3 .1h.8m1.4 0h.8m-7.5 .1h.8m-.2 0h.8m1.9 0h.8m5.9 0h.8m-8.9 .1h.8m1.3 0h.8m-5.7 .1h.8m4.8 0h.8m-.6 0h.8m-5.5 .2h.8m-1.1 .1h.8m4 0h.8m-5.4 .1h.8m3.3 0h.8m-3.7 .1h.8m1.1 0h.8m-4.7 .1h.8m-.5 0h.8m3.6 0h.8m-2.8 .1h.8m-2.9 .1h.8m-.5 .1h.8m3.9 .1h.8m-13 .1h.8m6.2 0h.8m1.7 0h.8m-3.3 .1h.8m.2 0h.8m1.1 0h.8m.8 .1h.8m-3.8 .1h.8m-4 .1h.8m7.5 0h.8m-6.1 .1h.8m-.4 0h.8m1.6 0h.8m.3 .1h.8m-5.5 .1h.8m-.6 0h.8m.7 0h.8m-1.5 .1h.8m-.7 0h.8m.3 0h.8m-5.2 .1h.8m2 0h.8m-5.6 .1h.8m1.9 0h.8m6.5 0h.8m-9.9 .1h.8m6.1 0h.8m-5 .1h.8m-.8 .2h.8m1.9 0h.8m-2.5 .1h.8m3.1 .1h.8m-5 .1h.8m-2.6 .3h.8m.9 0h.8m-3.6 .1h.8m2.5 0h.8m6.6 0h.8m-10.6 .1h.8m3.4 0h.8m.7 0h.8m-8.4 .1h.8m3.5 .1h.8m.9 0h.8m-3.9 .1h.8m.6 0h.8m-3.4 .2h.8m0 0h.8m.6 .1h.8m-.1 0h.8m-.1 0h.8m-5.2 .1h.8m-.6 0h.8m7 .1h.8m-1.7 .1h.8m-7.7 .1h.8m-.7 0h.8m4 0h.8m-2.8 .1h.8m.8 0h.8m.2 0h.8m-.4 0h.8m-3.9 .1h.8m6 .1h.8" stroke="#2a2af5" stroke-width=".8"/>
<path d="M275.9 483.9h.8m4.4 .1h.8m-6.5 .9h.8m-.4 .7h.8m3.7 .9h.8m.8 .3h.8m-13.3 .4h.8m3.8 .2h.8m9.9 .8h.8m-13.7 .1h.8m.2 .1h.8m4.9 .7h.8m-5.3 .1h.8m8.1 0h.8m-13 .3h.8m4.6 .5h.8m9.2 .3h.8m-2.1 .1h.8m3.8 0h.8m-12.6 .2h.8m5.3 0h.8m-6.8 .2h.8m.1 .2h.8m5 .2h.8m-11.7 .2h.8m7 0h.8m-6.2 .1h.8m.8 .1h.8m3.7 0h.8m-2.7 .1h.8m-2.8 .1h.8m8.9 0h.8m-.1 0h.8m-12.8 .1h.8m-7.6 .1h.8m9.4 0h.8m2.1 0h.8m-13.2 .2h.8m3 0h.8m9.1 .1h.8m-6 .1h.8m8.6 0h.8m-9.8 .1h.8m-.5 0h.8m.2 0h.8m1.3 0h.8m-7.3 .1h.8m-6.7 .2h.8m7.5 0h.8m3.9 0h.8m14.9 0h.8m-23.5 .1h.8m1.3 0h.8m-4.6 .1h.8m8.6 0h.8m4.2 0h.8m-9.2 .2h.8m5.5 .1h.8m-11.7 .1h.8m.1 .2h.8m1.8 0h.8m6.3 0h.8m-5.6 .2h.8m-.4 0h.8m3.5 .1h.8m-7.1 .1h.8m3 .1h.8m7.2 0h.8m-11 .1h.8m4.3 0h.8m-14.7 .1h.8m13.2 0h.8m-6.8 .1h.8m.4 0h.8m5 .1h.8m-7.1 .1h.8m2.2 0h.8m1.2 0h.8m7 0h.8m-21.8 .2h.8m8.4 0h.8m3.8 0h.8m-14.6 .1h.8m1.4 0h.8m1 0h.8m.9 0h.8m.6 0h.8m-15.3 .1h.8m7.7 0h.8m1.4 0h.8m1.9 0h.8m-.1 0h.8m-1.8 .1h.8m2.7 0h.8m2.1 .2h.8m2.8 0h.8m-10.5 .1h.8m3.8 0h.8m1.1 0h.8m5.3 0h.8m-14.8 .1h.8m4.5 0h.8m9.1 0h.8m3.6 0h.8m-16.4 .1h.8m6.3 0h.8m-17.9 .1h.8m4.3 0h.8m3.8 0h.8m5.6 0h.8m2.6 0h.8m2.3 0h.8m-7.1 .1h.8m3.1 0h.8m-16.4 .2h.8m13.9 0h.8m-18 .1h.8m.3 0h.8m2.5 0h.8m1.7 0h.8m3.4 0h.8m6.6 0h.8m-18.4 .1h.8m14 0h.8m-11.2 .1h.8m5.3 0h.8m5.7 0h.8m4.4 0h.8m-11.8 .1h.8m.2 0h.8m2 0h.8m3.4 0h.8m-13 .1h.8m1.4 0h.8m-11.5 .1h.8m18.3 0h.8m-13.4 .1h.8m3.7 0h.8m-6.4 .1h.8m14.9 0h.8m-10.6 .1h.8m2.9 0h.8m-13.5 .1h.8m2.3 0h.8m2.2 0h.8m3.4 0h.8m-.5 0h.8m-11.3 .2h.8m.2 0h.8m.8 0h.8m1.1 0h.8m1.4 0h.8m7.8 0h.8m6.3 0h.8m-17.2 .1h.8m1.4 0h.8m5.5 0h.8m-4.8 .1h.8m1.3 0h.8m-8.2 .1h.8m1 0h.8m1 0h.8m1.5 0h.8m2.7 0h.8m4.1 0h.8m-15.6 .1h.8m-14.1 .1h.8m15.7 0h.8m-.6 0h.8m12 0h.8m-16.2 .1h.8m2.2 0h.8m.2 0h.8m4 0h.8m-10 .1h.8m-10.5 .1h.8m10 0h.8m1 0h.8m-2.8 .1h.8m-.2 .1h.8m7.6 0h.8m-.4 0h.8m-11.7 .1h.8m-.1 .1h.8m-.5 0h.8m3.1 0h.8m6.8 0h.8m-15.3 .1h.8m4.6 0h.8m0 0h.8m4.1 0h.8m-7.8 .1h.8m.2 0h.8m9.1 0h.8m2.2 0h.8m-26.5 .1h.8m10.9 0h.8m-.6 0h.8m5.3 0h.8m4.9 0h.8m-18.4 .2h.8m6.3 0h.8m1.3 0h.8m-11.4 .1h.8m6.7 0h.8m5.6 0h.8m.4 0h.8m12.1 0h.8m-21.2 .1h.8m.8 0h.8m8.3 0h.8m-10.5 .1h.8m4 0h.8m-9.5 .1h.8m-1.7 .1h.8m8.4 0h.8m.3 0h.8m10 0h.8m-20.1 .1h.8m-.7 0h.8m2.8 0h.8m-.5 0h.8m5.7 0h.8m-10.3 .1h.8m-.6 0h.8m-.5 0h.8m-.6 0h.8m8.2 0h.8m9.7 0h.8m-26.5 .1h.8m3.2 0h.8m3.4 0h.8m1.4 0h.8m-.4 0h.8m1.2 0h.8m0 0h.8m2.2 0h.8m-21.8 .1h.8m1 0h.8m3.8 0h.8m2.5 0h.8m.2 0h.8m2.3 0h.8m-6.5 .1h.8m4.6 0h.8m.4 0h.8m2.8 0h.8m-.5 0h.8m-17.2 .1h.8m.9 0h.8m4.1 0h.8m2.2 0h.8m3.1 0h.8m4.2 0h.8m-9.4 .1h.8m3.7 0h.8m8 0h.8m-21 .1h.8m0 0h.8m8.8 .1h.8m5.7 0h.8m-9.7 .1h.8m-.1 0h.8m-15.4 .1h.8m5.2 0h.8m4.1 0h.8m-1.8 .1h.8m1.7 0h.8m6 0h.8m-16.1 .1h.8m3.6 0h.8m2.4 0h.8m-.6 0h.8m1.6 0h.8m-.2 0h.8m7.2 0h.8m-6.2 .1h.8m0 0h.8m-13.6 .1h.8m5.2 0h.8m.8 0h.8m-.7 0h.8m6.7 0h.8m-.7 0h.8m.1 0h.8m2 0h.8m-7 .1h.8m3.8 0h.8m-25.6 .1h.8m16.5 0h.8m1.4 0h.8m1 0h.8m-25.6 .1h.8m21.7 0h.8m7.8 0h.8m-25.3 .1h.8m8.6 0h.8m.5 0h.8m4.3 0h.8m4 0h.8m3.6 0h.8m-21.9 .1h.8m5.3 0h.8m3.6 0h.8m9.4 0h.8m-14.3 .1h.8m-.2 0h.8m-6.3 .1h.8m11.3 0h.8m4.6 0h.8m-17.9 .1h.8m13.5 0h.8m-16.6 .1h.8m6.4 0h.8m5.6 0h.8m9.9 0h.8m-10.3 .1h.8m2.2 0h.8m-12.1 .1h.8m4 0h.8m6.1 0h.8m-13 .1h.8m4.9 0h.8m5.1 0h.8m6.3 0h.8m-25.4 .1h.8m4.4 0h.8m10.1 0h.8m-14.4 .1h.8m6.7 0h.8m2.3 0h.8m1 0h.8m-12.1 .1h.8m3.4 0h.8m2.4 0h.8m.4 0h.8m5.1 0h.8m-17.2 .1h.8m6.8 0h.8m-.1 0h.8m-.7 0h.8m2.2 0h.8m-.2 0h.8m.1 0h.8m-.4 0h.8m1.9 0h.8m0 0h.8m.7 0h.8m-19.9 .1h.8m4.1 0h.8m2.4 0h.8m1 0h.8m-.7 0h.8m4.4 0h.8m-18.7 .1h.8m2.5 0h.8m8.6 0h.8m.7 0h.8m1.5 0h.8m-.8 0h.8m2.6 0h.8m-5.9 .1h.8m-6.2 .1h.8m6.2 0h.8m-.4 0h.8m2 0h.8m-17.8 .1h.8m3.6 .1h.8m7.3 0h.8m-.7 0h.8m6.9 0h.8m-24 .1h.8m6.6 .1h.8m-.1 0h.8m2.1 0h.8m.5 0h.8m4.9 0h.8m8.8 0h.8m-23 .1h.8m11.7 .1h.8m1 0h.8m-26.9 .1h.8m13.3 0h.8m5.4 0h.8m2.4 0h.8m-5.2 .1h.8m2.5 0h.8m-.1 0h.8m.3 0h.8m-14.1 .1h.8m5.8 0h.8m4.1 0h.8m-.3 0h.8m-6.5 .1h.8m7.1 0h.8m6 0h.8m-14.8 .1h.8m1.2 0h.8m3.4 0h.8m-10.4 .1h.8m.7 0h.8m5.9 0h.8m-10 .1h.8m.7 0h.8m.3 0h.8m10.8 .1h.8m-.8 0h.8m-10.4 .1h.8m4.5 0h.8m3.9 0h.8m-21.3 .1h.8m20.5 0h.8m-16.2 .1h.8m2 0h.8m-.1 0h.8m12.9 0h.8m-10.8 .1h.8m2.4 .1h.8m-.6 .1h.8m2.3 0h.8m-.7 0h.8m-9.9 .1h.8m3.7 0h.8m-3 .1h.8m.1 0h.8m.6 0h.8m8 0h.8m-4.9 .1h.8m-16.7 .2h.8m4.7 0h.8m.4 0h.8m14.3 .1h.8m-16.6 .1h.8m11.6 0h.8m-4.5 .1h.8m-1 .1h.8m0 0h.8m-15 .1h.8m5.2 0h.8m-7.4 .1h.8m6.5 0h.8m7.6 0h.8m2.9 0h.8m-12.2 .1h.8m7.4 0h.8m-15.5 .1h.8m.8 0h.8m-.4 .1h.8m8.4 0h.8m.6 0h.8m.3 .1h.8m-13.4 .1h.8m19.4 0h.8m-16.6 .1h.8m4.6 0h.8m11.7 0h.8m-17.1 .1h.8m-.1 0h.8m-8.8 .1h.8m8.6 0h.8m-3.6 .1h.8m.3 0h.8m.5 0h.8m-2.7 .1h.8m6.1 .1h.8m-8.2 .1h.8m-5.9 .1h.8m11.2 0h.8m5.4 0h.8m.1 0h.8m-16.9 .1h.8m1.6 0h.8m2.3 .1h.8m10.8 0h.8m-12.5 .5h.8m6.1 0h.8m-10.1 .1h.8m-10.7 .1h.8m4.3 0h.8m9.6 0h.8m-12 .2h.8m8.6 0h.8m6.7 0h.8m-11.1 .1h.8m-9.6 .1h.8m6.8 0h.8m2.9 0h.8m-4.2 .1h.8m-8.3 .1h.8m8.8 0h.8m9.7 .1h.8m-23.5 .1h.8m9.1 0h.8m14.9 .1h.8m-3.4 .1h.8m-3.4 .1h.8m-.7 .1h.8m.5 .4h.8m-17.8 .1h.8m.9 0h.8m12.5 0h.8m-15.5 .1h.8m8.8 0h.8m-8.3 .1h.8m6.8 0h.8m-8.9 .1h.8m11.4 0h.8m-10.8 .5h.8m.5 0h.8m8.3 .2h.8m-16.1 .3h.8m14.3 0h.8m-5.8 .1h.8m12.9 .2h.8m-12.8 .3h.8m8.2 0h.8m-10.5 .2h.8m.7 .1h.8m3.8 2.3h.8m1.5 2.1h.8" stroke="#2a2af5" stroke-width=".8"/>
<defs><radialGradient id="dg4"><stop offset="0" stop-color="#30d8e8" stop-opacity="0.8"/><stop offset="0.22" stop-color="#2090ff" stop-opacity="0.85"/><stop offset="0.45" stop-color="#1a1aff" stop-opacity="0.6"/><stop offset="0.75" stop-color="#1a1aff" stop-opacity="0.3"/><stop offset="1" stop-color="#1a1aff" stop-opacity="0"/></radialGradient></defs><ellipse cx="282" cy="498" rx="9.0" ry="6.0" fill="url(#dg4)" transform="rotate(28 282 498)"/>
<defs><radialGradient id="dg5"><stop offset="0" stop-color="#30d8e8" stop-opacity="0.8"/><stop offset="0.22" stop-color="#2090ff" stop-opacity="0.85"/><stop offset="0.45" stop-color="#1a1aff" stop-opacity="0.6"/><stop offset="0.75" stop-color="#1a1aff" stop-opacity="0.3"/><stop offset="1" stop-color="#1a1aff" stop-opacity="0"/></radialGradient></defs><ellipse cx="274" cy="533" rx="5.0" ry="9.0" fill="url(#dg5)" transform="rotate(0 274 533)"/>
<ellipse cx="280" cy="497" rx="2.4" ry="1.8" fill="#50e0a0"/><ellipse cx="273.5" cy="533" rx="2" ry="2.2" fill="#50e090"/>
<path d="M306.9 486.7h.7m-10 7.6h.7m14.4 .9h.7m-18 .4h.7m7.9 3.3h.7m8.5 .6h.7m3.9 .1h.7m-29.1 .2h.7m-2 .3h.7m-19.9 .2h.7m43.4 .3h.7m-42.3 .6h.7m21.9 .7h.7m-9 .3h.7m22.6 .1h.7m-36.5 .3h.7m-4.5 1.1h.7m28.6 .4h.7m-8.9 .9h.7m14.2 .7h.7m0 0h.7m-20.6 .2h.7m14.3 .1h.7m12.1 .3h.7m-1.2 .3h.7m-30.8 .4h.7m29.4 .3h.7m-13.4 .3h.7m8.5 0h.7m-14.6 .1h.7m-1.7 .8h.7m.2 .1h.7m23.4 .1h.7m-20.5 .4h.7m2.6 .4h.7m2.8 0h.7m-14.6 .3h.7m16 .2h.7m-7.9 .1h.7m-16.2 .1h.7m7.2 .3h.7m17.6 .1h.7m-28.4 .1h.7m-1.7 .4h.7m23.7 .1h.7m-7.4 .6h.7m3.8 0h.7m-14.5 .8h.7m5.8 .6h.7m-20.8 .4h.7m8.4 .5h.7m27.7 .1h.7m-38.1 .6h.7m7.7 0h.7m-3.5 .3h.7m30.4 0h.7m-20.7 .1h.7m-19.4 .2h.7m3.5 .3h.7m2 .2h.7m6.6 0h.7m-3 .1h.7m15.8 0h.7m-16.2 .1h.7m4.2 .1h.7m17.6 .4h.7m-17.3 .3h.7m12.1 .6h.7m-21 1.4h.7m6.1 .7h.7m2.7 0h.7m1.6 .6h.7m2.2 0h.7m-9.8 .3h.7m-10.2 .3h.7m8.2 .1h.7m-4 .4h.7m10.9 .5h.7m-3.6 .5h.7m.2 .6h.7m-4.9 .9h.7m-.1 .5h.7m-21.5 .3h.7m23.5 .2h.7m7.9 1.4h.7m-7.1 1.2h.7m7.6 3.7h.7m-29.8 2.1h.7m16.8 3.3h.7m2.5 5.9h.7" stroke="#6a6af0" stroke-width=".7"/>
<path d="M339.4 522.1h.7m-12.4 2h.7m1.9 1.1h.7m3 .1h.7m-6.5 .6h.7m-10.1 .1h.7m9.8 .5h.7m-4.5 .4h.7m-6 .3h.7m4.7 .4h.7m6.7 .1h.7m-12.9 .6h.7m9.4 .2h.7m4.1 .3h.7m-16.4 .1h.7m-4.3 .3h.7m5.4 0h.7m-4.5 .4h.7m8.9 .1h.7m7.5 0h.7m-17.1 .2h.7m13.3 0h.7m-19.6 .3h.7m11.9 0h.7m2.1 .1h.7m-5.1 .1h.7m5.4 .2h.7m.2 0h.7m-16.5 .4h.7m4.4 0h.7m5.5 0h.7m-7.4 .5h.7m3.4 .1h.7m-1.7 .1h.7m4.8 0h.7m.6 0h.7m-4.5 .1h.7m0 0h.7m-3.7 .4h.7m4.7 0h.7m8.2 0h.7m-8.5 .2h.7m7.9 .4h.7m-17.3 .2h.7m8.3 .1h.7m-19.4 .1h.7m5.1 0h.7m-4.3 .3h.7m17 0h.7m-4.8 .1h.7m-5.3 .1h.7m3.8 0h.7m2.3 .1h.7m5.1 .1h.7m-21.1 .1h.7m2.8 .1h.7m.9 0h.7m0 0h.7m1.8 .4h.7m6.1 0h.7m-7.8 .1h.7m4.4 0h.7m-9.4 .2h.7m2.5 0h.7m-.3 .2h.7m4.8 .1h.7m-11.5 .1h.7m7.8 0h.7m.5 0h.7m6.3 0h.7m-20 .1h.7m13.6 0h.7m-.5 0h.7m-2.6 .2h.7m-8.6 .1h.7m6.1 0h.7m-.4 0h.7m.1 0h.7m-10.6 .5h.7m5.4 .2h.7m-4 .1h.7m13 0h.7m-8.4 .1h.7m-10.4 .9h.7m4.3 0h.7m8 .1h.7m-14.6 1h.7m4.7 .8h.7" stroke="#5a5af0" stroke-width=".7"/>
<rect x="254.8" y="460.7" width="99.7" height="98.5" fill="none" stroke="#111" stroke-width="1.4"/>
<rect x="305.2" y="519.6" width="37.6" height="23.5" fill="none" stroke="#26339a" stroke-width="1.4"/>
<text x="311.3" y="506.1" font-size="12.03" fill="#1a1a1a" stroke="#1a1a1a" stroke-width="0.25">LDN</text>
<text x="323.3" y="515.2" font-size="8.84" text-anchor="middle" fill="#1a1a1a" stroke="#1a1a1a" stroke-width="0.12">10.09</text>
<text x="251.2" y="558.3" font-size="12.03" fill="#1a1a1a" stroke="#1a1a1a" stroke-width="0.25" transform="rotate(-90 251.2 558.3)">CD14-AF700</text>
<text x="254.8" y="571.8" font-size="12.03" fill="#1a1a1a" stroke="#1a1a1a" stroke-width="0.25">CD15-eF450</text>
<path d="M193.9 613.6h.7m-5.7 8.5h.7m8 .3h.7m9.3 1.5h.7m-9.9 .3h.7m7.9 3h.7m-7.7 .5h.7m17.4 .1h.7m-15.6 .5h.7m-6.9 1.1h.7m3.1 1.9h.7m3.1 2h.7m-.6 .5h.7m-4.4 .4h.7m5.8 1.7h.7m-19.3 .9h.7m0 0h.7m1.7 0h.7m28.3 .7h.7m-12.1 1.2h.7m-5.7 .2h.7m13.1 1.4h.7m-3.8 .9h.7m11.9 .9h.7m-23.2 .6h.7m5 1.4h.7m-5.9 .5h.7m-10.1 .7h.7m11.3 .3h.7m.8 .8h.7m-2.6 .3h.7m-5.1 1.3h.7m6.5 0h.7m10.2 1.2h.7m-27.3 1h.7m11.8 .2h.7m-2.3 1.1h.7m7.7 .1h.7m-12.6 .4h.7m-7.8 .1h.7m7.2 .3h.7m-4.6 1h.7m3.5 1.8h.7m-.3 1h.7m-1.1 1.8h.7m-3.9 .3h.7m-8.1 .5h.7m6.5 1.1h.7m19 1.5h.7m-1.8 1.9h.7m-14.7 .4h.7m-2.7 .5h.7m2.1 0h.7m-4.6 .6h.7m10.4 .7h.7m-9.2 .8h.7m-3.1 .4h.7m3.8 1.1h.7m.9 1.5h.7m2 .6h.7m11.4 2.2h.7m-23.4 1.5h.7m5.2 2.9h.7" stroke="#7a7af0" stroke-width=".7"/>
<path d="M173.1 587.7h.8m-6 .4h.8m9.9 0h.8m-3.3 .3h.8m-.6 1.2h.8m-6 1.2h.8m4.3 0h.8m-1.1 .3h.8m-3.4 .7h.8m5.7 0h.8m-4 .8h.8m1 1.7h.8m-4.8 .1h.8m.9 .3h.8m.2 0h.8m.1 1.3h.8m.6 .4h.8m-4.4 .1h.8m-.4 0h.8m1.7 .2h.8m3.2 .2h.8m-.6 0h.8m-11.9 .1h.8m2.5 .4h.8m-2 .4h.8m3.6 .2h.8m1.6 .3h.8m-3.1 .2h.8m-4.6 .1h.8m2 0h.8m-3.7 .3h.8m5 0h.8m-9.1 .1h.8m5 .1h.8m-5.5 .1h.8m1.3 0h.8m4.4 0h.8m-12.5 .3h.8m2.6 .1h.8m-.8 0h.8m7.1 .1h.8m.9 .3h.8m-12 .4h.8m9.8 0h.8m-5.7 .1h.8m-4 .1h.8m4.5 .1h.8m.2 .1h.8m-5.5 .2h.8m5.3 0h.8m-4.1 .1h.8m.5 0h.8m-7.6 .1h.8m1.3 0h.8m-.5 0h.8m-1.9 .2h.8m1.9 .5h.8m-1.7 .1h.8m-2.7 .4h.8m.2 .3h.8m-.2 .2h.8m-5.4 .1h.8m3.4 0h.8m0 0h.8m-1 .1h.8m-3.8 .4h.8m0 .1h.8m-.3 .2h.8m0 .1h.8m4 0h.8m-5.3 .2h.8m-.2 .1h.8m1.7 .2h.8m-5.4 .2h.8m2.5 0h.8m6.9 .2h.8m-8.6 .1h.8m-2.8 .2h.8m2.5 .1h.8m-6.4 .1h.8m1.5 0h.8m.1 .1h.8m1.9 .4h.8m-.1 0h.8m-5.1 .2h.8m.4 0h.8m2.4 0h.8m-2.7 .1h.8m-5.6 .1h.8m2.1 .1h.8m-1.5 .1h.8m.9 0h.8m-7.2 .1h.8m6.7 0h.8m-4.3 .1h.8m3.2 .1h.8m-6.4 .1h.8m1.3 0h.8m.3 .1h.8m-5.4 .2h.8m.7 0h.8m-.6 .1h.8m3.7 0h.8m-2.7 .1h.8m-1.1 .1h.8m-6.3 .1h.8m-.8 0h.8m3 0h.8m.3 0h.8m-3.4 .2h.8m2.4 0h.8m-5.3 .1h.8m4.2 0h.8m-1.2 .2h.8m-5.9 .1h.8m3.8 0h.8m-.2 0h.8m2.3 0h.8m-2.5 .1h.8m-1.3 .1h.8m-7 .1h.8m5.1 0h.8m.3 0h.8m-1.7 .1h.8m-4.9 .1h.8m.7 0h.8m.4 0h.8m3.2 0h.8m-5.8 .1h.8m2.4 0h.8m4.9 .1h.8m-2.8 .1h.8m-10.8 .1h.8m-.3 0h.8m-.7 .1h.8m-3.7 .1h.8m7.1 0h.8m.9 0h.8m-3.8 .1h.8m1 0h.8m-5.1 .1h.8m3.3 .1h.8m3.2 0h.8m-.6 .2h.8m-1.7 .3h.8m.1 0h.8m-7.8 .3h.8m-.3 0h.8m2.8 0h.8m1.9 0h.8m-5.9 .1h.8m-1.4 .1h.8m2.2 .1h.8m-.2 0h.8m-4.3 .1h.8m.4 0h.8m1.2 .1h.8m-4.5 .1h.8m3.4 .1h.8m-6.3 .1h.8m1.6 0h.8m.2 0h.8m.3 0h.8m-.7 0h.8m-4.9 .1h.8m-6.7 .2h.8m8.3 0h.8m-.7 0h.8m-.1 0h.8m-.7 0h.8m.5 0h.8m-.5 0h.8m-10.6 .1h.8m7.5 0h.8m.6 .1h.8m-7.8 .1h.8m2.3 0h.8m1.4 0h.8m-6.9 .1h.8m2.4 0h.8m-.4 0h.8m-.5 0h.8m0 0h.8m-4.9 .1h.8m6.3 0h.8m2.3 0h.8m-9.9 .1h.8m-3.9 .1h.8m-.1 .1h.8m2.3 0h.8m2.3 0h.8m-12 .2h.8m4.7 0h.8m2.9 .1h.8m1.8 0h.8m-8.3 .1h.8m1.1 0h.8m.9 0h.8m-2.1 .1h.8m-.3 0h.8m-.6 0h.8m.2 0h.8m1.1 .1h.8m-6.5 .1h.8m2.5 0h.8m5.2 0h.8m-7.8 .1h.8m-4.8 .1h.8m8.8 0h.8m-5.1 .1h.8m5.2 0h.8m-7.5 .1h.8m2.5 0h.8m.5 0h.8m.8 0h.8m-9 .1h.8m5.8 0h.8m-6.7 .1h.8m1.2 .1h.8m-6.2 .1h.8m4.6 0h.8m.4 0h.8m1 0h.8m-4.8 .1h.8m-5 .1h.8m6.7 0h.8m-.5 0h.8m2.9 0h.8m-3.3 .2h.8m-3.9 .1h.8m.5 0h.8m.1 0h.8m-5 .1h.8m-5.8 .1h.8m6.4 0h.8m-8.4 .1h.8m10.9 0h.8m-11 .1h.8m1.5 0h.8m-.2 0h.8m.5 .1h.8m-.3 .1h.8m3.9 0h.8m-6 .1h.8m-.1 0h.8m-.2 0h.8m-2.9 .1h.8m2.6 0h.8m.6 0h.8m-8.5 .1h.8m3.6 0h.8m3.3 0h.8m-5.5 .1h.8m3.5 0h.8m-7.5 .1h.8m1 0h.8m.4 0h.8m5.2 .1h.8m-4.5 .1h.8m2.4 0h.8m-8.8 .1h.8m-.2 0h.8m2.4 0h.8m-.7 0h.8m4.6 0h.8m-8.2 .1h.8m.3 .1h.8m-.8 0h.8m1.4 0h.8m-2.9 .1h.8m-.4 0h.8m-5.4 .1h.8m.3 0h.8m-.7 0h.8m3 0h.8m-.2 0h.8m-3.4 .2h.8m3.1 0h.8m-.8 0h.8m-6.6 .1h.8m.4 0h.8m3 .1h.8m-.4 0h.8m-.4 0h.8m-6.7 .2h.8m-.1 0h.8m1.8 .1h.8m-6 .1h.8m.5 0h.8m7.4 0h.8m-7 .1h.8m.6 0h.8m0 0h.8m.1 0h.8m-7.3 .1h.8m3.2 0h.8m-.1 0h.8m1.6 0h.8m-.6 0h.8m0 0h.8m-5.4 .1h.8m.6 0h.8m.3 0h.8m-.5 0h.8m-6.1 .1h.8m.5 0h.8m-2.4 .1h.8m2.8 0h.8m.7 0h.8m-2.9 .1h.8m.2 0h.8m-.4 0h.8m-8.6 .1h.8m5.1 0h.8m-.5 0h.8m-1 .1h.8m5.1 0h.8m-7.4 .2h.8m.6 0h.8m6.2 0h.8m-8.3 .2h.8m-.7 0h.8m.7 0h.8m1.9 0h.8m-13.4 .1h.8m1.8 0h.8m-.3 0h.8m5.8 0h.8m1.6 0h.8m.3 0h.8m-8.4 .1h.8m2.5 .1h.8m5.8 0h.8m-8.3 .1h.8m.5 0h.8m1.6 0h.8m-7.6 .1h.8m2.3 0h.8m-.7 0h.8m.6 0h.8m.6 0h.8m-3.1 .1h.8m-.4 0h.8m-1.6 .1h.8m-.5 0h.8m-.2 0h.8m3 0h.8m0 0h.8m-6.9 .1h.8m-.2 0h.8m1.3 .1h.8m-.3 0h.8m-.8 0h.8m1 0h.8m-10.2 .1h.8m-.1 0h.8m.1 0h.8m.9 0h.8m4.5 0h.8m0 0h.8m-8.6 .1h.8m.5 0h.8m.8 0h.8m.8 0h.8m-1.5 .1h.8m-.3 .2h.8m-5.5 .1h.8m2.5 0h.8m-.1 0h.8m-.6 0h.8m-2.7 .2h.8m-1.3 .1h.8m1.7 0h.8m0 0h.8m2.7 0h.8m-4.3 .1h.8m-.1 0h.8m.6 0h.8m-5.1 .1h.8m-2.6 .1h.8m.6 0h.8m1.3 0h.8m-.8 0h.8m5.3 0h.8m-11.4 .1h.8m2.9 0h.8m.4 0h.8m3.2 0h.8m-8.1 .1h.8m2.9 0h.8m-4.7 .1h.8m1.8 0h.8m4 .2h.8m-.3 0h.8m-11.7 .1h.8m5.8 .1h.8m.3 0h.8m1.2 .1h.8m-7.9 .1h.8m-.1 0h.8m.6 0h.8m1.1 0h.8m-8.4 .1h.8m3 0h.8m1.2 0h.8m-.4 0h.8m-5 .1h.8m.5 0h.8m2.6 0h.8m.3 0h.8m-2.6 .1h.8m1.3 0h.8m-.5 0h.8m2.8 0h.8m3.8 .1h.8m-17.6 .1h.8m3.5 0h.8m-.4 0h.8m-.3 0h.8m.3 0h.8m-2.5 .1h.8m.8 0h.8m.6 0h.8m-6 .2h.8m.4 0h.8m3.3 0h.8m-.8 0h.8m4.4 0h.8m-13.8 .1h.8m.8 0h.8m9.1 0h.8m-10.5 .1h.8m.3 0h.8m.2 0h.8m.1 0h.8m3.7 0h.8m-5.7 .1h.8m3.8 0h.8m-5.4 .1h.8m.8 0h.8m.4 0h.8m-.1 0h.8m-.2 0h.8m1.3 0h.8m0 0h.8m-14.8 .1h.8m6.7 0h.8m4.3 0h.8m-.8 0h.8m-5.3 .1h.8m-.6 0h.8m.2 0h.8m.2 0h.8m-7.9 .1h.8m2.7 0h.8m2.6 0h.8m3.6 0h.8m-11.8 .1h.8m6.2 0h.8m-.7 0h.8m-.4 0h.8m.5 0h.8m-4.5 .1h.8m-3.8 .1h.8m1.1 0h.8m-.2 0h.8m3.9 0h.8m-6 .1h.8m-.3 0h.8m1.5 0h.8m1 0h.8m-4.6 .1h.8m-.5 0h.8m-.3 0h.8m.2 0h.8m.2 0h.8m1 0h.8m-3.7 .1h.8m-.7 0h.8m-6.1 .1h.8m3.5 .1h.8m-2.7 .2h.8m5.1 0h.8m-6.7 .1h.8m1.5 0h.8m-.7 0h.8m3.6 0h.8m-8.2 .2h.8m2.2 0h.8m-2.3 .1h.8m-.3 0h.8m.8 0h.8m-1.7 .1h.8m-.7 0h.8m-.2 0h.8m2 0h.8m3.2 0h.8m-11.1 .1h.8m-.3 0h.8m.4 0h.8m1.3 0h.8m-.8 .2h.8m.2 0h.8m.5 0h.8m-4.4 .1h.8m-.3 0h.8m-4.4 .1h.8m3.5 0h.8m-.2 0h.8m.2 0h.8m2.2 0h.8m-12.9 .1h.8m2.5 0h.8m5.6 0h.8m-8.3 .1h.8m.4 0h.8m-.2 0h.8m4.1 0h.8m-3.7 .1h.8m3.6 0h.8m-5.4 .1h.8m-3.5 .1h.8m-.6 0h.8m.4 0h.8m-.5 0h.8m.6 0h.8m-7.6 .1h.8m5.1 0h.8m-.2 0h.8m-.4 0h.8m3.4 0h.8m-6.8 .1h.8m-.6 0h.8m.8 0h.8m-1.7 .1h.8m-.3 0h.8m-.3 0h.8m-.7 0h.8m6.7 0h.8m-12.6 .1h.8m-.3 .1h.8m2 0h.8m.5 0h.8m-.8 0h.8m-.5 0h.8m3.4 0h.8m-6.6 .1h.8m-5.8 .1h.8m6 0h.8m.4 0h.8m2.9 0h.8m-9.8 .1h.8m1.7 0h.8m.3 0h.8m-10.8 .1h.8m2 0h.8m-.7 0h.8m1.3 0h.8m1.2 0h.8m-4.5 .1h.8m3.5 0h.8m-.7 0h.8m5.6 .1h.8m2.4 0h.8m-14.8 .1h.8m1.1 0h.8m2.1 0h.8m.4 0h.8m.2 0h.8m-.7 0h.8m-4 .1h.8m2.6 0h.8m-5.6 .1h.8m2.3 0h.8m.6 0h.8m1.1 0h.8m-7.8 .2h.8m-.1 0h.8m2.9 0h.8m.1 0h.8m.9 0h.8m1.7 0h.8m-8.6 .1h.8m-.4 0h.8m3.5 0h.8m-.2 .1h.8m-1.9 .1h.8m1.7 0h.8m-8.8 .1h.8m8.5 0h.8m-8.6 .1h.8m2.4 0h.8m1 .1h.8m-7.1 .1h.8m3 0h.8m-.3 0h.8m-.6 0h.8m-3.5 .1h.8m-.7 0h.8m1.7 0h.8m-.2 0h.8m-7.2 .1h.8m1.7 0h.8m-.4 0h.8m.6 0h.8m-5.4 .1h.8m.9 0h.8m1 0h.8m-2.1 .1h.8m2 0h.8m-.6 0h.8m1.1 0h.8m-2.1 .1h.8m-.1 0h.8m-.2 0h.8m2.5 0h.8m1.8 0h.8m-14.8 .1h.8m1.2 0h.8m.9 0h.8m-.5 0h.8m-.5 0h.8m.3 0h.8m2.4 0h.8m-5 .1h.8m3.6 0h.8m-4.8 .1h.8m-.3 0h.8m.5 0h.8m-.4 0h.8m.1 0h.8m-5.6 .1h.8m.1 0h.8m.9 0h.8m-9.4 .1h.8m4.2 0h.8m.4 0h.8m-.1 0h.8m2.5 0h.8m-.1 0h.8m-9.3 .1h.8m4.8 0h.8m.5 0h.8m0 0h.8m-.5 0h.8m.2 0h.8m1.1 0h.8m-8.5 .1h.8m.4 0h.8m.4 0h.8m.2 0h.8m-3.2 .1h.8m2.8 0h.8m-3.1 .1h.8m-.6 0h.8m-3.2 .1h.8m2.6 0h.8m-5.1 .1h.8m.1 0h.8m1.9 0h.8m3.7 0h.8m-4.2 .1h.8m2.8 0h.8m1.5 0h.8m-16.8 .1h.8m7.1 0h.8m1.4 0h.8m.4 0h.8m-.4 0h.8m2.4 0h.8m-11.4 .1h.8m-.2 0h.8m0 0h.8m1.7 0h.8m-.7 0h.8m1.8 0h.8m-.8 0h.8m.9 0h.8m-8.7 .1h.8m-.6 0h.8m-.1 0h.8m.7 0h.8m3.6 0h.8m-.8 0h.8m1.4 0h.8m-3.4 .1h.8m2.1 0h.8m-7.9 .1h.8m-.4 0h.8m1.2 0h.8m.4 0h.8m-6.8 .1h.8m2.3 0h.8m0 0h.8m-.2 0h.8m-4.2 .1h.8m-.7 0h.8m2 0h.8m-.1 0h.8m.6 0h.8m1.1 0h.8m-.3 0h.8m-6.5 .1h.8m-.2 0h.8m-.5 0h.8m2 0h.8m-1.4 .1h.8m-8.7 .1h.8m4.4 0h.8m-.7 0h.8m.7 0h.8m-2.4 .1h.8m0 0h.8m-.5 0h.8m.5 0h.8m-6.5 .1h.8m2.3 0h.8m3.7 0h.8m-7 .1h.8m-.8 0h.8m.7 0h.8m.6 0h.8m-1.4 .1h.8m-2.6 .1h.8m-.8 0h.8m-.4 0h.8m1.8 0h.8m-.6 0h.8m-.7 0h.8m.1 0h.8m.4 0h.8m.4 0h.8m.1 0h.8m.3 0h.8m-3.8 .1h.8m4.3 0h.8m-12.9 .1h.8m1.5 0h.8m.9 0h.8m-3.6 .2h.8m4.2 0h.8m-.4 0h.8m-.2 0h.8m-8 .1h.8m-.4 0h.8m-4.3 .1h.8m6 0h.8m-.1 0h.8m-.5 0h.8m0 0h.8m-5.8 .1h.8m4.8 0h.8m1.7 0h.8m.1 0h.8m-8 .1h.8m-.2 0h.8m-.4 0h.8m6.1 0h.8m-11.8 .1h.8m3.4 0h.8m4.5 0h.8m-9.2 .1h.8m.3 0h.8m.9 0h.8m.4 0h.8m-4.7 .1h.8m6 0h.8m-5.7 .1h.8m1.6 0h.8m-.1 0h.8m-.6 0h.8m-.6 0h.8m.5 0h.8m.4 0h.8m.2 0h.8m-8.8 .1h.8m1 0h.8m0 0h.8m2.2 0h.8m-7.9 .2h.8m2 0h.8m.5 0h.8m-.8 0h.8m-3.3 .1h.8m-2.6 .1h.8m1 0h.8m-.5 .1h.8m.1 0h.8m-.2 0h.8m-.7 0h.8m-.7 0h.8m.5 0h.8m2.7 0h.8m-7.2 .1h.8m-4.8 .1h.8m2.6 0h.8m-.5 0h.8m-.4 0h.8m-3.1 .1h.8m-.2 0h.8m1.4 0h.8m-.3 0h.8m2 0h.8m0 0h.8m-10 .1h.8m2.5 0h.8m2.5 0h.8m-4.5 .1h.8m.4 .1h.8m1 0h.8m1.8 0h.8m-6.6 .1h.8m1.7 0h.8m1.8 0h.8m-3.1 .1h.8m5.2 0h.8m-7.2 .1h.8m4.1 0h.8m-7 .1h.8m3.2 0h.8m-5.2 .1h.8m.1 0h.8m.4 0h.8m.6 0h.8m-5.3 .1h.8m4.2 0h.8m-2.5 .1h.8m-.4 0h.8m-.2 0h.8m1.9 0h.8m1.9 0h.8m-10.7 .1h.8m4.3 0h.8m.5 0h.8m.1 0h.8m-9.8 .1h.8m1.4 0h.8m1 0h.8m.4 0h.8m-4.7 .1h.8m1.6 0h.8m.2 0h.8m-.5 0h.8m3.6 0h.8m-6.2 .1h.8m3 0h.8m-2.3 .1h.8m-.4 0h.8m.3 0h.8m-2.6 .1h.8m.2 0h.8m-8.2 .1h.8m6.5 0h.8m-1.7 .1h.8m2.4 0h.8m-.1 0h.8m-7.3 .1h.8m2.7 0h.8m-.7 0h.8m-.8 0h.8m-5 .1h.8m3.8 0h.8m-5 .1h.8m1.8 0h.8m-2.5 .1h.8m-1.1 .1h.8m0 0h.8m.9 0h.8m.2 0h.8m-.7 0h.8m2.4 0h.8m-6.1 .1h.8m-.7 0h.8m1.2 0h.8m.8 0h.8m-10.6 .1h.8m2.2 0h.8m3.3 0h.8m0 0h.8m-4.9 .1h.8m5.2 0h.8m-5 .2h.8m1.1 0h.8m-11.1 .2h.8m5.7 0h.8m-.3 0h.8m1 0h.8m2 0h.8m3.5 0h.8m-8.7 .1h.8m-.4 0h.8m-2.1 .2h.8m.6 0h.8m.4 0h.8m-.7 0h.8m-6.4 .1h.8m-.1 0h.8m.9 0h.8m1.3 0h.8m1.1 0h.8m.3 0h.8m2.7 0h.8m-9.7 .1h.8m2 0h.8m-.8 0h.8m-.5 0h.8m-2.7 .1h.8m-.2 0h.8m-1.3 .1h.8m-.3 0h.8m.1 0h.8m-.4 0h.8m1.3 0h.8m-.5 0h.8m1.5 0h.8m-10.6 .1h.8m.4 0h.8m-.3 0h.8m7.1 0h.8m-9.7 .1h.8m.3 0h.8m.3 0h.8m2.5 .1h.8m-4 .1h.8m.7 0h.8m-6.7 .1h.8m1.4 0h.8m1.2 0h.8m.9 0h.8m1.8 0h.8m-7.4 .1h.8m2.8 0h.8m.8 0h.8m.7 0h.8m-.3 0h.8m-.5 0h.8m-6.3 .1h.8m.5 0h.8m1.9 0h.8m-.4 0h.8m-13.7 .1h.8m8.6 0h.8m.2 0h.8m-.4 0h.8m-.3 0h.8m1.4 0h.8m4.6 0h.8m-11 .1h.8m1.3 0h.8m-.6 0h.8m.4 0h.8m-.6 0h.8m2.7 0h.8m-7.9 .1h.8m1.5 0h.8m-8 .1h.8m4.4 0h.8m-.6 0h.8m0 0h.8m-.1 .1h.8m.8 0h.8m.9 0h.8m-4.1 .1h.8m.4 0h.8m-.7 0h.8m1.3 0h.8m-.4 0h.8m-13.5 .1h.8m.9 0h.8m3 0h.8m1.6 0h.8m-7 .1h.8m4.4 0h.8m1.8 0h.8m.8 0h.8m-6.4 .1h.8m2.2 .1h.8m2.6 0h.8m-3.9 .1h.8m-5 .1h.8m.9 0h.8m-2.5 .1h.8m.8 0h.8m.3 0h.8m-8 .1h.8m10.3 0h.8m.2 0h.8m1.5 0h.8m-5.8 .1h.8m-.1 0h.8m-5.1 .1h.8m-.7 0h.8m2.5 .1h.8m.9 0h.8m.1 0h.8m-4.3 .1h.8m4.7 0h.8m-15.9 .2h.8m6 0h.8m-.1 0h.8m-.3 0h.8m2.4 .1h.8m2.5 0h.8m2.6 0h.8m-12.6 .1h.8m2.3 0h.8m-3.2 .1h.8m3 0h.8m-6.6 .1h.8m4 0h.8m.9 0h.8m-5.7 .1h.8m1.6 0h.8m2.4 0h.8m-.7 0h.8m-4.7 .1h.8m2.9 0h.8m-.5 0h.8m.5 0h.8m1.8 .2h.8m-4.8 .1h.8m-.6 0h.8m-3.7 .1h.8m.1 0h.8m.7 0h.8m-7.3 .1h.8m3.1 .1h.8m-3.8 .2h.8m.4 0h.8m4.5 0h.8m-6.7 .1h.8m.8 0h.8m-3.7 .1h.8m2.9 0h.8m0 0h.8m2 0h.8m-5.5 .1h.8m-.5 0h.8m-.7 0h.8m2.5 0h.8m-.4 0h.8m-8.5 .1h.8m.1 0h.8m2.4 0h.8m-.1 0h.8m1.1 0h.8m2.2 0h.8m-7.8 .1h.8m3.3 .1h.8m2.4 0h.8m-8.8 .1h.8m3.1 0h.8m-.8 0h.8m-6.1 .1h.8m1.7 0h.8m-.6 0h.8m-1 .1h.8m2.7 0h.8m2.5 .1h.8m.8 0h.8m-6.1 .1h.8m1.2 0h.8m-16 .1h.8m3.5 0h.8m3.2 0h.8m-.1 0h.8m.2 0h.8m2.8 0h.8m-5 .1h.8m2.8 0h.8m.3 0h.8m.6 0h.8m-.4 0h.8m-5.9 .1h.8m-6.4 .1h.8m-.7 0h.8m.9 0h.8m6.4 0h.8m-.4 0h.8m-5.7 .1h.8m.8 0h.8m.3 0h.8m-.4 0h.8m-6 .1h.8m4.3 .1h.8m-2.2 .1h.8m.8 0h.8m-6.1 .1h.8m.5 0h.8m.5 .1h.8m1.2 0h.8m4 0h.8m-10.1 .1h.8m1.2 0h.8m5.6 0h.8m-8.1 .1h.8m-.5 0h.8m.9 0h.8m1.6 0h.8m-3.4 .1h.8m.4 0h.8m3.8 0h.8m-6.2 .1h.8m-.6 0h.8m0 0h.8m-1.1 .2h.8m-9 .1h.8m7.7 0h.8m.1 .1h.8m.1 0h.8m-6 .1h.8m.7 .1h.8m0 0h.8m2.6 0h.8m-4.2 .1h.8m-6.4 .1h.8m8.3 .1h.8m5.2 0h.8m-18 .1h.8m5.4 0h.8m1.8 0h.8m-5.7 .1h.8m3.5 0h.8m-.5 0h.8m6.6 0h.8m-11.9 .1h.8m-.7 .1h.8m-.2 0h.8m.7 0h.8m1.5 0h.8m-.6 .1h.8m-3.2 .1h.8m.4 0h.8m-.4 0h.8m-.3 0h.8m-1 .2h.8m-4 .2h.8m1.5 .1h.8m-3.9 .1h.8m.1 0h.8m6 0h.8m-1.4 .1h.8m.3 0h.8m-8.6 .1h.8m.6 0h.8m-.7 0h.8m6.1 0h.8m-6.2 .1h.8m-5.5 .1h.8m1.8 0h.8m.8 0h.8m2.2 0h.8m-8.6 .1h.8m1.1 0h.8m1 0h.8m2.3 0h.8m.5 0h.8m-6.4 .1h.8m-.5 0h.8m3.2 0h.8m.3 0h.8m-9 .1h.8m2 0h.8m.3 .1h.8m-.2 0h.8m-.3 0h.8m-.3 0h.8m-1.4 .1h.8m.3 0h.8m-.8 0h.8m-.2 0h.8m-7.8 .1h.8m3.6 0h.8m1.9 .1h.8m-.4 0h.8m-3.6 .1h.8m-.6 0h.8m-1.8 .1h.8m-.7 .1h.8m-4.9 .1h.8m5.1 0h.8m-8 .1h.8m.7 .1h.8m8.2 0h.8m-2.2 .1h.8m-1.3 .1h.8m-.6 0h.8m-6.4 .1h.8m.4 0h.8m1.9 0h.8m-.4 0h.8m-1.4 .2h.8m-2.1 .1h.8m-.6 0h.8m-5.7 .2h.8m1.5 0h.8m2.6 .1h.8m1.2 0h.8m-5.3 .1h.8m-.3 0h.8m2.9 0h.8m-2.9 .1h.8m-.5 0h.8m-.3 0h.8m-2.1 .1h.8m-.5 0h.8m4.7 0h.8m-4.4 .1h.8m-3.5 .1h.8m1.8 0h.8m-1.3 .2h.8m.7 0h.8m1.7 0h.8m-11.2 .2h.8m3.6 0h.8m.1 0h.8m2.1 .1h.8m-6.2 .1h.8m2 0h.8m-.6 0h.8m-4.2 .1h.8m-6.2 .2h.8m5.5 0h.8m-.3 0h.8m-7.2 .1h.8m6.3 .1h.8m2.2 0h.8m.8 .2h.8m1.3 0h.8m-7.6 .1h.8m-4 .1h.8m1.7 0h.8m2.9 0h.8m-7.8 .1h.8m2.5 0h.8m2 0h.8m2 0h.8m-3.3 .1h.8m-2.3 .1h.8m-.4 0h.8m1.6 0h.8m-7.4 .2h.8m1.7 .3h.8m.8 0h.8m-.6 0h.8m.7 0h.8m0 0h.8m-7.6 .1h.8m6.5 0h.8m-8.4 .1h.8m4.4 0h.8m-1.4 .1h.8m-4.6 .1h.8m3.9 0h.8m-1.9 .1h.8m-1.1 .1h.8m-.3 0h.8m-.3 0h.8m-1.2 .2h.8m2.8 0h.8m-7.2 .2h.8m5.1 0h.8m-1.7 .1h.8m1.6 .1h.8m-6.1 .1h.8m.7 .2h.8m2.8 0h.8m-6.2 .1h.8m-.2 0h.8m-6 .1h.8m-.8 0h.8m11.8 .1h.8m-9.9 .1h.8m.4 .1h.8m.2 .1h.8m-.7 0h.8m-1.8 .1h.8m-5.2 .1h.8m-1.8 .1h.8m7.2 0h.8m3.1 .1h.8m-9.9 .1h.8m3.5 0h.8m-7.3 .2h.8m2.4 .2h.8m-5.4 .1h.8m2.8 0h.8m-.7 0h.8m3.8 .1h.8m-7 .1h.8m-.1 .1h.8m5 0h.8m-6 .1h.8m.2 0h.8m-.6 .1h.8m2.8 0h.8m-5.7 .1h.8m.6 .1h.8m-3 .1h.8m2.2 .1h.8m1.8 0h.8m-.7 0h.8m2.2 .2h.8m-14.3 .3h.8m3.1 0h.8m6.7 .3h.8m-6.2 .1h.8m-.5 .2h.8m1.9 .1h.8m-.2 .3h.8m-.8 0h.8m-.3 0h.8m2.2 .2h.8m-6.4 .2h.8m-.7 0h.8m-5.6 .1h.8m6.5 0h.8m-1 .1h.8m1 0h.8m2 .2h.8m-2.6 .2h.8m-8.9 .1h.8m5 .1h.8m-6.3 .2h.8m-.2 0h.8m-4.1 .1h.8m10.4 0h.8m-6.2 .1h.8m.2 .1h.8m-6.2 .1h.8m6.9 0h.8m-5.6 .1h.8m-.8 .7h.8m1.8 0h.8m-3.4 .1h.8m1.6 0h.8m-4.6 .3h.8m-.1 0h.8m3.9 .2h.8m-5.7 .1h.8m-2.7 .1h.8m-3.4 .3h.8m4.6 .5h.8m-3.7 .3h.8m-1.8 .2h.8m-.1 .2h.8m2 .3h.8m5.2 0h.8m-7 .3h.8m-6.2 .6h.8m1 0h.8m4.9 0h.8m.8 0h.8m-2.9 .1h.8m-1.8 .2h.8m-2.1 .1h.8m-1.4 .3h.8m0 0h.8m4.1 .1h.8m-1.8 .1h.8m-3.4 .1h.8m-3.9 .1h.8m4.6 .2h.8m-3.3 .3h.8m-3.5 .3h.8m3.9 .5h.8m1 0h.8m-4.9 .7h.8m-10.5 .2h.8m12.8 0h.8m-10.7 .3h.8m4.4 .2h.8m-1.2 .1h.8m4.4 0h.8m-5.5 .1h.8m0 .6h.8m0 .2h.8m-6 1.5h.8m1.2 .1h.8m-1.7 .5h.8m-1.4 1.4h.8m2.1 .1h.8m-6 .1h.8m3.7 .3h.8m-6.7 .2h.8m3.6 .3h.8m6.4 .6h.8m-8.6 2.9h.8m2.8 1.6h.8m-2.2 .3h.8" stroke="#1a1aff" stroke-width=".8"/>
<defs><radialGradient id="dg6"><stop offset="0" stop-color="#f04020" stop-opacity="1"/><stop offset="0.05" stop-color="#e8e030" stop-opacity="1"/><stop offset="0.14" stop-color="#90f040" stop-opacity="1"/><stop offset="0.34" stop-color="#40ee60" stop-opacity="1"/><stop offset="0.46" stop-color="#30e0e0" stop-opacity="1"/><stop offset="0.56" stop-color="#2090ff" stop-opacity="1"/><stop offset="0.68" stop-color="#1a1aff" stop-opacity="1"/><stop offset="0.86" stop-color="#1a1aff" stop-opacity="0.55"/><stop offset="1" stop-color="#1a1aff" stop-opacity="0"/></radialGradient></defs><ellipse cx="170.5" cy="629" rx="7.0" ry="40.0" fill="url(#dg6)" transform="rotate(10 170.5 629)"/>
<path d="M178.8 671.2h.8m-12.7 1h.8m8.2 0h.8m-8.7 .1h.8m1.6 0h.8m-6.5 .1h.8m11.7 .4h.8m-12.7 .1h.8m6.3 .1h.8m-4.3 .1h.8m-1.9 .2h.8m1.7 .1h.8m-3.7 .1h.8m6.7 0h.8m-3 .1h.8m1.7 0h.8m-9 .1h.8m-6.8 .1h.8m6 0h.8m-.3 0h.8m4.3 0h.8m1.7 0h.8m-15.6 .1h.8m6 .3h.8m2.5 0h.8m3.2 0h.8m.4 0h.8m-10.1 .1h.8m-.6 0h.8m3.6 0h.8m-.2 0h.8m.2 0h.8m5.7 0h.8m-22.2 .1h.8m2.7 0h.8m3.7 0h.8m6.1 0h.8m1.7 0h.8m-15.2 .1h.8m3.3 0h.8m3.6 0h.8m-.8 0h.8m3.8 0h.8m4 0h.8m-14.2 .2h.8m3 0h.8m1.9 0h.8m-9.9 .1h.8m1 0h.8m1.2 0h.8m2.4 0h.8m.7 0h.8m-11 .1h.8m2.2 0h.8m9.5 0h.8m-6.7 .1h.8m.1 0h.8m-.4 0h.8m.1 0h.8m.1 0h.8m-.6 0h.8m8.5 0h.8m-17.4 .1h.8m1.9 0h.8m-.3 0h.8m8.1 0h.8m-12.6 .1h.8m.1 0h.8m4.2 0h.8m-6.3 .1h.8m-.6 0h.8m1 0h.8m.1 0h.8m-.5 0h.8m2.2 0h.8m-8.8 .1h.8m4.8 0h.8m2.6 0h.8m-9.8 .1h.8m1 0h.8m7.7 0h.8m-18.1 .1h.8m3.4 0h.8m-.7 0h.8m-.1 0h.8m2.5 0h.8m.6 0h.8m-.1 0h.8m-.4 0h.8m-6.6 .1h.8m.6 0h.8m1.4 0h.8m.1 0h.8m.7 0h.8m-.5 0h.8m1.2 0h.8m-5.7 .1h.8m-.7 0h.8m1.2 0h.8m2.3 0h.8m.5 0h.8m-3.9 .1h.8m5.3 0h.8m-11 .1h.8m5.5 0h.8m.9 .1h.8m.6 0h.8m-7.6 .1h.8m.1 0h.8m5.6 0h.8m.2 0h.8m-16 .1h.8m6.4 0h.8m-.8 0h.8m-.7 0h.8m4.3 0h.8m6.4 0h.8m-5.5 .1h.8m-14.1 .1h.8m-1.1 .1h.8m-.5 0h.8m5.1 0h.8m-.8 0h.8m.3 0h.8m0 0h.8m3.5 0h.8m-9 .1h.8m.8 0h.8m-.1 0h.8m3.1 0h.8m-.5 0h.8m2.4 0h.8m1 0h.8m-17.6 .1h.8m1.9 0h.8m6.1 0h.8m-.5 0h.8m1.5 0h.8m-14.7 .1h.8m4.7 0h.8m-.6 0h.8m5.7 0h.8m-10.3 .1h.8m3.6 0h.8m7.4 0h.8m-2.2 .1h.8m-6.2 .1h.8m-8.5 .1h.8m3.9 0h.8m0 0h.8m-.4 0h.8m5.6 0h.8m1 .1h.8m-11.7 .1h.8m2.9 0h.8m-2.8 .1h.8m-.3 0h.8m.5 0h.8m-.7 0h.8m1.2 0h.8m-4 .1h.8m-.5 0h.8m.5 0h.8m-.5 0h.8m4.1 0h.8m-7.5 .1h.8m7.9 .1h.8m-9 .1h.8m-8.7 .1h.8m5 .1h.8m5.3 0h.8m-10.1 .1h.8m11.3 0h.8m-5.1 .8h.8m-4.7 .3h.8m3.6 .3h.8m0 .1h.8m-3.5 .2h.8m3 .7h.8m-5.8 .2h.8" stroke="#2020e0" stroke-width=".8"/>
<rect x="138.4" y="582.9" width="99.1" height="95.2" fill="none" stroke="#111" stroke-width="1.4"/>
<rect x="152" y="585.4" width="34.6" height="91.4" fill="none" stroke="#222" stroke-width="1"/>
<text x="207.5" y="597.6" font-size="11.92" fill="#1a1a1a" stroke="#1a1a1a" stroke-width="0.25">HD</text>
<line x1="182.6" y1="604.7" x2="242.0" y2="604.7" stroke="#111" stroke-width="1"/><path d="M247.5,604.7L241.5,607.7L241.5,601.7Z" fill="#111"/>
<text x="135.8" y="678.6" font-size="11.92" fill="#1a1a1a" stroke="#1a1a1a" stroke-width="0.25" transform="rotate(-90 135.8 678.6)">SSC-A</text>
<text x="133.6" y="690.4" font-size="12.13" fill="#1a1a1a" stroke="#1a1a1a" stroke-width="0.25">CD45-PerCP/Cy5.5</text>
<path d="M281.6 612.5h.8m-.9 .3h.8m3.1 .9h.8m-2.4 .3h.8m-1.6 .1h.8m-.1 0h.8m-5.7 .4h.8m4.2 0h.8m-4 .1h.8m1.7 .2h.8m-2.8 .1h.8m1.6 .1h.8m-2.5 .1h.8m1.8 .4h.8m.3 .4h.8m-1.3 .2h.8m1 0h.8m-9.8 .7h.8m2 .2h.8m-1.2 .1h.8m3.4 1h.8m-7.3 .4h.8m3.6 .1h.8m1.8 .4h.8m-3.7 .4h.8m-2.6 .4h.8m1.4 0h.8m1.2 .1h.8m-3.9 .3h.8m2.1 0h.8m-9.1 .1h.8m5.4 .6h.8m-.7 0h.8m-.6 .1h.8m2.3 .6h.8m-6.3 .1h.8m-.9 .1h.8m1.6 .5h.8m-3.8 1h.8m.2 .2h.8m-.4 0h.8m-.5 .6h.8m-1.8 .2h.8m2.7 .1h.8m-3.7 .5h.8m-2.2 .3h.8m-.1 0h.8m-2.2 .2h.8m1.9 .8h.8m.4 .1h.8m-2.4 .6h.8m-5.4 .2h.8m6.7 0h.8m-4.7 .3h.8m-.6 .2h.8m2.3 .1h.8m-1.2 .1h.8m-.7 .2h.8m-.7 0h.8m-4.7 .2h.8m2.8 .6h.8m.7 .2h.8m-4 .1h.8m-.1 .9h.8m.3 .3h.8m0 0h.8m-6.7 .1h.8m2.2 0h.8m-2.5 .4h.8m.1 0h.8m.2 .5h.8m.9 0h.8m-2.1 .1h.8m-.9 .2h.8m-.1 0h.8m-2.9 .4h.8m4.4 .3h.8m-7.4 .6h.8m6.2 0h.8m-3.3 .7h.8m-3.8 .2h.8m1.1 .2h.8m-4.4 .3h.8m2.8 .1h.8m-5.3 .5h.8m3.9 .4h.8m-.6 .1h.8m-2.4 .4h.8m1.5 0h.8m-4.9 .1h.8m1.4 0h.8m-2.5 .3h.8m4.6 0h.8m-5.1 .1h.8m1.7 .1h.8m-3 .1h.8m-.5 0h.8m1.6 0h.8m-2.3 .1h.8m1.5 0h.8m-5.3 .4h.8m-1.2 .9h.8m.9 0h.8m-2 .1h.8m-.2 .5h.8m-1.1 .4h.8m3 0h.8m-5.1 .3h.8m-.3 .5h.8m-.7 2.2h.8m-1.2 .1h.8m2 .2h.8m-5.3 1h.8m-1.1 .1h.8m.7 0h.8m-.1 0h.8m-4.6 1.1h.8m2.9 0h.8m2.9 .2h.8m1.6 0h.8m-9.4 .1h.8m5.1 .2h.8m-6.1 .1h.8m-.2 0h.8m4.4 .3h.8m-4.8 .2h.8m-5.1 .1h.8m2.1 .6h.8m-.6 0h.8m1.8 .2h.8m3.1 .1h.8m-7.1 .4h.8m3.7 .1h.8m-5.9 .2h.8m2.6 .6h.8m-1 .2h.8m-5.7 .4h.8m1 0h.8m-1.7 .6h.8m3.4 0h.8m-4.9 .5h.8m2.1 0h.8m-.6 .3h.8m-3.6 .1h.8m3.2 .4h.8m-2.8 .1h.8m-5.8 .1h.8m5.4 0h.8m-6.3 .5h.8m3.1 0h.8m-3.9 .3h.8m1.3 .3h.8m-4 1.1h.8m8.1 .4h.8m-4.6 .1h.8m-1 .6h.8m-1.6 .2h.8m.1 .1h.8m-5.8 .1h.8m7 .2h.8m-5.6 .1h.8m-.9 .2h.8m-1.6 .2h.8m4.1 0h.8m-4.3 .3h.8m-.6 0h.8m1 .6h.8m1.3 0h.8m-5.5 .3h.8m3.5 .2h.8" stroke="#6060f0" stroke-width=".8"/>
<path d="M278.4 649.1h.8m3.3 1.3h.8m-5 .8h.8m2 .1h.8m-1.4 .2h.8m-.1 0h.8m.7 .3h.8m-9.4 .1h.8m1 0h.8m3.6 0h.8m-3.5 .2h.8m-1.1 .2h.8m-3.9 .3h.8m5.9 0h.8m.2 .1h.8m-3.2 .1h.8m.2 0h.8m-2.8 .1h.8m1 0h.8m-4.3 .1h.8m.3 0h.8m-4.8 .1h.8m6.1 0h.8m.1 0h.8m-6.5 .2h.8m2.1 0h.8m-.6 0h.8m0 .1h.8m1.5 0h.8m-3.7 .1h.8m-.1 0h.8m.3 0h.8m-.4 0h.8m-6.3 .1h.8m2.1 0h.8m-.8 .1h.8m-.7 0h.8m-3.7 .1h.8m.7 0h.8m-.5 0h.8m1.6 0h.8m0 0h.8m-4.4 .1h.8m.9 0h.8m-3.2 .1h.8m2.6 .1h.8m-.3 0h.8m-5.7 .1h.8m2.1 0h.8m-5.7 .1h.8m2.7 0h.8m1.7 0h.8m0 0h.8m-5.8 .1h.8m2.4 0h.8m3.4 0h.8m-7.7 .1h.8m1.7 0h.8m1.5 0h.8m-.2 0h.8m-9.8 .1h.8m.8 0h.8m3.8 0h.8m-5.1 .1h.8m1.7 0h.8m2 0h.8m-4.5 .1h.8m.2 0h.8m-2.9 .1h.8m3 0h.8m-3.4 .1h.8m1.3 0h.8m-4.5 .1h.8m.4 0h.8m-.7 0h.8m0 0h.8m-.3 0h.8m-.8 0h.8m-.2 0h.8m2 0h.8m-.1 0h.8m-5 .1h.8m.7 0h.8m-.4 0h.8m.1 0h.8m-.1 0h.8m.1 0h.8m-8.8 .1h.8m.6 0h.8m.3 0h.8m-.1 .1h.8m1.9 0h.8m3.9 0h.8m-5.5 .1h.8m-.4 0h.8m1.3 0h.8m-8.3 .1h.8m.4 0h.8m.4 0h.8m-3.2 .1h.8m1.6 0h.8m-.4 0h.8m-.5 0h.8m-3.8 .1h.8m.7 0h.8m-1.7 .1h.8m.3 0h.8m2.3 0h.8m-.6 0h.8m-7.5 .1h.8m-.1 0h.8m.3 .1h.8m0 0h.8m.4 0h.8m1 0h.8m-.7 0h.8m.1 0h.8m-4.5 .1h.8m1.4 .1h.8m.6 .1h.8m-.3 0h.8m-5 .1h.8m2.7 0h.8m3 0h.8m-6.1 .2h.8m-.7 0h.8m0 0h.8m.9 0h.8m2.3 0h.8m-7.9 .1h.8m0 0h.8m0 0h.8m-.6 0h.8m1.3 0h.8m-.6 0h.8m5.6 0h.8m-14.1 .1h.8m2.5 0h.8m.4 0h.8m-.6 0h.8m-3.7 .1h.8m2.8 0h.8m1.4 0h.8m-8.3 .1h.8m3.7 0h.8m-.2 0h.8m1.3 0h.8m-8.2 .1h.8m2.8 0h.8m3.7 0h.8m-7.1 .2h.8m2.4 0h.8m-.3 .2h.8m-.6 0h.8m-.6 0h.8m-3.2 .1h.8m-.8 0h.8m4.6 0h.8m-8.3 .1h.8m5.8 0h.8m-.1 0h.8m-3.8 .1h.8m-2.2 .1h.8m-.3 0h.8m0 .1h.8m-3 .1h.8m-.7 0h.8m1.3 0h.8m-3.1 .1h.8m2.2 0h.8m-.2 0h.8m-6.3 .2h.8m-.9 .1h.8m4.2 0h.8m-8 .2h.8m2.3 0h.8m.5 .2h.8m6.2 0h.8m-7 .1h.8m-3.8 .5h.8" stroke="#2a2af5" stroke-width=".8"/>
<path d="M299.6 652.1h.7m-4.2 .1h.7m-4.7 .4h.7m-4.4 .7h.7m6.6 .2h.7m.8 0h.7m-3.6 .2h.7m2.2 .9h.7m3.5 0h.7m-.2 .1h.7m-9.3 .1h.7m8.2 .1h.7m-11.1 .1h.7m13.5 0h.7m-5.7 .1h.7m-10 .1h.7m-1.2 .1h.7m-3.8 .1h.7m2.8 0h.7m14.2 0h.7m-15.7 .1h.7m6.4 0h.7m-7.6 .1h.7m0 .2h.7m8.6 0h.7m-5.9 .2h.7m-7.5 .2h.7m4 0h.7m-.2 0h.7m-.3 .1h.7m-7.9 .1h.7m8 0h.7m-2 .3h.7m-1.7 .1h.7m.5 0h.7m1.6 .2h.7m-.6 0h.7m-3 .2h.7m5.7 0h.7m.3 0h.7m-12 .3h.7m10.6 .1h.7m-12.6 .1h.7m4.7 0h.7m1.7 0h.7m1.5 .2h.7m-6.4 .3h.7m-7.6 .1h.7m5.5 0h.7m-3.1 .1h.7m.9 .1h.7m-3.4 .1h.7m6.2 .1h.7m-3.6 .2h.7m-.4 .4h.7m3.5 .1h.7m-6.2 .2h.7m3 .1h.7m.4 .4h.7m-3.2 .4h.7" stroke="#5a5af0" stroke-width=".7"/>
<path d="M313.8 645.7h.8m16.6 0h.8m-15.2 .5h.8m13.2 1.1h.8m2.2 .2h.8m-3.1 .1h.8m-9.8 .1h.8m10.5 .2h.8m-1.3 .1h.8m-7.3 .1h.8m-5.2 .1h.8m4.9 .3h.8m9 0h.8m-23.6 .4h.8m7.3 0h.8m7.6 0h.8m-5.5 .3h.8m10.5 0h.8m-17.9 .2h.8m.1 0h.8m1.6 0h.8m0 0h.8m1 0h.8m6.3 .2h.8m-5.9 .1h.8m-17 .1h.8m25.3 0h.8m-14.6 .1h.8m4.1 0h.8m-16.3 .1h.8m9.1 0h.8m2.2 .1h.8m-8.7 .1h.8m7.3 0h.8m-15.3 .1h.8m5.9 0h.8m11 0h.8m6.4 .1h.8m-15.9 .1h.8m1.8 0h.8m11.7 0h.8m-21.1 .1h.8m11.8 0h.8m3.7 0h.8m-12.6 .1h.8m4.3 0h.8m2.2 0h.8m4 0h.8m-18.7 .1h.8m-2.1 .1h.8m1.2 0h.8m16.2 0h.8m-13.9 .1h.8m.9 0h.8m4.4 0h.8m-8.7 .1h.8m-.5 0h.8m1.2 0h.8m-6.1 .1h.8m1.3 0h.8m.6 0h.8m3.7 0h.8m-.3 0h.8m0 0h.8m.7 0h.8m.8 0h.8m-3.8 .1h.8m1.8 0h.8m-.6 0h.8m.6 0h.8m-31.7 .1h.8m16.2 0h.8m2.1 0h.8m6.3 0h.8m-13.9 .1h.8m3.4 0h.8m2.4 0h.8m2.4 0h.8m1.1 0h.8m3.6 0h.8m-18.3 .1h.8m0 0h.8m4.9 0h.8m.3 0h.8m10.9 0h.8m-14.4 .1h.8m-7.5 .1h.8m7.2 0h.8m1.5 0h.8m2.3 0h.8m4.3 0h.8m-25.6 .1h.8m15.4 0h.8m-2.8 .1h.8m.2 0h.8m-.6 0h.8m5.3 0h.8m2.9 0h.8m.6 0h.8m-20.1 .1h.8m1.9 .1h.8m3.1 0h.8m2 0h.8m1.5 0h.8m-24.1 .1h.8m9.8 0h.8m2.1 0h.8m1.7 0h.8m6.1 0h.8m-.1 0h.8m-14.3 .1h.8m3.4 0h.8m-.7 0h.8m3.4 0h.8m1.3 0h.8m3.7 0h.8m9.8 0h.8m.2 0h.8m-22.3 .1h.8m.5 0h.8m1.4 0h.8m-.5 0h.8m-.1 0h.8m.7 0h.8m1.4 0h.8m3.5 0h.8m-13 .1h.8m2.4 0h.8m.4 0h.8m4.3 0h.8m-.1 0h.8m1.3 0h.8m.3 0h.8m-26.2 .1h.8m.6 0h.8m4 0h.8m11.1 0h.8m-.4 0h.8m-.7 0h.8m-.2 0h.8m2.8 0h.8m-16.8 .1h.8m-.4 0h.8m1.8 0h.8m2.4 0h.8m5.2 0h.8m4.3 0h.8m12 0h.8m-27.8 .1h.8m1.4 0h.8m3.6 0h.8m2.2 0h.8m-.3 0h.8m5.3 0h.8m-18.7 .1h.8m10.5 0h.8m3 0h.8m-.7 0h.8m.7 0h.8m7.9 0h.8m-31 .1h.8m2.2 0h.8m7.8 0h.8m-.5 0h.8m6.1 0h.8m5.2 0h.8m-21.5 .1h.8m3.6 0h.8m2.7 0h.8m-.6 0h.8m2.2 0h.8m.9 0h.8m3.2 0h.8m-.4 0h.8m-.5 0h.8m1.5 0h.8m1.1 0h.8m-28.2 .1h.8m7.4 0h.8m2.4 0h.8m1.6 0h.8m-1.8 .1h.8m1.2 0h.8m3.9 0h.8m-14.1 .1h.8m1.1 0h.8m-.6 0h.8m3.9 0h.8m.8 0h.8m1.2 0h.8m-.7 0h.8m-.7 0h.8m1.2 0h.8m.2 0h.8m3.1 0h.8m-21.2 .1h.8m3.5 0h.8m1.1 0h.8m-.5 0h.8m10.6 0h.8m1 0h.8m2 0h.8m-18.2 .1h.8m4.6 0h.8m-.2 0h.8m1.1 0h.8m0 0h.8m3.2 0h.8m-.2 0h.8m-.2 0h.8m0 0h.8m.7 0h.8m7.7 0h.8m-23.3 .1h.8m2.2 0h.8m5.6 0h.8m-.6 0h.8m6.3 0h.8m4.3 0h.8m-31.4 .1h.8m3.3 0h.8m6.9 0h.8m2.2 0h.8m1.3 0h.8m-21.2 .1h.8m6 0h.8m3.2 0h.8m4.3 0h.8m.4 0h.8m-.7 0h.8m.6 0h.8m0 0h.8m-.7 0h.8m.8 0h.8m0 0h.8m4.8 0h.8m-31.5 .1h.8m15.7 0h.8m2.5 0h.8m.4 0h.8m0 0h.8m6.3 0h.8m4.9 0h.8m-30.9 .1h.8m5.5 0h.8m3.8 0h.8m3 0h.8m1.6 0h.8m.7 0h.8m-.3 0h.8m-.7 0h.8m.6 0h.8m1.6 0h.8m-.5 0h.8m-.6 0h.8m-.7 0h.8m-.7 0h.8m1.2 0h.8m6.1 0h.8m-25.6 .1h.8m.8 0h.8m1.5 0h.8m.3 0h.8m.8 0h.8m.9 0h.8m7.3 0h.8m5.6 0h.8m-23.8 .1h.8m-.4 0h.8m-.1 0h.8m-.2 0h.8m.6 0h.8m3.7 0h.8m1.2 0h.8m.2 0h.8m6.1 0h.8m.3 0h.8m-17.7 .1h.8m-.5 0h.8m5.1 0h.8m.8 0h.8m-.3 0h.8m1.3 0h.8m1.4 0h.8m.4 0h.8m-.8 0h.8m-.6 0h.8m-.6 0h.8m1 0h.8m-.6 0h.8m-.6 0h.8m-.7 0h.8m3.6 0h.8m-27.6 .1h.8m.2 0h.8m0 0h.8m3.4 0h.8m1.1 0h.8m5.5 0h.8m-.2 0h.8m-.2 0h.8m0 0h.8m0 0h.8m-.5 0h.8m2.5 0h.8m-.3 0h.8m.1 0h.8m-22.3 .1h.8m2.2 0h.8m.5 0h.8m.1 0h.8m1.2 0h.8m5.4 0h.8m2.8 0h.8m2.5 0h.8m.9 0h.8m1.8 0h.8m-26 .1h.8m.7 0h.8m1 0h.8m0 0h.8m-.5 0h.8m-.4 0h.8m2.7 0h.8m.3 0h.8m.6 0h.8m.1 0h.8m-.5 0h.8m-.7 0h.8m1.8 0h.8m.3 0h.8m1.9 0h.8m-15 .1h.8m.1 0h.8m.8 0h.8m-.7 0h.8m5 0h.8m.7 0h.8m-.2 0h.8m3.6 0h.8m-.7 0h.8m-.5 0h.8m7.9 0h.8m-35.7 .1h.8m4.7 0h.8m8.7 0h.8m-.5 0h.8m2.7 0h.8m-.2 0h.8m1 0h.8m1.7 0h.8m-.4 0h.8m8.4 0h.8m2.5 0h.8m-33.6 .1h.8m6.9 0h.8m.2 0h.8m0 0h.8m-.7 0h.8m1.7 0h.8m.5 0h.8m2.5 0h.8m.5 0h.8m.2 0h.8m2 0h.8m4.6 0h.8m-21.7 .1h.8m.9 0h.8m3.3 0h.8m.5 0h.8m.9 0h.8m1.2 0h.8m-.7 0h.8m-.1 0h.8m.1 0h.8m.2 0h.8m.8 0h.8m1.6 0h.8m5.5 0h.8m-24.4 .1h.8m-.6 0h.8m2.1 0h.8m.2 0h.8m2.1 0h.8m1 0h.8m1.3 0h.8m-.3 0h.8m.4 0h.8m-.7 0h.8m-.7 0h.8m-.5 0h.8m.8 0h.8m1.1 0h.8m-.2 0h.8m.7 0h.8m5.6 0h.8m-29.4 .1h.8m5.1 0h.8m2.9 0h.8m.7 0h.8m1.3 0h.8m.7 0h.8m-.5 0h.8m1.4 0h.8m.8 0h.8m0 0h.8m-.6 0h.8m2.6 0h.8m-.6 0h.8m-30.5 .1h.8m10.1 0h.8m-.6 0h.8m2 0h.8m-.6 0h.8m-.6 0h.8m.3 0h.8m.3 0h.8m.8 0h.8m-.5 0h.8m3.1 0h.8m1.9 0h.8m-.3 0h.8m0 0h.8m.5 0h.8m.8 0h.8m-18.8 .1h.8m-.2 0h.8m-.5 0h.8m2.2 0h.8m1.6 0h.8m-.1 0h.8m-.5 0h.8m.7 0h.8m10.8 0h.8m-26.7 .1h.8m-.3 0h.8m4.5 0h.8m3.9 0h.8m-.3 0h.8m3.2 0h.8m1.6 0h.8m1.1 0h.8m-.3 0h.8m3.2 0h.8m.2 0h.8m-27.1 .1h.8m5.2 0h.8m.6 0h.8m.5 0h.8m1.5 0h.8m-.3 0h.8m1.2 0h.8m0 0h.8m-.6 0h.8m-.1 0h.8m1.3 0h.8m-.7 0h.8m4.7 0h.8m2.2 0h.8m-.4 0h.8m4.6 0h.8m-24.5 .1h.8m1 0h.8m-.2 0h.8m-.8 0h.8m.6 0h.8m.3 0h.8m.7 0h.8m-.5 0h.8m1.1 0h.8m.9 0h.8m.4 0h.8m0 0h.8m-.3 0h.8m.2 0h.8m2.4 0h.8m-.7 0h.8m-29.1 .1h.8m4.3 0h.8m4.9 0h.8m1 0h.8m-.5 0h.8m8.1 0h.8m1.3 0h.8m1.1 0h.8m.4 0h.8m-.7 0h.8m-.2 0h.8m-.2 0h.8m2.8 0h.8m.9 0h.8m-27.9 .1h.8m2.2 0h.8m3.7 0h.8m4.8 0h.8m5.6 0h.8m1.9 0h.8m.6 0h.8m.8 0h.8m-29.8 .1h.8m1.4 0h.8m3 0h.8m-.6 0h.8m-.8 0h.8m2.2 0h.8m0 0h.8m1 0h.8m1.1 0h.8m1.2 0h.8m3.6 0h.8m3.7 0h.8m-20.8 .1h.8m1.1 0h.8m1.2 0h.8m2.3 0h.8m-.6 0h.8m1.1 0h.8m.5 0h.8m1.6 0h.8m2.5 0h.8m5.1 0h.8m.1 0h.8m-26.7 .1h.8m2.9 0h.8m1.2 0h.8m.8 0h.8m-.4 0h.8m.7 0h.8m.2 0h.8m-.1 0h.8m1.8 0h.8m-.5 0h.8m3.7 0h.8m4.6 0h.8m.4 0h.8m-22.2 .1h.8m4 0h.8m4.6 0h.8m2.4 0h.8m-.2 0h.8m-.4 0h.8m.3 0h.8m3.7 0h.8m2.3 0h.8m-24.4 .1h.8m3.9 0h.8m-.5 0h.8m1.9 0h.8m.6 0h.8m1.1 0h.8m-.1 0h.8m3.2 0h.8m3.6 0h.8m-18.9 .1h.8m-.4 0h.8m1.5 0h.8m2.2 0h.8m1.6 0h.8m-.4 0h.8m-.5 0h.8m.1 0h.8m-.1 0h.8m5.2 0h.8m8.7 0h.8m-30.1 .1h.8m.4 0h.8m2.9 0h.8m.3 0h.8m2.4 0h.8m.4 0h.8m1 0h.8m1 0h.8m1.7 0h.8m.2 0h.8m1.5 0h.8m4.6 0h.8m-.2 0h.8m-22.5 .1h.8m.1 0h.8m.9 0h.8m.4 0h.8m.6 0h.8m1 0h.8m1.9 0h.8m-.3 0h.8m-.7 0h.8m1.1 0h.8m5.1 0h.8m.7 0h.8m-27.5 .1h.8m8.7 0h.8m0 0h.8m4.3 0h.8m1.6 0h.8m.4 0h.8m.7 0h.8m-13 .1h.8m.7 0h.8m1.4 0h.8m1.5 0h.8m2 0h.8m-.1 0h.8m-.3 0h.8m.4 0h.8m2.7 0h.8m-.8 0h.8m-30.9 .1h.8m14.6 0h.8m11.8 0h.8m1.1 0h.8m1 0h.8m-.4 0h.8m2.1 0h.8m-22.4 .1h.8m1.3 0h.8m2.3 0h.8m.3 0h.8m-.7 0h.8m-.5 0h.8m1.7 0h.8m-.1 0h.8m-.5 0h.8m.1 0h.8m.5 0h.8m-.2 0h.8m.1 0h.8m2.9 0h.8m1.2 0h.8m-22.5 .1h.8m4.7 0h.8m1 0h.8m.9 0h.8m-.7 0h.8m-.1 0h.8m1.3 0h.8m-.2 0h.8m-.1 0h.8m-.7 0h.8m-.1 0h.8m2.2 0h.8m6.5 0h.8m.2 0h.8m-16 .1h.8m-.7 0h.8m4.4 0h.8m.3 0h.8m1.4 0h.8m-.2 0h.8m1.4 0h.8m1.8 0h.8m-23.7 .1h.8m2.6 0h.8m-.7 0h.8m3 0h.8m7.5 0h.8m1.4 0h.8m-.6 0h.8m2.6 0h.8m.3 0h.8m.3 0h.8m-28.2 .1h.8m.7 0h.8m-.6 0h.8m3.8 0h.8m.5 0h.8m3.7 0h.8m-.7 0h.8m.2 0h.8m0 0h.8m-.7 0h.8m-.8 0h.8m-.1 0h.8m-.5 0h.8m-.3 0h.8m1 0h.8m.2 0h.8m-.3 0h.8m3.7 0h.8m.3 0h.8m-27.1 .1h.8m1.2 0h.8m-.1 0h.8m4.2 0h.8m.9 0h.8m.8 0h.8m2.5 0h.8m3 0h.8m-.1 0h.8m-.4 0h.8m.2 0h.8m-.4 0h.8m3.7 0h.8m0 0h.8m-.6 0h.8m1.6 0h.8m-28.5 .1h.8m6.9 0h.8m-.6 0h.8m1.3 0h.8m-.6 0h.8m.7 0h.8m.3 0h.8m-.6 0h.8m3 0h.8m1 0h.8m-11.3 .1h.8m2.2 0h.8m.7 0h.8m1.9 0h.8m4.8 0h.8m-.6 0h.8m2.6 0h.8m5.1 0h.8m-29.3 .1h.8m6.1 0h.8m-.2 0h.8m-.2 0h.8m.1 0h.8m.9 0h.8m1.5 0h.8m-.1 0h.8m.8 0h.8m1.4 0h.8m-26.5 .1h.8m14.8 0h.8m12.3 0h.8m1 0h.8m-18.8 .1h.8m0 0h.8m3.2 0h.8m5.9 0h.8m6.9 0h.8m6.4 0h.8m-32.1 .1h.8m-.8 0h.8m4 0h.8m.1 0h.8m.1 0h.8m2.4 0h.8m1.9 0h.8m.3 0h.8m.2 0h.8m3.7 0h.8m2.7 0h.8m-.4 0h.8m-.1 0h.8m-17.4 .1h.8m2.6 0h.8m-.3 0h.8m-.2 0h.8m.2 0h.8m16.6 0h.8m-23.5 .1h.8m4.8 0h.8m0 0h.8m5.7 0h.8m-.4 0h.8m2.2 0h.8m3.3 0h.8m-32.5 .1h.8m9.1 0h.8m.3 0h.8m-.8 0h.8m3.2 0h.8m5.8 0h.8m.4 0h.8m-.5 0h.8m6.8 0h.8m-18.1 .1h.8m1.3 0h.8m2.3 0h.8m.4 0h.8m.2 0h.8m-.1 0h.8m-17.9 .1h.8m3 0h.8m.9 0h.8m4.2 0h.8m4.7 0h.8m.5 0h.8m7.4 0h.8m-29.8 .1h.8m9 0h.8m2.9 0h.8m.1 0h.8m.1 0h.8m.6 0h.8m.9 0h.8m-.7 0h.8m1 0h.8m-.4 0h.8m1.5 0h.8m-11.4 .1h.8m-.8 0h.8m-.4 0h.8m-.4 0h.8m2.4 0h.8m4.6 0h.8m.3 0h.8m-.4 0h.8m2.1 0h.8m.6 0h.8m5.6 0h.8m-28.7 .1h.8m7 0h.8m1.2 0h.8m-.7 0h.8m2.3 0h.8m.8 0h.8m-3.7 .1h.8m0 0h.8m2.7 0h.8m7.7 0h.8m-24.7 .1h.8m.1 0h.8m4.1 0h.8m.6 0h.8m.3 0h.8m.4 0h.8m1.5 0h.8m1.6 0h.8m3.3 0h.8m2.1 0h.8m-22 .1h.8m2.4 0h.8m-.5 0h.8m.3 0h.8m4.2 0h.8m6.8 0h.8m-20.2 .1h.8m5.7 0h.8m0 0h.8m-.2 0h.8m7.1 0h.8m-21.8 .1h.8m3.7 0h.8m12.5 0h.8m.4 0h.8m-.2 0h.8m.2 0h.8m.4 0h.8m-.6 0h.8m-24.4 .1h.8m9.2 0h.8m3.4 0h.8m3.4 0h.8m.6 0h.8m4.8 0h.8m1.1 0h.8m-4.8 .1h.8m4 0h.8m3.2 0h.8m-27.1 .1h.8m2.6 0h.8m3.2 0h.8m.5 0h.8m9.4 0h.8m-22.3 .1h.8m5.4 0h.8m1.8 0h.8m2.9 0h.8m.4 0h.8m1.5 0h.8m-.8 0h.8m-.7 0h.8m3.2 0h.8m.4 0h.8m0 0h.8m4.1 0h.8m3.3 0h.8m.2 0h.8m-22.4 .1h.8m7.7 0h.8m.3 0h.8m-.4 0h.8m2.6 0h.8m-29.9 .1h.8m7.8 0h.8m1.9 0h.8m2 0h.8m.6 0h.8m1.5 0h.8m.6 0h.8m3.1 0h.8m3.1 0h.8m-17.9 .1h.8m1.6 0h.8m8.8 0h.8m1 0h.8m1.3 0h.8m-16.3 .1h.8m.4 0h.8m.8 0h.8m2.6 0h.8m5.5 0h.8m-.1 0h.8m3.4 0h.8m-20.1 .1h.8m4.3 0h.8m4.3 0h.8m3.1 0h.8m2.8 0h.8m2.9 0h.8m-20.4 .1h.8m.4 0h.8m1.5 0h.8m11.3 0h.8m2.8 0h.8m1.2 0h.8m.2 0h.8m-20.3 .1h.8m3.4 0h.8m1.6 .1h.8m1.4 0h.8m-13.3 .1h.8m6.6 0h.8m1.6 0h.8m2.4 0h.8m-.4 0h.8m-10.1 .1h.8m.8 0h.8m2.1 0h.8m.8 0h.8m5.7 0h.8m-.2 0h.8m.6 0h.8m-11.4 .1h.8m3.4 0h.8m4.2 0h.8m.1 0h.8m-21 .1h.8m4.2 0h.8m1.7 0h.8m10.4 0h.8m4.7 0h.8m-25.2 .1h.8m1 0h.8m9.2 0h.8m6.5 0h.8m-7.2 .1h.8m-.4 0h.8m3.4 0h.8m1.4 0h.8m0 0h.8m6.6 0h.8m-24.7 .1h.8m10.3 0h.8m.8 0h.8m4 0h.8m2.7 0h.8m.1 0h.8m-15.5 .1h.8m2.7 0h.8m1.8 0h.8m3.5 0h.8m-20 .1h.8m7.4 0h.8m5 0h.8m-7.1 .1h.8m.3 0h.8m-4.7 .1h.8m7.1 0h.8m4.5 0h.8m-17.2 .1h.8m4.2 0h.8m4 0h.8m.5 .1h.8m-13 .1h.8m13.8 0h.8m-10.3 .1h.8m-.3 0h.8m13.7 0h.8m.8 0h.8m-17.5 .1h.8m3.7 0h.8m1.1 0h.8m9.7 .1h.8m-5.1 .1h.8m-7.7 .1h.8m-19.9 .2h.8m9.6 0h.8m12 .2h.8m5.7 .1h.8m-16.2 .1h.8m1 0h.8m-2.2 .4h.8m16 0h.8m-26.5 .4h.8m24.1 .2h.8m-21.8 .1h.8m14 0h.8m-15.7 .5h.8m14.8 0h.8m-5 .1h.8m-5.4 .2h.8m-1.9 .2h.8" stroke="#1a1aff" stroke-width=".8"/>
<defs><radialGradient id="dg7"><stop offset="0" stop-color="#f04020" stop-opacity="1"/><stop offset="0.05" stop-color="#e8e030" stop-opacity="1"/><stop offset="0.14" stop-color="#90f040" stop-opacity="1"/><stop offset="0.34" stop-color="#40ee60" stop-opacity="1"/><stop offset="0.46" stop-color="#30e0e0" stop-opacity="1"/><stop offset="0.56" stop-color="#2090ff" stop-opacity="1"/><stop offset="0.68" stop-color="#1a1aff" stop-opacity="1"/><stop offset="0.86" stop-color="#1a1aff" stop-opacity="0.55"/><stop offset="1" stop-color="#1a1aff" stop-opacity="0"/></radialGradient></defs><ellipse cx="326" cy="656" rx="18.0" ry="9.0" fill="url(#dg7)" transform="rotate(0 326 656)"/>
<rect x="254.4" y="582.6" width="100" height="96.3" fill="none" stroke="#111" stroke-width="1.4"/>
<rect x="300.8" y="643.2" width="43.6" height="24.2" fill="none" stroke="#d62828" stroke-width="1.4"/>
<text x="309.1" y="630.2" font-size="12.03" fill="#1a1a1a" stroke="#1a1a1a" stroke-width="0.25">HDN</text>
<text x="322.5" y="639.9" font-size="9.05" text-anchor="middle" fill="#1a1a1a" stroke="#1a1a1a" stroke-width="0.12">96.91</text>
<text x="251.6" y="678.2" font-size="12.03" fill="#1a1a1a" stroke="#1a1a1a" stroke-width="0.25" transform="rotate(-90 251.6 678.2)">CD56-BV711</text>
<text x="254.8" y="690.4" font-size="12.03" fill="#1a1a1a" stroke="#1a1a1a" stroke-width="0.25">CD15-eF450</text>
<text x="365.8" y="441.3" font-size="13.98" font-weight="bold" fill="#111">F</text>
<text x="530.8" y="443.2" font-size="12.13" text-anchor="middle" font-weight="bold" fill="#111">LDN versus HDN</text>
<circle cx="428.5" cy="526.6" r="44" fill="none" stroke="#4aafb8" stroke-width="1.4"/>
<circle cx="483.9" cy="526.6" r="44" fill="none" stroke="#b27ccf" stroke-width="1.4"/>
<circle cx="581.8" cy="526.9" r="44.5" fill="none" stroke="#4aafb8" stroke-width="1.4"/>
<circle cx="638.3" cy="526.9" r="44.5" fill="none" stroke="#b27ccf" stroke-width="1.4"/>
<text x="421.4" y="470.5" font-size="11.92" text-anchor="middle" fill="#4aafb8" stroke="#4aafb8" stroke-width="0.25">HP</text>
<text x="481.6" y="470.5" font-size="11.92" text-anchor="middle" fill="#b27ccf" stroke="#b27ccf" stroke-width="0.25">GDM</text>
<text x="577.2" y="470.5" font-size="11.92" text-anchor="middle" fill="#4aafb8" stroke="#4aafb8" stroke-width="0.25">HP</text>
<text x="638.4" y="470.5" font-size="11.92" text-anchor="middle" fill="#b27ccf" stroke="#b27ccf" stroke-width="0.25">GDM</text>
<text x="410.5" y="530.6" font-size="11.72" text-anchor="middle" fill="#1a1a1a" stroke="#1a1a1a" stroke-width="0.25">1</text>
<text x="455.6" y="530.6" font-size="11.72" text-anchor="middle" fill="#1a1a1a" stroke="#1a1a1a" stroke-width="0.25">9</text>
<text x="495.8" y="530.6" font-size="11.72" text-anchor="middle" fill="#1a1a1a" stroke="#1a1a1a" stroke-width="0.25">1</text>
<text x="567.7" y="530.7" font-size="11.72" text-anchor="middle" fill="#1a1a1a" stroke="#1a1a1a" stroke-width="0.25">4</text>
<text x="609.6" y="530.7" font-size="11.72" text-anchor="middle" fill="#1a1a1a" stroke="#1a1a1a" stroke-width="0.25">6</text>
<text x="652.5" y="530.7" font-size="11.72" text-anchor="middle" fill="#1a1a1a" stroke="#1a1a1a" stroke-width="0.25">4</text>
<path d="M451,533.6 L460.3,533.6 M455.6,533.6 L455.6,589" stroke="#111" stroke-width="1.3"/>
<path d="M605.5,533.8 L613.9,533.8 M609.6,533.8 L609.6,596" stroke="#111" stroke-width="1.3"/>
<path d="M409.8,608.8 L409.8,597.8 A9,9 0 0 1 418.8,588.8 L494.7,588.8 A9,9 0 0 1 503.7,597.8 L503.7,608.8 Z" fill="#e8cfd0"/>
<rect x="409.8" y="588.8" width="93.9" height="94.3" rx="9" fill="none" stroke="#111" stroke-width="1.4"/>
<line x1="409.8" y1="608.8" x2="503.7" y2="608.8" stroke="#111" stroke-width="1.2"/>
<text x="456.9" y="604.3" font-size="11.92" text-anchor="middle" font-weight="bold" fill="#111">Upregulated</text>
<text x="456.7" y="622.7" font-size="11.92" text-anchor="middle" fill="#1a1a1a" stroke="#1a1a1a" stroke-width="0.25">β2-microglobulin</text>
<text x="432.2" y="637.9" font-size="11.82" text-anchor="middle" fill="#1a1a1a" stroke="#1a1a1a" stroke-width="0.25">CD111</text>
<text x="479" y="637.9" font-size="11.82" text-anchor="middle" fill="#1a1a1a" stroke="#1a1a1a" stroke-width="0.25">CD49d</text>
<text x="431.6" y="652.1" font-size="11.82" text-anchor="middle" fill="#1a1a1a" stroke="#1a1a1a" stroke-width="0.25">CD63</text>
<text x="479.2" y="652.1" font-size="11.82" text-anchor="middle" fill="#1a1a1a" stroke="#1a1a1a" stroke-width="0.25">CD64</text>
<text x="433.4" y="664.8" font-size="11.82" text-anchor="middle" fill="#1a1a1a" stroke="#1a1a1a" stroke-width="0.25">CD66b</text>
<text x="480.2" y="664.8" font-size="11.82" text-anchor="middle" fill="#1a1a1a" stroke="#1a1a1a" stroke-width="0.25">CD71</text>
<text x="431.9" y="674.9" font-size="11.82" text-anchor="middle" fill="#1a1a1a" stroke="#1a1a1a" stroke-width="0.25">Ig κ</text>
<text x="478.2" y="674.9" font-size="11.82" text-anchor="middle" fill="#1a1a1a" stroke="#1a1a1a" stroke-width="0.25">IgG Fc</text>
<path d="M565.7,615.4 L565.7,604.6 A9,9 0 0 1 574.7,595.6 L650.1,595.6 A9,9 0 0 1 659.1,604.6 L659.1,615.4 Z" fill="#b7d3ec"/>
<rect x="565.7" y="595.6" width="93.4" height="83.2" rx="9" fill="none" stroke="#2a3a6a" stroke-width="1.4"/>
<line x1="565.7" y1="615.4" x2="659.1" y2="615.4" stroke="#2a3a6a" stroke-width="1.2"/>
<text x="612" y="610.1" font-size="12.03" text-anchor="middle" font-weight="bold" fill="#111">Downregulated</text>
<text x="588.8" y="628.7" font-size="11.92" text-anchor="middle" fill="#1a1a1a" stroke="#1a1a1a" stroke-width="0.25">CD10</text>
<text x="634.2" y="628.7" font-size="11.92" text-anchor="middle" fill="#1a1a1a" stroke="#1a1a1a" stroke-width="0.25">CD367</text>
<text x="590.9" y="644.2" font-size="11.92" text-anchor="middle" fill="#1a1a1a" stroke="#1a1a1a" stroke-width="0.25">TNAP</text>
<text x="634.7" y="644.2" font-size="11.92" text-anchor="middle" fill="#1a1a1a" stroke="#1a1a1a" stroke-width="0.25">CD85a</text>
<text x="613.3" y="659" font-size="11.92" text-anchor="middle" fill="#1a1a1a" stroke="#1a1a1a" stroke-width="0.25">TRA-2-49</text>
<text x="613.3" y="673.3" font-size="11.92" text-anchor="middle" fill="#1a1a1a" stroke="#1a1a1a" stroke-width="0.25">TRA-2-54</text>
<text x="4.8" y="730.3" font-size="13.98" font-weight="bold" fill="#111">G</text>
<text x="22.6" y="740.8" font-size="12.13" font-weight="bold" fill="#1a1a1a">Conventional flow cytometry</text>
<clipPath id="gc00"><rect x="146.3" y="755.9" width="97.39999999999998" height="97.5"/></clipPath><g clip-path="url(#gc00)">
<path d="M173.3,795.8 L173.3,795.51 L173.8,795.25 L174.3,794.81 L174.8,794.13 L175.3,793.13 L175.8,791.76 L176.3,790.02 L176.8,787.99 L177.3,785.84 L177.8,783.79 L178.3,782.12 L178.8,781.07 L179.3,780.82 L179.8,781.40 L180.3,782.72 L180.8,784.56 L181.3,786.67 L181.8,788.76 L182.3,790.61 L182.8,792.08 L183.3,793.12 L183.8,793.72 L184.3,793.97 L184.8,793.96 L185.3,793.82 L185.8,793.65 L186.3,793.56 L186.8,793.61 L187.3,793.80 L187.8,794.10 L188.3,794.46 L188.8,794.83 L189.3,795.14 L189.8,795.39 L190.3,795.56 L190.8,795.67 L191.3,795.74 L191.8,795.77 L192.3,795.79 L192.8,795.80 L193.3,795.80 L193.8,795.80 L194.3,795.80 L194.8,795.80 L195.3,795.80 L195.8,795.80 L196.3,795.80 L196.8,795.79 L197.3,795.78 L197.8,795.75 L198.3,795.69 L198.8,795.59 L199.3,795.41 L199.8,795.14 L200.3,794.76 L200.8,794.28 L201.3,793.75 L201.8,793.24 L202.3,792.83 L202.8,792.62 L203.3,792.64 L203.8,792.90 L204.3,793.32 L204.8,793.83 L205.3,794.33 L205.8,794.72 L206.3,794.95 L206.8,795.00 L207.3,794.83 L207.8,794.47 L208.3,793.96 L208.8,793.35 L209.3,792.75 L209.8,792.27 L210.3,792.02 L210.8,792.05 L211.3,792.36 L211.8,792.87 L212.3,793.50 L212.8,794.12 L213.3,794.67 L213.8,795.09 L214.3,795.39 L214.3,795.8 Z" fill="#a7ccf1"/><path d="M146.3,795.80 L146.8,795.80 L147.3,795.80 L147.8,795.80 L148.3,795.80 L148.8,795.80 L149.3,795.80 L149.8,795.80 L150.3,795.80 L150.8,795.80 L151.3,795.80 L151.8,795.80 L152.3,795.80 L152.8,795.80 L153.3,795.80 L153.8,795.80 L154.3,795.80 L154.8,795.80 L155.3,795.80 L155.8,795.80 L156.3,795.80 L156.8,795.80 L157.3,795.80 L157.8,795.80 L158.3,795.80 L158.8,795.80 L159.3,795.80 L159.8,795.80 L160.3,795.80 L160.8,795.80 L161.3,795.80 L161.8,795.80 L162.3,795.80 L162.8,795.80 L163.3,795.80 L163.8,795.80 L164.3,795.80 L164.8,795.80 L165.3,795.80 L165.8,795.80 L166.3,795.80 L166.8,795.80 L167.3,795.80 L167.8,795.80 L168.3,795.80 L168.8,795.80 L169.3,795.80 L169.8,795.80 L170.3,795.80 L170.8,795.79 L171.3,795.79 L171.8,795.77 L172.3,795.73 L172.8,795.66 L173.3,795.51 L173.8,795.25 L174.3,794.81 L174.8,794.13 L175.3,793.13 L175.8,791.76 L176.3,790.02 L176.8,787.99 L177.3,785.84 L177.8,783.79 L178.3,782.12 L178.8,781.07 L179.3,780.82 L179.8,781.40 L180.3,782.72 L180.8,784.56 L181.3,786.67 L181.8,788.76 L182.3,790.61 L182.8,792.08 L183.3,793.12 L183.8,793.72 L184.3,793.97 L184.8,793.96 L185.3,793.82 L185.8,793.65 L186.3,793.56 L186.8,793.61 L187.3,793.80 L187.8,794.10 L188.3,794.46 L188.8,794.83 L189.3,795.14 L189.8,795.39 L190.3,795.56 L190.8,795.67 L191.3,795.74 L191.8,795.77 L192.3,795.79 L192.8,795.80 L193.3,795.80 L193.8,795.80 L194.3,795.80 L194.8,795.80 L195.3,795.80 L195.8,795.80 L196.3,795.80 L196.8,795.79 L197.3,795.78 L197.8,795.75 L198.3,795.69 L198.8,795.59 L199.3,795.41 L199.8,795.14 L200.3,794.76 L200.8,794.28 L201.3,793.75 L201.8,793.24 L202.3,792.83 L202.8,792.62 L203.3,792.64 L203.8,792.90 L204.3,793.32 L204.8,793.83 L205.3,794.33 L205.8,794.72 L206.3,794.95 L206.8,795.00 L207.3,794.83 L207.8,794.47 L208.3,793.96 L208.8,793.35 L209.3,792.75 L209.8,792.27 L210.3,792.02 L210.8,792.05 L211.3,792.36 L211.8,792.87 L212.3,793.50 L212.8,794.12 L213.3,794.67 L213.8,795.09 L214.3,795.39 L214.8,795.58 L215.3,795.69 L215.8,795.75 L216.3,795.78 L216.8,795.79 L217.3,795.80 L217.8,795.80 L218.3,795.80 L218.8,795.80 L219.3,795.80 L219.8,795.80 L220.3,795.80 L220.8,795.80 L221.3,795.80 L221.8,795.80 L222.3,795.80 L222.8,795.80 L223.3,795.80 L223.8,795.80 L224.3,795.80 L224.8,795.80 L225.3,795.80 L225.8,795.80 L226.3,795.80 L226.8,795.80 L227.3,795.80 L227.8,795.80 L228.3,795.80 L228.8,795.80 L229.3,795.80 L229.8,795.80 L230.3,795.80 L230.8,795.80 L231.3,795.80 L231.8,795.80 L232.3,795.80 L232.8,795.80 L233.3,795.80 L233.8,795.80 L234.3,795.80 L234.8,795.80 L235.3,795.80 L235.8,795.80 L236.3,795.80 L236.8,795.80 L237.3,795.80 L237.8,795.80 L238.3,795.80 L238.8,795.80 L239.3,795.80 L239.8,795.80 L240.3,795.80 L240.8,795.80 L241.3,795.80 L241.8,795.80 L242.3,795.80 L242.8,795.80 L243.3,795.80" fill="none" stroke="#3b7be2" stroke-width="1.15" stroke-linejoin="round"/>
<path d="M172.3,815.0 L172.3,814.72 L172.8,814.54 L173.3,814.28 L173.8,813.90 L174.3,813.37 L174.8,812.65 L175.3,811.71 L175.8,810.54 L176.3,809.12 L176.8,807.47 L177.3,805.65 L177.8,803.72 L178.3,801.79 L178.8,799.99 L179.3,798.45 L179.8,797.27 L180.3,796.58 L180.8,796.41 L181.3,796.79 L181.8,797.69 L182.3,799.03 L182.8,800.69 L183.3,802.56 L183.8,804.50 L184.3,806.39 L184.8,808.15 L185.3,809.71 L185.8,811.04 L186.3,812.12 L186.8,812.96 L187.3,813.60 L187.8,814.07 L188.3,814.40 L188.8,814.62 L188.8,815.0 Z" fill="#d8d8d8"/><path d="M146.3,815.00 L146.8,815.00 L147.3,815.00 L147.8,815.00 L148.3,815.00 L148.8,815.00 L149.3,815.00 L149.8,815.00 L150.3,815.00 L150.8,815.00 L151.3,815.00 L151.8,815.00 L152.3,815.00 L152.8,815.00 L153.3,815.00 L153.8,815.00 L154.3,815.00 L154.8,815.00 L155.3,815.00 L155.8,815.00 L156.3,815.00 L156.8,815.00 L157.3,815.00 L157.8,815.00 L158.3,815.00 L158.8,815.00 L159.3,815.00 L159.8,815.00 L160.3,815.00 L160.8,815.00 L161.3,815.00 L161.8,815.00 L162.3,815.00 L162.8,815.00 L163.3,815.00 L163.8,815.00 L164.3,815.00 L164.8,815.00 L165.3,815.00 L165.8,815.00 L166.3,815.00 L166.8,815.00 L167.3,815.00 L167.8,815.00 L168.3,815.00 L168.8,815.00 L169.3,814.99 L169.8,814.98 L170.3,814.97 L170.8,814.95 L171.3,814.90 L171.8,814.83 L172.3,814.72 L172.8,814.54 L173.3,814.28 L173.8,813.90 L174.3,813.37 L174.8,812.65 L175.3,811.71 L175.8,810.54 L176.3,809.12 L176.8,807.47 L177.3,805.65 L177.8,803.72 L178.3,801.79 L178.8,799.99 L179.3,798.45 L179.8,797.27 L180.3,796.58 L180.8,796.41 L181.3,796.79 L181.8,797.69 L182.3,799.03 L182.8,800.69 L183.3,802.56 L183.8,804.50 L184.3,806.39 L184.8,808.15 L185.3,809.71 L185.8,811.04 L186.3,812.12 L186.8,812.96 L187.3,813.60 L187.8,814.07 L188.3,814.40 L188.8,814.62 L189.3,814.77 L189.8,814.86 L190.3,814.92 L190.8,814.96 L191.3,814.98 L191.8,814.99 L192.3,814.99 L192.8,815.00 L193.3,815.00 L193.8,815.00 L194.3,815.00 L194.8,815.00 L195.3,815.00 L195.8,815.00 L196.3,815.00 L196.8,815.00 L197.3,815.00 L197.8,815.00 L198.3,815.00 L198.8,815.00 L199.3,815.00 L199.8,815.00 L200.3,815.00 L200.8,815.00 L201.3,815.00 L201.8,815.00 L202.3,815.00 L202.8,815.00 L203.3,815.00 L203.8,815.00 L204.3,815.00 L204.8,815.00 L205.3,815.00 L205.8,815.00 L206.3,815.00 L206.8,815.00 L207.3,815.00 L207.8,815.00 L208.3,815.00 L208.8,815.00 L209.3,815.00 L209.8,815.00 L210.3,815.00 L210.8,815.00 L211.3,815.00 L211.8,815.00 L212.3,815.00 L212.8,815.00 L213.3,815.00 L213.8,815.00 L214.3,815.00 L214.8,815.00 L215.3,815.00 L215.8,815.00 L216.3,815.00 L216.8,815.00 L217.3,815.00 L217.8,815.00 L218.3,815.00 L218.8,815.00 L219.3,815.00 L219.8,815.00 L220.3,815.00 L220.8,815.00 L221.3,815.00 L221.8,815.00 L222.3,815.00 L222.8,815.00 L223.3,815.00 L223.8,815.00 L224.3,815.00 L224.8,815.00 L225.3,815.00 L225.8,815.00 L226.3,815.00 L226.8,815.00 L227.3,815.00 L227.8,815.00 L228.3,815.00 L228.8,815.00 L229.3,815.00 L229.8,815.00 L230.3,815.00 L230.8,815.00 L231.3,815.00 L231.8,815.00 L232.3,815.00 L232.8,815.00 L233.3,815.00 L233.8,815.00 L234.3,815.00 L234.8,815.00 L235.3,815.00 L235.8,815.00 L236.3,815.00 L236.8,815.00 L237.3,815.00 L237.8,815.00 L238.3,815.00 L238.8,815.00 L239.3,815.00 L239.8,815.00 L240.3,815.00 L240.8,815.00 L241.3,815.00 L241.8,815.00 L242.3,815.00 L242.8,815.00 L243.3,815.00" fill="none" stroke="#a3a3a3" stroke-width="1.15" stroke-linejoin="round"/>
<path d="M198.3,834.4 L198.3,834.03 L198.8,833.83 L199.3,833.53 L199.8,833.09 L200.3,832.49 L200.8,831.68 L201.3,830.60 L201.8,829.23 L202.3,827.51 L202.8,825.42 L203.3,822.98 L203.8,820.19 L204.3,817.13 L204.8,813.89 L205.3,810.59 L205.8,807.38 L206.3,804.44 L206.8,801.93 L207.3,800.02 L207.8,798.81 L208.3,798.40 L208.8,798.81 L209.3,800.02 L209.8,801.93 L210.3,804.44 L210.8,807.38 L211.3,810.59 L211.8,813.89 L212.3,817.13 L212.8,820.19 L213.3,822.98 L213.8,825.42 L214.3,827.51 L214.8,829.23 L215.3,830.60 L215.8,831.68 L216.3,832.49 L216.8,833.09 L217.3,833.53 L217.8,833.83 L218.3,834.03 L218.3,834.4 Z" fill="#a32a34" fill-opacity="0.55"/><path d="M146.3,834.40 L146.8,834.40 L147.3,834.40 L147.8,834.40 L148.3,834.40 L148.8,834.40 L149.3,834.40 L149.8,834.40 L150.3,834.40 L150.8,834.40 L151.3,834.40 L151.8,834.40 L152.3,834.40 L152.8,834.40 L153.3,834.40 L153.8,834.40 L154.3,834.40 L154.8,834.40 L155.3,834.40 L155.8,834.40 L156.3,834.40 L156.8,834.40 L157.3,834.40 L157.8,834.40 L158.3,834.40 L158.8,834.40 L159.3,834.40 L159.8,834.40 L160.3,834.40 L160.8,834.40 L161.3,834.40 L161.8,834.40 L162.3,834.40 L162.8,834.40 L163.3,834.40 L163.8,834.40 L164.3,834.40 L164.8,834.40 L165.3,834.40 L165.8,834.40 L166.3,834.40 L166.8,834.40 L167.3,834.40 L167.8,834.40 L168.3,834.40 L168.8,834.40 L169.3,834.40 L169.8,834.40 L170.3,834.40 L170.8,834.40 L171.3,834.40 L171.8,834.40 L172.3,834.40 L172.8,834.40 L173.3,834.40 L173.8,834.40 L174.3,834.40 L174.8,834.40 L175.3,834.40 L175.8,834.40 L176.3,834.40 L176.8,834.40 L177.3,834.40 L177.8,834.40 L178.3,834.40 L178.8,834.40 L179.3,834.40 L179.8,834.40 L180.3,834.40 L180.8,834.40 L181.3,834.40 L181.8,834.40 L182.3,834.40 L182.8,834.40 L183.3,834.40 L183.8,834.40 L184.3,834.40 L184.8,834.40 L185.3,834.40 L185.8,834.40 L186.3,834.40 L186.8,834.40 L187.3,834.40 L187.8,834.40 L188.3,834.40 L188.8,834.40 L189.3,834.40 L189.8,834.40 L190.3,834.40 L190.8,834.40 L191.3,834.40 L191.8,834.40 L192.3,834.40 L192.8,834.40 L193.3,834.40 L193.8,834.40 L194.3,834.40 L194.8,834.39 L195.3,834.38 L195.8,834.37 L196.3,834.35 L196.8,834.32 L197.3,834.26 L197.8,834.17 L198.3,834.03 L198.8,833.83 L199.3,833.53 L199.8,833.09 L200.3,832.49 L200.8,831.68 L201.3,830.60 L201.8,829.23 L202.3,827.51 L202.8,825.42 L203.3,822.98 L203.8,820.19 L204.3,817.13 L204.8,813.89 L205.3,810.59 L205.8,807.38 L206.3,804.44 L206.8,801.93 L207.3,800.02 L207.8,798.81 L208.3,798.40 L208.8,798.81 L209.3,800.02 L209.8,801.93 L210.3,804.44 L210.8,807.38 L211.3,810.59 L211.8,813.89 L212.3,817.13 L212.8,820.19 L213.3,822.98 L213.8,825.42 L214.3,827.51 L214.8,829.23 L215.3,830.60 L215.8,831.68 L216.3,832.49 L216.8,833.09 L217.3,833.53 L217.8,833.83 L218.3,834.03 L218.8,834.17 L219.3,834.26 L219.8,834.32 L220.3,834.35 L220.8,834.37 L221.3,834.38 L221.8,834.39 L222.3,834.40 L222.8,834.40 L223.3,834.40 L223.8,834.40 L224.3,834.40 L224.8,834.40 L225.3,834.40 L225.8,834.40 L226.3,834.40 L226.8,834.40 L227.3,834.40 L227.8,834.40 L228.3,834.40 L228.8,834.40 L229.3,834.40 L229.8,834.40 L230.3,834.40 L230.8,834.40 L231.3,834.40 L231.8,834.40 L232.3,834.40 L232.8,834.40 L233.3,834.40 L233.8,834.40 L234.3,834.40 L234.8,834.40 L235.3,834.40 L235.8,834.40 L236.3,834.40 L236.8,834.40 L237.3,834.40 L237.8,834.40 L238.3,834.40 L238.8,834.40 L239.3,834.40 L239.8,834.40 L240.3,834.40 L240.8,834.40 L241.3,834.40 L241.8,834.40 L242.3,834.40 L242.8,834.40 L243.3,834.40" fill="none" stroke="#9c2224" stroke-width="1.15" stroke-linejoin="round"/>
<path d="M172.8,853.4 L172.8,853.06 L173.3,852.86 L173.8,852.56 L174.3,852.12 L174.8,851.50 L175.3,850.66 L175.8,849.53 L176.3,848.07 L176.8,846.24 L177.3,844.01 L177.8,841.39 L178.3,838.40 L178.8,835.12 L179.3,831.66 L179.8,828.17 L180.3,824.82 L180.8,821.81 L181.3,819.33 L181.8,817.54 L182.3,816.56 L182.8,816.47 L183.3,817.27 L183.8,818.91 L184.3,821.27 L184.8,824.19 L185.3,827.48 L185.8,830.96 L186.3,834.44 L186.8,837.76 L187.3,840.82 L187.8,843.52 L188.3,845.83 L188.8,847.74 L189.3,849.27 L189.8,850.46 L190.3,851.35 L190.8,852.01 L191.3,852.48 L191.8,852.81 L192.3,853.03 L192.3,853.4 Z" fill="#b3b3b3"/><path d="M146.3,853.40 L146.8,853.40 L147.3,853.40 L147.8,853.40 L148.3,853.40 L148.8,853.40 L149.3,853.40 L149.8,853.40 L150.3,853.40 L150.8,853.40 L151.3,853.40 L151.8,853.40 L152.3,853.40 L152.8,853.40 L153.3,853.40 L153.8,853.40 L154.3,853.40 L154.8,853.40 L155.3,853.40 L155.8,853.40 L156.3,853.40 L156.8,853.40 L157.3,853.40 L157.8,853.40 L158.3,853.40 L158.8,853.40 L159.3,853.40 L159.8,853.40 L160.3,853.40 L160.8,853.40 L161.3,853.40 L161.8,853.40 L162.3,853.40 L162.8,853.40 L163.3,853.40 L163.8,853.40 L164.3,853.40 L164.8,853.40 L165.3,853.40 L165.8,853.40 L166.3,853.40 L166.8,853.40 L167.3,853.40 L167.8,853.40 L168.3,853.40 L168.8,853.40 L169.3,853.39 L169.8,853.39 L170.3,853.38 L170.8,853.36 L171.3,853.33 L171.8,853.28 L172.3,853.19 L172.8,853.06 L173.3,852.86 L173.8,852.56 L174.3,852.12 L174.8,851.50 L175.3,850.66 L175.8,849.53 L176.3,848.07 L176.8,846.24 L177.3,844.01 L177.8,841.39 L178.3,838.40 L178.8,835.12 L179.3,831.66 L179.8,828.17 L180.3,824.82 L180.8,821.81 L181.3,819.33 L181.8,817.54 L182.3,816.56 L182.8,816.47 L183.3,817.27 L183.8,818.91 L184.3,821.27 L184.8,824.19 L185.3,827.48 L185.8,830.96 L186.3,834.44 L186.8,837.76 L187.3,840.82 L187.8,843.52 L188.3,845.83 L188.8,847.74 L189.3,849.27 L189.8,850.46 L190.3,851.35 L190.8,852.01 L191.3,852.48 L191.8,852.81 L192.3,853.03 L192.8,853.17 L193.3,853.26 L193.8,853.32 L194.3,853.35 L194.8,853.37 L195.3,853.39 L195.8,853.39 L196.3,853.40 L196.8,853.40 L197.3,853.40 L197.8,853.40 L198.3,853.40 L198.8,853.40 L199.3,853.40 L199.8,853.40 L200.3,853.40 L200.8,853.40 L201.3,853.40 L201.8,853.40 L202.3,853.40 L202.8,853.40 L203.3,853.40 L203.8,853.40 L204.3,853.40 L204.8,853.40 L205.3,853.40 L205.8,853.40 L206.3,853.40 L206.8,853.40 L207.3,853.40 L207.8,853.40 L208.3,853.40 L208.8,853.40 L209.3,853.40 L209.8,853.40 L210.3,853.40 L210.8,853.40 L211.3,853.40 L211.8,853.40 L212.3,853.40 L212.8,853.40 L213.3,853.40 L213.8,853.40 L214.3,853.40 L214.8,853.40 L215.3,853.40 L215.8,853.40 L216.3,853.40 L216.8,853.40 L217.3,853.40 L217.8,853.40 L218.3,853.40 L218.8,853.40 L219.3,853.40 L219.8,853.40 L220.3,853.40 L220.8,853.40 L221.3,853.40 L221.8,853.40 L222.3,853.40 L222.8,853.40 L223.3,853.40 L223.8,853.40 L224.3,853.40 L224.8,853.40 L225.3,853.40 L225.8,853.40 L226.3,853.40 L226.8,853.40 L227.3,853.40 L227.8,853.40 L228.3,853.40 L228.8,853.40 L229.3,853.40 L229.8,853.40 L230.3,853.40 L230.8,853.40 L231.3,853.40 L231.8,853.40 L232.3,853.40 L232.8,853.40 L233.3,853.40 L233.8,853.40 L234.3,853.40 L234.8,853.40 L235.3,853.40 L235.8,853.40 L236.3,853.40 L236.8,853.40 L237.3,853.40 L237.8,853.40 L238.3,853.40 L238.8,853.40 L239.3,853.40 L239.8,853.40 L240.3,853.40 L240.8,853.40 L241.3,853.40 L241.8,853.40 L242.3,853.40 L242.8,853.40 L243.3,853.40" fill="none" stroke="#3c3c3c" stroke-width="1.15" stroke-linejoin="round"/>
<line x1="195.3" y1="756.9" x2="195.3" y2="853.4" stroke="#8a8a8a" stroke-width="0.8" stroke-dasharray="2.6,1.8"/>
</g>
<rect x="146.3" y="755.9" width="97.39999999999998" height="97.5" fill="none" stroke="#111" stroke-width="1.7"/>
<path d="M150.3,854.1999999999999v2.4M156.0,854.1999999999999v1.6M159.4,854.1999999999999v1.6M161.7,854.1999999999999v1.6M163.6,854.1999999999999v1.6M165.1,854.1999999999999v1.6M166.4,854.1999999999999v1.6M167.5,854.1999999999999v1.6M168.4,854.1999999999999v1.6M169.3,854.1999999999999v2.4M175.0,854.1999999999999v1.6M178.4,854.1999999999999v1.6M180.7,854.1999999999999v1.6M182.6,854.1999999999999v1.6M184.1,854.1999999999999v1.6M185.4,854.1999999999999v1.6M186.5,854.1999999999999v1.6M187.4,854.1999999999999v1.6M188.3,854.1999999999999v2.4M194.0,854.1999999999999v1.6M197.4,854.1999999999999v1.6M199.7,854.1999999999999v1.6M201.6,854.1999999999999v1.6M203.1,854.1999999999999v1.6M204.4,854.1999999999999v1.6M205.5,854.1999999999999v1.6M206.4,854.1999999999999v1.6M207.3,854.1999999999999v2.4M213.0,854.1999999999999v1.6M216.4,854.1999999999999v1.6M218.7,854.1999999999999v1.6M220.6,854.1999999999999v1.6M222.1,854.1999999999999v1.6M223.4,854.1999999999999v1.6M224.5,854.1999999999999v1.6M225.4,854.1999999999999v1.6M226.3,854.1999999999999v2.4M232.0,854.1999999999999v1.6M235.4,854.1999999999999v1.6M237.7,854.1999999999999v1.6M239.6,854.1999999999999v1.6M241.1,854.1999999999999v1.6" stroke="#333" stroke-width="0.7"/>
<text x="240.5" y="780.1999999999999" font-size="9.05" text-anchor="end" fill="#222" stroke="#222" stroke-width="0.12">38.6</text>
<text x="240.5" y="830.3" font-size="9.05" text-anchor="end" fill="#222" stroke="#222" stroke-width="0.12">99.0</text>
<clipPath id="gc01"><rect x="249.6" y="755.9" width="96.70000000000002" height="97.5"/></clipPath><g clip-path="url(#gc01)">
<path d="M286.6,795.8 L286.6,795.53 L287.1,795.46 L287.6,795.38 L288.1,795.29 L288.6,795.18 L289.1,795.06 L289.6,794.93 L290.1,794.78 L290.6,794.63 L291.1,794.47 L291.6,794.31 L292.1,794.15 L292.6,794.00 L293.1,793.85 L293.6,793.72 L294.1,793.60 L294.6,793.51 L295.1,793.45 L295.6,793.41 L296.1,793.40 L296.6,793.41 L297.1,793.45 L297.6,793.51 L298.1,793.58 L298.6,793.65 L299.1,793.69 L299.6,793.70 L300.1,793.63 L300.6,793.46 L301.1,793.16 L301.6,792.69 L302.1,792.04 L302.6,791.20 L303.1,790.19 L303.6,789.06 L304.1,787.89 L304.6,786.76 L305.1,785.78 L305.6,785.06 L306.1,784.68 L306.6,784.68 L307.1,785.08 L307.6,785.82 L308.1,786.85 L308.6,788.06 L309.1,789.35 L309.6,790.62 L310.1,791.79 L310.6,792.80 L311.1,793.64 L311.6,794.31 L312.1,794.80 L312.6,795.16 L313.1,795.40 L313.1,795.8 Z" fill="#a7ccf1"/><path d="M249.6,795.80 L250.1,795.80 L250.6,795.80 L251.1,795.80 L251.6,795.80 L252.1,795.80 L252.6,795.80 L253.1,795.80 L253.6,795.80 L254.1,795.80 L254.6,795.80 L255.1,795.80 L255.6,795.80 L256.1,795.80 L256.6,795.80 L257.1,795.80 L257.6,795.80 L258.1,795.80 L258.6,795.80 L259.1,795.80 L259.6,795.80 L260.1,795.80 L260.6,795.80 L261.1,795.80 L261.6,795.80 L262.1,795.80 L262.6,795.80 L263.1,795.80 L263.6,795.80 L264.1,795.80 L264.6,795.80 L265.1,795.80 L265.6,795.80 L266.1,795.80 L266.6,795.80 L267.1,795.80 L267.6,795.80 L268.1,795.80 L268.6,795.80 L269.1,795.80 L269.6,795.80 L270.1,795.80 L270.6,795.80 L271.1,795.80 L271.6,795.80 L272.1,795.80 L272.6,795.80 L273.1,795.80 L273.6,795.80 L274.1,795.80 L274.6,795.80 L275.1,795.80 L275.6,795.80 L276.1,795.80 L276.6,795.80 L277.1,795.80 L277.6,795.80 L278.1,795.80 L278.6,795.80 L279.1,795.80 L279.6,795.80 L280.1,795.80 L280.6,795.79 L281.1,795.79 L281.6,795.79 L282.1,795.78 L282.6,795.77 L283.1,795.76 L283.6,795.75 L284.1,795.73 L284.6,795.70 L285.1,795.67 L285.6,795.63 L286.1,795.59 L286.6,795.53 L287.1,795.46 L287.6,795.38 L288.1,795.29 L288.6,795.18 L289.1,795.06 L289.6,794.93 L290.1,794.78 L290.6,794.63 L291.1,794.47 L291.6,794.31 L292.1,794.15 L292.6,794.00 L293.1,793.85 L293.6,793.72 L294.1,793.60 L294.6,793.51 L295.1,793.45 L295.6,793.41 L296.1,793.40 L296.6,793.41 L297.1,793.45 L297.6,793.51 L298.1,793.58 L298.6,793.65 L299.1,793.69 L299.6,793.70 L300.1,793.63 L300.6,793.46 L301.1,793.16 L301.6,792.69 L302.1,792.04 L302.6,791.20 L303.1,790.19 L303.6,789.06 L304.1,787.89 L304.6,786.76 L305.1,785.78 L305.6,785.06 L306.1,784.68 L306.6,784.68 L307.1,785.08 L307.6,785.82 L308.1,786.85 L308.6,788.06 L309.1,789.35 L309.6,790.62 L310.1,791.79 L310.6,792.80 L311.1,793.64 L311.6,794.31 L312.1,794.80 L312.6,795.16 L313.1,795.40 L313.6,795.56 L314.1,795.66 L314.6,795.72 L315.1,795.76 L315.6,795.78 L316.1,795.79 L316.6,795.79 L317.1,795.80 L317.6,795.80 L318.1,795.80 L318.6,795.80 L319.1,795.80 L319.6,795.80 L320.1,795.80 L320.6,795.80 L321.1,795.80 L321.6,795.80 L322.1,795.80 L322.6,795.80 L323.1,795.80 L323.6,795.80 L324.1,795.80 L324.6,795.80 L325.1,795.80 L325.6,795.80 L326.1,795.80 L326.6,795.80 L327.1,795.80 L327.6,795.80 L328.1,795.80 L328.6,795.80 L329.1,795.80 L329.6,795.80 L330.1,795.80 L330.6,795.80 L331.1,795.80 L331.6,795.80 L332.1,795.80 L332.6,795.80 L333.1,795.80 L333.6,795.80 L334.1,795.80 L334.6,795.80 L335.1,795.80 L335.6,795.80 L336.1,795.80 L336.6,795.80 L337.1,795.80 L337.6,795.80 L338.1,795.80 L338.6,795.80 L339.1,795.80 L339.6,795.80 L340.1,795.80 L340.6,795.80 L341.1,795.80 L341.6,795.80 L342.1,795.80 L342.6,795.80 L343.1,795.80 L343.6,795.80 L344.1,795.80 L344.6,795.80 L345.1,795.80 L345.6,795.80 L346.1,795.80" fill="none" stroke="#3b7be2" stroke-width="1.15" stroke-linejoin="round"/>
<path d="M274.1,815.0 L274.1,814.62 L274.6,814.42 L275.1,814.15 L275.6,813.78 L276.1,813.28 L276.6,812.63 L277.1,811.82 L277.6,810.82 L278.1,809.63 L278.6,808.25 L279.1,806.72 L279.6,805.08 L280.1,803.38 L280.6,801.69 L281.1,800.11 L281.6,798.71 L282.1,797.59 L282.6,796.81 L283.1,796.43 L283.6,796.48 L284.1,796.94 L284.6,797.79 L285.1,798.97 L285.6,800.41 L286.1,802.02 L286.6,803.72 L287.1,805.42 L287.6,807.04 L288.1,808.54 L288.6,809.88 L289.1,811.03 L289.6,811.99 L290.1,812.77 L290.6,813.39 L291.1,813.86 L291.6,814.21 L292.1,814.47 L292.6,814.65 L292.6,815.0 Z" fill="#d8d8d8"/><path d="M249.6,815.00 L250.1,815.00 L250.6,815.00 L251.1,815.00 L251.6,815.00 L252.1,815.00 L252.6,815.00 L253.1,815.00 L253.6,815.00 L254.1,815.00 L254.6,815.00 L255.1,815.00 L255.6,815.00 L256.1,815.00 L256.6,815.00 L257.1,815.00 L257.6,815.00 L258.1,815.00 L258.6,815.00 L259.1,815.00 L259.6,815.00 L260.1,815.00 L260.6,815.00 L261.1,815.00 L261.6,815.00 L262.1,815.00 L262.6,815.00 L263.1,815.00 L263.6,815.00 L264.1,815.00 L264.6,815.00 L265.1,815.00 L265.6,815.00 L266.1,815.00 L266.6,815.00 L267.1,815.00 L267.6,815.00 L268.1,815.00 L268.6,815.00 L269.1,815.00 L269.6,815.00 L270.1,814.99 L270.6,814.99 L271.1,814.98 L271.6,814.97 L272.1,814.94 L272.6,814.90 L273.1,814.84 L273.6,814.75 L274.1,814.62 L274.6,814.42 L275.1,814.15 L275.6,813.78 L276.1,813.28 L276.6,812.63 L277.1,811.82 L277.6,810.82 L278.1,809.63 L278.6,808.25 L279.1,806.72 L279.6,805.08 L280.1,803.38 L280.6,801.69 L281.1,800.11 L281.6,798.71 L282.1,797.59 L282.6,796.81 L283.1,796.43 L283.6,796.48 L284.1,796.94 L284.6,797.79 L285.1,798.97 L285.6,800.41 L286.1,802.02 L286.6,803.72 L287.1,805.42 L287.6,807.04 L288.1,808.54 L288.6,809.88 L289.1,811.03 L289.6,811.99 L290.1,812.77 L290.6,813.39 L291.1,813.86 L291.6,814.21 L292.1,814.47 L292.6,814.65 L293.1,814.77 L293.6,814.86 L294.1,814.91 L294.6,814.95 L295.1,814.97 L295.6,814.98 L296.1,814.99 L296.6,814.99 L297.1,815.00 L297.6,815.00 L298.1,815.00 L298.6,815.00 L299.1,815.00 L299.6,815.00 L300.1,815.00 L300.6,815.00 L301.1,815.00 L301.6,815.00 L302.1,815.00 L302.6,815.00 L303.1,815.00 L303.6,815.00 L304.1,815.00 L304.6,815.00 L305.1,815.00 L305.6,815.00 L306.1,815.00 L306.6,815.00 L307.1,815.00 L307.6,815.00 L308.1,815.00 L308.6,815.00 L309.1,815.00 L309.6,815.00 L310.1,815.00 L310.6,815.00 L311.1,815.00 L311.6,815.00 L312.1,815.00 L312.6,815.00 L313.1,815.00 L313.6,815.00 L314.1,815.00 L314.6,815.00 L315.1,815.00 L315.6,815.00 L316.1,815.00 L316.6,815.00 L317.1,815.00 L317.6,815.00 L318.1,815.00 L318.6,815.00 L319.1,815.00 L319.6,815.00 L320.1,815.00 L320.6,815.00 L321.1,815.00 L321.6,815.00 L322.1,815.00 L322.6,815.00 L323.1,815.00 L323.6,815.00 L324.1,815.00 L324.6,815.00 L325.1,815.00 L325.6,815.00 L326.1,815.00 L326.6,815.00 L327.1,815.00 L327.6,815.00 L328.1,815.00 L328.6,815.00 L329.1,815.00 L329.6,815.00 L330.1,815.00 L330.6,815.00 L331.1,815.00 L331.6,815.00 L332.1,815.00 L332.6,815.00 L333.1,815.00 L333.6,815.00 L334.1,815.00 L334.6,815.00 L335.1,815.00 L335.6,815.00 L336.1,815.00 L336.6,815.00 L337.1,815.00 L337.6,815.00 L338.1,815.00 L338.6,815.00 L339.1,815.00 L339.6,815.00 L340.1,815.00 L340.6,815.00 L341.1,815.00 L341.6,815.00 L342.1,815.00 L342.6,815.00 L343.1,815.00 L343.6,815.00 L344.1,815.00 L344.6,815.00 L345.1,815.00 L345.6,815.00 L346.1,815.00" fill="none" stroke="#a3a3a3" stroke-width="1.15" stroke-linejoin="round"/>
<path d="M287.6,834.4 L287.6,834.10 L288.1,833.90 L288.6,833.58 L289.1,833.10 L289.6,832.41 L290.1,831.42 L290.6,830.08 L291.1,828.32 L291.6,826.10 L292.1,823.39 L292.6,820.22 L293.1,816.68 L293.6,812.91 L294.1,809.09 L294.6,805.47 L295.1,802.30 L295.6,799.82 L296.1,798.24 L296.6,797.70 L297.1,798.24 L297.6,799.82 L298.1,802.30 L298.6,805.47 L299.1,809.09 L299.6,812.91 L300.1,816.68 L300.6,820.22 L301.1,823.39 L301.6,826.10 L302.1,828.32 L302.6,830.08 L303.1,831.42 L303.6,832.41 L304.1,833.10 L304.6,833.58 L305.1,833.90 L305.6,834.10 L305.6,834.4 Z" fill="#a32a34" fill-opacity="0.55"/><path d="M249.6,834.40 L250.1,834.40 L250.6,834.40 L251.1,834.40 L251.6,834.40 L252.1,834.40 L252.6,834.40 L253.1,834.40 L253.6,834.40 L254.1,834.40 L254.6,834.40 L255.1,834.40 L255.6,834.40 L256.1,834.40 L256.6,834.40 L257.1,834.40 L257.6,834.40 L258.1,834.40 L258.6,834.40 L259.1,834.40 L259.6,834.40 L260.1,834.40 L260.6,834.40 L261.1,834.40 L261.6,834.40 L262.1,834.40 L262.6,834.40 L263.1,834.40 L263.6,834.40 L264.1,834.40 L264.6,834.40 L265.1,834.40 L265.6,834.40 L266.1,834.40 L266.6,834.40 L267.1,834.40 L267.6,834.40 L268.1,834.40 L268.6,834.40 L269.1,834.40 L269.6,834.40 L270.1,834.40 L270.6,834.40 L271.1,834.40 L271.6,834.40 L272.1,834.40 L272.6,834.40 L273.1,834.40 L273.6,834.40 L274.1,834.40 L274.6,834.40 L275.1,834.40 L275.6,834.40 L276.1,834.40 L276.6,834.40 L277.1,834.40 L277.6,834.40 L278.1,834.40 L278.6,834.40 L279.1,834.40 L279.6,834.40 L280.1,834.40 L280.6,834.40 L281.1,834.40 L281.6,834.40 L282.1,834.40 L282.6,834.40 L283.1,834.40 L283.6,834.40 L284.1,834.40 L284.6,834.39 L285.1,834.39 L285.6,834.37 L286.1,834.35 L286.6,834.30 L287.1,834.23 L287.6,834.10 L288.1,833.90 L288.6,833.58 L289.1,833.10 L289.6,832.41 L290.1,831.42 L290.6,830.08 L291.1,828.32 L291.6,826.10 L292.1,823.39 L292.6,820.22 L293.1,816.68 L293.6,812.91 L294.1,809.09 L294.6,805.47 L295.1,802.30 L295.6,799.82 L296.1,798.24 L296.6,797.70 L297.1,798.24 L297.6,799.82 L298.1,802.30 L298.6,805.47 L299.1,809.09 L299.6,812.91 L300.1,816.68 L300.6,820.22 L301.1,823.39 L301.6,826.10 L302.1,828.32 L302.6,830.08 L303.1,831.42 L303.6,832.41 L304.1,833.10 L304.6,833.58 L305.1,833.90 L305.6,834.10 L306.1,834.23 L306.6,834.30 L307.1,834.35 L307.6,834.37 L308.1,834.39 L308.6,834.39 L309.1,834.40 L309.6,834.40 L310.1,834.40 L310.6,834.40 L311.1,834.40 L311.6,834.40 L312.1,834.40 L312.6,834.40 L313.1,834.40 L313.6,834.40 L314.1,834.40 L314.6,834.40 L315.1,834.40 L315.6,834.40 L316.1,834.40 L316.6,834.40 L317.1,834.40 L317.6,834.40 L318.1,834.40 L318.6,834.40 L319.1,834.40 L319.6,834.40 L320.1,834.40 L320.6,834.40 L321.1,834.40 L321.6,834.40 L322.1,834.40 L322.6,834.40 L323.1,834.40 L323.6,834.40 L324.1,834.40 L324.6,834.40 L325.1,834.40 L325.6,834.40 L326.1,834.40 L326.6,834.40 L327.1,834.40 L327.6,834.40 L328.1,834.40 L328.6,834.40 L329.1,834.40 L329.6,834.40 L330.1,834.40 L330.6,834.40 L331.1,834.40 L331.6,834.40 L332.1,834.40 L332.6,834.40 L333.1,834.40 L333.6,834.40 L334.1,834.40 L334.6,834.40 L335.1,834.40 L335.6,834.40 L336.1,834.40 L336.6,834.40 L337.1,834.40 L337.6,834.40 L338.1,834.40 L338.6,834.40 L339.1,834.40 L339.6,834.40 L340.1,834.40 L340.6,834.40 L341.1,834.40 L341.6,834.40 L342.1,834.40 L342.6,834.40 L343.1,834.40 L343.6,834.40 L344.1,834.40 L344.6,834.40 L345.1,834.40 L345.6,834.40 L346.1,834.40" fill="none" stroke="#9c2224" stroke-width="1.15" stroke-linejoin="round"/>
<path d="M275.1,853.4 L275.1,853.13 L275.6,852.97 L276.1,852.73 L276.6,852.37 L277.1,851.87 L277.6,851.18 L278.1,850.24 L278.6,849.02 L279.1,847.45 L279.6,845.51 L280.1,843.18 L280.6,840.45 L281.1,837.37 L281.6,834.00 L282.1,830.46 L282.6,826.89 L283.1,823.46 L283.6,820.36 L284.1,817.76 L284.6,815.82 L285.1,814.69 L285.6,814.42 L286.1,815.04 L286.6,816.51 L287.1,818.72 L287.6,821.55 L288.1,824.81 L288.6,828.31 L289.1,831.89 L289.6,835.38 L290.1,838.64 L290.6,841.59 L291.1,844.16 L291.6,846.34 L292.1,848.12 L292.6,849.55 L293.1,850.65 L293.6,851.48 L294.1,852.09 L294.6,852.53 L295.1,852.83 L295.6,853.04 L295.6,853.4 Z" fill="#b3b3b3"/><path d="M249.6,853.40 L250.1,853.40 L250.6,853.40 L251.1,853.40 L251.6,853.40 L252.1,853.40 L252.6,853.40 L253.1,853.40 L253.6,853.40 L254.1,853.40 L254.6,853.40 L255.1,853.40 L255.6,853.40 L256.1,853.40 L256.6,853.40 L257.1,853.40 L257.6,853.40 L258.1,853.40 L258.6,853.40 L259.1,853.40 L259.6,853.40 L260.1,853.40 L260.6,853.40 L261.1,853.40 L261.6,853.40 L262.1,853.40 L262.6,853.40 L263.1,853.40 L263.6,853.40 L264.1,853.40 L264.6,853.40 L265.1,853.40 L265.6,853.40 L266.1,853.40 L266.6,853.40 L267.1,853.40 L267.6,853.40 L268.1,853.40 L268.6,853.40 L269.1,853.40 L269.6,853.40 L270.1,853.40 L270.6,853.40 L271.1,853.40 L271.6,853.39 L272.1,853.39 L272.6,853.38 L273.1,853.37 L273.6,853.34 L274.1,853.30 L274.6,853.23 L275.1,853.13 L275.6,852.97 L276.1,852.73 L276.6,852.37 L277.1,851.87 L277.6,851.18 L278.1,850.24 L278.6,849.02 L279.1,847.45 L279.6,845.51 L280.1,843.18 L280.6,840.45 L281.1,837.37 L281.6,834.00 L282.1,830.46 L282.6,826.89 L283.1,823.46 L283.6,820.36 L284.1,817.76 L284.6,815.82 L285.1,814.69 L285.6,814.42 L286.1,815.04 L286.6,816.51 L287.1,818.72 L287.6,821.55 L288.1,824.81 L288.6,828.31 L289.1,831.89 L289.6,835.38 L290.1,838.64 L290.6,841.59 L291.1,844.16 L291.6,846.34 L292.1,848.12 L292.6,849.55 L293.1,850.65 L293.6,851.48 L294.1,852.09 L294.6,852.53 L295.1,852.83 L295.6,853.04 L296.1,853.18 L296.6,853.26 L297.1,853.32 L297.6,853.35 L298.1,853.37 L298.6,853.39 L299.1,853.39 L299.6,853.40 L300.1,853.40 L300.6,853.40 L301.1,853.40 L301.6,853.40 L302.1,853.40 L302.6,853.40 L303.1,853.40 L303.6,853.40 L304.1,853.40 L304.6,853.40 L305.1,853.40 L305.6,853.40 L306.1,853.40 L306.6,853.40 L307.1,853.40 L307.6,853.40 L308.1,853.40 L308.6,853.40 L309.1,853.40 L309.6,853.40 L310.1,853.40 L310.6,853.40 L311.1,853.40 L311.6,853.40 L312.1,853.40 L312.6,853.40 L313.1,853.40 L313.6,853.40 L314.1,853.40 L314.6,853.40 L315.1,853.40 L315.6,853.40 L316.1,853.40 L316.6,853.40 L317.1,853.40 L317.6,853.40 L318.1,853.40 L318.6,853.40 L319.1,853.40 L319.6,853.40 L320.1,853.40 L320.6,853.40 L321.1,853.40 L321.6,853.40 L322.1,853.40 L322.6,853.40 L323.1,853.40 L323.6,853.40 L324.1,853.40 L324.6,853.40 L325.1,853.40 L325.6,853.40 L326.1,853.40 L326.6,853.40 L327.1,853.40 L327.6,853.40 L328.1,853.40 L328.6,853.40 L329.1,853.40 L329.6,853.40 L330.1,853.40 L330.6,853.40 L331.1,853.40 L331.6,853.40 L332.1,853.40 L332.6,853.40 L333.1,853.40 L333.6,853.40 L334.1,853.40 L334.6,853.40 L335.1,853.40 L335.6,853.40 L336.1,853.40 L336.6,853.40 L337.1,853.40 L337.6,853.40 L338.1,853.40 L338.6,853.40 L339.1,853.40 L339.6,853.40 L340.1,853.40 L340.6,853.40 L341.1,853.40 L341.6,853.40 L342.1,853.40 L342.6,853.40 L343.1,853.40 L343.6,853.40 L344.1,853.40 L344.6,853.40 L345.1,853.40 L345.6,853.40 L346.1,853.40" fill="none" stroke="#3c3c3c" stroke-width="1.15" stroke-linejoin="round"/>
<line x1="301.3" y1="756.9" x2="301.3" y2="853.4" stroke="#8a8a8a" stroke-width="0.8" stroke-dasharray="2.6,1.8"/>
</g>
<rect x="249.6" y="755.9" width="96.70000000000002" height="97.5" fill="none" stroke="#111" stroke-width="1.7"/>
<path d="M253.6,854.1999999999999v2.4M259.3,854.1999999999999v1.6M262.7,854.1999999999999v1.6M265.0,854.1999999999999v1.6M266.9,854.1999999999999v1.6M268.4,854.1999999999999v1.6M269.7,854.1999999999999v1.6M270.8,854.1999999999999v1.6M271.7,854.1999999999999v1.6M272.6,854.1999999999999v2.4M278.3,854.1999999999999v1.6M281.7,854.1999999999999v1.6M284.0,854.1999999999999v1.6M285.9,854.1999999999999v1.6M287.4,854.1999999999999v1.6M288.7,854.1999999999999v1.6M289.8,854.1999999999999v1.6M290.7,854.1999999999999v1.6M291.6,854.1999999999999v2.4M297.3,854.1999999999999v1.6M300.7,854.1999999999999v1.6M303.0,854.1999999999999v1.6M304.9,854.1999999999999v1.6M306.4,854.1999999999999v1.6M307.7,854.1999999999999v1.6M308.8,854.1999999999999v1.6M309.7,854.1999999999999v1.6M310.6,854.1999999999999v2.4M316.3,854.1999999999999v1.6M319.7,854.1999999999999v1.6M322.0,854.1999999999999v1.6M323.9,854.1999999999999v1.6M325.4,854.1999999999999v1.6M326.7,854.1999999999999v1.6M327.8,854.1999999999999v1.6M328.7,854.1999999999999v1.6M329.6,854.1999999999999v2.4M335.3,854.1999999999999v1.6M338.7,854.1999999999999v1.6M341.0,854.1999999999999v1.6M342.9,854.1999999999999v1.6" stroke="#333" stroke-width="0.7"/>
<text x="343.1" y="780.1999999999999" font-size="9.05" text-anchor="end" fill="#222" stroke="#222" stroke-width="0.12">82.8</text>
<text x="343.1" y="830.3" font-size="9.05" text-anchor="end" fill="#222" stroke="#222" stroke-width="0.12">13.8</text>
<clipPath id="gc02"><rect x="353.9" y="755.9" width="96.40000000000003" height="97.5"/></clipPath><g clip-path="url(#gc02)">
<path d="M385.9,795.8 L385.9,795.34 L386.4,794.99 L386.9,794.47 L387.4,793.77 L387.9,792.92 L388.4,791.97 L388.9,791.05 L389.4,790.31 L389.9,789.87 L390.4,789.83 L390.9,790.19 L391.4,790.88 L391.9,791.77 L392.4,792.71 L392.9,793.57 L393.4,794.25 L393.9,794.70 L394.4,794.89 L394.9,794.83 L395.4,794.49 L395.9,793.86 L396.4,792.94 L396.9,791.74 L397.4,790.33 L397.9,788.82 L398.4,787.38 L398.9,786.20 L399.4,785.43 L399.9,785.20 L400.4,785.49 L400.9,786.21 L401.4,787.17 L401.9,788.14 L402.4,788.88 L402.9,789.21 L403.4,789.07 L403.9,788.47 L404.4,787.57 L404.9,786.58 L405.4,785.73 L405.9,785.25 L406.4,785.27 L406.9,785.83 L407.4,786.87 L407.9,788.23 L408.4,789.73 L408.9,791.20 L409.4,792.51 L409.9,793.58 L410.4,794.38 L410.9,794.94 L411.4,795.31 L411.9,795.54 L411.9,795.8 Z" fill="#a7ccf1"/><path d="M353.9,795.80 L354.4,795.80 L354.9,795.80 L355.4,795.80 L355.9,795.80 L356.4,795.80 L356.9,795.80 L357.4,795.80 L357.9,795.80 L358.4,795.80 L358.9,795.80 L359.4,795.80 L359.9,795.80 L360.4,795.80 L360.9,795.80 L361.4,795.80 L361.9,795.80 L362.4,795.80 L362.9,795.80 L363.4,795.80 L363.9,795.80 L364.4,795.80 L364.9,795.80 L365.4,795.80 L365.9,795.80 L366.4,795.80 L366.9,795.80 L367.4,795.80 L367.9,795.80 L368.4,795.80 L368.9,795.80 L369.4,795.80 L369.9,795.80 L370.4,795.80 L370.9,795.80 L371.4,795.80 L371.9,795.80 L372.4,795.80 L372.9,795.80 L373.4,795.80 L373.9,795.80 L374.4,795.80 L374.9,795.80 L375.4,795.80 L375.9,795.80 L376.4,795.80 L376.9,795.80 L377.4,795.80 L377.9,795.80 L378.4,795.80 L378.9,795.80 L379.4,795.80 L379.9,795.80 L380.4,795.80 L380.9,795.80 L381.4,795.80 L381.9,795.80 L382.4,795.80 L382.9,795.80 L383.4,795.79 L383.9,795.78 L384.4,795.74 L384.9,795.68 L385.4,795.55 L385.9,795.34 L386.4,794.99 L386.9,794.47 L387.4,793.77 L387.9,792.92 L388.4,791.97 L388.9,791.05 L389.4,790.31 L389.9,789.87 L390.4,789.83 L390.9,790.19 L391.4,790.88 L391.9,791.77 L392.4,792.71 L392.9,793.57 L393.4,794.25 L393.9,794.70 L394.4,794.89 L394.9,794.83 L395.4,794.49 L395.9,793.86 L396.4,792.94 L396.9,791.74 L397.4,790.33 L397.9,788.82 L398.4,787.38 L398.9,786.20 L399.4,785.43 L399.9,785.20 L400.4,785.49 L400.9,786.21 L401.4,787.17 L401.9,788.14 L402.4,788.88 L402.9,789.21 L403.4,789.07 L403.9,788.47 L404.4,787.57 L404.9,786.58 L405.4,785.73 L405.9,785.25 L406.4,785.27 L406.9,785.83 L407.4,786.87 L407.9,788.23 L408.4,789.73 L408.9,791.20 L409.4,792.51 L409.9,793.58 L410.4,794.38 L410.9,794.94 L411.4,795.31 L411.9,795.54 L412.4,795.67 L412.9,795.74 L413.4,795.77 L413.9,795.79 L414.4,795.79 L414.9,795.80 L415.4,795.80 L415.9,795.80 L416.4,795.80 L416.9,795.80 L417.4,795.80 L417.9,795.80 L418.4,795.80 L418.9,795.80 L419.4,795.80 L419.9,795.80 L420.4,795.80 L420.9,795.80 L421.4,795.80 L421.9,795.80 L422.4,795.80 L422.9,795.80 L423.4,795.80 L423.9,795.80 L424.4,795.80 L424.9,795.80 L425.4,795.80 L425.9,795.80 L426.4,795.80 L426.9,795.80 L427.4,795.80 L427.9,795.80 L428.4,795.80 L428.9,795.80 L429.4,795.80 L429.9,795.80 L430.4,795.80 L430.9,795.80 L431.4,795.80 L431.9,795.80 L432.4,795.80 L432.9,795.80 L433.4,795.80 L433.9,795.80 L434.4,795.80 L434.9,795.80 L435.4,795.80 L435.9,795.80 L436.4,795.80 L436.9,795.80 L437.4,795.80 L437.9,795.80 L438.4,795.80 L438.9,795.80 L439.4,795.80 L439.9,795.80 L440.4,795.80 L440.9,795.80 L441.4,795.80 L441.9,795.80 L442.4,795.80 L442.9,795.80 L443.4,795.80 L443.9,795.80 L444.4,795.80 L444.9,795.80 L445.4,795.80 L445.9,795.80 L446.4,795.80 L446.9,795.80 L447.4,795.80 L447.9,795.80 L448.4,795.80 L448.9,795.80 L449.4,795.80 L449.9,795.80" fill="none" stroke="#3b7be2" stroke-width="1.15" stroke-linejoin="round"/>
<path d="M379.4,815.0 L379.4,814.69 L379.9,814.50 L380.4,814.22 L380.9,813.81 L381.4,813.24 L381.9,812.48 L382.4,811.50 L382.9,810.27 L383.4,808.80 L383.9,807.12 L384.4,805.27 L384.9,803.33 L385.4,801.42 L385.9,799.66 L386.4,798.18 L386.9,797.09 L387.4,796.50 L387.9,796.44 L388.4,796.93 L388.9,797.93 L389.4,799.34 L389.9,801.05 L390.4,802.94 L390.9,804.88 L391.4,806.76 L391.9,808.48 L392.4,810.00 L392.9,811.27 L393.4,812.30 L393.9,813.11 L394.4,813.71 L394.9,814.15 L395.4,814.45 L395.9,814.66 L395.9,815.0 Z" fill="#d8d8d8"/><path d="M353.9,815.00 L354.4,815.00 L354.9,815.00 L355.4,815.00 L355.9,815.00 L356.4,815.00 L356.9,815.00 L357.4,815.00 L357.9,815.00 L358.4,815.00 L358.9,815.00 L359.4,815.00 L359.9,815.00 L360.4,815.00 L360.9,815.00 L361.4,815.00 L361.9,815.00 L362.4,815.00 L362.9,815.00 L363.4,815.00 L363.9,815.00 L364.4,815.00 L364.9,815.00 L365.4,815.00 L365.9,815.00 L366.4,815.00 L366.9,815.00 L367.4,815.00 L367.9,815.00 L368.4,815.00 L368.9,815.00 L369.4,815.00 L369.9,815.00 L370.4,815.00 L370.9,815.00 L371.4,815.00 L371.9,815.00 L372.4,815.00 L372.9,815.00 L373.4,815.00 L373.9,815.00 L374.4,815.00 L374.9,815.00 L375.4,815.00 L375.9,815.00 L376.4,814.99 L376.9,814.98 L377.4,814.97 L377.9,814.94 L378.4,814.89 L378.9,814.81 L379.4,814.69 L379.9,814.50 L380.4,814.22 L380.9,813.81 L381.4,813.24 L381.9,812.48 L382.4,811.50 L382.9,810.27 L383.4,808.80 L383.9,807.12 L384.4,805.27 L384.9,803.33 L385.4,801.42 L385.9,799.66 L386.4,798.18 L386.9,797.09 L387.4,796.50 L387.9,796.44 L388.4,796.93 L388.9,797.93 L389.4,799.34 L389.9,801.05 L390.4,802.94 L390.9,804.88 L391.4,806.76 L391.9,808.48 L392.4,810.00 L392.9,811.27 L393.4,812.30 L393.9,813.11 L394.4,813.71 L394.9,814.15 L395.4,814.45 L395.9,814.66 L396.4,814.79 L396.9,814.88 L397.4,814.93 L397.9,814.96 L398.4,814.98 L398.9,814.99 L399.4,814.99 L399.9,815.00 L400.4,815.00 L400.9,815.00 L401.4,815.00 L401.9,815.00 L402.4,815.00 L402.9,815.00 L403.4,815.00 L403.9,815.00 L404.4,815.00 L404.9,815.00 L405.4,815.00 L405.9,815.00 L406.4,815.00 L406.9,815.00 L407.4,815.00 L407.9,815.00 L408.4,815.00 L408.9,815.00 L409.4,815.00 L409.9,815.00 L410.4,815.00 L410.9,815.00 L411.4,815.00 L411.9,815.00 L412.4,815.00 L412.9,815.00 L413.4,815.00 L413.9,815.00 L414.4,815.00 L414.9,815.00 L415.4,815.00 L415.9,815.00 L416.4,815.00 L416.9,815.00 L417.4,815.00 L417.9,815.00 L418.4,815.00 L418.9,815.00 L419.4,815.00 L419.9,815.00 L420.4,815.00 L420.9,815.00 L421.4,815.00 L421.9,815.00 L422.4,815.00 L422.9,815.00 L423.4,815.00 L423.9,815.00 L424.4,815.00 L424.9,815.00 L425.4,815.00 L425.9,815.00 L426.4,815.00 L426.9,815.00 L427.4,815.00 L427.9,815.00 L428.4,815.00 L428.9,815.00 L429.4,815.00 L429.9,815.00 L430.4,815.00 L430.9,815.00 L431.4,815.00 L431.9,815.00 L432.4,815.00 L432.9,815.00 L433.4,815.00 L433.9,815.00 L434.4,815.00 L434.9,815.00 L435.4,815.00 L435.9,815.00 L436.4,815.00 L436.9,815.00 L437.4,815.00 L437.9,815.00 L438.4,815.00 L438.9,815.00 L439.4,815.00 L439.9,815.00 L440.4,815.00 L440.9,815.00 L441.4,815.00 L441.9,815.00 L442.4,815.00 L442.9,815.00 L443.4,815.00 L443.9,815.00 L444.4,815.00 L444.9,815.00 L445.4,815.00 L445.9,815.00 L446.4,815.00 L446.9,815.00 L447.4,815.00 L447.9,815.00 L448.4,815.00 L448.9,815.00 L449.4,815.00 L449.9,815.00" fill="none" stroke="#a3a3a3" stroke-width="1.15" stroke-linejoin="round"/>
<path d="M383.4,834.4 L383.4,833.93 L383.9,833.48 L384.4,832.69 L384.9,831.40 L385.4,829.43 L385.9,826.63 L386.4,822.91 L386.9,818.34 L387.4,813.20 L387.9,807.95 L388.4,803.23 L388.9,799.68 L389.4,797.87 L389.9,798.07 L390.4,800.27 L390.9,804.10 L391.4,808.98 L391.9,814.25 L392.4,819.31 L392.9,823.72 L393.4,827.26 L393.9,829.89 L394.4,831.71 L394.9,832.88 L395.4,833.59 L395.9,833.99 L395.9,834.4 Z" fill="#a32a34" fill-opacity="0.55"/><path d="M353.9,834.40 L354.4,834.40 L354.9,834.40 L355.4,834.40 L355.9,834.40 L356.4,834.40 L356.9,834.40 L357.4,834.40 L357.9,834.40 L358.4,834.40 L358.9,834.40 L359.4,834.40 L359.9,834.40 L360.4,834.40 L360.9,834.40 L361.4,834.40 L361.9,834.40 L362.4,834.40 L362.9,834.40 L363.4,834.40 L363.9,834.40 L364.4,834.40 L364.9,834.40 L365.4,834.40 L365.9,834.40 L366.4,834.40 L366.9,834.40 L367.4,834.40 L367.9,834.40 L368.4,834.40 L368.9,834.40 L369.4,834.40 L369.9,834.40 L370.4,834.40 L370.9,834.40 L371.4,834.40 L371.9,834.40 L372.4,834.40 L372.9,834.40 L373.4,834.40 L373.9,834.40 L374.4,834.40 L374.9,834.40 L375.4,834.40 L375.9,834.40 L376.4,834.40 L376.9,834.40 L377.4,834.40 L377.9,834.40 L378.4,834.40 L378.9,834.40 L379.4,834.40 L379.9,834.40 L380.4,834.40 L380.9,834.39 L381.4,834.38 L381.9,834.36 L382.4,834.30 L382.9,834.17 L383.4,833.93 L383.9,833.48 L384.4,832.69 L384.9,831.40 L385.4,829.43 L385.9,826.63 L386.4,822.91 L386.9,818.34 L387.4,813.20 L387.9,807.95 L388.4,803.23 L388.9,799.68 L389.4,797.87 L389.9,798.07 L390.4,800.27 L390.9,804.10 L391.4,808.98 L391.9,814.25 L392.4,819.31 L392.9,823.72 L393.4,827.26 L393.9,829.89 L394.4,831.71 L394.9,832.88 L395.4,833.59 L395.9,833.99 L396.4,834.21 L396.9,834.31 L397.4,834.36 L397.9,834.39 L398.4,834.39 L398.9,834.40 L399.4,834.40 L399.9,834.40 L400.4,834.40 L400.9,834.40 L401.4,834.40 L401.9,834.40 L402.4,834.40 L402.9,834.40 L403.4,834.40 L403.9,834.40 L404.4,834.40 L404.9,834.40 L405.4,834.40 L405.9,834.40 L406.4,834.40 L406.9,834.40 L407.4,834.40 L407.9,834.40 L408.4,834.40 L408.9,834.40 L409.4,834.40 L409.9,834.40 L410.4,834.40 L410.9,834.40 L411.4,834.40 L411.9,834.40 L412.4,834.40 L412.9,834.40 L413.4,834.40 L413.9,834.40 L414.4,834.40 L414.9,834.40 L415.4,834.40 L415.9,834.40 L416.4,834.40 L416.9,834.40 L417.4,834.40 L417.9,834.40 L418.4,834.40 L418.9,834.40 L419.4,834.40 L419.9,834.40 L420.4,834.40 L420.9,834.40 L421.4,834.40 L421.9,834.40 L422.4,834.40 L422.9,834.40 L423.4,834.40 L423.9,834.40 L424.4,834.40 L424.9,834.40 L425.4,834.40 L425.9,834.40 L426.4,834.40 L426.9,834.40 L427.4,834.40 L427.9,834.40 L428.4,834.40 L428.9,834.40 L429.4,834.40 L429.9,834.40 L430.4,834.40 L430.9,834.40 L431.4,834.40 L431.9,834.40 L432.4,834.40 L432.9,834.40 L433.4,834.40 L433.9,834.40 L434.4,834.40 L434.9,834.40 L435.4,834.40 L435.9,834.40 L436.4,834.40 L436.9,834.40 L437.4,834.40 L437.9,834.40 L438.4,834.40 L438.9,834.40 L439.4,834.40 L439.9,834.40 L440.4,834.40 L440.9,834.40 L441.4,834.40 L441.9,834.40 L442.4,834.40 L442.9,834.40 L443.4,834.40 L443.9,834.40 L444.4,834.40 L444.9,834.40 L445.4,834.40 L445.9,834.40 L446.4,834.40 L446.9,834.40 L447.4,834.40 L447.9,834.40 L448.4,834.40 L448.9,834.40 L449.4,834.40 L449.9,834.40" fill="none" stroke="#9c2224" stroke-width="1.15" stroke-linejoin="round"/>
<path d="M380.9,853.4 L380.9,853.14 L381.4,852.96 L381.9,852.67 L382.4,852.24 L382.9,851.60 L383.4,850.70 L383.9,849.46 L384.4,847.82 L384.9,845.73 L385.4,843.17 L385.9,840.15 L386.4,836.74 L386.9,833.07 L387.4,829.31 L387.9,825.70 L388.4,822.48 L388.9,819.90 L389.4,818.16 L389.9,817.42 L390.4,817.74 L390.9,819.09 L391.4,821.36 L391.9,824.35 L392.4,827.84 L392.9,831.56 L393.4,835.29 L393.9,838.83 L394.4,842.01 L394.9,844.76 L395.4,847.04 L395.9,848.86 L396.4,850.25 L396.9,851.28 L397.4,852.01 L397.9,852.52 L398.4,852.86 L398.9,853.08 L398.9,853.4 Z" fill="#b3b3b3"/><path d="M353.9,853.40 L354.4,853.40 L354.9,853.40 L355.4,853.40 L355.9,853.40 L356.4,853.40 L356.9,853.40 L357.4,853.40 L357.9,853.40 L358.4,853.40 L358.9,853.40 L359.4,853.40 L359.9,853.40 L360.4,853.40 L360.9,853.40 L361.4,853.40 L361.9,853.40 L362.4,853.40 L362.9,853.40 L363.4,853.40 L363.9,853.40 L364.4,853.40 L364.9,853.40 L365.4,853.40 L365.9,853.40 L366.4,853.40 L366.9,853.40 L367.4,853.40 L367.9,853.40 L368.4,853.40 L368.9,853.40 L369.4,853.40 L369.9,853.40 L370.4,853.40 L370.9,853.40 L371.4,853.40 L371.9,853.40 L372.4,853.40 L372.9,853.40 L373.4,853.40 L373.9,853.40 L374.4,853.40 L374.9,853.40 L375.4,853.40 L375.9,853.40 L376.4,853.40 L376.9,853.40 L377.4,853.40 L377.9,853.39 L378.4,853.39 L378.9,853.38 L379.4,853.35 L379.9,853.32 L380.4,853.25 L380.9,853.14 L381.4,852.96 L381.9,852.67 L382.4,852.24 L382.9,851.60 L383.4,850.70 L383.9,849.46 L384.4,847.82 L384.9,845.73 L385.4,843.17 L385.9,840.15 L386.4,836.74 L386.9,833.07 L387.4,829.31 L387.9,825.70 L388.4,822.48 L388.9,819.90 L389.4,818.16 L389.9,817.42 L390.4,817.74 L390.9,819.09 L391.4,821.36 L391.9,824.35 L392.4,827.84 L392.9,831.56 L393.4,835.29 L393.9,838.83 L394.4,842.01 L394.9,844.76 L395.4,847.04 L395.9,848.86 L396.4,850.25 L396.9,851.28 L397.4,852.01 L397.9,852.52 L398.4,852.86 L398.9,853.08 L399.4,853.21 L399.9,853.29 L400.4,853.34 L400.9,853.37 L401.4,853.38 L401.9,853.39 L402.4,853.40 L402.9,853.40 L403.4,853.40 L403.9,853.40 L404.4,853.40 L404.9,853.40 L405.4,853.40 L405.9,853.40 L406.4,853.40 L406.9,853.40 L407.4,853.40 L407.9,853.40 L408.4,853.40 L408.9,853.40 L409.4,853.40 L409.9,853.40 L410.4,853.40 L410.9,853.40 L411.4,853.40 L411.9,853.40 L412.4,853.40 L412.9,853.40 L413.4,853.40 L413.9,853.40 L414.4,853.40 L414.9,853.40 L415.4,853.40 L415.9,853.40 L416.4,853.40 L416.9,853.40 L417.4,853.40 L417.9,853.40 L418.4,853.40 L418.9,853.40 L419.4,853.40 L419.9,853.40 L420.4,853.40 L420.9,853.40 L421.4,853.40 L421.9,853.40 L422.4,853.40 L422.9,853.40 L423.4,853.40 L423.9,853.40 L424.4,853.40 L424.9,853.40 L425.4,853.40 L425.9,853.40 L426.4,853.40 L426.9,853.40 L427.4,853.40 L427.9,853.40 L428.4,853.40 L428.9,853.40 L429.4,853.40 L429.9,853.40 L430.4,853.40 L430.9,853.40 L431.4,853.40 L431.9,853.40 L432.4,853.40 L432.9,853.40 L433.4,853.40 L433.9,853.40 L434.4,853.40 L434.9,853.40 L435.4,853.40 L435.9,853.40 L436.4,853.40 L436.9,853.40 L437.4,853.40 L437.9,853.40 L438.4,853.40 L438.9,853.40 L439.4,853.40 L439.9,853.40 L440.4,853.40 L440.9,853.40 L441.4,853.40 L441.9,853.40 L442.4,853.40 L442.9,853.40 L443.4,853.40 L443.9,853.40 L444.4,853.40 L444.9,853.40 L445.4,853.40 L445.9,853.40 L446.4,853.40 L446.9,853.40 L447.4,853.40 L447.9,853.40 L448.4,853.40 L448.9,853.40 L449.4,853.40 L449.9,853.40" fill="none" stroke="#3c3c3c" stroke-width="1.15" stroke-linejoin="round"/>
<line x1="396.2" y1="756.9" x2="396.2" y2="853.4" stroke="#8a8a8a" stroke-width="0.8" stroke-dasharray="2.6,1.8"/>
</g>
<rect x="353.9" y="755.9" width="96.40000000000003" height="97.5" fill="none" stroke="#111" stroke-width="1.7"/>
<path d="M357.9,854.1999999999999v2.4M363.6,854.1999999999999v1.6M367.0,854.1999999999999v1.6M369.3,854.1999999999999v1.6M371.2,854.1999999999999v1.6M372.7,854.1999999999999v1.6M374.0,854.1999999999999v1.6M375.1,854.1999999999999v1.6M376.0,854.1999999999999v1.6M376.9,854.1999999999999v2.4M382.6,854.1999999999999v1.6M386.0,854.1999999999999v1.6M388.3,854.1999999999999v1.6M390.2,854.1999999999999v1.6M391.7,854.1999999999999v1.6M393.0,854.1999999999999v1.6M394.1,854.1999999999999v1.6M395.0,854.1999999999999v1.6M395.9,854.1999999999999v2.4M401.6,854.1999999999999v1.6M405.0,854.1999999999999v1.6M407.3,854.1999999999999v1.6M409.2,854.1999999999999v1.6M410.7,854.1999999999999v1.6M412.0,854.1999999999999v1.6M413.1,854.1999999999999v1.6M414.0,854.1999999999999v1.6M414.9,854.1999999999999v2.4M420.6,854.1999999999999v1.6M424.0,854.1999999999999v1.6M426.3,854.1999999999999v1.6M428.2,854.1999999999999v1.6M429.7,854.1999999999999v1.6M431.0,854.1999999999999v1.6M432.1,854.1999999999999v1.6M433.0,854.1999999999999v1.6M433.9,854.1999999999999v2.4M439.6,854.1999999999999v1.6M443.0,854.1999999999999v1.6M445.3,854.1999999999999v1.6M447.2,854.1999999999999v1.6" stroke="#333" stroke-width="0.7"/>
<text x="447.1" y="780.1999999999999" font-size="9.05" text-anchor="end" fill="#222" stroke="#222" stroke-width="0.12">68.4</text>
<text x="447.1" y="830.3" font-size="9.05" text-anchor="end" fill="#222" stroke="#222" stroke-width="0.12">0.6</text>
<clipPath id="gc03"><rect x="457.8" y="755.9" width="96.99999999999994" height="97.5"/></clipPath><g clip-path="url(#gc03)">
<path d="M495.8,795.8 L495.8,795.45 L496.3,795.24 L496.8,794.95 L497.3,794.57 L497.8,794.09 L498.3,793.53 L498.8,792.94 L499.3,792.34 L499.8,791.80 L500.3,791.37 L500.8,791.06 L501.3,790.90 L501.8,790.84 L502.3,790.85 L502.8,790.87 L503.3,790.88 L503.8,790.84 L504.3,790.80 L504.8,790.79 L505.3,790.86 L505.8,791.03 L506.3,791.29 L506.8,791.57 L507.3,791.80 L507.8,791.89 L508.3,791.80 L508.8,791.49 L509.3,791.00 L509.8,790.41 L510.3,789.83 L510.8,789.34 L511.3,789.04 L511.8,788.95 L512.3,789.08 L512.8,789.35 L513.3,789.67 L513.8,789.96 L514.3,790.10 L514.8,790.04 L515.3,789.76 L515.8,789.29 L516.3,788.70 L516.8,788.06 L517.3,787.48 L517.8,787.02 L518.3,786.75 L518.8,786.67 L519.3,786.75 L519.8,786.95 L520.3,787.19 L520.8,787.43 L521.3,787.62 L521.8,787.78 L522.3,787.93 L522.8,788.12 L523.3,788.40 L523.8,788.82 L524.3,789.37 L524.8,790.04 L525.3,790.76 L525.8,791.49 L526.3,792.15 L526.8,792.70 L527.3,793.10 L527.8,793.36 L528.3,793.50 L528.8,793.55 L529.3,793.54 L529.8,793.53 L530.3,793.53 L530.8,793.57 L531.3,793.67 L531.8,793.82 L532.3,794.01 L532.8,794.23 L533.3,794.46 L533.8,794.70 L534.3,794.92 L534.8,795.12 L535.3,795.29 L535.8,795.43 L536.3,795.54 L536.3,795.8 Z" fill="#a7ccf1"/><path d="M457.8,795.80 L458.3,795.80 L458.8,795.80 L459.3,795.80 L459.8,795.80 L460.3,795.80 L460.8,795.80 L461.3,795.80 L461.8,795.80 L462.3,795.80 L462.8,795.80 L463.3,795.80 L463.8,795.80 L464.3,795.80 L464.8,795.80 L465.3,795.80 L465.8,795.80 L466.3,795.80 L466.8,795.80 L467.3,795.80 L467.8,795.80 L468.3,795.80 L468.8,795.80 L469.3,795.80 L469.8,795.80 L470.3,795.80 L470.8,795.80 L471.3,795.80 L471.8,795.80 L472.3,795.80 L472.8,795.80 L473.3,795.80 L473.8,795.80 L474.3,795.80 L474.8,795.80 L475.3,795.80 L475.8,795.80 L476.3,795.80 L476.8,795.80 L477.3,795.80 L477.8,795.80 L478.3,795.80 L478.8,795.80 L479.3,795.80 L479.8,795.80 L480.3,795.80 L480.8,795.80 L481.3,795.80 L481.8,795.80 L482.3,795.80 L482.8,795.80 L483.3,795.80 L483.8,795.80 L484.3,795.80 L484.8,795.80 L485.3,795.80 L485.8,795.80 L486.3,795.80 L486.8,795.80 L487.3,795.80 L487.8,795.80 L488.3,795.80 L488.8,795.80 L489.3,795.80 L489.8,795.80 L490.3,795.80 L490.8,795.80 L491.3,795.80 L491.8,795.80 L492.3,795.80 L492.8,795.79 L493.3,795.78 L493.8,795.77 L494.3,795.74 L494.8,795.68 L495.3,795.59 L495.8,795.45 L496.3,795.24 L496.8,794.95 L497.3,794.57 L497.8,794.09 L498.3,793.53 L498.8,792.94 L499.3,792.34 L499.8,791.80 L500.3,791.37 L500.8,791.06 L501.3,790.90 L501.8,790.84 L502.3,790.85 L502.8,790.87 L503.3,790.88 L503.8,790.84 L504.3,790.80 L504.8,790.79 L505.3,790.86 L505.8,791.03 L506.3,791.29 L506.8,791.57 L507.3,791.80 L507.8,791.89 L508.3,791.80 L508.8,791.49 L509.3,791.00 L509.8,790.41 L510.3,789.83 L510.8,789.34 L511.3,789.04 L511.8,788.95 L512.3,789.08 L512.8,789.35 L513.3,789.67 L513.8,789.96 L514.3,790.10 L514.8,790.04 L515.3,789.76 L515.8,789.29 L516.3,788.70 L516.8,788.06 L517.3,787.48 L517.8,787.02 L518.3,786.75 L518.8,786.67 L519.3,786.75 L519.8,786.95 L520.3,787.19 L520.8,787.43 L521.3,787.62 L521.8,787.78 L522.3,787.93 L522.8,788.12 L523.3,788.40 L523.8,788.82 L524.3,789.37 L524.8,790.04 L525.3,790.76 L525.8,791.49 L526.3,792.15 L526.8,792.70 L527.3,793.10 L527.8,793.36 L528.3,793.50 L528.8,793.55 L529.3,793.54 L529.8,793.53 L530.3,793.53 L530.8,793.57 L531.3,793.67 L531.8,793.82 L532.3,794.01 L532.8,794.23 L533.3,794.46 L533.8,794.70 L534.3,794.92 L534.8,795.12 L535.3,795.29 L535.8,795.43 L536.3,795.54 L536.8,795.62 L537.3,795.68 L537.8,795.73 L538.3,795.75 L538.8,795.77 L539.3,795.78 L539.8,795.79 L540.3,795.80 L540.8,795.80 L541.3,795.80 L541.8,795.80 L542.3,795.80 L542.8,795.80 L543.3,795.80 L543.8,795.80 L544.3,795.80 L544.8,795.80 L545.3,795.80 L545.8,795.80 L546.3,795.80 L546.8,795.80 L547.3,795.80 L547.8,795.80 L548.3,795.80 L548.8,795.80 L549.3,795.80 L549.8,795.80 L550.3,795.80 L550.8,795.80 L551.3,795.80 L551.8,795.80 L552.3,795.80 L552.8,795.80 L553.3,795.80 L553.8,795.80 L554.3,795.80 L554.8,795.80" fill="none" stroke="#3b7be2" stroke-width="1.15" stroke-linejoin="round"/>
<path d="M482.8,815.0 L482.8,814.65 L483.3,814.47 L483.8,814.21 L484.3,813.86 L484.8,813.39 L485.3,812.77 L485.8,811.99 L486.3,811.03 L486.8,809.88 L487.3,808.54 L487.8,807.04 L488.3,805.42 L488.8,803.72 L489.3,802.02 L489.8,800.41 L490.3,798.97 L490.8,797.79 L491.3,796.94 L491.8,796.48 L492.3,796.43 L492.8,796.81 L493.3,797.59 L493.8,798.71 L494.3,800.11 L494.8,801.69 L495.3,803.38 L495.8,805.08 L496.3,806.72 L496.8,808.25 L497.3,809.63 L497.8,810.82 L498.3,811.82 L498.8,812.63 L499.3,813.28 L499.8,813.78 L500.3,814.15 L500.8,814.42 L501.3,814.62 L501.3,815.0 Z" fill="#d8d8d8"/><path d="M457.8,815.00 L458.3,815.00 L458.8,815.00 L459.3,815.00 L459.8,815.00 L460.3,815.00 L460.8,815.00 L461.3,815.00 L461.8,815.00 L462.3,815.00 L462.8,815.00 L463.3,815.00 L463.8,815.00 L464.3,815.00 L464.8,815.00 L465.3,815.00 L465.8,815.00 L466.3,815.00 L466.8,815.00 L467.3,815.00 L467.8,815.00 L468.3,815.00 L468.8,815.00 L469.3,815.00 L469.8,815.00 L470.3,815.00 L470.8,815.00 L471.3,815.00 L471.8,815.00 L472.3,815.00 L472.8,815.00 L473.3,815.00 L473.8,815.00 L474.3,815.00 L474.8,815.00 L475.3,815.00 L475.8,815.00 L476.3,815.00 L476.8,815.00 L477.3,815.00 L477.8,815.00 L478.3,815.00 L478.8,814.99 L479.3,814.99 L479.8,814.98 L480.3,814.97 L480.8,814.95 L481.3,814.91 L481.8,814.86 L482.3,814.77 L482.8,814.65 L483.3,814.47 L483.8,814.21 L484.3,813.86 L484.8,813.39 L485.3,812.77 L485.8,811.99 L486.3,811.03 L486.8,809.88 L487.3,808.54 L487.8,807.04 L488.3,805.42 L488.8,803.72 L489.3,802.02 L489.8,800.41 L490.3,798.97 L490.8,797.79 L491.3,796.94 L491.8,796.48 L492.3,796.43 L492.8,796.81 L493.3,797.59 L493.8,798.71 L494.3,800.11 L494.8,801.69 L495.3,803.38 L495.8,805.08 L496.3,806.72 L496.8,808.25 L497.3,809.63 L497.8,810.82 L498.3,811.82 L498.8,812.63 L499.3,813.28 L499.8,813.78 L500.3,814.15 L500.8,814.42 L501.3,814.62 L501.8,814.75 L502.3,814.84 L502.8,814.90 L503.3,814.94 L503.8,814.97 L504.3,814.98 L504.8,814.99 L505.3,814.99 L505.8,815.00 L506.3,815.00 L506.8,815.00 L507.3,815.00 L507.8,815.00 L508.3,815.00 L508.8,815.00 L509.3,815.00 L509.8,815.00 L510.3,815.00 L510.8,815.00 L511.3,815.00 L511.8,815.00 L512.3,815.00 L512.8,815.00 L513.3,815.00 L513.8,815.00 L514.3,815.00 L514.8,815.00 L515.3,815.00 L515.8,815.00 L516.3,815.00 L516.8,815.00 L517.3,815.00 L517.8,815.00 L518.3,815.00 L518.8,815.00 L519.3,815.00 L519.8,815.00 L520.3,815.00 L520.8,815.00 L521.3,815.00 L521.8,815.00 L522.3,815.00 L522.8,815.00 L523.3,815.00 L523.8,815.00 L524.3,815.00 L524.8,815.00 L525.3,815.00 L525.8,815.00 L526.3,815.00 L526.8,815.00 L527.3,815.00 L527.8,815.00 L528.3,815.00 L528.8,815.00 L529.3,815.00 L529.8,815.00 L530.3,815.00 L530.8,815.00 L531.3,815.00 L531.8,815.00 L532.3,815.00 L532.8,815.00 L533.3,815.00 L533.8,815.00 L534.3,815.00 L534.8,815.00 L535.3,815.00 L535.8,815.00 L536.3,815.00 L536.8,815.00 L537.3,815.00 L537.8,815.00 L538.3,815.00 L538.8,815.00 L539.3,815.00 L539.8,815.00 L540.3,815.00 L540.8,815.00 L541.3,815.00 L541.8,815.00 L542.3,815.00 L542.8,815.00 L543.3,815.00 L543.8,815.00 L544.3,815.00 L544.8,815.00 L545.3,815.00 L545.8,815.00 L546.3,815.00 L546.8,815.00 L547.3,815.00 L547.8,815.00 L548.3,815.00 L548.8,815.00 L549.3,815.00 L549.8,815.00 L550.3,815.00 L550.8,815.00 L551.3,815.00 L551.8,815.00 L552.3,815.00 L552.8,815.00 L553.3,815.00 L553.8,815.00 L554.3,815.00 L554.8,815.00" fill="none" stroke="#a3a3a3" stroke-width="1.15" stroke-linejoin="round"/>
<path d="M494.8,834.4 L494.8,834.09 L495.3,833.90 L495.8,833.58 L496.3,833.09 L496.8,832.33 L497.3,831.22 L497.8,829.66 L498.3,827.57 L498.8,824.88 L499.3,821.61 L499.8,817.81 L500.3,813.64 L500.8,809.36 L501.3,805.28 L501.8,801.76 L502.3,799.13 L502.8,797.66 L503.3,797.50 L503.8,798.68 L504.3,801.07 L504.8,804.40 L505.3,808.37 L505.8,812.60 L506.3,816.77 L506.8,820.63 L507.3,823.99 L507.8,826.76 L508.3,828.94 L508.8,830.56 L509.3,831.73 L509.8,832.52 L510.3,833.03 L510.8,833.35 L511.3,833.53 L511.8,833.63 L512.3,833.68 L512.8,833.70 L513.3,833.70 L513.8,833.69 L514.3,833.68 L514.8,833.67 L515.3,833.66 L515.8,833.65 L516.3,833.64 L516.8,833.63 L517.3,833.62 L517.8,833.61 L518.3,833.61 L518.8,833.60 L519.3,833.60 L519.8,833.60 L520.3,833.60 L520.8,833.60 L521.3,833.60 L521.8,833.61 L522.3,833.61 L522.8,833.62 L523.3,833.63 L523.8,833.64 L524.3,833.65 L524.8,833.66 L525.3,833.67 L525.8,833.69 L526.3,833.70 L526.8,833.72 L527.3,833.74 L527.8,833.75 L528.3,833.77 L528.8,833.79 L529.3,833.81 L529.8,833.83 L530.3,833.85 L530.8,833.87 L531.3,833.89 L531.8,833.91 L532.3,833.93 L532.8,833.95 L533.3,833.97 L533.8,833.99 L534.3,834.01 L534.8,834.03 L535.3,834.05 L535.8,834.06 L536.3,834.08 L536.8,834.10 L537.3,834.12 L537.8,834.13 L538.3,834.15 L538.3,834.4 Z" fill="#a32a34" fill-opacity="0.55"/><path d="M457.8,834.40 L458.3,834.40 L458.8,834.40 L459.3,834.40 L459.8,834.40 L460.3,834.40 L460.8,834.40 L461.3,834.40 L461.8,834.40 L462.3,834.40 L462.8,834.40 L463.3,834.40 L463.8,834.40 L464.3,834.40 L464.8,834.40 L465.3,834.40 L465.8,834.40 L466.3,834.40 L466.8,834.40 L467.3,834.40 L467.8,834.40 L468.3,834.40 L468.8,834.40 L469.3,834.40 L469.8,834.40 L470.3,834.40 L470.8,834.40 L471.3,834.40 L471.8,834.40 L472.3,834.40 L472.8,834.40 L473.3,834.40 L473.8,834.40 L474.3,834.40 L474.8,834.40 L475.3,834.40 L475.8,834.40 L476.3,834.40 L476.8,834.40 L477.3,834.40 L477.8,834.40 L478.3,834.40 L478.8,834.40 L479.3,834.40 L479.8,834.40 L480.3,834.40 L480.8,834.40 L481.3,834.40 L481.8,834.39 L482.3,834.39 L482.8,834.39 L483.3,834.39 L483.8,834.39 L484.3,834.39 L484.8,834.39 L485.3,834.39 L485.8,834.39 L486.3,834.38 L486.8,834.38 L487.3,834.38 L487.8,834.38 L488.3,834.38 L488.8,834.37 L489.3,834.37 L489.8,834.37 L490.3,834.36 L490.8,834.36 L491.3,834.35 L491.8,834.35 L492.3,834.34 L492.8,834.32 L493.3,834.30 L493.8,834.27 L494.3,834.20 L494.8,834.09 L495.3,833.90 L495.8,833.58 L496.3,833.09 L496.8,832.33 L497.3,831.22 L497.8,829.66 L498.3,827.57 L498.8,824.88 L499.3,821.61 L499.8,817.81 L500.3,813.64 L500.8,809.36 L501.3,805.28 L501.8,801.76 L502.3,799.13 L502.8,797.66 L503.3,797.50 L503.8,798.68 L504.3,801.07 L504.8,804.40 L505.3,808.37 L505.8,812.60 L506.3,816.77 L506.8,820.63 L507.3,823.99 L507.8,826.76 L508.3,828.94 L508.8,830.56 L509.3,831.73 L509.8,832.52 L510.3,833.03 L510.8,833.35 L511.3,833.53 L511.8,833.63 L512.3,833.68 L512.8,833.70 L513.3,833.70 L513.8,833.69 L514.3,833.68 L514.8,833.67 L515.3,833.66 L515.8,833.65 L516.3,833.64 L516.8,833.63 L517.3,833.62 L517.8,833.61 L518.3,833.61 L518.8,833.60 L519.3,833.60 L519.8,833.60 L520.3,833.60 L520.8,833.60 L521.3,833.60 L521.8,833.61 L522.3,833.61 L522.8,833.62 L523.3,833.63 L523.8,833.64 L524.3,833.65 L524.8,833.66 L525.3,833.67 L525.8,833.69 L526.3,833.70 L526.8,833.72 L527.3,833.74 L527.8,833.75 L528.3,833.77 L528.8,833.79 L529.3,833.81 L529.8,833.83 L530.3,833.85 L530.8,833.87 L531.3,833.89 L531.8,833.91 L532.3,833.93 L532.8,833.95 L533.3,833.97 L533.8,833.99 L534.3,834.01 L534.8,834.03 L535.3,834.05 L535.8,834.06 L536.3,834.08 L536.8,834.10 L537.3,834.12 L537.8,834.13 L538.3,834.15 L538.8,834.17 L539.3,834.18 L539.8,834.19 L540.3,834.21 L540.8,834.22 L541.3,834.23 L541.8,834.25 L542.3,834.26 L542.8,834.27 L543.3,834.28 L543.8,834.29 L544.3,834.30 L544.8,834.31 L545.3,834.31 L545.8,834.32 L546.3,834.33 L546.8,834.33 L547.3,834.34 L547.8,834.35 L548.3,834.35 L548.8,834.36 L549.3,834.36 L549.8,834.36 L550.3,834.37 L550.8,834.37 L551.3,834.37 L551.8,834.38 L552.3,834.38 L552.8,834.38 L553.3,834.38 L553.8,834.38 L554.3,834.39 L554.8,834.39" fill="none" stroke="#9c2224" stroke-width="1.15" stroke-linejoin="round"/>
<path d="M485.3,853.4 L485.3,853.00 L485.8,852.74 L486.3,852.34 L486.8,851.75 L487.3,850.90 L487.8,849.74 L488.3,848.18 L488.8,846.19 L489.3,843.72 L489.8,840.79 L490.3,837.45 L490.8,833.82 L491.3,830.06 L491.8,826.40 L492.3,823.08 L492.8,820.35 L493.3,818.43 L493.8,817.49 L494.3,817.59 L494.8,818.74 L495.3,820.84 L495.8,823.71 L496.3,827.11 L496.8,830.81 L497.3,834.56 L497.8,838.14 L498.3,841.41 L498.8,844.25 L499.3,846.62 L499.8,848.53 L500.3,850.00 L500.8,851.10 L501.3,851.89 L501.8,852.43 L502.3,852.80 L502.8,853.04 L502.8,853.4 Z" fill="#b3b3b3"/><path d="M457.8,853.40 L458.3,853.40 L458.8,853.40 L459.3,853.40 L459.8,853.40 L460.3,853.40 L460.8,853.40 L461.3,853.40 L461.8,853.40 L462.3,853.40 L462.8,853.40 L463.3,853.40 L463.8,853.40 L464.3,853.40 L464.8,853.40 L465.3,853.40 L465.8,853.40 L466.3,853.40 L466.8,853.40 L467.3,853.40 L467.8,853.40 L468.3,853.40 L468.8,853.40 L469.3,853.40 L469.8,853.40 L470.3,853.40 L470.8,853.40 L471.3,853.40 L471.8,853.40 L472.3,853.40 L472.8,853.40 L473.3,853.40 L473.8,853.40 L474.3,853.40 L474.8,853.40 L475.3,853.40 L475.8,853.40 L476.3,853.40 L476.8,853.40 L477.3,853.40 L477.8,853.40 L478.3,853.40 L478.8,853.40 L479.3,853.40 L479.8,853.40 L480.3,853.40 L480.8,853.40 L481.3,853.40 L481.8,853.39 L482.3,853.39 L482.8,853.38 L483.3,853.36 L483.8,853.33 L484.3,853.27 L484.8,853.17 L485.3,853.00 L485.8,852.74 L486.3,852.34 L486.8,851.75 L487.3,850.90 L487.8,849.74 L488.3,848.18 L488.8,846.19 L489.3,843.72 L489.8,840.79 L490.3,837.45 L490.8,833.82 L491.3,830.06 L491.8,826.40 L492.3,823.08 L492.8,820.35 L493.3,818.43 L493.8,817.49 L494.3,817.59 L494.8,818.74 L495.3,820.84 L495.8,823.71 L496.3,827.11 L496.8,830.81 L497.3,834.56 L497.8,838.14 L498.3,841.41 L498.8,844.25 L499.3,846.62 L499.8,848.53 L500.3,850.00 L500.8,851.10 L501.3,851.89 L501.8,852.43 L502.3,852.80 L502.8,853.04 L503.3,853.19 L503.8,853.28 L504.3,853.33 L504.8,853.36 L505.3,853.38 L505.8,853.39 L506.3,853.40 L506.8,853.40 L507.3,853.40 L507.8,853.40 L508.3,853.40 L508.8,853.40 L509.3,853.40 L509.8,853.40 L510.3,853.40 L510.8,853.40 L511.3,853.40 L511.8,853.40 L512.3,853.40 L512.8,853.40 L513.3,853.40 L513.8,853.40 L514.3,853.40 L514.8,853.40 L515.3,853.40 L515.8,853.40 L516.3,853.40 L516.8,853.40 L517.3,853.40 L517.8,853.40 L518.3,853.40 L518.8,853.40 L519.3,853.40 L519.8,853.40 L520.3,853.40 L520.8,853.40 L521.3,853.40 L521.8,853.40 L522.3,853.40 L522.8,853.40 L523.3,853.40 L523.8,853.40 L524.3,853.40 L524.8,853.40 L525.3,853.40 L525.8,853.40 L526.3,853.40 L526.8,853.40 L527.3,853.40 L527.8,853.40 L528.3,853.40 L528.8,853.40 L529.3,853.40 L529.8,853.40 L530.3,853.40 L530.8,853.40 L531.3,853.40 L531.8,853.40 L532.3,853.40 L532.8,853.40 L533.3,853.40 L533.8,853.40 L534.3,853.40 L534.8,853.40 L535.3,853.40 L535.8,853.40 L536.3,853.40 L536.8,853.40 L537.3,853.40 L537.8,853.40 L538.3,853.40 L538.8,853.40 L539.3,853.40 L539.8,853.40 L540.3,853.40 L540.8,853.40 L541.3,853.40 L541.8,853.40 L542.3,853.40 L542.8,853.40 L543.3,853.40 L543.8,853.40 L544.3,853.40 L544.8,853.40 L545.3,853.40 L545.8,853.40 L546.3,853.40 L546.8,853.40 L547.3,853.40 L547.8,853.40 L548.3,853.40 L548.8,853.40 L549.3,853.40 L549.8,853.40 L550.3,853.40 L550.8,853.40 L551.3,853.40 L551.8,853.40 L552.3,853.40 L552.8,853.40 L553.3,853.40 L553.8,853.40 L554.3,853.40 L554.8,853.40" fill="none" stroke="#3c3c3c" stroke-width="1.15" stroke-linejoin="round"/>
<line x1="509.4" y1="756.9" x2="509.4" y2="853.4" stroke="#8a8a8a" stroke-width="0.8" stroke-dasharray="2.6,1.8"/>
</g>
<rect x="457.8" y="755.9" width="96.99999999999994" height="97.5" fill="none" stroke="#111" stroke-width="1.7"/>
<path d="M461.8,854.1999999999999v2.4M467.5,854.1999999999999v1.6M470.9,854.1999999999999v1.6M473.2,854.1999999999999v1.6M475.1,854.1999999999999v1.6M476.6,854.1999999999999v1.6M477.9,854.1999999999999v1.6M479.0,854.1999999999999v1.6M479.9,854.1999999999999v1.6M480.8,854.1999999999999v2.4M486.5,854.1999999999999v1.6M489.9,854.1999999999999v1.6M492.2,854.1999999999999v1.6M494.1,854.1999999999999v1.6M495.6,854.1999999999999v1.6M496.9,854.1999999999999v1.6M498.0,854.1999999999999v1.6M498.9,854.1999999999999v1.6M499.8,854.1999999999999v2.4M505.5,854.1999999999999v1.6M508.9,854.1999999999999v1.6M511.2,854.1999999999999v1.6M513.1,854.1999999999999v1.6M514.6,854.1999999999999v1.6M515.9,854.1999999999999v1.6M517.0,854.1999999999999v1.6M517.9,854.1999999999999v1.6M518.8,854.1999999999999v2.4M524.5,854.1999999999999v1.6M527.9,854.1999999999999v1.6M530.2,854.1999999999999v1.6M532.1,854.1999999999999v1.6M533.6,854.1999999999999v1.6M534.9,854.1999999999999v1.6M536.0,854.1999999999999v1.6M536.9,854.1999999999999v1.6M537.8,854.1999999999999v2.4M543.5,854.1999999999999v1.6M546.9,854.1999999999999v1.6M549.2,854.1999999999999v1.6M551.1,854.1999999999999v1.6M552.6,854.1999999999999v1.6" stroke="#333" stroke-width="0.7"/>
<text x="551.5999999999999" y="780.1999999999999" font-size="9.05" text-anchor="end" fill="#222" stroke="#222" stroke-width="0.12">72.2</text>
<text x="551.5999999999999" y="830.3" font-size="9.05" text-anchor="end" fill="#222" stroke="#222" stroke-width="0.12">3.6</text>
<clipPath id="gc10"><rect x="146.3" y="864.9" width="97.39999999999998" height="97.60000000000002"/></clipPath><g clip-path="url(#gc10)">
<path d="M174.3,904.8 L174.3,904.40 L174.8,904.05 L175.3,903.47 L175.8,902.53 L176.3,901.14 L176.8,899.18 L177.3,896.61 L177.8,893.46 L178.3,889.89 L178.8,886.18 L179.3,882.72 L179.8,879.93 L180.3,878.20 L180.8,877.78 L181.3,878.73 L181.8,880.91 L182.3,884.01 L182.8,887.60 L183.3,891.28 L183.8,894.69 L184.3,897.61 L184.8,899.91 L185.3,901.62 L185.8,902.80 L186.3,903.56 L186.8,904.02 L187.3,904.27 L187.8,904.40 L188.3,904.46 L188.8,904.47 L189.3,904.46 L189.8,904.44 L190.3,904.41 L190.8,904.39 L191.3,904.36 L191.8,904.33 L192.3,904.30 L192.8,904.27 L193.3,904.24 L193.8,904.21 L194.3,904.18 L194.8,904.15 L195.3,904.13 L195.8,904.10 L196.3,904.08 L196.8,904.06 L197.3,904.04 L197.8,904.03 L198.3,904.02 L198.8,904.01 L199.3,904.00 L199.8,904.00 L200.3,904.00 L200.8,904.00 L201.3,904.01 L201.8,904.02 L202.3,904.03 L202.8,904.05 L203.3,904.07 L203.8,904.09 L204.3,904.11 L204.8,904.13 L205.3,904.16 L205.8,904.18 L206.3,904.21 L206.8,904.24 L207.3,904.27 L207.8,904.30 L208.3,904.33 L208.8,904.36 L209.3,904.39 L209.8,904.42 L210.3,904.45 L210.8,904.48 L211.3,904.50 L211.8,904.53 L211.8,904.8 Z" fill="#a7ccf1"/><path d="M146.3,904.80 L146.8,904.80 L147.3,904.80 L147.8,904.80 L148.3,904.80 L148.8,904.80 L149.3,904.80 L149.8,904.80 L150.3,904.80 L150.8,904.80 L151.3,904.80 L151.8,904.80 L152.3,904.80 L152.8,904.80 L153.3,904.80 L153.8,904.80 L154.3,904.80 L154.8,904.80 L155.3,904.80 L155.8,904.80 L156.3,904.80 L156.8,904.80 L157.3,904.80 L157.8,904.80 L158.3,904.80 L158.8,904.80 L159.3,904.80 L159.8,904.80 L160.3,904.80 L160.8,904.80 L161.3,904.80 L161.8,904.80 L162.3,904.80 L162.8,904.80 L163.3,904.80 L163.8,904.80 L164.3,904.80 L164.8,904.80 L165.3,904.80 L165.8,904.80 L166.3,904.80 L166.8,904.80 L167.3,904.80 L167.8,904.80 L168.3,904.80 L168.8,904.80 L169.3,904.80 L169.8,904.80 L170.3,904.80 L170.8,904.80 L171.3,904.80 L171.8,904.79 L172.3,904.78 L172.8,904.75 L173.3,904.70 L173.8,904.60 L174.3,904.40 L174.8,904.05 L175.3,903.47 L175.8,902.53 L176.3,901.14 L176.8,899.18 L177.3,896.61 L177.8,893.46 L178.3,889.89 L178.8,886.18 L179.3,882.72 L179.8,879.93 L180.3,878.20 L180.8,877.78 L181.3,878.73 L181.8,880.91 L182.3,884.01 L182.8,887.60 L183.3,891.28 L183.8,894.69 L184.3,897.61 L184.8,899.91 L185.3,901.62 L185.8,902.80 L186.3,903.56 L186.8,904.02 L187.3,904.27 L187.8,904.40 L188.3,904.46 L188.8,904.47 L189.3,904.46 L189.8,904.44 L190.3,904.41 L190.8,904.39 L191.3,904.36 L191.8,904.33 L192.3,904.30 L192.8,904.27 L193.3,904.24 L193.8,904.21 L194.3,904.18 L194.8,904.15 L195.3,904.13 L195.8,904.10 L196.3,904.08 L196.8,904.06 L197.3,904.04 L197.8,904.03 L198.3,904.02 L198.8,904.01 L199.3,904.00 L199.8,904.00 L200.3,904.00 L200.8,904.00 L201.3,904.01 L201.8,904.02 L202.3,904.03 L202.8,904.05 L203.3,904.07 L203.8,904.09 L204.3,904.11 L204.8,904.13 L205.3,904.16 L205.8,904.18 L206.3,904.21 L206.8,904.24 L207.3,904.27 L207.8,904.30 L208.3,904.33 L208.8,904.36 L209.3,904.39 L209.8,904.42 L210.3,904.45 L210.8,904.48 L211.3,904.50 L211.8,904.53 L212.3,904.55 L212.8,904.58 L213.3,904.60 L213.8,904.62 L214.3,904.64 L214.8,904.66 L215.3,904.67 L215.8,904.69 L216.3,904.70 L216.8,904.71 L217.3,904.72 L217.8,904.73 L218.3,904.74 L218.8,904.75 L219.3,904.76 L219.8,904.76 L220.3,904.77 L220.8,904.77 L221.3,904.78 L221.8,904.78 L222.3,904.78 L222.8,904.79 L223.3,904.79 L223.8,904.79 L224.3,904.79 L224.8,904.79 L225.3,904.79 L225.8,904.80 L226.3,904.80 L226.8,904.80 L227.3,904.80 L227.8,904.80 L228.3,904.80 L228.8,904.80 L229.3,904.80 L229.8,904.80 L230.3,904.80 L230.8,904.80 L231.3,904.80 L231.8,904.80 L232.3,904.80 L232.8,904.80 L233.3,904.80 L233.8,904.80 L234.3,904.80 L234.8,904.80 L235.3,904.80 L235.8,904.80 L236.3,904.80 L236.8,904.80 L237.3,904.80 L237.8,904.80 L238.3,904.80 L238.8,904.80 L239.3,904.80 L239.8,904.80 L240.3,904.80 L240.8,904.80 L241.3,904.80 L241.8,904.80 L242.3,904.80 L242.8,904.80 L243.3,904.80" fill="none" stroke="#3b7be2" stroke-width="1.15" stroke-linejoin="round"/>
<path d="M172.3,924.0 L172.3,923.66 L172.8,923.38 L173.3,922.93 L173.8,922.23 L174.3,921.18 L174.8,919.70 L175.3,917.72 L175.8,915.23 L176.3,912.28 L176.8,908.99 L177.3,905.59 L177.8,902.38 L178.3,899.69 L178.8,897.83 L179.3,897.02 L179.8,897.37 L180.3,898.83 L180.8,901.22 L181.3,904.26 L181.8,907.62 L182.3,910.99 L182.8,914.10 L183.3,916.79 L183.8,918.97 L184.3,920.64 L184.8,921.85 L185.3,922.68 L185.8,923.23 L186.3,923.57 L186.3,924.0 Z" fill="#d8d8d8"/><path d="M146.3,924.00 L146.8,924.00 L147.3,924.00 L147.8,924.00 L148.3,924.00 L148.8,924.00 L149.3,924.00 L149.8,924.00 L150.3,924.00 L150.8,924.00 L151.3,924.00 L151.8,924.00 L152.3,924.00 L152.8,924.00 L153.3,924.00 L153.8,924.00 L154.3,924.00 L154.8,924.00 L155.3,924.00 L155.8,924.00 L156.3,924.00 L156.8,924.00 L157.3,924.00 L157.8,924.00 L158.3,924.00 L158.8,924.00 L159.3,924.00 L159.8,924.00 L160.3,924.00 L160.8,924.00 L161.3,924.00 L161.8,924.00 L162.3,924.00 L162.8,924.00 L163.3,924.00 L163.8,924.00 L164.3,924.00 L164.8,924.00 L165.3,924.00 L165.8,924.00 L166.3,924.00 L166.8,924.00 L167.3,924.00 L167.8,924.00 L168.3,924.00 L168.8,924.00 L169.3,924.00 L169.8,923.99 L170.3,923.98 L170.8,923.96 L171.3,923.91 L171.8,923.82 L172.3,923.66 L172.8,923.38 L173.3,922.93 L173.8,922.23 L174.3,921.18 L174.8,919.70 L175.3,917.72 L175.8,915.23 L176.3,912.28 L176.8,908.99 L177.3,905.59 L177.8,902.38 L178.3,899.69 L178.8,897.83 L179.3,897.02 L179.8,897.37 L180.3,898.83 L180.8,901.22 L181.3,904.26 L181.8,907.62 L182.3,910.99 L182.8,914.10 L183.3,916.79 L183.8,918.97 L184.3,920.64 L184.8,921.85 L185.3,922.68 L185.8,923.23 L186.3,923.57 L186.8,923.77 L187.3,923.88 L187.8,923.94 L188.3,923.97 L188.8,923.99 L189.3,923.99 L189.8,924.00 L190.3,924.00 L190.8,924.00 L191.3,924.00 L191.8,924.00 L192.3,924.00 L192.8,924.00 L193.3,924.00 L193.8,924.00 L194.3,924.00 L194.8,924.00 L195.3,924.00 L195.8,924.00 L196.3,924.00 L196.8,924.00 L197.3,924.00 L197.8,924.00 L198.3,924.00 L198.8,924.00 L199.3,924.00 L199.8,924.00 L200.3,924.00 L200.8,924.00 L201.3,924.00 L201.8,924.00 L202.3,924.00 L202.8,924.00 L203.3,924.00 L203.8,924.00 L204.3,924.00 L204.8,924.00 L205.3,924.00 L205.8,924.00 L206.3,924.00 L206.8,924.00 L207.3,924.00 L207.8,924.00 L208.3,924.00 L208.8,924.00 L209.3,924.00 L209.8,924.00 L210.3,924.00 L210.8,924.00 L211.3,924.00 L211.8,924.00 L212.3,924.00 L212.8,924.00 L213.3,924.00 L213.8,924.00 L214.3,924.00 L214.8,924.00 L215.3,924.00 L215.8,924.00 L216.3,924.00 L216.8,924.00 L217.3,924.00 L217.8,924.00 L218.3,924.00 L218.8,924.00 L219.3,924.00 L219.8,924.00 L220.3,924.00 L220.8,924.00 L221.3,924.00 L221.8,924.00 L222.3,924.00 L222.8,924.00 L223.3,924.00 L223.8,924.00 L224.3,924.00 L224.8,924.00 L225.3,924.00 L225.8,924.00 L226.3,924.00 L226.8,924.00 L227.3,924.00 L227.8,924.00 L228.3,924.00 L228.8,924.00 L229.3,924.00 L229.8,924.00 L230.3,924.00 L230.8,924.00 L231.3,924.00 L231.8,924.00 L232.3,924.00 L232.8,924.00 L233.3,924.00 L233.8,924.00 L234.3,924.00 L234.8,924.00 L235.3,924.00 L235.8,924.00 L236.3,924.00 L236.8,924.00 L237.3,924.00 L237.8,924.00 L238.3,924.00 L238.8,924.00 L239.3,924.00 L239.8,924.00 L240.3,924.00 L240.8,924.00 L241.3,924.00 L241.8,924.00 L242.3,924.00 L242.8,924.00 L243.3,924.00" fill="none" stroke="#a3a3a3" stroke-width="1.15" stroke-linejoin="round"/>
<path d="M195.8,943.4 L195.8,943.02 L196.3,942.81 L196.8,942.50 L197.3,942.06 L197.8,941.44 L198.3,940.60 L198.8,939.50 L199.3,938.08 L199.8,936.31 L200.3,934.17 L200.8,931.66 L201.3,928.80 L201.8,925.65 L202.3,922.32 L202.8,918.92 L203.3,915.63 L203.8,912.61 L204.3,910.03 L204.8,908.06 L205.3,906.82 L205.8,906.40 L206.3,906.82 L206.8,908.06 L207.3,910.03 L207.8,912.61 L208.3,915.63 L208.8,918.92 L209.3,922.32 L209.8,925.65 L210.3,928.80 L210.8,931.66 L211.3,934.17 L211.8,936.31 L212.3,938.08 L212.8,939.50 L213.3,940.60 L213.8,941.44 L214.3,942.06 L214.8,942.50 L215.3,942.81 L215.8,943.02 L215.8,943.4 Z" fill="#a32a34" fill-opacity="0.55"/><path d="M146.3,943.40 L146.8,943.40 L147.3,943.40 L147.8,943.40 L148.3,943.40 L148.8,943.40 L149.3,943.40 L149.8,943.40 L150.3,943.40 L150.8,943.40 L151.3,943.40 L151.8,943.40 L152.3,943.40 L152.8,943.40 L153.3,943.40 L153.8,943.40 L154.3,943.40 L154.8,943.40 L155.3,943.40 L155.8,943.40 L156.3,943.40 L156.8,943.40 L157.3,943.40 L157.8,943.40 L158.3,943.40 L158.8,943.40 L159.3,943.40 L159.8,943.40 L160.3,943.40 L160.8,943.40 L161.3,943.40 L161.8,943.40 L162.3,943.40 L162.8,943.40 L163.3,943.40 L163.8,943.40 L164.3,943.40 L164.8,943.40 L165.3,943.40 L165.8,943.40 L166.3,943.40 L166.8,943.40 L167.3,943.40 L167.8,943.40 L168.3,943.40 L168.8,943.40 L169.3,943.40 L169.8,943.40 L170.3,943.40 L170.8,943.40 L171.3,943.40 L171.8,943.40 L172.3,943.40 L172.8,943.40 L173.3,943.40 L173.8,943.40 L174.3,943.40 L174.8,943.40 L175.3,943.40 L175.8,943.40 L176.3,943.40 L176.8,943.40 L177.3,943.40 L177.8,943.40 L178.3,943.40 L178.8,943.40 L179.3,943.40 L179.8,943.40 L180.3,943.40 L180.8,943.40 L181.3,943.40 L181.8,943.40 L182.3,943.40 L182.8,943.40 L183.3,943.40 L183.8,943.40 L184.3,943.40 L184.8,943.40 L185.3,943.40 L185.8,943.40 L186.3,943.40 L186.8,943.40 L187.3,943.40 L187.8,943.40 L188.3,943.40 L188.8,943.40 L189.3,943.40 L189.8,943.40 L190.3,943.40 L190.8,943.40 L191.3,943.40 L191.8,943.40 L192.3,943.39 L192.8,943.38 L193.3,943.37 L193.8,943.35 L194.3,943.31 L194.8,943.26 L195.3,943.17 L195.8,943.02 L196.3,942.81 L196.8,942.50 L197.3,942.06 L197.8,941.44 L198.3,940.60 L198.8,939.50 L199.3,938.08 L199.8,936.31 L200.3,934.17 L200.8,931.66 L201.3,928.80 L201.8,925.65 L202.3,922.32 L202.8,918.92 L203.3,915.63 L203.8,912.61 L204.3,910.03 L204.8,908.06 L205.3,906.82 L205.8,906.40 L206.3,906.82 L206.8,908.06 L207.3,910.03 L207.8,912.61 L208.3,915.63 L208.8,918.92 L209.3,922.32 L209.8,925.65 L210.3,928.80 L210.8,931.66 L211.3,934.17 L211.8,936.31 L212.3,938.08 L212.8,939.50 L213.3,940.60 L213.8,941.44 L214.3,942.06 L214.8,942.50 L215.3,942.81 L215.8,943.02 L216.3,943.17 L216.8,943.26 L217.3,943.31 L217.8,943.35 L218.3,943.37 L218.8,943.38 L219.3,943.39 L219.8,943.40 L220.3,943.40 L220.8,943.40 L221.3,943.40 L221.8,943.40 L222.3,943.40 L222.8,943.40 L223.3,943.40 L223.8,943.40 L224.3,943.40 L224.8,943.40 L225.3,943.40 L225.8,943.40 L226.3,943.40 L226.8,943.40 L227.3,943.40 L227.8,943.40 L228.3,943.40 L228.8,943.40 L229.3,943.40 L229.8,943.40 L230.3,943.40 L230.8,943.40 L231.3,943.40 L231.8,943.40 L232.3,943.40 L232.8,943.40 L233.3,943.40 L233.8,943.40 L234.3,943.40 L234.8,943.40 L235.3,943.40 L235.8,943.40 L236.3,943.40 L236.8,943.40 L237.3,943.40 L237.8,943.40 L238.3,943.40 L238.8,943.40 L239.3,943.40 L239.8,943.40 L240.3,943.40 L240.8,943.40 L241.3,943.40 L241.8,943.40 L242.3,943.40 L242.8,943.40 L243.3,943.40" fill="none" stroke="#9c2224" stroke-width="1.15" stroke-linejoin="round"/>
<path d="M174.3,962.5 L174.3,962.17 L174.8,961.94 L175.3,961.59 L175.8,961.07 L176.3,960.32 L176.8,959.26 L177.3,957.83 L177.8,955.96 L178.3,953.62 L178.8,950.80 L179.3,947.52 L179.8,943.89 L180.3,940.06 L180.8,936.23 L181.3,932.65 L181.8,929.57 L182.3,927.24 L182.8,925.85 L183.3,925.52 L183.8,926.28 L184.3,928.07 L184.8,930.72 L185.3,934.03 L185.8,937.75 L186.3,941.60 L186.8,945.38 L187.3,948.88 L187.8,951.98 L188.3,954.62 L188.8,956.77 L189.3,958.45 L189.8,959.72 L190.3,960.65 L190.8,961.31 L191.3,961.75 L191.8,962.04 L192.3,962.23 L192.3,962.5 Z" fill="#b3b3b3"/><path d="M146.3,962.50 L146.8,962.50 L147.3,962.50 L147.8,962.50 L148.3,962.50 L148.8,962.50 L149.3,962.50 L149.8,962.50 L150.3,962.50 L150.8,962.50 L151.3,962.50 L151.8,962.50 L152.3,962.50 L152.8,962.50 L153.3,962.50 L153.8,962.50 L154.3,962.50 L154.8,962.50 L155.3,962.50 L155.8,962.50 L156.3,962.50 L156.8,962.50 L157.3,962.50 L157.8,962.50 L158.3,962.50 L158.8,962.50 L159.3,962.50 L159.8,962.50 L160.3,962.50 L160.8,962.50 L161.3,962.50 L161.8,962.50 L162.3,962.50 L162.8,962.50 L163.3,962.50 L163.8,962.50 L164.3,962.50 L164.8,962.50 L165.3,962.50 L165.8,962.50 L166.3,962.50 L166.8,962.50 L167.3,962.50 L167.8,962.50 L168.3,962.50 L168.8,962.50 L169.3,962.50 L169.8,962.50 L170.3,962.50 L170.8,962.50 L171.3,962.49 L171.8,962.48 L172.3,962.47 L172.8,962.44 L173.3,962.39 L173.8,962.31 L174.3,962.17 L174.8,961.94 L175.3,961.59 L175.8,961.07 L176.3,960.32 L176.8,959.26 L177.3,957.83 L177.8,955.96 L178.3,953.62 L178.8,950.80 L179.3,947.52 L179.8,943.89 L180.3,940.06 L180.8,936.23 L181.3,932.65 L181.8,929.57 L182.3,927.24 L182.8,925.85 L183.3,925.52 L183.8,926.28 L184.3,928.07 L184.8,930.72 L185.3,934.03 L185.8,937.75 L186.3,941.60 L186.8,945.38 L187.3,948.88 L187.8,951.98 L188.3,954.62 L188.8,956.77 L189.3,958.45 L189.8,959.72 L190.3,960.65 L190.8,961.31 L191.3,961.75 L191.8,962.04 L192.3,962.23 L192.8,962.35 L193.3,962.41 L193.8,962.45 L194.3,962.48 L194.8,962.49 L195.3,962.49 L195.8,962.50 L196.3,962.50 L196.8,962.50 L197.3,962.50 L197.8,962.50 L198.3,962.50 L198.8,962.50 L199.3,962.50 L199.8,962.50 L200.3,962.50 L200.8,962.50 L201.3,962.50 L201.8,962.50 L202.3,962.50 L202.8,962.50 L203.3,962.50 L203.8,962.50 L204.3,962.50 L204.8,962.50 L205.3,962.50 L205.8,962.50 L206.3,962.50 L206.8,962.50 L207.3,962.50 L207.8,962.50 L208.3,962.50 L208.8,962.50 L209.3,962.50 L209.8,962.50 L210.3,962.50 L210.8,962.50 L211.3,962.50 L211.8,962.50 L212.3,962.50 L212.8,962.50 L213.3,962.50 L213.8,962.50 L214.3,962.50 L214.8,962.50 L215.3,962.50 L215.8,962.50 L216.3,962.50 L216.8,962.50 L217.3,962.50 L217.8,962.50 L218.3,962.50 L218.8,962.50 L219.3,962.50 L219.8,962.50 L220.3,962.50 L220.8,962.50 L221.3,962.50 L221.8,962.50 L222.3,962.50 L222.8,962.50 L223.3,962.50 L223.8,962.50 L224.3,962.50 L224.8,962.50 L225.3,962.50 L225.8,962.50 L226.3,962.50 L226.8,962.50 L227.3,962.50 L227.8,962.50 L228.3,962.50 L228.8,962.50 L229.3,962.50 L229.8,962.50 L230.3,962.50 L230.8,962.50 L231.3,962.50 L231.8,962.50 L232.3,962.50 L232.8,962.50 L233.3,962.50 L233.8,962.50 L234.3,962.50 L234.8,962.50 L235.3,962.50 L235.8,962.50 L236.3,962.50 L236.8,962.50 L237.3,962.50 L237.8,962.50 L238.3,962.50 L238.8,962.50 L239.3,962.50 L239.8,962.50 L240.3,962.50 L240.8,962.50 L241.3,962.50 L241.8,962.50 L242.3,962.50 L242.8,962.50 L243.3,962.50" fill="none" stroke="#3c3c3c" stroke-width="1.15" stroke-linejoin="round"/>
<line x1="193.1" y1="865.9" x2="193.1" y2="962.5" stroke="#8a8a8a" stroke-width="0.8" stroke-dasharray="2.6,1.8"/>
</g>
<rect x="146.3" y="864.9" width="97.39999999999998" height="97.60000000000002" fill="none" stroke="#111" stroke-width="1.7"/>
<path d="M150.3,963.3v2.4M156.0,963.3v1.6M159.4,963.3v1.6M161.7,963.3v1.6M163.6,963.3v1.6M165.1,963.3v1.6M166.4,963.3v1.6M167.5,963.3v1.6M168.4,963.3v1.6M169.3,963.3v2.4M175.0,963.3v1.6M178.4,963.3v1.6M180.7,963.3v1.6M182.6,963.3v1.6M184.1,963.3v1.6M185.4,963.3v1.6M186.5,963.3v1.6M187.4,963.3v1.6M188.3,963.3v2.4M194.0,963.3v1.6M197.4,963.3v1.6M199.7,963.3v1.6M201.6,963.3v1.6M203.1,963.3v1.6M204.4,963.3v1.6M205.5,963.3v1.6M206.4,963.3v1.6M207.3,963.3v2.4M213.0,963.3v1.6M216.4,963.3v1.6M218.7,963.3v1.6M220.6,963.3v1.6M222.1,963.3v1.6M223.4,963.3v1.6M224.5,963.3v1.6M225.4,963.3v1.6M226.3,963.3v2.4M232.0,963.3v1.6M235.4,963.3v1.6M237.7,963.3v1.6M239.6,963.3v1.6M241.1,963.3v1.6" stroke="#333" stroke-width="0.7"/>
<text x="240.5" y="888.5" font-size="9.05" text-anchor="end" fill="#222" stroke="#222" stroke-width="0.12">4.4</text>
<text x="240.5" y="938.8" font-size="9.05" text-anchor="end" fill="#222" stroke="#222" stroke-width="0.12">99.2</text>
<clipPath id="gc11"><rect x="249.6" y="864.9" width="96.70000000000002" height="97.60000000000002"/></clipPath><g clip-path="url(#gc11)">
<path d="M283.1,904.8 L283.1,904.54 L283.6,904.51 L284.1,904.48 L284.6,904.46 L285.1,904.43 L285.6,904.40 L286.1,904.37 L286.6,904.34 L287.1,904.31 L287.6,904.28 L288.1,904.25 L288.6,904.22 L289.1,904.19 L289.6,904.16 L290.1,904.14 L290.6,904.11 L291.1,904.09 L291.6,904.07 L292.1,904.05 L292.6,904.04 L293.1,904.02 L293.6,904.01 L294.1,904.01 L294.6,904.00 L295.1,904.00 L295.6,904.00 L296.1,904.01 L296.6,904.02 L297.1,904.03 L297.6,904.04 L298.1,904.05 L298.6,904.07 L299.1,904.08 L299.6,904.09 L300.1,904.08 L300.6,904.04 L301.1,903.96 L301.6,903.80 L302.1,903.54 L302.6,903.13 L303.1,902.52 L303.6,901.66 L304.1,900.52 L304.6,899.07 L305.1,897.32 L305.6,895.32 L306.1,893.14 L306.6,890.88 L307.1,888.67 L307.6,886.64 L308.1,884.87 L308.6,883.47 L309.1,882.47 L309.6,881.91 L310.1,881.81 L310.6,882.17 L311.1,883.00 L311.6,884.27 L312.1,885.95 L312.6,887.95 L313.1,890.19 L313.6,892.54 L314.1,894.86 L314.6,897.02 L315.1,898.94 L315.6,900.56 L316.1,901.84 L316.6,902.82 L317.1,903.53 L317.6,904.01 L318.1,904.33 L318.6,904.53 L318.6,904.8 Z" fill="#a7ccf1"/><path d="M249.6,904.80 L250.1,904.80 L250.6,904.80 L251.1,904.80 L251.6,904.80 L252.1,904.80 L252.6,904.80 L253.1,904.80 L253.6,904.80 L254.1,904.80 L254.6,904.80 L255.1,904.80 L255.6,904.80 L256.1,904.80 L256.6,904.80 L257.1,904.80 L257.6,904.80 L258.1,904.80 L258.6,904.80 L259.1,904.80 L259.6,904.80 L260.1,904.80 L260.6,904.80 L261.1,904.80 L261.6,904.80 L262.1,904.80 L262.6,904.80 L263.1,904.80 L263.6,904.80 L264.1,904.80 L264.6,904.80 L265.1,904.80 L265.6,904.80 L266.1,904.80 L266.6,904.80 L267.1,904.80 L267.6,904.80 L268.1,904.80 L268.6,904.80 L269.1,904.80 L269.6,904.79 L270.1,904.79 L270.6,904.79 L271.1,904.79 L271.6,904.79 L272.1,904.79 L272.6,904.78 L273.1,904.78 L273.6,904.78 L274.1,904.77 L274.6,904.77 L275.1,904.76 L275.6,904.76 L276.1,904.75 L276.6,904.74 L277.1,904.73 L277.6,904.72 L278.1,904.71 L278.6,904.70 L279.1,904.69 L279.6,904.67 L280.1,904.66 L280.6,904.64 L281.1,904.62 L281.6,904.60 L282.1,904.58 L282.6,904.56 L283.1,904.54 L283.6,904.51 L284.1,904.48 L284.6,904.46 L285.1,904.43 L285.6,904.40 L286.1,904.37 L286.6,904.34 L287.1,904.31 L287.6,904.28 L288.1,904.25 L288.6,904.22 L289.1,904.19 L289.6,904.16 L290.1,904.14 L290.6,904.11 L291.1,904.09 L291.6,904.07 L292.1,904.05 L292.6,904.04 L293.1,904.02 L293.6,904.01 L294.1,904.01 L294.6,904.00 L295.1,904.00 L295.6,904.00 L296.1,904.01 L296.6,904.02 L297.1,904.03 L297.6,904.04 L298.1,904.05 L298.6,904.07 L299.1,904.08 L299.6,904.09 L300.1,904.08 L300.6,904.04 L301.1,903.96 L301.6,903.80 L302.1,903.54 L302.6,903.13 L303.1,902.52 L303.6,901.66 L304.1,900.52 L304.6,899.07 L305.1,897.32 L305.6,895.32 L306.1,893.14 L306.6,890.88 L307.1,888.67 L307.6,886.64 L308.1,884.87 L308.6,883.47 L309.1,882.47 L309.6,881.91 L310.1,881.81 L310.6,882.17 L311.1,883.00 L311.6,884.27 L312.1,885.95 L312.6,887.95 L313.1,890.19 L313.6,892.54 L314.1,894.86 L314.6,897.02 L315.1,898.94 L315.6,900.56 L316.1,901.84 L316.6,902.82 L317.1,903.53 L317.6,904.01 L318.1,904.33 L318.6,904.53 L319.1,904.65 L319.6,904.72 L320.1,904.76 L320.6,904.78 L321.1,904.79 L321.6,904.79 L322.1,904.80 L322.6,904.80 L323.1,904.80 L323.6,904.80 L324.1,904.80 L324.6,904.80 L325.1,904.80 L325.6,904.80 L326.1,904.80 L326.6,904.80 L327.1,904.80 L327.6,904.80 L328.1,904.80 L328.6,904.80 L329.1,904.80 L329.6,904.80 L330.1,904.80 L330.6,904.80 L331.1,904.80 L331.6,904.80 L332.1,904.80 L332.6,904.80 L333.1,904.80 L333.6,904.80 L334.1,904.80 L334.6,904.80 L335.1,904.80 L335.6,904.80 L336.1,904.80 L336.6,904.80 L337.1,904.80 L337.6,904.80 L338.1,904.80 L338.6,904.80 L339.1,904.80 L339.6,904.80 L340.1,904.80 L340.6,904.80 L341.1,904.80 L341.6,904.80 L342.1,904.80 L342.6,904.80 L343.1,904.80 L343.6,904.80 L344.1,904.80 L344.6,904.80 L345.1,904.80 L345.6,904.80 L346.1,904.80" fill="none" stroke="#3b7be2" stroke-width="1.15" stroke-linejoin="round"/>
<path d="M276.6,924.0 L276.6,923.65 L277.1,923.37 L277.6,922.91 L278.1,922.19 L278.6,921.12 L279.1,919.62 L279.6,917.61 L280.1,915.07 L280.6,912.06 L281.1,908.71 L281.6,905.25 L282.1,901.98 L282.6,899.24 L283.1,897.35 L283.6,896.52 L284.1,896.88 L284.6,898.37 L285.1,900.80 L285.6,903.90 L286.1,907.32 L286.6,910.75 L287.1,913.92 L287.6,916.66 L288.1,918.88 L288.6,920.58 L289.1,921.81 L289.6,922.66 L290.1,923.21 L290.6,923.56 L290.6,924.0 Z" fill="#d8d8d8"/><path d="M249.6,924.00 L250.1,924.00 L250.6,924.00 L251.1,924.00 L251.6,924.00 L252.1,924.00 L252.6,924.00 L253.1,924.00 L253.6,924.00 L254.1,924.00 L254.6,924.00 L255.1,924.00 L255.6,924.00 L256.1,924.00 L256.6,924.00 L257.1,924.00 L257.6,924.00 L258.1,924.00 L258.6,924.00 L259.1,924.00 L259.6,924.00 L260.1,924.00 L260.6,924.00 L261.1,924.00 L261.6,924.00 L262.1,924.00 L262.6,924.00 L263.1,924.00 L263.6,924.00 L264.1,924.00 L264.6,924.00 L265.1,924.00 L265.6,924.00 L266.1,924.00 L266.6,924.00 L267.1,924.00 L267.6,924.00 L268.1,924.00 L268.6,924.00 L269.1,924.00 L269.6,924.00 L270.1,924.00 L270.6,924.00 L271.1,924.00 L271.6,924.00 L272.1,924.00 L272.6,924.00 L273.1,924.00 L273.6,924.00 L274.1,923.99 L274.6,923.98 L275.1,923.96 L275.6,923.91 L276.1,923.82 L276.6,923.65 L277.1,923.37 L277.6,922.91 L278.1,922.19 L278.6,921.12 L279.1,919.62 L279.6,917.61 L280.1,915.07 L280.6,912.06 L281.1,908.71 L281.6,905.25 L282.1,901.98 L282.6,899.24 L283.1,897.35 L283.6,896.52 L284.1,896.88 L284.6,898.37 L285.1,900.80 L285.6,903.90 L286.1,907.32 L286.6,910.75 L287.1,913.92 L287.6,916.66 L288.1,918.88 L288.6,920.58 L289.1,921.81 L289.6,922.66 L290.1,923.21 L290.6,923.56 L291.1,923.76 L291.6,923.88 L292.1,923.94 L292.6,923.97 L293.1,923.99 L293.6,923.99 L294.1,924.00 L294.6,924.00 L295.1,924.00 L295.6,924.00 L296.1,924.00 L296.6,924.00 L297.1,924.00 L297.6,924.00 L298.1,924.00 L298.6,924.00 L299.1,924.00 L299.6,924.00 L300.1,924.00 L300.6,924.00 L301.1,924.00 L301.6,924.00 L302.1,924.00 L302.6,924.00 L303.1,924.00 L303.6,924.00 L304.1,924.00 L304.6,924.00 L305.1,924.00 L305.6,924.00 L306.1,924.00 L306.6,924.00 L307.1,924.00 L307.6,924.00 L308.1,924.00 L308.6,924.00 L309.1,924.00 L309.6,924.00 L310.1,924.00 L310.6,924.00 L311.1,924.00 L311.6,924.00 L312.1,924.00 L312.6,924.00 L313.1,924.00 L313.6,924.00 L314.1,924.00 L314.6,924.00 L315.1,924.00 L315.6,924.00 L316.1,924.00 L316.6,924.00 L317.1,924.00 L317.6,924.00 L318.1,924.00 L318.6,924.00 L319.1,924.00 L319.6,924.00 L320.1,924.00 L320.6,924.00 L321.1,924.00 L321.6,924.00 L322.1,924.00 L322.6,924.00 L323.1,924.00 L323.6,924.00 L324.1,924.00 L324.6,924.00 L325.1,924.00 L325.6,924.00 L326.1,924.00 L326.6,924.00 L327.1,924.00 L327.6,924.00 L328.1,924.00 L328.6,924.00 L329.1,924.00 L329.6,924.00 L330.1,924.00 L330.6,924.00 L331.1,924.00 L331.6,924.00 L332.1,924.00 L332.6,924.00 L333.1,924.00 L333.6,924.00 L334.1,924.00 L334.6,924.00 L335.1,924.00 L335.6,924.00 L336.1,924.00 L336.6,924.00 L337.1,924.00 L337.6,924.00 L338.1,924.00 L338.6,924.00 L339.1,924.00 L339.6,924.00 L340.1,924.00 L340.6,924.00 L341.1,924.00 L341.6,924.00 L342.1,924.00 L342.6,924.00 L343.1,924.00 L343.6,924.00 L344.1,924.00 L344.6,924.00 L345.1,924.00 L345.6,924.00 L346.1,924.00" fill="none" stroke="#a3a3a3" stroke-width="1.15" stroke-linejoin="round"/>
<path d="M287.1,943.4 L287.1,943.15 L287.6,943.00 L288.1,942.78 L288.6,942.45 L289.1,941.99 L289.6,941.35 L290.1,940.49 L290.6,939.35 L291.1,937.91 L291.6,936.12 L292.1,933.96 L292.6,931.45 L293.1,928.60 L293.6,925.49 L294.1,922.23 L294.6,918.93 L295.1,915.77 L295.6,912.90 L296.1,910.50 L296.6,908.71 L297.1,907.66 L297.6,907.42 L298.1,907.99 L298.6,909.35 L299.1,911.39 L299.6,914.00 L300.1,917.01 L300.6,920.24 L301.1,923.54 L301.6,926.76 L302.1,929.77 L302.6,932.49 L303.1,934.87 L303.6,936.88 L304.1,938.53 L304.6,939.84 L305.1,940.86 L305.6,941.63 L306.1,942.19 L306.6,942.60 L307.1,942.88 L307.6,943.07 L307.6,943.4 Z" fill="#a32a34" fill-opacity="0.55"/><path d="M249.6,943.40 L250.1,943.40 L250.6,943.40 L251.1,943.40 L251.6,943.40 L252.1,943.40 L252.6,943.40 L253.1,943.40 L253.6,943.40 L254.1,943.40 L254.6,943.40 L255.1,943.40 L255.6,943.40 L256.1,943.40 L256.6,943.40 L257.1,943.40 L257.6,943.40 L258.1,943.40 L258.6,943.40 L259.1,943.40 L259.6,943.40 L260.1,943.40 L260.6,943.40 L261.1,943.40 L261.6,943.40 L262.1,943.40 L262.6,943.40 L263.1,943.40 L263.6,943.40 L264.1,943.40 L264.6,943.40 L265.1,943.40 L265.6,943.40 L266.1,943.40 L266.6,943.40 L267.1,943.40 L267.6,943.40 L268.1,943.40 L268.6,943.40 L269.1,943.40 L269.6,943.40 L270.1,943.40 L270.6,943.40 L271.1,943.40 L271.6,943.40 L272.1,943.40 L272.6,943.40 L273.1,943.40 L273.6,943.40 L274.1,943.40 L274.6,943.40 L275.1,943.40 L275.6,943.40 L276.1,943.40 L276.6,943.40 L277.1,943.40 L277.6,943.40 L278.1,943.40 L278.6,943.40 L279.1,943.40 L279.6,943.40 L280.1,943.40 L280.6,943.40 L281.1,943.40 L281.6,943.40 L282.1,943.40 L282.6,943.40 L283.1,943.40 L283.6,943.39 L284.1,943.39 L284.6,943.38 L285.1,943.37 L285.6,943.35 L286.1,943.31 L286.6,943.25 L287.1,943.15 L287.6,943.00 L288.1,942.78 L288.6,942.45 L289.1,941.99 L289.6,941.35 L290.1,940.49 L290.6,939.35 L291.1,937.91 L291.6,936.12 L292.1,933.96 L292.6,931.45 L293.1,928.60 L293.6,925.49 L294.1,922.23 L294.6,918.93 L295.1,915.77 L295.6,912.90 L296.1,910.50 L296.6,908.71 L297.1,907.66 L297.6,907.42 L298.1,907.99 L298.6,909.35 L299.1,911.39 L299.6,914.00 L300.1,917.01 L300.6,920.24 L301.1,923.54 L301.6,926.76 L302.1,929.77 L302.6,932.49 L303.1,934.87 L303.6,936.88 L304.1,938.53 L304.6,939.84 L305.1,940.86 L305.6,941.63 L306.1,942.19 L306.6,942.60 L307.1,942.88 L307.6,943.07 L308.1,943.19 L308.6,943.27 L309.1,943.33 L309.6,943.36 L310.1,943.38 L310.6,943.39 L311.1,943.39 L311.6,943.40 L312.1,943.40 L312.6,943.40 L313.1,943.40 L313.6,943.40 L314.1,943.40 L314.6,943.40 L315.1,943.40 L315.6,943.40 L316.1,943.40 L316.6,943.40 L317.1,943.40 L317.6,943.40 L318.1,943.40 L318.6,943.40 L319.1,943.40 L319.6,943.40 L320.1,943.40 L320.6,943.40 L321.1,943.40 L321.6,943.40 L322.1,943.40 L322.6,943.40 L323.1,943.40 L323.6,943.40 L324.1,943.40 L324.6,943.40 L325.1,943.40 L325.6,943.40 L326.1,943.40 L326.6,943.40 L327.1,943.40 L327.6,943.40 L328.1,943.40 L328.6,943.40 L329.1,943.40 L329.6,943.40 L330.1,943.40 L330.6,943.40 L331.1,943.40 L331.6,943.40 L332.1,943.40 L332.6,943.40 L333.1,943.40 L333.6,943.40 L334.1,943.40 L334.6,943.40 L335.1,943.40 L335.6,943.40 L336.1,943.40 L336.6,943.40 L337.1,943.40 L337.6,943.40 L338.1,943.40 L338.6,943.40 L339.1,943.40 L339.6,943.40 L340.1,943.40 L340.6,943.40 L341.1,943.40 L341.6,943.40 L342.1,943.40 L342.6,943.40 L343.1,943.40 L343.6,943.40 L344.1,943.40 L344.6,943.40 L345.1,943.40 L345.6,943.40 L346.1,943.40" fill="none" stroke="#9c2224" stroke-width="1.15" stroke-linejoin="round"/>
<path d="M277.6,962.5 L277.6,962.16 L278.1,961.94 L278.6,961.58 L279.1,961.06 L279.6,960.29 L280.1,959.22 L280.6,957.78 L281.1,955.89 L281.6,953.53 L282.1,950.67 L282.6,947.36 L283.1,943.69 L283.6,939.82 L284.1,935.94 L284.6,932.32 L285.1,929.21 L285.6,926.86 L286.1,925.45 L286.6,925.12 L287.1,925.89 L287.6,927.70 L288.1,930.38 L288.6,933.73 L289.1,937.48 L289.6,941.38 L290.1,945.19 L290.6,948.73 L291.1,951.87 L291.6,954.53 L292.1,956.70 L292.6,958.41 L293.1,959.69 L293.6,960.63 L294.1,961.29 L294.6,961.74 L295.1,962.04 L295.6,962.23 L295.6,962.5 Z" fill="#b3b3b3"/><path d="M249.6,962.50 L250.1,962.50 L250.6,962.50 L251.1,962.50 L251.6,962.50 L252.1,962.50 L252.6,962.50 L253.1,962.50 L253.6,962.50 L254.1,962.50 L254.6,962.50 L255.1,962.50 L255.6,962.50 L256.1,962.50 L256.6,962.50 L257.1,962.50 L257.6,962.50 L258.1,962.50 L258.6,962.50 L259.1,962.50 L259.6,962.50 L260.1,962.50 L260.6,962.50 L261.1,962.50 L261.6,962.50 L262.1,962.50 L262.6,962.50 L263.1,962.50 L263.6,962.50 L264.1,962.50 L264.6,962.50 L265.1,962.50 L265.6,962.50 L266.1,962.50 L266.6,962.50 L267.1,962.50 L267.6,962.50 L268.1,962.50 L268.6,962.50 L269.1,962.50 L269.6,962.50 L270.1,962.50 L270.6,962.50 L271.1,962.50 L271.6,962.50 L272.1,962.50 L272.6,962.50 L273.1,962.50 L273.6,962.50 L274.1,962.50 L274.6,962.49 L275.1,962.48 L275.6,962.47 L276.1,962.44 L276.6,962.39 L277.1,962.30 L277.6,962.16 L278.1,961.94 L278.6,961.58 L279.1,961.06 L279.6,960.29 L280.1,959.22 L280.6,957.78 L281.1,955.89 L281.6,953.53 L282.1,950.67 L282.6,947.36 L283.1,943.69 L283.6,939.82 L284.1,935.94 L284.6,932.32 L285.1,929.21 L285.6,926.86 L286.1,925.45 L286.6,925.12 L287.1,925.89 L287.6,927.70 L288.1,930.38 L288.6,933.73 L289.1,937.48 L289.6,941.38 L290.1,945.19 L290.6,948.73 L291.1,951.87 L291.6,954.53 L292.1,956.70 L292.6,958.41 L293.1,959.69 L293.6,960.63 L294.1,961.29 L294.6,961.74 L295.1,962.04 L295.6,962.23 L296.1,962.34 L296.6,962.41 L297.1,962.45 L297.6,962.48 L298.1,962.49 L298.6,962.49 L299.1,962.50 L299.6,962.50 L300.1,962.50 L300.6,962.50 L301.1,962.50 L301.6,962.50 L302.1,962.50 L302.6,962.50 L303.1,962.50 L303.6,962.50 L304.1,962.50 L304.6,962.50 L305.1,962.50 L305.6,962.50 L306.1,962.50 L306.6,962.50 L307.1,962.50 L307.6,962.50 L308.1,962.50 L308.6,962.50 L309.1,962.50 L309.6,962.50 L310.1,962.50 L310.6,962.50 L311.1,962.50 L311.6,962.50 L312.1,962.50 L312.6,962.50 L313.1,962.50 L313.6,962.50 L314.1,962.50 L314.6,962.50 L315.1,962.50 L315.6,962.50 L316.1,962.50 L316.6,962.50 L317.1,962.50 L317.6,962.50 L318.1,962.50 L318.6,962.50 L319.1,962.50 L319.6,962.50 L320.1,962.50 L320.6,962.50 L321.1,962.50 L321.6,962.50 L322.1,962.50 L322.6,962.50 L323.1,962.50 L323.6,962.50 L324.1,962.50 L324.6,962.50 L325.1,962.50 L325.6,962.50 L326.1,962.50 L326.6,962.50 L327.1,962.50 L327.6,962.50 L328.1,962.50 L328.6,962.50 L329.1,962.50 L329.6,962.50 L330.1,962.50 L330.6,962.50 L331.1,962.50 L331.6,962.50 L332.1,962.50 L332.6,962.50 L333.1,962.50 L333.6,962.50 L334.1,962.50 L334.6,962.50 L335.1,962.50 L335.6,962.50 L336.1,962.50 L336.6,962.50 L337.1,962.50 L337.6,962.50 L338.1,962.50 L338.6,962.50 L339.1,962.50 L339.6,962.50 L340.1,962.50 L340.6,962.50 L341.1,962.50 L341.6,962.50 L342.1,962.50 L342.6,962.50 L343.1,962.50 L343.6,962.50 L344.1,962.50 L344.6,962.50 L345.1,962.50 L345.6,962.50 L346.1,962.50" fill="none" stroke="#3c3c3c" stroke-width="1.15" stroke-linejoin="round"/>
<line x1="301.3" y1="865.9" x2="301.3" y2="962.5" stroke="#8a8a8a" stroke-width="0.8" stroke-dasharray="2.6,1.8"/>
</g>
<rect x="249.6" y="864.9" width="96.70000000000002" height="97.60000000000002" fill="none" stroke="#111" stroke-width="1.7"/>
<path d="M253.6,963.3v2.4M259.3,963.3v1.6M262.7,963.3v1.6M265.0,963.3v1.6M266.9,963.3v1.6M268.4,963.3v1.6M269.7,963.3v1.6M270.8,963.3v1.6M271.7,963.3v1.6M272.6,963.3v2.4M278.3,963.3v1.6M281.7,963.3v1.6M284.0,963.3v1.6M285.9,963.3v1.6M287.4,963.3v1.6M288.7,963.3v1.6M289.8,963.3v1.6M290.7,963.3v1.6M291.6,963.3v2.4M297.3,963.3v1.6M300.7,963.3v1.6M303.0,963.3v1.6M304.9,963.3v1.6M306.4,963.3v1.6M307.7,963.3v1.6M308.8,963.3v1.6M309.7,963.3v1.6M310.6,963.3v2.4M316.3,963.3v1.6M319.7,963.3v1.6M322.0,963.3v1.6M323.9,963.3v1.6M325.4,963.3v1.6M326.7,963.3v1.6M327.8,963.3v1.6M328.7,963.3v1.6M329.6,963.3v2.4M335.3,963.3v1.6M338.7,963.3v1.6M341.0,963.3v1.6M342.9,963.3v1.6" stroke="#333" stroke-width="0.7"/>
<text x="343.1" y="888.5" font-size="9.05" text-anchor="end" fill="#222" stroke="#222" stroke-width="0.12">98.5</text>
<text x="343.1" y="938.8" font-size="9.05" text-anchor="end" fill="#222" stroke="#222" stroke-width="0.12">18.2</text>
<clipPath id="gc12"><rect x="353.9" y="864.9" width="96.40000000000003" height="97.60000000000002"/></clipPath><g clip-path="url(#gc12)">
<path d="M393.9,904.8 L393.9,904.52 L394.4,904.29 L394.9,903.92 L395.4,903.37 L395.9,902.63 L396.4,901.69 L396.9,900.61 L397.4,899.48 L397.9,898.42 L398.4,897.56 L398.9,896.97 L399.4,896.67 L399.9,896.60 L400.4,896.65 L400.9,896.71 L401.4,896.71 L401.9,896.65 L402.4,896.60 L402.9,896.67 L403.4,896.97 L403.9,897.56 L404.4,898.42 L404.9,899.48 L405.4,900.61 L405.9,901.69 L406.4,902.63 L406.9,903.37 L407.4,903.92 L407.9,904.29 L408.4,904.52 L408.4,904.8 Z" fill="#a7ccf1"/><path d="M353.9,904.80 L354.4,904.80 L354.9,904.80 L355.4,904.80 L355.9,904.80 L356.4,904.80 L356.9,904.80 L357.4,904.80 L357.9,904.80 L358.4,904.80 L358.9,904.80 L359.4,904.80 L359.9,904.80 L360.4,904.80 L360.9,904.80 L361.4,904.80 L361.9,904.80 L362.4,904.80 L362.9,904.80 L363.4,904.80 L363.9,904.80 L364.4,904.80 L364.9,904.80 L365.4,904.80 L365.9,904.80 L366.4,904.80 L366.9,904.80 L367.4,904.80 L367.9,904.80 L368.4,904.80 L368.9,904.80 L369.4,904.80 L369.9,904.80 L370.4,904.80 L370.9,904.80 L371.4,904.80 L371.9,904.80 L372.4,904.80 L372.9,904.80 L373.4,904.80 L373.9,904.80 L374.4,904.80 L374.9,904.80 L375.4,904.80 L375.9,904.80 L376.4,904.80 L376.9,904.80 L377.4,904.80 L377.9,904.80 L378.4,904.80 L378.9,904.80 L379.4,904.80 L379.9,904.80 L380.4,904.80 L380.9,904.80 L381.4,904.80 L381.9,904.80 L382.4,904.80 L382.9,904.80 L383.4,904.80 L383.9,904.80 L384.4,904.80 L384.9,904.80 L385.4,904.80 L385.9,904.80 L386.4,904.80 L386.9,904.80 L387.4,904.80 L387.9,904.80 L388.4,904.80 L388.9,904.80 L389.4,904.80 L389.9,904.80 L390.4,904.80 L390.9,904.80 L391.4,904.79 L391.9,904.79 L392.4,904.77 L392.9,904.73 L393.4,904.66 L393.9,904.52 L394.4,904.29 L394.9,903.92 L395.4,903.37 L395.9,902.63 L396.4,901.69 L396.9,900.61 L397.4,899.48 L397.9,898.42 L398.4,897.56 L398.9,896.97 L399.4,896.67 L399.9,896.60 L400.4,896.65 L400.9,896.71 L401.4,896.71 L401.9,896.65 L402.4,896.60 L402.9,896.67 L403.4,896.97 L403.9,897.56 L404.4,898.42 L404.9,899.48 L405.4,900.61 L405.9,901.69 L406.4,902.63 L406.9,903.37 L407.4,903.92 L407.9,904.29 L408.4,904.52 L408.9,904.66 L409.4,904.73 L409.9,904.77 L410.4,904.79 L410.9,904.79 L411.4,904.80 L411.9,904.80 L412.4,904.80 L412.9,904.80 L413.4,904.80 L413.9,904.80 L414.4,904.80 L414.9,904.80 L415.4,904.80 L415.9,904.80 L416.4,904.80 L416.9,904.80 L417.4,904.80 L417.9,904.80 L418.4,904.80 L418.9,904.80 L419.4,904.80 L419.9,904.80 L420.4,904.80 L420.9,904.80 L421.4,904.80 L421.9,904.80 L422.4,904.80 L422.9,904.80 L423.4,904.80 L423.9,904.80 L424.4,904.80 L424.9,904.80 L425.4,904.80 L425.9,904.80 L426.4,904.80 L426.9,904.80 L427.4,904.80 L427.9,904.80 L428.4,904.80 L428.9,904.80 L429.4,904.80 L429.9,904.80 L430.4,904.80 L430.9,904.80 L431.4,904.80 L431.9,904.80 L432.4,904.80 L432.9,904.80 L433.4,904.80 L433.9,904.80 L434.4,904.80 L434.9,904.80 L435.4,904.80 L435.9,904.80 L436.4,904.80 L436.9,904.80 L437.4,904.80 L437.9,904.80 L438.4,904.80 L438.9,904.80 L439.4,904.80 L439.9,904.80 L440.4,904.80 L440.9,904.80 L441.4,904.80 L441.9,904.80 L442.4,904.80 L442.9,904.80 L443.4,904.80 L443.9,904.80 L444.4,904.80 L444.9,904.80 L445.4,904.80 L445.9,904.80 L446.4,904.80 L446.9,904.80 L447.4,904.80 L447.9,904.80 L448.4,904.80 L448.9,904.80 L449.4,904.80 L449.9,904.80" fill="none" stroke="#3b7be2" stroke-width="1.15" stroke-linejoin="round"/>
<path d="M379.9,924.0 L379.9,923.69 L380.4,923.46 L380.9,923.10 L381.4,922.53 L381.9,921.71 L382.4,920.55 L382.9,918.98 L383.4,916.98 L383.9,914.53 L384.4,911.68 L384.9,908.57 L385.4,905.36 L385.9,902.31 L386.4,899.67 L386.9,897.70 L387.4,896.59 L387.9,896.48 L388.4,897.36 L388.9,899.13 L389.4,901.62 L389.9,904.58 L390.4,907.74 L390.9,910.85 L391.4,913.72 L391.9,916.22 L392.4,918.27 L392.9,919.88 L393.4,921.08 L393.9,921.92 L394.4,922.49 L394.9,922.85 L395.4,923.06 L395.9,923.18 L396.4,923.23 L396.9,923.25 L397.4,923.25 L397.9,923.24 L398.4,923.22 L398.9,923.21 L399.4,923.20 L399.9,923.20 L400.4,923.20 L400.9,923.21 L401.4,923.22 L401.9,923.24 L402.4,923.26 L402.9,923.29 L403.4,923.32 L403.9,923.35 L404.4,923.39 L404.9,923.43 L405.4,923.47 L405.9,923.51 L406.4,923.55 L406.9,923.59 L407.4,923.63 L407.9,923.66 L408.4,923.70 L408.9,923.73 L408.9,924.0 Z" fill="#d8d8d8"/><path d="M353.9,924.00 L354.4,924.00 L354.9,924.00 L355.4,924.00 L355.9,924.00 L356.4,924.00 L356.9,924.00 L357.4,924.00 L357.9,924.00 L358.4,924.00 L358.9,924.00 L359.4,924.00 L359.9,924.00 L360.4,924.00 L360.9,924.00 L361.4,924.00 L361.9,924.00 L362.4,924.00 L362.9,924.00 L363.4,924.00 L363.9,924.00 L364.4,924.00 L364.9,924.00 L365.4,924.00 L365.9,924.00 L366.4,924.00 L366.9,924.00 L367.4,924.00 L367.9,924.00 L368.4,924.00 L368.9,924.00 L369.4,924.00 L369.9,924.00 L370.4,924.00 L370.9,924.00 L371.4,924.00 L371.9,924.00 L372.4,924.00 L372.9,924.00 L373.4,924.00 L373.9,924.00 L374.4,924.00 L374.9,924.00 L375.4,924.00 L375.9,924.00 L376.4,924.00 L376.9,923.99 L377.4,923.99 L377.9,923.98 L378.4,923.95 L378.9,923.91 L379.4,923.83 L379.9,923.69 L380.4,923.46 L380.9,923.10 L381.4,922.53 L381.9,921.71 L382.4,920.55 L382.9,918.98 L383.4,916.98 L383.9,914.53 L384.4,911.68 L384.9,908.57 L385.4,905.36 L385.9,902.31 L386.4,899.67 L386.9,897.70 L387.4,896.59 L387.9,896.48 L388.4,897.36 L388.9,899.13 L389.4,901.62 L389.9,904.58 L390.4,907.74 L390.9,910.85 L391.4,913.72 L391.9,916.22 L392.4,918.27 L392.9,919.88 L393.4,921.08 L393.9,921.92 L394.4,922.49 L394.9,922.85 L395.4,923.06 L395.9,923.18 L396.4,923.23 L396.9,923.25 L397.4,923.25 L397.9,923.24 L398.4,923.22 L398.9,923.21 L399.4,923.20 L399.9,923.20 L400.4,923.20 L400.9,923.21 L401.4,923.22 L401.9,923.24 L402.4,923.26 L402.9,923.29 L403.4,923.32 L403.9,923.35 L404.4,923.39 L404.9,923.43 L405.4,923.47 L405.9,923.51 L406.4,923.55 L406.9,923.59 L407.4,923.63 L407.9,923.66 L408.4,923.70 L408.9,923.73 L409.4,923.77 L409.9,923.79 L410.4,923.82 L410.9,923.85 L411.4,923.87 L411.9,923.89 L412.4,923.91 L412.9,923.92 L413.4,923.93 L413.9,923.95 L414.4,923.96 L414.9,923.96 L415.4,923.97 L415.9,923.98 L416.4,923.98 L416.9,923.98 L417.4,923.99 L417.9,923.99 L418.4,923.99 L418.9,923.99 L419.4,924.00 L419.9,924.00 L420.4,924.00 L420.9,924.00 L421.4,924.00 L421.9,924.00 L422.4,924.00 L422.9,924.00 L423.4,924.00 L423.9,924.00 L424.4,924.00 L424.9,924.00 L425.4,924.00 L425.9,924.00 L426.4,924.00 L426.9,924.00 L427.4,924.00 L427.9,924.00 L428.4,924.00 L428.9,924.00 L429.4,924.00 L429.9,924.00 L430.4,924.00 L430.9,924.00 L431.4,924.00 L431.9,924.00 L432.4,924.00 L432.9,924.00 L433.4,924.00 L433.9,924.00 L434.4,924.00 L434.9,924.00 L435.4,924.00 L435.9,924.00 L436.4,924.00 L436.9,924.00 L437.4,924.00 L437.9,924.00 L438.4,924.00 L438.9,924.00 L439.4,924.00 L439.9,924.00 L440.4,924.00 L440.9,924.00 L441.4,924.00 L441.9,924.00 L442.4,924.00 L442.9,924.00 L443.4,924.00 L443.9,924.00 L444.4,924.00 L444.9,924.00 L445.4,924.00 L445.9,924.00 L446.4,924.00 L446.9,924.00 L447.4,924.00 L447.9,924.00 L448.4,924.00 L448.9,924.00 L449.4,924.00 L449.9,924.00" fill="none" stroke="#a3a3a3" stroke-width="1.15" stroke-linejoin="round"/>
<path d="M382.9,943.4 L382.9,943.07 L383.4,942.83 L383.9,942.46 L384.4,941.88 L384.9,941.04 L385.4,939.85 L385.9,938.23 L386.4,936.15 L386.9,933.56 L387.4,930.50 L387.9,927.05 L388.4,923.38 L388.9,919.72 L389.4,916.33 L389.9,913.50 L390.4,911.49 L390.9,910.49 L391.4,910.60 L391.9,911.82 L392.4,914.01 L392.9,916.98 L393.4,920.44 L393.9,924.13 L394.4,927.76 L394.9,931.14 L395.4,934.12 L395.9,936.60 L396.4,938.59 L396.9,940.12 L397.4,941.23 L397.9,942.02 L398.4,942.55 L398.9,942.89 L399.4,943.11 L399.4,943.4 Z" fill="#a32a34" fill-opacity="0.55"/><path d="M353.9,943.40 L354.4,943.40 L354.9,943.40 L355.4,943.40 L355.9,943.40 L356.4,943.40 L356.9,943.40 L357.4,943.40 L357.9,943.40 L358.4,943.40 L358.9,943.40 L359.4,943.40 L359.9,943.40 L360.4,943.40 L360.9,943.40 L361.4,943.40 L361.9,943.40 L362.4,943.40 L362.9,943.40 L363.4,943.40 L363.9,943.40 L364.4,943.40 L364.9,943.40 L365.4,943.40 L365.9,943.40 L366.4,943.40 L366.9,943.40 L367.4,943.40 L367.9,943.40 L368.4,943.40 L368.9,943.40 L369.4,943.40 L369.9,943.40 L370.4,943.40 L370.9,943.40 L371.4,943.40 L371.9,943.40 L372.4,943.40 L372.9,943.40 L373.4,943.40 L373.9,943.40 L374.4,943.40 L374.9,943.40 L375.4,943.40 L375.9,943.40 L376.4,943.40 L376.9,943.40 L377.4,943.40 L377.9,943.40 L378.4,943.40 L378.9,943.40 L379.4,943.40 L379.9,943.39 L380.4,943.39 L380.9,943.37 L381.4,943.35 L381.9,943.30 L382.4,943.22 L382.9,943.07 L383.4,942.83 L383.9,942.46 L384.4,941.88 L384.9,941.04 L385.4,939.85 L385.9,938.23 L386.4,936.15 L386.9,933.56 L387.4,930.50 L387.9,927.05 L388.4,923.38 L388.9,919.72 L389.4,916.33 L389.9,913.50 L390.4,911.49 L390.9,910.49 L391.4,910.60 L391.9,911.82 L392.4,914.01 L392.9,916.98 L393.4,920.44 L393.9,924.13 L394.4,927.76 L394.9,931.14 L395.4,934.12 L395.9,936.60 L396.4,938.59 L396.9,940.12 L397.4,941.23 L397.9,942.02 L398.4,942.55 L398.9,942.89 L399.4,943.11 L399.9,943.24 L400.4,943.31 L400.9,943.35 L401.4,943.38 L401.9,943.39 L402.4,943.39 L402.9,943.40 L403.4,943.40 L403.9,943.40 L404.4,943.40 L404.9,943.40 L405.4,943.40 L405.9,943.40 L406.4,943.40 L406.9,943.40 L407.4,943.40 L407.9,943.40 L408.4,943.40 L408.9,943.40 L409.4,943.40 L409.9,943.40 L410.4,943.40 L410.9,943.40 L411.4,943.40 L411.9,943.40 L412.4,943.40 L412.9,943.40 L413.4,943.40 L413.9,943.40 L414.4,943.40 L414.9,943.40 L415.4,943.40 L415.9,943.40 L416.4,943.40 L416.9,943.40 L417.4,943.40 L417.9,943.40 L418.4,943.40 L418.9,943.40 L419.4,943.40 L419.9,943.40 L420.4,943.40 L420.9,943.40 L421.4,943.40 L421.9,943.40 L422.4,943.40 L422.9,943.40 L423.4,943.40 L423.9,943.40 L424.4,943.40 L424.9,943.40 L425.4,943.40 L425.9,943.40 L426.4,943.40 L426.9,943.40 L427.4,943.40 L427.9,943.40 L428.4,943.40 L428.9,943.40 L429.4,943.40 L429.9,943.40 L430.4,943.40 L430.9,943.40 L431.4,943.40 L431.9,943.40 L432.4,943.40 L432.9,943.40 L433.4,943.40 L433.9,943.40 L434.4,943.40 L434.9,943.40 L435.4,943.40 L435.9,943.40 L436.4,943.40 L436.9,943.40 L437.4,943.40 L437.9,943.40 L438.4,943.40 L438.9,943.40 L439.4,943.40 L439.9,943.40 L440.4,943.40 L440.9,943.40 L441.4,943.40 L441.9,943.40 L442.4,943.40 L442.9,943.40 L443.4,943.40 L443.9,943.40 L444.4,943.40 L444.9,943.40 L445.4,943.40 L445.9,943.40 L446.4,943.40 L446.9,943.40 L447.4,943.40 L447.9,943.40 L448.4,943.40 L448.9,943.40 L449.4,943.40 L449.9,943.40" fill="none" stroke="#9c2224" stroke-width="1.15" stroke-linejoin="round"/>
<path d="M381.4,962.5 L381.4,962.23 L381.9,962.04 L382.4,961.74 L382.9,961.29 L383.4,960.63 L383.9,959.69 L384.4,958.41 L384.9,956.70 L385.4,954.53 L385.9,951.87 L386.4,948.73 L386.9,945.19 L387.4,941.38 L387.9,937.48 L388.4,933.73 L388.9,930.38 L389.4,927.70 L389.9,925.89 L390.4,925.12 L390.9,925.45 L391.4,926.86 L391.9,929.21 L392.4,932.32 L392.9,935.94 L393.4,939.82 L393.9,943.69 L394.4,947.36 L394.9,950.67 L395.4,953.53 L395.9,955.89 L396.4,957.78 L396.9,959.22 L397.4,960.29 L397.9,961.06 L398.4,961.58 L398.9,961.94 L399.4,962.16 L399.4,962.5 Z" fill="#b3b3b3"/><path d="M353.9,962.50 L354.4,962.50 L354.9,962.50 L355.4,962.50 L355.9,962.50 L356.4,962.50 L356.9,962.50 L357.4,962.50 L357.9,962.50 L358.4,962.50 L358.9,962.50 L359.4,962.50 L359.9,962.50 L360.4,962.50 L360.9,962.50 L361.4,962.50 L361.9,962.50 L362.4,962.50 L362.9,962.50 L363.4,962.50 L363.9,962.50 L364.4,962.50 L364.9,962.50 L365.4,962.50 L365.9,962.50 L366.4,962.50 L366.9,962.50 L367.4,962.50 L367.9,962.50 L368.4,962.50 L368.9,962.50 L369.4,962.50 L369.9,962.50 L370.4,962.50 L370.9,962.50 L371.4,962.50 L371.9,962.50 L372.4,962.50 L372.9,962.50 L373.4,962.50 L373.9,962.50 L374.4,962.50 L374.9,962.50 L375.4,962.50 L375.9,962.50 L376.4,962.50 L376.9,962.50 L377.4,962.50 L377.9,962.50 L378.4,962.49 L378.9,962.49 L379.4,962.48 L379.9,962.45 L380.4,962.41 L380.9,962.34 L381.4,962.23 L381.9,962.04 L382.4,961.74 L382.9,961.29 L383.4,960.63 L383.9,959.69 L384.4,958.41 L384.9,956.70 L385.4,954.53 L385.9,951.87 L386.4,948.73 L386.9,945.19 L387.4,941.38 L387.9,937.48 L388.4,933.73 L388.9,930.38 L389.4,927.70 L389.9,925.89 L390.4,925.12 L390.9,925.45 L391.4,926.86 L391.9,929.21 L392.4,932.32 L392.9,935.94 L393.4,939.82 L393.9,943.69 L394.4,947.36 L394.9,950.67 L395.4,953.53 L395.9,955.89 L396.4,957.78 L396.9,959.22 L397.4,960.29 L397.9,961.06 L398.4,961.58 L398.9,961.94 L399.4,962.16 L399.9,962.30 L400.4,962.39 L400.9,962.44 L401.4,962.47 L401.9,962.48 L402.4,962.49 L402.9,962.50 L403.4,962.50 L403.9,962.50 L404.4,962.50 L404.9,962.50 L405.4,962.50 L405.9,962.50 L406.4,962.50 L406.9,962.50 L407.4,962.50 L407.9,962.50 L408.4,962.50 L408.9,962.50 L409.4,962.50 L409.9,962.50 L410.4,962.50 L410.9,962.50 L411.4,962.50 L411.9,962.50 L412.4,962.50 L412.9,962.50 L413.4,962.50 L413.9,962.50 L414.4,962.50 L414.9,962.50 L415.4,962.50 L415.9,962.50 L416.4,962.50 L416.9,962.50 L417.4,962.50 L417.9,962.50 L418.4,962.50 L418.9,962.50 L419.4,962.50 L419.9,962.50 L420.4,962.50 L420.9,962.50 L421.4,962.50 L421.9,962.50 L422.4,962.50 L422.9,962.50 L423.4,962.50 L423.9,962.50 L424.4,962.50 L424.9,962.50 L425.4,962.50 L425.9,962.50 L426.4,962.50 L426.9,962.50 L427.4,962.50 L427.9,962.50 L428.4,962.50 L428.9,962.50 L429.4,962.50 L429.9,962.50 L430.4,962.50 L430.9,962.50 L431.4,962.50 L431.9,962.50 L432.4,962.50 L432.9,962.50 L433.4,962.50 L433.9,962.50 L434.4,962.50 L434.9,962.50 L435.4,962.50 L435.9,962.50 L436.4,962.50 L436.9,962.50 L437.4,962.50 L437.9,962.50 L438.4,962.50 L438.9,962.50 L439.4,962.50 L439.9,962.50 L440.4,962.50 L440.9,962.50 L441.4,962.50 L441.9,962.50 L442.4,962.50 L442.9,962.50 L443.4,962.50 L443.9,962.50 L444.4,962.50 L444.9,962.50 L445.4,962.50 L445.9,962.50 L446.4,962.50 L446.9,962.50 L447.4,962.50 L447.9,962.50 L448.4,962.50 L448.9,962.50 L449.4,962.50 L449.9,962.50" fill="none" stroke="#3c3c3c" stroke-width="1.15" stroke-linejoin="round"/>
<line x1="395.7" y1="865.9" x2="395.7" y2="962.5" stroke="#8a8a8a" stroke-width="0.8" stroke-dasharray="2.6,1.8"/>
</g>
<rect x="353.9" y="864.9" width="96.40000000000003" height="97.60000000000002" fill="none" stroke="#111" stroke-width="1.7"/>
<path d="M357.9,963.3v2.4M363.6,963.3v1.6M367.0,963.3v1.6M369.3,963.3v1.6M371.2,963.3v1.6M372.7,963.3v1.6M374.0,963.3v1.6M375.1,963.3v1.6M376.0,963.3v1.6M376.9,963.3v2.4M382.6,963.3v1.6M386.0,963.3v1.6M388.3,963.3v1.6M390.2,963.3v1.6M391.7,963.3v1.6M393.0,963.3v1.6M394.1,963.3v1.6M395.0,963.3v1.6M395.9,963.3v2.4M401.6,963.3v1.6M405.0,963.3v1.6M407.3,963.3v1.6M409.2,963.3v1.6M410.7,963.3v1.6M412.0,963.3v1.6M413.1,963.3v1.6M414.0,963.3v1.6M414.9,963.3v2.4M420.6,963.3v1.6M424.0,963.3v1.6M426.3,963.3v1.6M428.2,963.3v1.6M429.7,963.3v1.6M431.0,963.3v1.6M432.1,963.3v1.6M433.0,963.3v1.6M433.9,963.3v2.4M439.6,963.3v1.6M443.0,963.3v1.6M445.3,963.3v1.6M447.2,963.3v1.6" stroke="#333" stroke-width="0.7"/>
<text x="447.1" y="888.5" font-size="9.05" text-anchor="end" fill="#222" stroke="#222" stroke-width="0.12">100.0</text>
<text x="447.1" y="938.8" font-size="9.05" text-anchor="end" fill="#222" stroke="#222" stroke-width="0.12">0.9</text>
<clipPath id="gc13"><rect x="457.8" y="864.9" width="96.99999999999994" height="97.60000000000002"/></clipPath><g clip-path="url(#gc13)">
<path d="M501.8,904.8 L501.8,904.50 L502.3,904.39 L502.8,904.24 L503.3,904.07 L503.8,903.86 L504.3,903.63 L504.8,903.38 L505.3,903.13 L505.8,902.88 L506.3,902.66 L506.8,902.47 L507.3,902.33 L507.8,902.23 L508.3,902.18 L508.8,902.15 L509.3,902.12 L509.8,902.05 L510.3,901.88 L510.8,901.56 L511.3,901.02 L511.8,900.19 L512.3,899.03 L512.8,897.50 L513.3,895.61 L513.8,893.39 L514.3,890.95 L514.8,888.39 L515.3,885.90 L515.8,883.63 L516.3,881.75 L516.8,880.40 L517.3,879.66 L517.8,879.53 L518.3,879.96 L518.8,880.82 L519.3,881.97 L519.8,883.25 L520.3,884.50 L520.8,885.62 L521.3,886.57 L521.8,887.34 L522.3,888.00 L522.8,888.63 L523.3,889.30 L523.8,890.11 L524.3,891.08 L524.8,892.23 L525.3,893.53 L525.8,894.92 L526.3,896.34 L526.8,897.72 L527.3,898.98 L527.8,900.09 L528.3,901.02 L528.8,901.76 L529.3,902.32 L529.8,902.73 L530.3,903.02 L530.8,903.22 L531.3,903.35 L531.8,903.44 L532.3,903.51 L532.8,903.57 L533.3,903.63 L533.8,903.70 L534.3,903.78 L534.8,903.86 L535.3,903.94 L535.8,904.03 L536.3,904.13 L536.8,904.22 L537.3,904.30 L537.8,904.38 L538.3,904.45 L538.8,904.52 L538.8,904.8 Z" fill="#a7ccf1"/><path d="M457.8,904.80 L458.3,904.80 L458.8,904.80 L459.3,904.80 L459.8,904.80 L460.3,904.80 L460.8,904.80 L461.3,904.80 L461.8,904.80 L462.3,904.80 L462.8,904.80 L463.3,904.80 L463.8,904.80 L464.3,904.80 L464.8,904.80 L465.3,904.80 L465.8,904.80 L466.3,904.80 L466.8,904.80 L467.3,904.80 L467.8,904.80 L468.3,904.80 L468.8,904.80 L469.3,904.80 L469.8,904.80 L470.3,904.80 L470.8,904.80 L471.3,904.80 L471.8,904.80 L472.3,904.80 L472.8,904.80 L473.3,904.80 L473.8,904.80 L474.3,904.80 L474.8,904.80 L475.3,904.80 L475.8,904.80 L476.3,904.80 L476.8,904.80 L477.3,904.80 L477.8,904.80 L478.3,904.80 L478.8,904.80 L479.3,904.80 L479.8,904.80 L480.3,904.80 L480.8,904.80 L481.3,904.80 L481.8,904.80 L482.3,904.80 L482.8,904.80 L483.3,904.80 L483.8,904.80 L484.3,904.80 L484.8,904.80 L485.3,904.80 L485.8,904.80 L486.3,904.80 L486.8,904.80 L487.3,904.80 L487.8,904.80 L488.3,904.80 L488.8,904.80 L489.3,904.80 L489.8,904.80 L490.3,904.80 L490.8,904.80 L491.3,904.80 L491.8,904.80 L492.3,904.80 L492.8,904.80 L493.3,904.80 L493.8,904.80 L494.3,904.80 L494.8,904.80 L495.3,904.80 L495.8,904.80 L496.3,904.80 L496.8,904.80 L497.3,904.80 L497.8,904.79 L498.3,904.79 L498.8,904.78 L499.3,904.76 L499.8,904.74 L500.3,904.71 L500.8,904.66 L501.3,904.59 L501.8,904.50 L502.3,904.39 L502.8,904.24 L503.3,904.07 L503.8,903.86 L504.3,903.63 L504.8,903.38 L505.3,903.13 L505.8,902.88 L506.3,902.66 L506.8,902.47 L507.3,902.33 L507.8,902.23 L508.3,902.18 L508.8,902.15 L509.3,902.12 L509.8,902.05 L510.3,901.88 L510.8,901.56 L511.3,901.02 L511.8,900.19 L512.3,899.03 L512.8,897.50 L513.3,895.61 L513.8,893.39 L514.3,890.95 L514.8,888.39 L515.3,885.90 L515.8,883.63 L516.3,881.75 L516.8,880.40 L517.3,879.66 L517.8,879.53 L518.3,879.96 L518.8,880.82 L519.3,881.97 L519.8,883.25 L520.3,884.50 L520.8,885.62 L521.3,886.57 L521.8,887.34 L522.3,888.00 L522.8,888.63 L523.3,889.30 L523.8,890.11 L524.3,891.08 L524.8,892.23 L525.3,893.53 L525.8,894.92 L526.3,896.34 L526.8,897.72 L527.3,898.98 L527.8,900.09 L528.3,901.02 L528.8,901.76 L529.3,902.32 L529.8,902.73 L530.3,903.02 L530.8,903.22 L531.3,903.35 L531.8,903.44 L532.3,903.51 L532.8,903.57 L533.3,903.63 L533.8,903.70 L534.3,903.78 L534.8,903.86 L535.3,903.94 L535.8,904.03 L536.3,904.13 L536.8,904.22 L537.3,904.30 L537.8,904.38 L538.3,904.45 L538.8,904.52 L539.3,904.57 L539.8,904.62 L540.3,904.66 L540.8,904.69 L541.3,904.72 L541.8,904.74 L542.3,904.76 L542.8,904.77 L543.3,904.78 L543.8,904.78 L544.3,904.79 L544.8,904.79 L545.3,904.80 L545.8,904.80 L546.3,904.80 L546.8,904.80 L547.3,904.80 L547.8,904.80 L548.3,904.80 L548.8,904.80 L549.3,904.80 L549.8,904.80 L550.3,904.80 L550.8,904.80 L551.3,904.80 L551.8,904.80 L552.3,904.80 L552.8,904.80 L553.3,904.80 L553.8,904.80 L554.3,904.80 L554.8,904.80" fill="none" stroke="#3b7be2" stroke-width="1.15" stroke-linejoin="round"/>
<path d="M484.8,924.0 L484.8,923.73 L485.3,923.50 L485.8,923.12 L486.3,922.52 L486.8,921.60 L487.3,920.28 L487.8,918.48 L488.3,916.15 L488.8,913.31 L489.3,910.08 L489.8,906.63 L490.3,903.24 L490.8,900.25 L491.3,897.99 L491.8,896.71 L492.3,896.60 L492.8,897.65 L493.3,899.73 L493.8,902.60 L494.3,905.93 L494.8,909.39 L495.3,912.69 L495.8,915.62 L496.3,918.05 L496.8,919.96 L497.3,921.37 L497.8,922.36 L498.3,923.02 L498.8,923.44 L499.3,923.69 L499.3,924.0 Z" fill="#d8d8d8"/><path d="M457.8,924.00 L458.3,924.00 L458.8,924.00 L459.3,924.00 L459.8,924.00 L460.3,924.00 L460.8,924.00 L461.3,924.00 L461.8,924.00 L462.3,924.00 L462.8,924.00 L463.3,924.00 L463.8,924.00 L464.3,924.00 L464.8,924.00 L465.3,924.00 L465.8,924.00 L466.3,924.00 L466.8,924.00 L467.3,924.00 L467.8,924.00 L468.3,924.00 L468.8,924.00 L469.3,924.00 L469.8,924.00 L470.3,924.00 L470.8,924.00 L471.3,924.00 L471.8,924.00 L472.3,924.00 L472.8,924.00 L473.3,924.00 L473.8,924.00 L474.3,924.00 L474.8,924.00 L475.3,924.00 L475.8,924.00 L476.3,924.00 L476.8,924.00 L477.3,924.00 L477.8,924.00 L478.3,924.00 L478.8,924.00 L479.3,924.00 L479.8,924.00 L480.3,924.00 L480.8,924.00 L481.3,924.00 L481.8,924.00 L482.3,923.99 L482.8,923.98 L483.3,923.97 L483.8,923.93 L484.3,923.86 L484.8,923.73 L485.3,923.50 L485.8,923.12 L486.3,922.52 L486.8,921.60 L487.3,920.28 L487.8,918.48 L488.3,916.15 L488.8,913.31 L489.3,910.08 L489.8,906.63 L490.3,903.24 L490.8,900.25 L491.3,897.99 L491.8,896.71 L492.3,896.60 L492.8,897.65 L493.3,899.73 L493.8,902.60 L494.3,905.93 L494.8,909.39 L495.3,912.69 L495.8,915.62 L496.3,918.05 L496.8,919.96 L497.3,921.37 L497.8,922.36 L498.3,923.02 L498.8,923.44 L499.3,923.69 L499.8,923.84 L500.3,923.92 L500.8,923.96 L501.3,923.98 L501.8,923.99 L502.3,924.00 L502.8,924.00 L503.3,924.00 L503.8,924.00 L504.3,924.00 L504.8,924.00 L505.3,924.00 L505.8,924.00 L506.3,924.00 L506.8,924.00 L507.3,924.00 L507.8,924.00 L508.3,924.00 L508.8,924.00 L509.3,924.00 L509.8,924.00 L510.3,924.00 L510.8,924.00 L511.3,924.00 L511.8,924.00 L512.3,924.00 L512.8,924.00 L513.3,924.00 L513.8,924.00 L514.3,924.00 L514.8,924.00 L515.3,924.00 L515.8,924.00 L516.3,924.00 L516.8,924.00 L517.3,924.00 L517.8,924.00 L518.3,924.00 L518.8,924.00 L519.3,924.00 L519.8,924.00 L520.3,924.00 L520.8,924.00 L521.3,924.00 L521.8,924.00 L522.3,924.00 L522.8,924.00 L523.3,924.00 L523.8,924.00 L524.3,924.00 L524.8,924.00 L525.3,924.00 L525.8,924.00 L526.3,924.00 L526.8,924.00 L527.3,924.00 L527.8,924.00 L528.3,924.00 L528.8,924.00 L529.3,924.00 L529.8,924.00 L530.3,924.00 L530.8,924.00 L531.3,924.00 L531.8,924.00 L532.3,924.00 L532.8,924.00 L533.3,924.00 L533.8,924.00 L534.3,924.00 L534.8,924.00 L535.3,924.00 L535.8,924.00 L536.3,924.00 L536.8,924.00 L537.3,924.00 L537.8,924.00 L538.3,924.00 L538.8,924.00 L539.3,924.00 L539.8,924.00 L540.3,924.00 L540.8,924.00 L541.3,924.00 L541.8,924.00 L542.3,924.00 L542.8,924.00 L543.3,924.00 L543.8,924.00 L544.3,924.00 L544.8,924.00 L545.3,924.00 L545.8,924.00 L546.3,924.00 L546.8,924.00 L547.3,924.00 L547.8,924.00 L548.3,924.00 L548.8,924.00 L549.3,924.00 L549.8,924.00 L550.3,924.00 L550.8,924.00 L551.3,924.00 L551.8,924.00 L552.3,924.00 L552.8,924.00 L553.3,924.00 L553.8,924.00 L554.3,924.00 L554.8,924.00" fill="none" stroke="#a3a3a3" stroke-width="1.15" stroke-linejoin="round"/>
<path d="M498.8,943.4 L498.8,943.14 L499.3,942.95 L499.8,942.63 L500.3,942.14 L500.8,941.39 L501.3,940.32 L501.8,938.83 L502.3,936.85 L502.8,934.32 L503.3,931.25 L503.8,927.69 L504.3,923.77 L504.8,919.69 L505.3,915.73 L505.8,912.21 L506.3,909.41 L506.8,907.62 L507.3,907.00 L507.8,907.62 L508.3,909.41 L508.8,912.21 L509.3,915.73 L509.8,919.69 L510.3,923.77 L510.8,927.69 L511.3,931.25 L511.8,934.32 L512.3,936.85 L512.8,938.83 L513.3,940.32 L513.8,941.39 L514.3,942.14 L514.8,942.63 L515.3,942.95 L515.8,943.14 L515.8,943.4 Z" fill="#a32a34" fill-opacity="0.55"/><path d="M457.8,943.40 L458.3,943.40 L458.8,943.40 L459.3,943.40 L459.8,943.40 L460.3,943.40 L460.8,943.40 L461.3,943.40 L461.8,943.40 L462.3,943.40 L462.8,943.40 L463.3,943.40 L463.8,943.40 L464.3,943.40 L464.8,943.40 L465.3,943.40 L465.8,943.40 L466.3,943.40 L466.8,943.40 L467.3,943.40 L467.8,943.40 L468.3,943.40 L468.8,943.40 L469.3,943.40 L469.8,943.40 L470.3,943.40 L470.8,943.40 L471.3,943.40 L471.8,943.40 L472.3,943.40 L472.8,943.40 L473.3,943.40 L473.8,943.40 L474.3,943.40 L474.8,943.40 L475.3,943.40 L475.8,943.40 L476.3,943.40 L476.8,943.40 L477.3,943.40 L477.8,943.40 L478.3,943.40 L478.8,943.40 L479.3,943.40 L479.8,943.40 L480.3,943.40 L480.8,943.40 L481.3,943.40 L481.8,943.40 L482.3,943.40 L482.8,943.40 L483.3,943.40 L483.8,943.40 L484.3,943.40 L484.8,943.40 L485.3,943.40 L485.8,943.40 L486.3,943.40 L486.8,943.40 L487.3,943.40 L487.8,943.40 L488.3,943.40 L488.8,943.40 L489.3,943.40 L489.8,943.40 L490.3,943.40 L490.8,943.40 L491.3,943.40 L491.8,943.40 L492.3,943.40 L492.8,943.40 L493.3,943.40 L493.8,943.40 L494.3,943.40 L494.8,943.40 L495.3,943.40 L495.8,943.40 L496.3,943.39 L496.8,943.38 L497.3,943.36 L497.8,943.33 L498.3,943.26 L498.8,943.14 L499.3,942.95 L499.8,942.63 L500.3,942.14 L500.8,941.39 L501.3,940.32 L501.8,938.83 L502.3,936.85 L502.8,934.32 L503.3,931.25 L503.8,927.69 L504.3,923.77 L504.8,919.69 L505.3,915.73 L505.8,912.21 L506.3,909.41 L506.8,907.62 L507.3,907.00 L507.8,907.62 L508.3,909.41 L508.8,912.21 L509.3,915.73 L509.8,919.69 L510.3,923.77 L510.8,927.69 L511.3,931.25 L511.8,934.32 L512.3,936.85 L512.8,938.83 L513.3,940.32 L513.8,941.39 L514.3,942.14 L514.8,942.63 L515.3,942.95 L515.8,943.14 L516.3,943.26 L516.8,943.33 L517.3,943.36 L517.8,943.38 L518.3,943.39 L518.8,943.40 L519.3,943.40 L519.8,943.40 L520.3,943.40 L520.8,943.40 L521.3,943.40 L521.8,943.40 L522.3,943.40 L522.8,943.40 L523.3,943.40 L523.8,943.40 L524.3,943.40 L524.8,943.40 L525.3,943.40 L525.8,943.40 L526.3,943.40 L526.8,943.40 L527.3,943.40 L527.8,943.40 L528.3,943.40 L528.8,943.40 L529.3,943.40 L529.8,943.40 L530.3,943.40 L530.8,943.40 L531.3,943.40 L531.8,943.40 L532.3,943.40 L532.8,943.40 L533.3,943.40 L533.8,943.40 L534.3,943.40 L534.8,943.40 L535.3,943.40 L535.8,943.40 L536.3,943.40 L536.8,943.40 L537.3,943.40 L537.8,943.40 L538.3,943.40 L538.8,943.40 L539.3,943.40 L539.8,943.40 L540.3,943.40 L540.8,943.40 L541.3,943.40 L541.8,943.40 L542.3,943.40 L542.8,943.40 L543.3,943.40 L543.8,943.40 L544.3,943.40 L544.8,943.40 L545.3,943.40 L545.8,943.40 L546.3,943.40 L546.8,943.40 L547.3,943.40 L547.8,943.40 L548.3,943.40 L548.8,943.40 L549.3,943.40 L549.8,943.40 L550.3,943.40 L550.8,943.40 L551.3,943.40 L551.8,943.40 L552.3,943.40 L552.8,943.40 L553.3,943.40 L553.8,943.40 L554.3,943.40 L554.8,943.40" fill="none" stroke="#9c2224" stroke-width="1.15" stroke-linejoin="round"/>
<path d="M486.3,962.5 L486.3,962.17 L486.8,961.94 L487.3,961.59 L487.8,961.07 L488.3,960.32 L488.8,959.26 L489.3,957.83 L489.8,955.96 L490.3,953.62 L490.8,950.80 L491.3,947.52 L491.8,943.89 L492.3,940.06 L492.8,936.23 L493.3,932.65 L493.8,929.57 L494.3,927.24 L494.8,925.85 L495.3,925.52 L495.8,926.28 L496.3,928.07 L496.8,930.72 L497.3,934.03 L497.8,937.75 L498.3,941.60 L498.8,945.38 L499.3,948.88 L499.8,951.98 L500.3,954.62 L500.8,956.77 L501.3,958.45 L501.8,959.72 L502.3,960.65 L502.8,961.31 L503.3,961.75 L503.8,962.04 L504.3,962.23 L504.3,962.5 Z" fill="#b3b3b3"/><path d="M457.8,962.50 L458.3,962.50 L458.8,962.50 L459.3,962.50 L459.8,962.50 L460.3,962.50 L460.8,962.50 L461.3,962.50 L461.8,962.50 L462.3,962.50 L462.8,962.50 L463.3,962.50 L463.8,962.50 L464.3,962.50 L464.8,962.50 L465.3,962.50 L465.8,962.50 L466.3,962.50 L466.8,962.50 L467.3,962.50 L467.8,962.50 L468.3,962.50 L468.8,962.50 L469.3,962.50 L469.8,962.50 L470.3,962.50 L470.8,962.50 L471.3,962.50 L471.8,962.50 L472.3,962.50 L472.8,962.50 L473.3,962.50 L473.8,962.50 L474.3,962.50 L474.8,962.50 L475.3,962.50 L475.8,962.50 L476.3,962.50 L476.8,962.50 L477.3,962.50 L477.8,962.50 L478.3,962.50 L478.8,962.50 L479.3,962.50 L479.8,962.50 L480.3,962.50 L480.8,962.50 L481.3,962.50 L481.8,962.50 L482.3,962.50 L482.8,962.50 L483.3,962.49 L483.8,962.48 L484.3,962.47 L484.8,962.44 L485.3,962.39 L485.8,962.31 L486.3,962.17 L486.8,961.94 L487.3,961.59 L487.8,961.07 L488.3,960.32 L488.8,959.26 L489.3,957.83 L489.8,955.96 L490.3,953.62 L490.8,950.80 L491.3,947.52 L491.8,943.89 L492.3,940.06 L492.8,936.23 L493.3,932.65 L493.8,929.57 L494.3,927.24 L494.8,925.85 L495.3,925.52 L495.8,926.28 L496.3,928.07 L496.8,930.72 L497.3,934.03 L497.8,937.75 L498.3,941.60 L498.8,945.38 L499.3,948.88 L499.8,951.98 L500.3,954.62 L500.8,956.77 L501.3,958.45 L501.8,959.72 L502.3,960.65 L502.8,961.31 L503.3,961.75 L503.8,962.04 L504.3,962.23 L504.8,962.35 L505.3,962.41 L505.8,962.45 L506.3,962.48 L506.8,962.49 L507.3,962.49 L507.8,962.50 L508.3,962.50 L508.8,962.50 L509.3,962.50 L509.8,962.50 L510.3,962.50 L510.8,962.50 L511.3,962.50 L511.8,962.50 L512.3,962.50 L512.8,962.50 L513.3,962.50 L513.8,962.50 L514.3,962.50 L514.8,962.50 L515.3,962.50 L515.8,962.50 L516.3,962.50 L516.8,962.50 L517.3,962.50 L517.8,962.50 L518.3,962.50 L518.8,962.50 L519.3,962.50 L519.8,962.50 L520.3,962.50 L520.8,962.50 L521.3,962.50 L521.8,962.50 L522.3,962.50 L522.8,962.50 L523.3,962.50 L523.8,962.50 L524.3,962.50 L524.8,962.50 L525.3,962.50 L525.8,962.50 L526.3,962.50 L526.8,962.50 L527.3,962.50 L527.8,962.50 L528.3,962.50 L528.8,962.50 L529.3,962.50 L529.8,962.50 L530.3,962.50 L530.8,962.50 L531.3,962.50 L531.8,962.50 L532.3,962.50 L532.8,962.50 L533.3,962.50 L533.8,962.50 L534.3,962.50 L534.8,962.50 L535.3,962.50 L535.8,962.50 L536.3,962.50 L536.8,962.50 L537.3,962.50 L537.8,962.50 L538.3,962.50 L538.8,962.50 L539.3,962.50 L539.8,962.50 L540.3,962.50 L540.8,962.50 L541.3,962.50 L541.8,962.50 L542.3,962.50 L542.8,962.50 L543.3,962.50 L543.8,962.50 L544.3,962.50 L544.8,962.50 L545.3,962.50 L545.8,962.50 L546.3,962.50 L546.8,962.50 L547.3,962.50 L547.8,962.50 L548.3,962.50 L548.8,962.50 L549.3,962.50 L549.8,962.50 L550.3,962.50 L550.8,962.50 L551.3,962.50 L551.8,962.50 L552.3,962.50 L552.8,962.50 L553.3,962.50 L553.8,962.50 L554.3,962.50 L554.8,962.50" fill="none" stroke="#3c3c3c" stroke-width="1.15" stroke-linejoin="round"/>
<line x1="510.4" y1="865.9" x2="510.4" y2="962.5" stroke="#8a8a8a" stroke-width="0.8" stroke-dasharray="2.6,1.8"/>
</g>
<rect x="457.8" y="864.9" width="96.99999999999994" height="97.60000000000002" fill="none" stroke="#111" stroke-width="1.7"/>
<path d="M461.8,963.3v2.4M467.5,963.3v1.6M470.9,963.3v1.6M473.2,963.3v1.6M475.1,963.3v1.6M476.6,963.3v1.6M477.9,963.3v1.6M479.0,963.3v1.6M479.9,963.3v1.6M480.8,963.3v2.4M486.5,963.3v1.6M489.9,963.3v1.6M492.2,963.3v1.6M494.1,963.3v1.6M495.6,963.3v1.6M496.9,963.3v1.6M498.0,963.3v1.6M498.9,963.3v1.6M499.8,963.3v2.4M505.5,963.3v1.6M508.9,963.3v1.6M511.2,963.3v1.6M513.1,963.3v1.6M514.6,963.3v1.6M515.9,963.3v1.6M517.0,963.3v1.6M517.9,963.3v1.6M518.8,963.3v2.4M524.5,963.3v1.6M527.9,963.3v1.6M530.2,963.3v1.6M532.1,963.3v1.6M533.6,963.3v1.6M534.9,963.3v1.6M536.0,963.3v1.6M536.9,963.3v1.6M537.8,963.3v2.4M543.5,963.3v1.6M546.9,963.3v1.6M549.2,963.3v1.6M551.1,963.3v1.6M552.6,963.3v1.6" stroke="#333" stroke-width="0.7"/>
<text x="551.5999999999999" y="888.5" font-size="9.05" text-anchor="end" fill="#222" stroke="#222" stroke-width="0.12">99.2</text>
<text x="551.5999999999999" y="938.8" font-size="9.05" text-anchor="end" fill="#222" stroke="#222" stroke-width="0.12">26.3</text>
<line x1="137.8" y1="920.0" x2="137.8" y2="764.5" stroke="#111" stroke-width="1.1"/><path d="M137.8,759.0L140.8,765.0L134.8,765.0Z" fill="#111"/>
<text x="140.7" y="961.5" font-size="11.82" fill="#1a1a1a" stroke="#1a1a1a" stroke-width="0.25" transform="rotate(-90 140.7 961.5)">Counts</text>
<text x="114.6" y="811.9" font-size="11.82" text-anchor="middle" fill="#1a1a1a" stroke="#1a1a1a" stroke-width="0.25">HP</text>
<text x="115.6" y="909.5" font-size="11.82" text-anchor="middle" fill="#1a1a1a" stroke="#1a1a1a" stroke-width="0.25">GDM</text>
<text x="145.4" y="978.6" font-size="11.82" fill="#1a1a1a" stroke="#1a1a1a" stroke-width="0.25">CD10</text>
<line x1="177.0" y1="974.4" x2="236.3" y2="974.4" stroke="#111" stroke-width="1"/><path d="M241.8,974.4L235.8,977.2L235.8,971.6Z" fill="#111"/>
<text x="250" y="978.6" font-size="11.82" fill="#1a1a1a" stroke="#1a1a1a" stroke-width="0.25">Ig κ</text>
<line x1="275.1" y1="974.4" x2="333.9" y2="974.4" stroke="#111" stroke-width="1"/><path d="M339.4,974.4L333.4,977.2L333.4,971.6Z" fill="#111"/>
<text x="353.8" y="978.6" font-size="11.82" fill="#1a1a1a" stroke="#1a1a1a" stroke-width="0.25">CD49d</text>
<line x1="393.4" y1="974.4" x2="442.3" y2="974.4" stroke="#111" stroke-width="1"/><path d="M447.8,974.4L441.8,977.2L441.8,971.6Z" fill="#111"/>
<text x="456.4" y="978.6" font-size="11.82" fill="#1a1a1a" stroke="#1a1a1a" stroke-width="0.25">CD63</text>
<line x1="489.9" y1="974.4" x2="545.4" y2="974.4" stroke="#111" stroke-width="1"/><path d="M550.9,974.4L544.9,977.2L544.9,971.6Z" fill="#111"/>
<rect x="564.4" y="765.6" width="6" height="5" rx="0.8" fill="#a7ccf1" stroke="#3b7be2" stroke-width="1"/>
<text x="573" y="771.1" font-size="9.15" fill="#222" stroke="#222" stroke-width="0.12">LDN</text>
<rect x="564.4" y="777.9" width="6" height="5" rx="0.8" fill="#d8d8d8" stroke="#a3a3a3" stroke-width="1"/>
<text x="573" y="783.3000000000001" font-size="9.15" fill="#222" stroke="#222" stroke-width="0.12">LDN-Isotype</text>
<rect x="564.4" y="790.2" width="6" height="5" rx="0.8" fill="#c78a8c" stroke="#9c2224" stroke-width="1"/>
<text x="573" y="795.5" font-size="9.15" fill="#222" stroke="#222" stroke-width="0.12">HDN</text>
<rect x="564.4" y="802.5" width="6" height="5" rx="0.8" fill="#b3b3b3" stroke="#3c3c3c" stroke-width="1"/>
<text x="573" y="807.7" font-size="9.15" fill="#222" stroke="#222" stroke-width="0.12">HDN-Isotype</text>
</svg>
</body></html>
